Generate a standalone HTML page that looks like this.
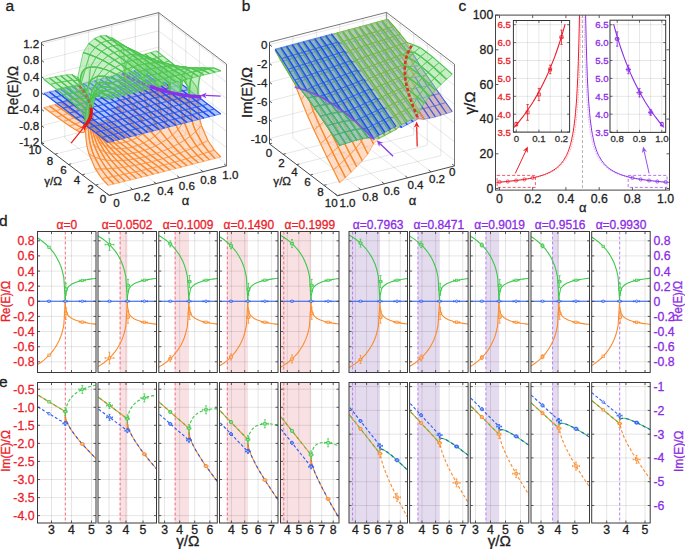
<!DOCTYPE html>
<html><head><meta charset="utf-8"><style>
html,body{margin:0;padding:0;background:#fff;}
svg{display:block;font-family:"Liberation Sans",sans-serif;} text{stroke-width:0.3px;}
</style></head><body>
<svg width="685" height="549" viewBox="0 0 685 549">
<rect width="685" height="549" fill="#fff"/>
<style>.fg{fill:#8ee08e;fill-opacity:.5}.ag{fill:none;stroke:#4cc44e;stroke-width:1.2}.gg{fill:none;stroke:#4cc44e;stroke-width:.9;stroke-opacity:.75}.fb{fill:#4a78f4;fill-opacity:.44}.ab{fill:none;stroke:#2050f0;stroke-width:1.2}.gb{fill:none;stroke:#2455ee;stroke-width:.9;stroke-opacity:.6}.fo{fill:#ffac78;fill-opacity:.42}.ao{fill:none;stroke:#fb8a2c;stroke-width:1.2}.go{fill:none;stroke:#fb8a2c;stroke-width:.9;stroke-opacity:.6}.fo2{fill:#ffac78;fill-opacity:.45}</style>
<path d="M64.9,138L64.9,36.3M88.4,132.1L88.4,30.3M111.8,126.1L111.8,24.4M135.3,120.2L135.3,18.5M41.5,142.1L158.7,112.5M41.5,125.7L158.7,96.1M41.5,109.4L158.7,79.8M41.5,93L158.7,63.4M41.5,76.7L158.7,47.1M41.5,60.4L158.7,30.8M41.5,44L158.7,14.4M212.9,155.5L212.9,53.8M199.4,145.2L199.4,43.5M185.8,134.9L185.8,33.2M172.3,124.6L172.3,22.9M226.5,164L158.7,112.5M226.5,147.6L158.7,96.1M226.5,131.3L158.7,79.8M226.5,114.9L158.7,63.4M226.5,98.6L158.7,47.1M226.5,82.3L158.7,30.8M226.5,65.9L158.7,14.4M132.7,189.5L64.9,138M156.2,183.6L88.4,132.1M179.6,177.6L111.8,126.1M203.1,171.7L135.3,120.2M95.7,185.1L212.9,155.5M82.2,174.8L199.4,145.2M68.6,164.5L185.8,134.9M55.1,154.2L172.3,124.6" stroke="#000" stroke-opacity="0.14" stroke-width="0.7" fill="none"/>
<path d="M158.7,114.3L158.7,12.6" stroke="#999" stroke-width="1.3" fill="none"/>
<path d="M41.5,42.2L158.7,12.6L226.5,64.1L226.5,165.8" stroke="#555" stroke-width="0.8" fill="none"/>
<path class="fo" d="M157.2,85.2 150.7,80.4 156.4,79.2 162.8,83.9Z"/>
<path class="ao" d="M157.2,85.2 150.7,80.4M162.8,83.9 156.4,79.2"/>
<path class="go" d="M157.2,85.2 162.8,83.9M150.7,80.4 156.4,79.2"/>
<path class="fo" d="M151.5,86.3 145.1,81.6 150.7,80.4 157.2,85.2Z"/>
<path class="ao" d="M151.5,86.3 145.1,81.6M157.2,85.2 150.7,80.4"/>
<path class="go" d="M151.5,86.3 157.2,85.2M145.1,81.6 150.7,80.4"/>
<path class="fo" d="M145.9,87.3 139.5,82.7 145.1,81.6 151.5,86.3Z"/>
<path class="ao" d="M145.9,87.3 139.5,82.7M151.5,86.3 145.1,81.6"/>
<path class="go" d="M145.9,87.3 151.5,86.3M139.5,82.7 145.1,81.6"/>
<path class="fb" d="M157.2,71.3 150.7,66.5 156.4,65 162.8,69.9Z"/>
<path class="ab" d="M157.2,71.3 150.7,66.5M162.8,69.9 156.4,65"/>
<path class="gb" d="M157.2,71.3 162.8,69.9M150.7,66.5 156.4,65"/>
<path class="fo" d="M140.3,88 133.9,83.6 139.5,82.7 145.9,87.3Z"/>
<path class="ao" d="M140.3,88 133.9,83.6M145.9,87.3 139.5,82.7"/>
<path class="go" d="M140.3,88 145.9,87.3M133.9,83.6 139.5,82.7"/>
<path class="fo" d="M117.8,120.9 111.4,115.1 117,105.9 123.4,113.7Z"/>
<path class="ao" d="M117.8,120.9 111.4,115.1M123.4,113.7 117,105.9"/>
<path class="go" d="M117.8,120.9 123.4,113.7M111.4,115.1 117,105.9"/>
<path class="fb" d="M151.5,72.8 145.1,67.9 150.7,66.5 157.2,71.3Z"/>
<path class="ab" d="M151.5,72.8 145.1,67.9M157.2,71.3 150.7,66.5"/>
<path class="gb" d="M151.5,72.8 157.2,71.3M145.1,67.9 150.7,66.5"/>
<path class="fo" d="M112.2,125.1 105.7,120 111.4,115.1 117.8,120.9Z"/>
<path class="ao" d="M112.2,125.1 105.7,120M117.8,120.9 111.4,115.1"/>
<path class="go" d="M112.2,125.1 117.8,120.9M105.7,120 111.4,115.1"/>
<path class="fo" d="M163.6,89.8 157.2,85.2 162.8,83.9 169.2,88.6Z"/>
<path class="ao" d="M163.6,89.8 157.2,85.2M169.2,88.6 162.8,83.9"/>
<path class="go" d="M163.6,89.8 169.2,88.6M157.2,85.2 162.8,83.9"/>
<path class="fo" d="M106.5,127.4 100.1,122.5 105.7,120 112.2,125.1Z"/>
<path class="ao" d="M106.5,127.4 100.1,122.5M112.2,125.1 105.7,120"/>
<path class="go" d="M106.5,127.4 112.2,125.1M100.1,122.5 105.7,120"/>
<path class="fo" d="M134.7,87.7 128.2,83.9 133.9,83.6 140.3,88Z"/>
<path class="ao" d="M134.7,87.7 128.2,83.9M140.3,88 133.9,83.6"/>
<path class="go" d="M134.7,87.7 140.3,88M128.2,83.9 133.9,83.6"/>
<path class="fb" d="M145.9,74.2 139.5,69.3 145.1,67.9 151.5,72.8Z"/>
<path class="ab" d="M145.9,74.2 139.5,69.3M151.5,72.8 145.1,67.9"/>
<path class="gb" d="M145.9,74.2 151.5,72.8M139.5,69.3 145.1,67.9"/>
<path class="fo" d="M158,90.8 151.5,86.3 157.2,85.2 163.6,89.8Z"/>
<path class="ao" d="M158,90.8 151.5,86.3M163.6,89.8 157.2,85.2"/>
<path class="go" d="M158,90.8 163.6,89.8M151.5,86.3 157.2,85.2"/>
<path class="fo" d="M123.4,113.7 117,105.9 122.6,81.2 123.4,81.1 124.1,80.8 124.5,80.3 124.9,79.5 125,78.3 125.1,75.4Z"/>
<path class="ao" d="M123.4,113.7 117,105.9M125.1,75.4 125,78.3 124.9,79.5 124.5,80.3 124.1,80.8 123.4,81.1 122.6,81.2"/>
<path class="go" d="M123.4,113.7 125.1,75.4M117,105.9 122.6,81.2"/>
<path class="fg" d="M157.2,57.5 150.7,52.5 156.4,50.9 162.8,55.9Z"/>
<path class="ag" d="M157.2,57.5 150.7,52.5M162.8,55.9 156.4,50.9"/>
<path class="gg" d="M157.2,57.5 162.8,55.9M150.7,52.5 156.4,50.9"/>
<path class="fo" d="M100.9,128 94.5,122.9 100.1,122.5 106.5,127.4Z"/>
<path class="ao" d="M100.9,128 94.5,122.9M106.5,127.4 100.1,122.5"/>
<path class="go" d="M100.9,128 106.5,127.4M94.5,122.9 100.1,122.5"/>
<path class="fb" d="M140.3,75.6 133.9,70.7 139.5,69.3 145.9,74.2Z"/>
<path class="ab" d="M140.3,75.6 133.9,70.7M145.9,74.2 139.5,69.3"/>
<path class="gb" d="M140.3,75.6 145.9,74.2M133.9,70.7 139.5,69.3"/>
<path class="fo" d="M125.1,75.4 125,78.3 124.9,79.5 124.5,80.3 124.1,80.8 123.4,81.1 122.6,81.2 128.2,83.9 134.7,87.7Z"/>
<path class="ao" d="M125.1,75.4 125,78.3 124.9,79.5 124.5,80.3 124.1,80.8 123.4,81.1 122.6,81.2M134.7,87.7 128.2,83.9"/>
<path class="go" d="M125.1,75.4 134.7,87.7M122.6,81.2 128.2,83.9"/>
<path class="fo" d="M152.4,91.7 145.9,87.3 151.5,86.3 158,90.8Z"/>
<path class="ao" d="M152.4,91.7 145.9,87.3M158,90.8 151.5,86.3"/>
<path class="go" d="M152.4,91.7 158,90.8M145.9,87.3 151.5,86.3"/>
<path class="fg" d="M151.5,59.2 145.1,54.1 150.7,52.5 157.2,57.5Z"/>
<path class="ag" d="M151.5,59.2 145.1,54.1M157.2,57.5 150.7,52.5"/>
<path class="gg" d="M151.5,59.2 157.2,57.5M145.1,54.1 150.7,52.5"/>
<path class="fb" d="M163.6,76.2 157.2,71.3 162.8,69.9 169.2,74.8Z"/>
<path class="ab" d="M163.6,76.2 157.2,71.3M169.2,74.8 162.8,69.9"/>
<path class="gb" d="M163.6,76.2 169.2,74.8M157.2,71.3 162.8,69.9"/>
<path class="fb" d="M134.7,77 128.2,72.1 133.9,70.7 140.3,75.6Z"/>
<path class="ab" d="M134.7,77 128.2,72.1M140.3,75.6 133.9,70.7"/>
<path class="gb" d="M134.7,77 140.3,75.6M128.2,72.1 133.9,70.7"/>
<path class="fo" d="M95.3,126.6 88.8,120.8 94.5,122.9 100.9,128Z"/>
<path class="ao" d="M95.3,126.6 88.8,120.8M100.9,128 94.5,122.9"/>
<path class="go" d="M95.3,126.6 100.9,128M88.8,120.8 94.5,122.9"/>
<path class="fo" d="M124.2,126.6 117.8,120.9 123.4,113.7 129.9,120.8Z"/>
<path class="ao" d="M124.2,126.6 117.8,120.9M129.9,120.8 123.4,113.7"/>
<path class="go" d="M124.2,126.6 129.9,120.8M117.8,120.9 123.4,113.7"/>
<path class="fg" d="M145.9,61.1 139.5,55.9 145.1,54.1 151.5,59.2Z"/>
<path class="ag" d="M145.9,61.1 139.5,55.9M151.5,59.2 145.1,54.1"/>
<path class="gg" d="M145.9,61.1 151.5,59.2M139.5,55.9 145.1,54.1"/>
<path class="fo" d="M146.7,92 140.3,88 145.9,87.3 152.4,91.7Z"/>
<path class="ao" d="M146.7,92 140.3,88M152.4,91.7 145.9,87.3"/>
<path class="go" d="M146.7,92 152.4,91.7M140.3,88 145.9,87.3"/>
<path class="fo" d="M118.6,130.2 112.2,125.1 117.8,120.9 124.2,126.6Z"/>
<path class="ao" d="M118.6,130.2 112.2,125.1M124.2,126.6 117.8,120.9"/>
<path class="go" d="M118.6,130.2 124.2,126.6M112.2,125.1 117.8,120.9"/>
<path class="fb" d="M158,77.7 151.5,72.8 157.2,71.3 163.6,76.2Z"/>
<path class="ab" d="M158,77.7 151.5,72.8M163.6,76.2 157.2,71.3"/>
<path class="gb" d="M158,77.7 163.6,76.2M151.5,72.8 157.2,71.3"/>
<path class="fo" d="M129.9,120.8 123.4,113.7 125.1,75.4 125.3,82.5 126,88.1 127.3,93.6 129.3,99.2 132,105.1 135.5,111.2Z"/>
<path class="ao" d="M129.9,120.8 123.4,113.7M135.5,111.2 132,105.1 129.3,99.2 127.3,93.6 126,88.1 125.3,82.5 125.1,75.4"/>
<path class="go" d="M129.9,120.8 135.5,111.2M123.4,113.7 125.1,75.4"/>
<path class="fo" d="M170.1,94.3 163.6,89.8 169.2,88.6 175.7,93.2Z"/>
<path class="ao" d="M170.1,94.3 163.6,89.8M175.7,93.2 169.2,88.6"/>
<path class="go" d="M170.1,94.3 175.7,93.2M163.6,89.8 169.2,88.6"/>
<path class="fb" d="M129,78.5 122.6,73.6 128.2,72.1 134.7,77Z"/>
<path class="ab" d="M129,78.5 122.6,73.6M134.7,77 128.2,72.1"/>
<path class="gb" d="M129,78.5 134.7,77M122.6,73.6 128.2,72.1"/>
<path class="fg" d="M140.3,63.3 133.9,57.8 139.5,55.9 145.9,61.1Z"/>
<path class="ag" d="M140.3,63.3 133.9,57.8M145.9,61.1 139.5,55.9"/>
<path class="gg" d="M140.3,63.3 145.9,61.1M133.9,57.8 139.5,55.9"/>
<path class="fo" d="M113,132.3 106.5,127.4 112.2,125.1 118.6,130.2Z"/>
<path class="ao" d="M113,132.3 106.5,127.4M118.6,130.2 112.2,125.1"/>
<path class="go" d="M113,132.3 118.6,130.2M106.5,127.4 112.2,125.1"/>
<path class="fb" d="M152.4,79.1 145.9,74.2 151.5,72.8 158,77.7Z"/>
<path class="ab" d="M152.4,79.1 145.9,74.2M158,77.7 151.5,72.8"/>
<path class="gb" d="M152.4,79.1 158,77.7M145.9,74.2 151.5,72.8"/>
<path class="fg" d="M125.1,75.4 125,72.5 124.9,71.1 124.5,69.8 124.1,68.5 123.4,67.3 122.6,66 128.2,60.4 134.7,66.4Z"/>
<path class="ag" d="M125.1,75.4 125,72.5 124.9,71.1 124.5,69.8 124.1,68.5 123.4,67.3 122.6,66M134.7,66.4 128.2,60.4"/>
<path class="gg" d="M125.1,75.4 134.7,66.4M122.6,66 128.2,60.4"/>
<path class="fo" d="M89.7,122.2 83.2,114.5 88.8,120.8 95.3,126.6Z"/>
<path class="ao" d="M89.7,122.2 83.2,114.5M95.3,126.6 88.8,120.8"/>
<path class="go" d="M89.7,122.2 95.3,126.6M83.2,114.5 88.8,120.8"/>
<path class="fo" d="M164.4,95.2 158,90.8 163.6,89.8 170.1,94.3Z"/>
<path class="ao" d="M164.4,95.2 158,90.8M170.1,94.3 163.6,89.8"/>
<path class="go" d="M164.4,95.2 170.1,94.3M158,90.8 163.6,89.8"/>
<path class="fg" d="M163.6,62.7 157.2,57.5 162.8,55.9 169.2,61Z"/>
<path class="ag" d="M163.6,62.7 157.2,57.5M169.2,61 162.8,55.9"/>
<path class="gg" d="M163.6,62.7 169.2,61M157.2,57.5 162.8,55.9"/>
<path class="fb" d="M123.4,79.9 117,75 122.6,73.6 129,78.5Z"/>
<path class="ab" d="M123.4,79.9 117,75M129,78.5 122.6,73.6"/>
<path class="gb" d="M123.4,79.9 129,78.5M117,75 122.6,73.6"/>
<path class="fg" d="M134.7,66.4 128.2,60.4 133.9,57.8 140.3,63.3Z"/>
<path class="ag" d="M134.7,66.4 128.2,60.4M140.3,63.3 133.9,57.8"/>
<path class="gg" d="M134.7,66.4 140.3,63.3M128.2,60.4 133.9,57.8"/>
<path class="fo" d="M107.4,133.1 100.9,128 106.5,127.4 113,132.3Z"/>
<path class="ao" d="M107.4,133.1 100.9,128M113,132.3 106.5,127.4"/>
<path class="go" d="M107.4,133.1 113,132.3M100.9,128 106.5,127.4"/>
<path class="fo" d="M143.8,83.9 143.6,88 143,89.5 141.8,90 140,89.9 137.7,89.1 134.7,87.7 140.3,88 146.7,92Z"/>
<path class="ao" d="M143.8,83.9 143.6,88 143,89.5 141.8,90 140,89.9 137.7,89.1 134.7,87.7M146.7,92 140.3,88"/>
<path class="go" d="M143.8,83.9 146.7,92M134.7,87.7 140.3,88"/>
<path class="fb" d="M146.7,80.5 140.3,75.6 145.9,74.2 152.4,79.1Z"/>
<path class="ab" d="M146.7,80.5 140.3,75.6M152.4,79.1 145.9,74.2"/>
<path class="gb" d="M146.7,80.5 152.4,79.1M140.3,75.6 145.9,74.2"/>
<path class="fo" d="M135.5,111.2 132,105.1 129.3,99.2 127.3,93.6 126,88.1 125.3,82.5 125.1,75.4 134.7,87.7 137.7,89.1 140,89.9 141.8,90 143,89.5 143.6,88 143.8,83.9Z"/>
<path class="ao" d="M135.5,111.2 132,105.1 129.3,99.2 127.3,93.6 126,88.1 125.3,82.5 125.1,75.4M143.8,83.9 143.6,88 143,89.5 141.8,90 140,89.9 137.7,89.1 134.7,87.7"/>
<path class="go" d="M135.5,111.2 143.8,83.9M125.1,75.4 134.7,87.7"/>
<path class="fg" d="M158,64.5 151.5,59.2 157.2,57.5 163.6,62.7Z"/>
<path class="ag" d="M158,64.5 151.5,59.2M163.6,62.7 157.2,57.5"/>
<path class="gg" d="M158,64.5 163.6,62.7M151.5,59.2 157.2,57.5"/>
<path class="fb" d="M117.8,81.3 111.4,76.4 117,75 123.4,79.9Z"/>
<path class="ab" d="M117.8,81.3 111.4,76.4M123.4,79.9 117,75"/>
<path class="gb" d="M117.8,81.3 123.4,79.9M111.4,76.4 117,75"/>
<path class="fo" d="M158.8,95.7 152.4,91.7 158,90.8 164.4,95.2Z"/>
<path class="ao" d="M158.8,95.7 152.4,91.7M164.4,95.2 158,90.8"/>
<path class="go" d="M158.8,95.7 164.4,95.2M152.4,91.7 158,90.8"/>
<path class="fb" d="M170.1,81.1 163.6,76.2 169.2,74.8 175.7,79.7Z"/>
<path class="ab" d="M170.1,81.1 163.6,76.2M175.7,79.7 169.2,74.8"/>
<path class="gb" d="M170.1,81.1 175.7,79.7M163.6,76.2 169.2,74.8"/>
<path class="fo" d="M136.3,127.5 129.9,120.8 135.5,111.2 141.9,120.7Z"/>
<path class="ao" d="M136.3,127.5 129.9,120.8M141.9,120.7 135.5,111.2"/>
<path class="go" d="M136.3,127.5 141.9,120.7M129.9,120.8 135.5,111.2"/>
<path class="fo" d="M101.7,132.2 95.3,126.6 100.9,128 107.4,133.1Z"/>
<path class="ao" d="M101.7,132.2 95.3,126.6M107.4,133.1 100.9,128"/>
<path class="go" d="M101.7,132.2 107.4,133.1M95.3,126.6 100.9,128"/>
<path class="fo" d="M130.7,132.1 124.2,126.6 129.9,120.8 136.3,127.5Z"/>
<path class="ao" d="M130.7,132.1 124.2,126.6M136.3,127.5 129.9,120.8"/>
<path class="go" d="M130.7,132.1 136.3,127.5M124.2,126.6 129.9,120.8"/>
<path class="fb" d="M141.1,81.9 134.7,77 140.3,75.6 146.7,80.5Z"/>
<path class="ab" d="M141.1,81.9 134.7,77M146.7,80.5 140.3,75.6"/>
<path class="gb" d="M141.1,81.9 146.7,80.5M134.7,77 140.3,75.6"/>
<path class="fg" d="M152.4,66.5 145.9,61.1 151.5,59.2 158,64.5Z"/>
<path class="ag" d="M152.4,66.5 145.9,61.1M158,64.5 151.5,59.2"/>
<path class="gg" d="M152.4,66.5 158,64.5M145.9,61.1 151.5,59.2"/>
<path class="fb" d="M112.2,82.7 105.7,77.8 111.4,76.4 117.8,81.3Z"/>
<path class="ab" d="M112.2,82.7 105.7,77.8M117.8,81.3 111.4,76.4"/>
<path class="gb" d="M112.2,82.7 117.8,81.3M105.7,77.8 111.4,76.4"/>
<path class="fo" d="M125,135.3 118.6,130.2 124.2,126.6 130.7,132.1Z"/>
<path class="ao" d="M125,135.3 118.6,130.2M130.7,132.1 124.2,126.6"/>
<path class="go" d="M125,135.3 130.7,132.1M118.6,130.2 124.2,126.6"/>
<path class="fb" d="M164.4,82.6 158,77.7 163.6,76.2 170.1,81.1Z"/>
<path class="ab" d="M164.4,82.6 158,77.7M170.1,81.1 163.6,76.2"/>
<path class="gb" d="M164.4,82.6 170.1,81.1M158,77.7 163.6,76.2"/>
<path class="fo" d="M153.2,95.1 146.7,92 152.4,91.7 158.8,95.7Z"/>
<path class="ao" d="M153.2,95.1 146.7,92M158.8,95.7 152.4,91.7"/>
<path class="go" d="M153.2,95.1 158.8,95.7M146.7,92 152.4,91.7"/>
<path class="fo" d="M176.5,98.5 170.1,94.3 175.7,93.2 182.1,97.6Z"/>
<path class="ao" d="M176.5,98.5 170.1,94.3M182.1,97.6 175.7,93.2"/>
<path class="go" d="M176.5,98.5 182.1,97.6M170.1,94.3 175.7,93.2"/>
<path class="fg" d="M123.4,46 117,44 122.6,66 123.4,67.3 124.1,68.5 124.5,69.8 124.9,71.1 125,72.5 125.1,75.4Z"/>
<path class="ag" d="M123.4,46 117,44M125.1,75.4 125,72.5 124.9,71.1 124.5,69.8 124.1,68.5 123.4,67.3 122.6,66"/>
<path class="gg" d="M123.4,46 125.1,75.4M117,44 122.6,66"/>
<path class="fb" d="M135.5,83.3 129,78.5 134.7,77 141.1,81.9Z"/>
<path class="ab" d="M135.5,83.3 129,78.5M141.1,81.9 134.7,77"/>
<path class="gb" d="M135.5,83.3 141.1,81.9M129,78.5 134.7,77"/>
<path class="fg" d="M146.7,69 140.3,63.3 145.9,61.1 152.4,66.5Z"/>
<path class="ag" d="M146.7,69 140.3,63.3M152.4,66.5 145.9,61.1"/>
<path class="gg" d="M146.7,69 152.4,66.5M140.3,63.3 145.9,61.1"/>
<path class="fo" d="M119.4,137.2 113,132.3 118.6,130.2 125,135.3Z"/>
<path class="ao" d="M119.4,137.2 113,132.3M125,135.3 118.6,130.2"/>
<path class="go" d="M119.4,137.2 125,135.3M113,132.3 118.6,130.2"/>
<path class="fb" d="M106.5,84.1 100.1,79.2 105.7,77.8 112.2,82.7Z"/>
<path class="ab" d="M106.5,84.1 100.1,79.2M112.2,82.7 105.7,77.8"/>
<path class="gb" d="M106.5,84.1 112.2,82.7M100.1,79.2 105.7,77.8"/>
<path class="fo" d="M141.9,120.7 135.5,111.2 143.8,83.9 143.8,89.2 144.1,93.2 144.6,97 145.3,100.7 146.3,104.4 147.6,108.1Z"/>
<path class="ao" d="M141.9,120.7 135.5,111.2M147.6,108.1 146.3,104.4 145.3,100.7 144.6,97 144.1,93.2 143.8,89.2 143.8,83.9"/>
<path class="go" d="M141.9,120.7 147.6,108.1M135.5,111.2 143.8,83.9"/>
<path class="fo" d="M96.1,129.4 89.7,122.2 95.3,126.6 101.7,132.2Z"/>
<path class="ao" d="M96.1,129.4 89.7,122.2M101.7,132.2 95.3,126.6"/>
<path class="go" d="M96.1,129.4 101.7,132.2M89.7,122.2 95.3,126.6"/>
<path class="fb" d="M158.8,84 152.4,79.1 158,77.7 164.4,82.6Z"/>
<path class="ab" d="M158.8,84 152.4,79.1M164.4,82.6 158,77.7"/>
<path class="gb" d="M158.8,84 164.4,82.6M152.4,79.1 158,77.7"/>
<path class="fo" d="M80.1,86.8 80,89.6 79.8,90.8 79.5,91.6 79.1,92.2 78.4,92.5 77.6,92.5 83.2,114.5 89.7,122.2Z"/>
<path class="ao" d="M80.1,86.8 80,89.6 79.8,90.8 79.5,91.6 79.1,92.2 78.4,92.5 77.6,92.5M89.7,122.2 83.2,114.5"/>
<path class="go" d="M80.1,86.8 89.7,122.2M77.6,92.5 83.2,114.5"/>
<path class="fg" d="M143.8,83.9 143.6,79.6 143,77.2 141.8,74.8 140,72.3 137.7,69.5 134.7,66.4 140.3,63.3 146.7,69Z"/>
<path class="ag" d="M143.8,83.9 143.6,79.6 143,77.2 141.8,74.8 140,72.3 137.7,69.5 134.7,66.4M146.7,69 140.3,63.3"/>
<path class="gg" d="M143.8,83.9 146.7,69M134.7,66.4 140.3,63.3"/>
<path class="fg" d="M170.1,68 163.6,62.7 169.2,61 175.7,66.2Z"/>
<path class="ag" d="M170.1,68 163.6,62.7M175.7,66.2 169.2,61"/>
<path class="gg" d="M170.1,68 175.7,66.2M163.6,62.7 169.2,61"/>
<path class="fb" d="M129.9,84.8 123.4,79.9 129,78.5 135.5,83.3Z"/>
<path class="ab" d="M129.9,84.8 123.4,79.9M135.5,83.3 129,78.5"/>
<path class="gb" d="M129.9,84.8 135.5,83.3M123.4,79.9 129,78.5"/>
<path class="fo" d="M170.9,99.1 164.4,95.2 170.1,94.3 176.5,98.5Z"/>
<path class="ao" d="M170.9,99.1 164.4,95.2M176.5,98.5 170.1,94.3"/>
<path class="go" d="M170.9,99.1 176.5,98.5M164.4,95.2 170.1,94.3"/>
<path class="fo" d="M147.6,108.1 146.3,104.4 145.3,100.7 144.6,97 144.1,93.2 143.8,89.2 143.8,83.9 146.7,92 153.2,95.1Z"/>
<path class="ao" d="M147.6,108.1 146.3,104.4 145.3,100.7 144.6,97 144.1,93.2 143.8,89.2 143.8,83.9M153.2,95.1 146.7,92"/>
<path class="go" d="M147.6,108.1 153.2,95.1M143.8,83.9 146.7,92"/>
<path class="fo" d="M113.8,138.1 107.4,133.1 113,132.3 119.4,137.2Z"/>
<path class="ao" d="M113.8,138.1 107.4,133.1M119.4,137.2 113,132.3"/>
<path class="go" d="M113.8,138.1 119.4,137.2M107.4,133.1 113,132.3"/>
<path class="fb" d="M100.9,85.6 94.5,80.7 100.1,79.2 106.5,84.1Z"/>
<path class="ab" d="M100.9,85.6 94.5,80.7M106.5,84.1 100.1,79.2"/>
<path class="gb" d="M100.9,85.6 106.5,84.1M94.5,80.7 100.1,79.2"/>
<path class="fg" d="M135.5,55.5 132,56.4 129.3,58.1 127.3,60.7 126,64.2 125.3,68.7 125.1,75.4 134.7,66.4 137.7,69.5 140,72.3 141.8,74.8 143,77.2 143.6,79.6 143.8,83.9Z"/>
<path class="ag" d="M135.5,55.5 132,56.4 129.3,58.1 127.3,60.7 126,64.2 125.3,68.7 125.1,75.4M143.8,83.9 143.6,79.6 143,77.2 141.8,74.8 140,72.3 137.7,69.5 134.7,66.4"/>
<path class="gg" d="M135.5,55.5 143.8,83.9M125.1,75.4 134.7,66.4"/>
<path class="fb" d="M153.2,85.4 146.7,80.5 152.4,79.1 158.8,84Z"/>
<path class="ab" d="M153.2,85.4 146.7,80.5M158.8,84 152.4,79.1"/>
<path class="gb" d="M153.2,85.4 158.8,84M146.7,80.5 152.4,79.1"/>
<path class="fg" d="M164.4,69.9 158,64.5 163.6,62.7 170.1,68Z"/>
<path class="ag" d="M164.4,69.9 158,64.5M170.1,68 163.6,62.7"/>
<path class="gg" d="M164.4,69.9 170.1,68M158,64.5 163.6,62.7"/>
<path class="fo" d="M142.7,133.9 136.3,127.5 141.9,120.7 148.4,128.9Z"/>
<path class="ao" d="M142.7,133.9 136.3,127.5M148.4,128.9 141.9,120.7"/>
<path class="go" d="M142.7,133.9 148.4,128.9M136.3,127.5 141.9,120.7"/>
<path class="fb" d="M124.2,86.2 117.8,81.3 123.4,79.9 129.9,84.8Z"/>
<path class="ab" d="M124.2,86.2 117.8,81.3M129.9,84.8 123.4,79.9"/>
<path class="gb" d="M124.2,86.2 129.9,84.8M117.8,81.3 123.4,79.9"/>
<path class="fo" d="M148.4,128.9 141.9,120.7 147.6,108.1 154,121.5Z"/>
<path class="ao" d="M148.4,128.9 141.9,120.7M154,121.5 147.6,108.1"/>
<path class="go" d="M148.4,128.9 154,121.5M141.9,120.7 147.6,108.1"/>
<path class="fb" d="M176.5,86 170.1,81.1 175.7,79.7 182.1,84.6Z"/>
<path class="ab" d="M176.5,86 170.1,81.1M182.1,84.6 175.7,79.7"/>
<path class="gb" d="M176.5,86 182.1,84.6M170.1,81.1 175.7,79.7"/>
<path class="fo" d="M165.2,98.8 158.8,95.7 164.4,95.2 170.9,99.1Z"/>
<path class="ao" d="M165.2,98.8 158.8,95.7M170.9,99.1 164.4,95.2"/>
<path class="go" d="M165.2,98.8 170.9,99.1M158.8,95.7 164.4,95.2"/>
<path class="fo" d="M137.1,137.6 130.7,132.1 136.3,127.5 142.7,133.9Z"/>
<path class="ao" d="M137.1,137.6 130.7,132.1M142.7,133.9 136.3,127.5"/>
<path class="go" d="M137.1,137.6 142.7,133.9M130.7,132.1 136.3,127.5"/>
<path class="fb" d="M95.3,87 88.8,82.1 94.5,80.7 100.9,85.6Z"/>
<path class="ab" d="M95.3,87 88.8,82.1M100.9,85.6 94.5,80.7"/>
<path class="gb" d="M95.3,87 100.9,85.6M88.8,82.1 94.5,80.7"/>
<path class="fo" d="M108.2,137.8 101.7,132.2 107.4,133.1 113.8,138.1Z"/>
<path class="ao" d="M108.2,137.8 101.7,132.2M113.8,138.1 107.4,133.1"/>
<path class="go" d="M108.2,137.8 113.8,138.1M101.7,132.2 107.4,133.1"/>
<path class="fb" d="M147.6,86.8 141.1,81.9 146.7,80.5 153.2,85.4Z"/>
<path class="ab" d="M147.6,86.8 141.1,81.9M153.2,85.4 146.7,80.5"/>
<path class="gb" d="M147.6,86.8 153.2,85.4M141.1,81.9 146.7,80.5"/>
<path class="fg" d="M158.8,72.2 152.4,66.5 158,64.5 164.4,69.9Z"/>
<path class="ag" d="M158.8,72.2 152.4,66.5M164.4,69.9 158,64.5"/>
<path class="gg" d="M158.8,72.2 164.4,69.9M152.4,66.5 158,64.5"/>
<path class="fo" d="M131.5,140.3 125,135.3 130.7,132.1 137.1,137.6Z"/>
<path class="ao" d="M131.5,140.3 125,135.3M137.1,137.6 130.7,132.1"/>
<path class="go" d="M131.5,140.3 137.1,137.6M125,135.3 130.7,132.1"/>
<path class="fb" d="M118.6,87.6 112.2,82.7 117.8,81.3 124.2,86.2Z"/>
<path class="ab" d="M118.6,87.6 112.2,82.7M124.2,86.2 117.8,81.3"/>
<path class="gb" d="M118.6,87.6 124.2,86.2M112.2,82.7 117.8,81.3"/>
<path class="fb" d="M170.9,87.4 164.4,82.6 170.1,81.1 176.5,86Z"/>
<path class="ab" d="M170.9,87.4 164.4,82.6M176.5,86 170.1,81.1"/>
<path class="gb" d="M170.9,87.4 176.5,86M164.4,82.6 170.1,81.1"/>
<path class="fo" d="M90.5,122.6 87,116.4 84.3,110.6 82.3,105 81,99.5 80.3,93.9 80.1,86.8 89.7,122.2 96.1,129.4Z"/>
<path class="ao" d="M90.5,122.6 87,116.4 84.3,110.6 82.3,105 81,99.5 80.3,93.9 80.1,86.8M96.1,129.4 89.7,122.2"/>
<path class="go" d="M90.5,122.6 96.1,129.4M80.1,86.8 89.7,122.2"/>
<path class="fo" d="M154,121.5 147.6,108.1 153.2,95.1 154.8,95.6 156.1,95.6 157,95.2 157.7,94.3 158,92.8 158.1,89.1Z"/>
<path class="ao" d="M154,121.5 147.6,108.1M158.1,89.1 158,92.8 157.7,94.3 157,95.2 156.1,95.6 154.8,95.6 153.2,95.1"/>
<path class="go" d="M154,121.5 158.1,89.1M147.6,108.1 153.2,95.1"/>
<path class="fb" d="M89.7,88.4 83.2,83.5 88.8,82.1 95.3,87Z"/>
<path class="ab" d="M89.7,88.4 83.2,83.5M95.3,87 88.8,82.1"/>
<path class="gb" d="M89.7,88.4 95.3,87M83.2,83.5 88.8,82.1"/>
<path class="fg" d="M153.2,75.6 146.7,69 152.4,66.5 158.8,72.2Z"/>
<path class="ag" d="M153.2,75.6 146.7,69M158.8,72.2 152.4,66.5"/>
<path class="gg" d="M153.2,75.6 158.8,72.2M146.7,69 152.4,66.5"/>
<path class="fo" d="M78.4,101.9 72,98.1 77.6,92.5 78.4,92.5 79.1,92.2 79.5,91.6 79.8,90.8 80,89.6 80.1,86.8Z"/>
<path class="ao" d="M78.4,101.9 72,98.1M80.1,86.8 80,89.6 79.8,90.8 79.5,91.6 79.1,92.2 78.4,92.5 77.6,92.5"/>
<path class="go" d="M78.4,101.9 80.1,86.8M72,98.1 77.6,92.5"/>
<path class="fb" d="M141.9,88.2 135.5,83.3 141.1,81.9 147.6,86.8Z"/>
<path class="ab" d="M141.9,88.2 135.5,83.3M147.6,86.8 141.1,81.9"/>
<path class="gb" d="M141.9,88.2 147.6,86.8M135.5,83.3 141.1,81.9"/>
<path class="fo" d="M158.1,89.1 158,92.8 157.7,94.3 157,95.2 156.1,95.6 154.8,95.6 153.2,95.1 158.8,95.7 165.2,98.8Z"/>
<path class="ao" d="M158.1,89.1 158,92.8 157.7,94.3 157,95.2 156.1,95.6 154.8,95.6 153.2,95.1M165.2,98.8 158.8,95.7"/>
<path class="go" d="M158.1,89.1 165.2,98.8M153.2,95.1 158.8,95.7"/>
<path class="fo" d="M182.9,102.1 176.5,98.5 182.1,97.6 188.6,101.6Z"/>
<path class="ao" d="M182.9,102.1 176.5,98.5M188.6,101.6 182.1,97.6"/>
<path class="go" d="M182.9,102.1 188.6,101.6M176.5,98.5 182.1,97.6"/>
<path class="fo" d="M125.9,142.1 119.4,137.2 125,135.3 131.5,140.3Z"/>
<path class="ao" d="M125.9,142.1 119.4,137.2M131.5,140.3 125,135.3"/>
<path class="go" d="M125.9,142.1 131.5,140.3M119.4,137.2 125,135.3"/>
<path class="fo" d="M102.5,136.1 96.1,129.4 101.7,132.2 108.2,137.8Z"/>
<path class="ao" d="M102.5,136.1 96.1,129.4M108.2,137.8 101.7,132.2"/>
<path class="go" d="M102.5,136.1 108.2,137.8M96.1,129.4 101.7,132.2"/>
<path class="fb" d="M113,89 106.5,84.1 112.2,82.7 118.6,87.6Z"/>
<path class="ab" d="M113,89 106.5,84.1M118.6,87.6 112.2,82.7"/>
<path class="gb" d="M113,89 118.6,87.6M106.5,84.1 112.2,82.7"/>
<path class="fb" d="M165.2,88.9 158.8,84 164.4,82.6 170.9,87.4Z"/>
<path class="ab" d="M165.2,88.9 158.8,84M170.9,87.4 164.4,82.6"/>
<path class="gb" d="M165.2,88.9 170.9,87.4M158.8,84 164.4,82.6"/>
<path class="fo" d="M72.8,105 66.3,100.6 72,98.1 78.4,101.9Z"/>
<path class="ao" d="M72.8,105 66.3,100.6M78.4,101.9 72,98.1"/>
<path class="go" d="M72.8,105 78.4,101.9M66.3,100.6 72,98.1"/>
<path class="fb" d="M84,89.8 77.6,84.9 83.2,83.5 89.7,88.4Z"/>
<path class="ab" d="M84,89.8 77.6,84.9M89.7,88.4 83.2,83.5"/>
<path class="gb" d="M84,89.8 89.7,88.4M77.6,84.9 83.2,83.5"/>
<path class="fg" d="M176.5,73.5 170.1,68 175.7,66.2 182.1,71.6Z"/>
<path class="ag" d="M176.5,73.5 170.1,68M182.1,71.6 175.7,66.2"/>
<path class="gg" d="M176.5,73.5 182.1,71.6M170.1,68 175.7,66.2"/>
<path class="fg" d="M117.8,41.7 111.4,37.7 117,44 123.4,46Z"/>
<path class="ag" d="M117.8,41.7 111.4,37.7M123.4,46 117,44"/>
<path class="gg" d="M117.8,41.7 123.4,46M111.4,37.7 117,44"/>
<path class="fb" d="M136.3,89.7 129.9,84.8 135.5,83.3 141.9,88.2Z"/>
<path class="ab" d="M136.3,89.7 129.9,84.8M141.9,88.2 135.5,83.3"/>
<path class="gb" d="M136.3,89.7 141.9,88.2M129.9,84.8 135.5,83.3"/>
<path class="fg" d="M129.9,48.7 123.4,46 125.1,75.4 125.3,68.7 126,64.2 127.3,60.7 129.3,58.1 132,56.4 135.5,55.5Z"/>
<path class="ag" d="M129.9,48.7 123.4,46M135.5,55.5 132,56.4 129.3,58.1 127.3,60.7 126,64.2 125.3,68.7 125.1,75.4"/>
<path class="gg" d="M129.9,48.7 135.5,55.5M123.4,46 125.1,75.4"/>
<path class="fg" d="M147.6,65.5 146.3,67.3 145.3,69.5 144.6,72.1 144.1,75.2 143.8,78.8 143.8,83.9 146.7,69 153.2,75.6Z"/>
<path class="ag" d="M147.6,65.5 146.3,67.3 145.3,69.5 144.6,72.1 144.1,75.2 143.8,78.8 143.8,83.9M153.2,75.6 146.7,69"/>
<path class="gg" d="M147.6,65.5 153.2,75.6M143.8,83.9 146.7,69"/>
<path class="fo" d="M120.2,143.1 113.8,138.1 119.4,137.2 125.9,142.1Z"/>
<path class="ao" d="M120.2,143.1 113.8,138.1M125.9,142.1 119.4,137.2"/>
<path class="go" d="M120.2,143.1 125.9,142.1M113.8,138.1 119.4,137.2"/>
<path class="fo" d="M154.8,136.2 148.4,128.9 154,121.5 160.4,131.2Z"/>
<path class="ao" d="M154.8,136.2 148.4,128.9M160.4,131.2 154,121.5"/>
<path class="go" d="M154.8,136.2 160.4,131.2M148.4,128.9 154,121.5"/>
<path class="fb" d="M107.4,90.4 100.9,85.6 106.5,84.1 113,89Z"/>
<path class="ab" d="M107.4,90.4 100.9,85.6M113,89 106.5,84.1"/>
<path class="gb" d="M107.4,90.4 113,89M100.9,85.6 106.5,84.1"/>
<path class="fo" d="M67.2,107.2 60.7,102.6 66.3,100.6 72.8,105Z"/>
<path class="ao" d="M67.2,107.2 60.7,102.6M72.8,105 66.3,100.6"/>
<path class="go" d="M67.2,107.2 72.8,105M60.7,102.6 66.3,100.6"/>
<path class="fo" d="M149.2,140 142.7,133.9 148.4,128.9 154.8,136.2Z"/>
<path class="ao" d="M149.2,140 142.7,133.9M154.8,136.2 148.4,128.9"/>
<path class="go" d="M149.2,140 154.8,136.2M142.7,133.9 148.4,128.9"/>
<path class="fb" d="M159.6,90.3 153.2,85.4 158.8,84 165.2,88.9Z"/>
<path class="ab" d="M159.6,90.3 153.2,85.4M165.2,88.9 158.8,84"/>
<path class="gb" d="M159.6,90.3 165.2,88.9M153.2,85.4 158.8,84"/>
<path class="fg" d="M170.9,75.8 164.4,69.9 170.1,68 176.5,73.5Z"/>
<path class="ag" d="M170.9,75.8 164.4,69.9M176.5,73.5 170.1,68"/>
<path class="gg" d="M170.9,75.8 176.5,73.5M164.4,69.9 170.1,68"/>
<path class="fb" d="M78.4,91.2 72,86.3 77.6,84.9 84,89.8Z"/>
<path class="ab" d="M78.4,91.2 72,86.3M84,89.8 77.6,84.9"/>
<path class="gb" d="M78.4,91.2 84,89.8M72,86.3 77.6,84.9"/>
<path class="fo" d="M160.4,131.2 154,121.5 158.1,89.1 158.3,96.5 158.8,102.3 159.8,107.7 161.4,113.2 163.4,118.7 166.1,124.3Z"/>
<path class="ao" d="M160.4,131.2 154,121.5M166.1,124.3 163.4,118.7 161.4,113.2 159.8,107.7 158.8,102.3 158.3,96.5 158.1,89.1"/>
<path class="go" d="M160.4,131.2 166.1,124.3M154,121.5 158.1,89.1"/>
<path class="fb" d="M130.7,91.1 124.2,86.2 129.9,84.8 136.3,89.7Z"/>
<path class="ab" d="M130.7,91.1 124.2,86.2M136.3,89.7 129.9,84.8"/>
<path class="gb" d="M130.7,91.1 136.3,89.7M124.2,86.2 129.9,84.8"/>
<path class="fo" d="M180.2,94.6 180.1,99.2 179.4,100.9 178.2,101.6 176.4,101.5 174,100.6 170.9,99.1 176.5,98.5 182.9,102.1Z"/>
<path class="ao" d="M180.2,94.6 180.1,99.2 179.4,100.9 178.2,101.6 176.4,101.5 174,100.6 170.9,99.1M182.9,102.1 176.5,98.5"/>
<path class="go" d="M180.2,94.6 182.9,102.1M170.9,99.1 176.5,98.5"/>
<path class="fo" d="M143.6,143 137.1,137.6 142.7,133.9 149.2,140Z"/>
<path class="ao" d="M143.6,143 137.1,137.6M149.2,140 142.7,133.9"/>
<path class="go" d="M143.6,143 149.2,140M137.1,137.6 142.7,133.9"/>
<path class="fb" d="M182.9,90.9 176.5,86 182.1,84.6 188.6,89.5Z"/>
<path class="ab" d="M182.9,90.9 176.5,86M188.6,89.5 182.1,84.6"/>
<path class="gb" d="M182.9,90.9 188.6,89.5M176.5,86 182.1,84.6"/>
<path class="fo" d="M96.9,132.1 90.5,122.6 96.1,129.4 102.5,136.1Z"/>
<path class="ao" d="M96.9,132.1 90.5,122.6M102.5,136.1 96.1,129.4"/>
<path class="go" d="M96.9,132.1 102.5,136.1M90.5,122.6 96.1,129.4"/>
<path class="fo" d="M114.6,143.3 108.2,137.8 113.8,138.1 120.2,143.1Z"/>
<path class="ao" d="M114.6,143.3 108.2,137.8M120.2,143.1 113.8,138.1"/>
<path class="go" d="M114.6,143.3 120.2,143.1M108.2,137.8 113.8,138.1"/>
<path class="fb" d="M101.7,91.9 95.3,87 100.9,85.6 107.4,90.4Z"/>
<path class="ab" d="M101.7,91.9 95.3,87M107.4,90.4 100.9,85.6"/>
<path class="gb" d="M101.7,91.9 107.4,90.4M95.3,87 100.9,85.6"/>
<path class="fo" d="M61.5,109 55.1,104.4 60.7,102.6 67.2,107.2Z"/>
<path class="ao" d="M61.5,109 55.1,104.4M67.2,107.2 60.7,102.6"/>
<path class="go" d="M61.5,109 67.2,107.2M55.1,104.4 60.7,102.6"/>
<path class="fg" d="M78.4,80.6 72,74.6 77.6,77.3 78.4,78.6 79.1,79.9 79.5,81.1 79.8,82.4 80,83.9 80.1,86.8Z"/>
<path class="ag" d="M78.4,80.6 72,74.6M80.1,86.8 80,83.9 79.8,82.4 79.5,81.1 79.1,79.9 78.4,78.6 77.6,77.3"/>
<path class="gg" d="M78.4,80.6 80.1,86.8M72,74.6 77.6,77.3"/>
<path class="fg" d="M165.2,78.9 158.8,72.2 164.4,69.9 170.9,75.8Z"/>
<path class="ag" d="M165.2,78.9 158.8,72.2M170.9,75.8 164.4,69.9"/>
<path class="gg" d="M165.2,78.9 170.9,75.8M158.8,72.2 164.4,69.9"/>
<path class="fb" d="M154,91.7 147.6,86.8 153.2,85.4 159.6,90.3Z"/>
<path class="ab" d="M154,91.7 147.6,86.8M159.6,90.3 153.2,85.4"/>
<path class="gb" d="M154,91.7 159.6,90.3M147.6,86.8 153.2,85.4"/>
<path class="fg" d="M158.1,89.1 158,85.3 157.7,83.3 157,81.5 156.1,79.6 154.8,77.7 153.2,75.6 158.8,72.2 165.2,78.9Z"/>
<path class="ag" d="M158.1,89.1 158,85.3 157.7,83.3 157,81.5 156.1,79.6 154.8,77.7 153.2,75.6M165.2,78.9 158.8,72.2"/>
<path class="gg" d="M158.1,89.1 165.2,78.9M153.2,75.6 158.8,72.2"/>
<path class="fg" d="M112.2,40.3 105.7,35.6 111.4,37.7 117.8,41.7Z"/>
<path class="ag" d="M112.2,40.3 105.7,35.6M117.8,41.7 111.4,37.7"/>
<path class="gg" d="M112.2,40.3 117.8,41.7M105.7,35.6 111.4,37.7"/>
<path class="fb" d="M72.8,92.7 66.3,87.8 72,86.3 78.4,91.2Z"/>
<path class="ab" d="M72.8,92.7 66.3,87.8M78.4,91.2 72,86.3"/>
<path class="gb" d="M72.8,92.7 78.4,91.2M66.3,87.8 72,86.3"/>
<path class="fo" d="M137.9,145.3 131.5,140.3 137.1,137.6 143.6,143Z"/>
<path class="ao" d="M137.9,145.3 131.5,140.3M143.6,143 137.1,137.6"/>
<path class="go" d="M137.9,145.3 143.6,143M131.5,140.3 137.1,137.6"/>
<path class="fb" d="M125,92.5 118.6,87.6 124.2,86.2 130.7,91.1Z"/>
<path class="ab" d="M125,92.5 118.6,87.6M130.7,91.1 124.2,86.2"/>
<path class="gb" d="M125,92.5 130.7,91.1M118.6,87.6 124.2,86.2"/>
<path class="fo" d="M166.1,124.3 163.4,118.7 161.4,113.2 159.8,107.7 158.8,102.3 158.3,96.5 158.1,89.1 165.2,98.8 166.8,99.2 168,99.2 168.9,98.7 169.5,97.8 169.9,96.3 169.9,92.4Z"/>
<path class="ao" d="M166.1,124.3 163.4,118.7 161.4,113.2 159.8,107.7 158.8,102.3 158.3,96.5 158.1,89.1M169.9,92.4 169.9,96.3 169.5,97.8 168.9,98.7 168,99.2 166.8,99.2 165.2,98.8"/>
<path class="go" d="M166.1,124.3 169.9,92.4M158.1,89.1 165.2,98.8"/>
<path class="fb" d="M177.3,92.3 170.9,87.4 176.5,86 182.9,90.9Z"/>
<path class="ab" d="M177.3,92.3 170.9,87.4M182.9,90.9 176.5,86"/>
<path class="gb" d="M177.3,92.3 182.9,90.9M170.9,87.4 176.5,86"/>
<path class="fg" d="M80.1,86.8 80,83.9 79.8,82.4 79.5,81.1 79.1,79.9 78.4,78.6 77.6,77.3 83.2,52.5 89.7,54.6Z"/>
<path class="ag" d="M80.1,86.8 80,83.9 79.8,82.4 79.5,81.1 79.1,79.9 78.4,78.6 77.6,77.3M89.7,54.6 83.2,52.5"/>
<path class="gg" d="M80.1,86.8 89.7,54.6M77.6,77.3 83.2,52.5"/>
<path class="fb" d="M96.1,93.3 89.7,88.4 95.3,87 101.7,91.9Z"/>
<path class="ab" d="M96.1,93.3 89.7,88.4M101.7,91.9 95.3,87"/>
<path class="gb" d="M96.1,93.3 101.7,91.9M89.7,88.4 95.3,87"/>
<path class="fo" d="M169.9,92.4 169.9,96.3 169.5,97.8 168.9,98.7 168,99.2 166.8,99.2 165.2,98.8 170.9,99.1 174,100.6 176.4,101.5 178.2,101.6 179.4,100.9 180.1,99.2 180.2,94.6Z"/>
<path class="ao" d="M169.9,92.4 169.9,96.3 169.5,97.8 168.9,98.7 168,99.2 166.8,99.2 165.2,98.8M180.2,94.6 180.1,99.2 179.4,100.9 178.2,101.6 176.4,101.5 174,100.6 170.9,99.1"/>
<path class="go" d="M169.9,92.4 180.2,94.6M165.2,98.8 170.9,99.1"/>
<path class="fo" d="M55.9,110.7 49.5,106 55.1,104.4 61.5,109Z"/>
<path class="ao" d="M55.9,110.7 49.5,106M61.5,109 55.1,104.4"/>
<path class="go" d="M55.9,110.7 61.5,109M49.5,106 55.1,104.4"/>
<path class="fo" d="M87.5,98.1 87.3,102.2 86.7,103.7 85.5,104.3 83.8,104.1 81.4,103.3 78.4,101.9 80.1,86.8 80.3,93.9 81,99.5 82.3,105 84.3,110.6 87,116.4 90.5,122.6Z"/>
<path class="ao" d="M87.5,98.1 87.3,102.2 86.7,103.7 85.5,104.3 83.8,104.1 81.4,103.3 78.4,101.9M90.5,122.6 87,116.4 84.3,110.6 82.3,105 81,99.5 80.3,93.9 80.1,86.8"/>
<path class="go" d="M87.5,98.1 90.5,122.6M78.4,101.9 80.1,86.8"/>
<path class="fb" d="M148.4,93.1 141.9,88.2 147.6,86.8 154,91.7Z"/>
<path class="ab" d="M148.4,93.1 141.9,88.2M154,91.7 147.6,86.8"/>
<path class="gb" d="M148.4,93.1 154,91.7M141.9,88.2 147.6,86.8"/>
<path class="fo" d="M109,142.4 102.5,136.1 108.2,137.8 114.6,143.3Z"/>
<path class="ao" d="M109,142.4 102.5,136.1M114.6,143.3 108.2,137.8"/>
<path class="go" d="M109,142.4 114.6,143.3M102.5,136.1 108.2,137.8"/>
<path class="fo" d="M132.3,147 125.9,142.1 131.5,140.3 137.9,145.3Z"/>
<path class="ao" d="M132.3,147 125.9,142.1M137.9,145.3 131.5,140.3"/>
<path class="go" d="M132.3,147 137.9,145.3M125.9,142.1 131.5,140.3"/>
<path class="fb" d="M67.2,94.1 60.7,89.2 66.3,87.8 72.8,92.7Z"/>
<path class="ab" d="M67.2,94.1 60.7,89.2M72.8,92.7 66.3,87.8"/>
<path class="gb" d="M67.2,94.1 72.8,92.7M60.7,89.2 66.3,87.8"/>
<path class="fg" d="M141.9,55.8 135.5,55.5 143.8,83.9 143.8,78.8 144.1,75.2 144.6,72.1 145.3,69.5 146.3,67.3 147.6,65.5Z"/>
<path class="ag" d="M141.9,55.8 135.5,55.5M147.6,65.5 146.3,67.3 145.3,69.5 144.6,72.1 144.1,75.2 143.8,78.8 143.8,83.9"/>
<path class="gg" d="M141.9,55.8 147.6,65.5M135.5,55.5 143.8,83.9"/>
<path class="fo" d="M166.9,139.4 160.4,131.2 166.1,124.3 172.5,135Z"/>
<path class="ao" d="M166.9,139.4 160.4,131.2M172.5,135 166.1,124.3"/>
<path class="go" d="M166.9,139.4 172.5,135M160.4,131.2 166.1,124.3"/>
<path class="fb" d="M119.4,93.9 113,89 118.6,87.6 125,92.5Z"/>
<path class="ab" d="M119.4,93.9 113,89M125,92.5 118.6,87.6"/>
<path class="gb" d="M119.4,93.9 125,92.5M113,89 118.6,87.6"/>
<path class="fg" d="M106.5,40.8 100.1,35.9 105.7,35.6 112.2,40.3Z"/>
<path class="ag" d="M106.5,40.8 100.1,35.9M112.2,40.3 105.7,35.6"/>
<path class="gg" d="M106.5,40.8 112.2,40.3M100.1,35.9 105.7,35.6"/>
<path class="fb" d="M171.7,93.8 165.2,88.9 170.9,87.4 177.3,92.3Z"/>
<path class="ab" d="M171.7,93.8 165.2,88.9M177.3,92.3 170.9,87.4"/>
<path class="gb" d="M171.7,93.8 177.3,92.3M165.2,88.9 170.9,87.4"/>
<path class="fg" d="M182.9,79.7 176.5,73.5 182.1,71.6 188.6,77.4Z"/>
<path class="ag" d="M182.9,79.7 176.5,73.5M188.6,77.4 182.1,71.6"/>
<path class="gg" d="M182.9,79.7 188.6,77.4M176.5,73.5 182.1,71.6"/>
<path class="fo" d="M161.2,142.9 154.8,136.2 160.4,131.2 166.9,139.4Z"/>
<path class="ao" d="M161.2,142.9 154.8,136.2M166.9,139.4 160.4,131.2"/>
<path class="go" d="M161.2,142.9 166.9,139.4M154.8,136.2 160.4,131.2"/>
<path class="fb" d="M90.5,94.7 84,89.8 89.7,88.4 96.1,93.3Z"/>
<path class="ab" d="M90.5,94.7 84,89.8M96.1,93.3 89.7,88.4"/>
<path class="gb" d="M90.5,94.7 96.1,93.3M84,89.8 89.7,88.4"/>
<path class="fo" d="M50.3,112.3 43.8,107.6 49.5,106 55.9,110.7Z"/>
<path class="ao" d="M50.3,112.3 43.8,107.6M55.9,110.7 49.5,106"/>
<path class="go" d="M50.3,112.3 55.9,110.7M43.8,107.6 49.5,106"/>
<path class="fo" d="M172.5,135 166.1,124.3 169.9,92.4 170.1,100.3 170.7,106.4 171.7,112.2 173.3,117.9 175.4,123.7 178.1,129.5Z"/>
<path class="ao" d="M172.5,135 166.1,124.3M178.1,129.5 175.4,123.7 173.3,117.9 171.7,112.2 170.7,106.4 170.1,100.3 169.9,92.4"/>
<path class="go" d="M172.5,135 178.1,129.5M166.1,124.3 169.9,92.4"/>
<path class="fb" d="M142.7,94.5 136.3,89.7 141.9,88.2 148.4,93.1Z"/>
<path class="ab" d="M142.7,94.5 136.3,89.7M148.4,93.1 141.9,88.2"/>
<path class="gb" d="M142.7,94.5 148.4,93.1M136.3,89.7 141.9,88.2"/>
<path class="fo" d="M126.7,148.1 120.2,143.1 125.9,142.1 132.3,147Z"/>
<path class="ao" d="M126.7,148.1 120.2,143.1M132.3,147 125.9,142.1"/>
<path class="go" d="M126.7,148.1 132.3,147M120.2,143.1 125.9,142.1"/>
<path class="fb" d="M61.5,95.5 55.1,90.6 60.7,89.2 67.2,94.1Z"/>
<path class="ab" d="M61.5,95.5 55.1,90.6M67.2,94.1 60.7,89.2"/>
<path class="gb" d="M61.5,95.5 67.2,94.1M55.1,90.6 60.7,89.2"/>
<path class="fg" d="M124.2,45.8 117.8,41.7 123.4,46 129.9,48.7Z"/>
<path class="ag" d="M124.2,45.8 117.8,41.7M129.9,48.7 123.4,46"/>
<path class="gg" d="M124.2,45.8 129.9,48.7M117.8,41.7 123.4,46"/>
<path class="fg" d="M72.8,80.3 66.3,74.9 72,74.6 78.4,80.6Z"/>
<path class="ag" d="M72.8,80.3 66.3,74.9M78.4,80.6 72,74.6"/>
<path class="gg" d="M72.8,80.3 78.4,80.6M66.3,74.9 72,74.6"/>
<path class="fo" d="M155.6,145.8 149.2,140 154.8,136.2 161.2,142.9Z"/>
<path class="ao" d="M155.6,145.8 149.2,140M161.2,142.9 154.8,136.2"/>
<path class="go" d="M155.6,145.8 161.2,142.9M149.2,140 154.8,136.2"/>
<path class="fg" d="M154,61.9 147.6,65.5 153.2,75.6 154.8,77.7 156.1,79.6 157,81.5 157.7,83.3 158,85.3 158.1,89.1Z"/>
<path class="ag" d="M154,61.9 147.6,65.5M158.1,89.1 158,85.3 157.7,83.3 157,81.5 156.1,79.6 154.8,77.7 153.2,75.6"/>
<path class="gg" d="M154,61.9 158.1,89.1M147.6,65.5 153.2,75.6"/>
<path class="fb" d="M113.8,95.3 107.4,90.4 113,89 119.4,93.9Z"/>
<path class="ab" d="M113.8,95.3 107.4,90.4M119.4,93.9 113,89"/>
<path class="gb" d="M113.8,95.3 119.4,93.9M107.4,90.4 113,89"/>
<path class="fg" d="M180.2,94.6 180.1,89.7 179.4,87 178.2,84.5 176.4,81.8 174,78.9 170.9,75.8 176.5,73.5 182.9,79.7Z"/>
<path class="ag" d="M180.2,94.6 180.1,89.7 179.4,87 178.2,84.5 176.4,81.8 174,78.9 170.9,75.8M182.9,79.7 176.5,73.5"/>
<path class="gg" d="M180.2,94.6 182.9,79.7M170.9,75.8 176.5,73.5"/>
<path class="fg" d="M100.9,43.1 94.5,38.4 100.1,35.9 106.5,40.8Z"/>
<path class="ag" d="M100.9,43.1 94.5,38.4M106.5,40.8 100.1,35.9"/>
<path class="gg" d="M100.9,43.1 106.5,40.8M94.5,38.4 100.1,35.9"/>
<path class="fb" d="M166.1,95.2 159.6,90.3 165.2,88.9 171.7,93.8Z"/>
<path class="ab" d="M166.1,95.2 159.6,90.3M171.7,93.8 165.2,88.9"/>
<path class="gb" d="M166.1,95.2 171.7,93.8M159.6,90.3 165.2,88.9"/>
<path class="fo" d="M189.5,95.9 189.4,100.3 188.9,102 188.1,102.9 186.8,103.2 185.1,102.9 182.9,102.1 188.6,101.6 191.7,103.2 194.1,104.1 196,104.1 197.2,103.4 197.8,101.6 198,96.7Z"/>
<path class="ao" d="M189.5,95.9 189.4,100.3 188.9,102 188.1,102.9 186.8,103.2 185.1,102.9 182.9,102.1M198,96.7 197.8,101.6 197.2,103.4 196,104.1 194.1,104.1 191.7,103.2 188.6,101.6"/>
<path class="go" d="M189.5,95.9 198,96.7M182.9,102.1 188.6,101.6"/>
<path class="fo" d="M73.6,111.6 67.2,107.2 72.8,105 79.2,109Z"/>
<path class="ao" d="M73.6,111.6 67.2,107.2M79.2,109 72.8,105"/>
<path class="go" d="M73.6,111.6 79.2,109M67.2,107.2 72.8,105"/>
<path class="fg" d="M169.9,92.4 169.9,88.5 169.5,86.5 168.9,84.6 168,82.8 166.8,80.9 165.2,78.9 170.9,75.8 174,78.9 176.4,81.8 178.2,84.5 179.4,87 180.1,89.7 180.2,94.6Z"/>
<path class="ag" d="M169.9,92.4 169.9,88.5 169.5,86.5 168.9,84.6 168,82.8 166.8,80.9 165.2,78.9M180.2,94.6 180.1,89.7 179.4,87 178.2,84.5 176.4,81.8 174,78.9 170.9,75.8"/>
<path class="gg" d="M169.9,92.4 180.2,94.6M165.2,78.9 170.9,75.8"/>
<path class="fo" d="M79.2,109 72.8,105 78.4,101.9 81.4,103.3 83.8,104.1 85.5,104.3 86.7,103.7 87.3,102.2 87.5,98.1Z"/>
<path class="ao" d="M79.2,109 72.8,105M87.5,98.1 87.3,102.2 86.7,103.7 85.5,104.3 83.8,104.1 81.4,103.3 78.4,101.9"/>
<path class="go" d="M79.2,109 87.5,98.1M72.8,105 78.4,101.9"/>
<path class="fo" d="M103.4,140.2 96.9,132.1 102.5,136.1 109,142.4Z"/>
<path class="ao" d="M103.4,140.2 96.9,132.1M109,142.4 102.5,136.1"/>
<path class="go" d="M103.4,140.2 109,142.4M96.9,132.1 102.5,136.1"/>
<path class="fb" d="M84.9,96.1 78.4,91.2 84,89.8 90.5,94.7Z"/>
<path class="ab" d="M84.9,96.1 78.4,91.2M90.5,94.7 84,89.8"/>
<path class="gb" d="M84.9,96.1 90.5,94.7M78.4,91.2 84,89.8"/>
<path class="fo" d="M178.1,129.5 175.4,123.7 173.3,117.9 171.7,112.2 170.7,106.4 170.1,100.3 169.9,92.4 180.2,94.6 180.3,100.6 180.6,105.2 181,109.5 181.7,113.6 182.6,117.6 183.8,121.6Z"/>
<path class="ao" d="M178.1,129.5 175.4,123.7 173.3,117.9 171.7,112.2 170.7,106.4 170.1,100.3 169.9,92.4M183.8,121.6 182.6,117.6 181.7,113.6 181,109.5 180.6,105.2 180.3,100.6 180.2,94.6"/>
<path class="go" d="M178.1,129.5 183.8,121.6M169.9,92.4 180.2,94.6"/>
<path class="fb" d="M137.1,96 130.7,91.1 136.3,89.7 142.7,94.5Z"/>
<path class="ab" d="M137.1,96 130.7,91.1M142.7,94.5 136.3,89.7"/>
<path class="gb" d="M137.1,96 142.7,94.5M130.7,91.1 136.3,89.7"/>
<path class="fo" d="M150,148.3 143.6,143 149.2,140 155.6,145.8Z"/>
<path class="ao" d="M150,148.3 143.6,143M155.6,145.8 149.2,140"/>
<path class="go" d="M150,148.3 155.6,145.8M143.6,143 149.2,140"/>
<path class="fo" d="M183.8,121.6 182.6,117.6 181.7,113.6 181,109.5 180.6,105.2 180.3,100.6 180.2,94.6 182.9,102.1 185.1,102.9 186.8,103.2 188.1,102.9 188.9,102 189.4,100.3 189.5,95.9Z"/>
<path class="ao" d="M183.8,121.6 182.6,117.6 181.7,113.6 181,109.5 180.6,105.2 180.3,100.6 180.2,94.6M189.5,95.9 189.4,100.3 188.9,102 188.1,102.9 186.8,103.2 185.1,102.9 182.9,102.1"/>
<path class="go" d="M183.8,121.6 189.5,95.9M180.2,94.6 182.9,102.1"/>
<path class="fb" d="M189.4,95.8 182.9,90.9 188.6,89.5 195,94.4Z"/>
<path class="ab" d="M189.4,95.8 182.9,90.9M195,94.4 188.6,89.5"/>
<path class="gb" d="M189.4,95.8 195,94.4M182.9,90.9 188.6,89.5"/>
<path class="fg" d="M95.3,47.4 88.8,43.4 94.5,38.4 100.9,43.1Z"/>
<path class="ag" d="M95.3,47.4 88.8,43.4M100.9,43.1 94.5,38.4"/>
<path class="gg" d="M95.3,47.4 100.9,43.1M88.8,43.4 94.5,38.4"/>
<path class="fb" d="M55.9,96.9 49.5,92 55.1,90.6 61.5,95.5Z"/>
<path class="ab" d="M55.9,96.9 49.5,92M61.5,95.5 55.1,90.6"/>
<path class="gb" d="M55.9,96.9 61.5,95.5M49.5,92 55.1,90.6"/>
<path class="fo" d="M91.3,122.3 90,118.6 89.1,114.9 88.3,111.2 87.8,107.4 87.6,103.4 87.5,98.1 90.5,122.6 96.9,132.1Z"/>
<path class="ao" d="M91.3,122.3 90,118.6 89.1,114.9 88.3,111.2 87.8,107.4 87.6,103.4 87.5,98.1M96.9,132.1 90.5,122.6"/>
<path class="go" d="M91.3,122.3 96.9,132.1M87.5,98.1 90.5,122.6"/>
<path class="fo" d="M121.1,148.7 114.6,143.3 120.2,143.1 126.7,148.1Z"/>
<path class="ao" d="M121.1,148.7 114.6,143.3M126.7,148.1 120.2,143.1"/>
<path class="go" d="M121.1,148.7 126.7,148.1M114.6,143.3 120.2,143.1"/>
<path class="fg" d="M89.7,54.6 83.2,52.5 88.8,43.4 95.3,47.4Z"/>
<path class="ag" d="M89.7,54.6 83.2,52.5M95.3,47.4 88.8,43.4"/>
<path class="gg" d="M89.7,54.6 95.3,47.4M83.2,52.5 88.8,43.4"/>
<path class="fo" d="M184.6,140.2 178.1,129.5 183.8,121.6 190.2,136.3Z"/>
<path class="ao" d="M184.6,140.2 178.1,129.5M190.2,136.3 183.8,121.6"/>
<path class="go" d="M184.6,140.2 190.2,136.3M178.1,129.5 183.8,121.6"/>
<path class="fb" d="M108.2,96.8 101.7,91.9 107.4,90.4 113.8,95.3Z"/>
<path class="ab" d="M108.2,96.8 101.7,91.9M113.8,95.3 107.4,90.4"/>
<path class="gb" d="M108.2,96.8 113.8,95.3M101.7,91.9 107.4,90.4"/>
<path class="fg" d="M67.2,81 60.7,75.8 66.3,74.9 72.8,80.3Z"/>
<path class="ag" d="M67.2,81 60.7,75.8M72.8,80.3 66.3,74.9"/>
<path class="gg" d="M67.2,81 72.8,80.3M60.7,75.8 66.3,74.9"/>
<path class="fo" d="M68,113.6 61.5,109 67.2,107.2 73.6,111.6Z"/>
<path class="ao" d="M68,113.6 61.5,109M73.6,111.6 67.2,107.2"/>
<path class="go" d="M68,113.6 73.6,111.6M61.5,109 67.2,107.2"/>
<path class="fb" d="M160.4,96.6 154,91.7 159.6,90.3 166.1,95.2Z"/>
<path class="ab" d="M160.4,96.6 154,91.7M166.1,95.2 159.6,90.3"/>
<path class="gb" d="M160.4,96.6 166.1,95.2M154,91.7 159.6,90.3"/>
<path class="fo" d="M178.9,143.6 172.5,135 178.1,129.5 184.6,140.2Z"/>
<path class="ao" d="M178.9,143.6 172.5,135M184.6,140.2 178.1,129.5"/>
<path class="go" d="M178.9,143.6 184.6,140.2M172.5,135 178.1,129.5"/>
<path class="fb" d="M79.2,97.6 72.8,92.7 78.4,91.2 84.9,96.1Z"/>
<path class="ab" d="M79.2,97.6 72.8,92.7M84.9,96.1 78.4,91.2"/>
<path class="gb" d="M79.2,97.6 84.9,96.1M72.8,92.7 78.4,91.2"/>
<path class="fg" d="M166.1,66.1 163.4,67.7 161.4,70.1 159.8,73.2 158.8,77.1 158.3,82 158.1,89.1 165.2,78.9 166.8,80.9 168,82.8 168.9,84.6 169.5,86.5 169.9,88.5 169.9,92.4Z"/>
<path class="ag" d="M166.1,66.1 163.4,67.7 161.4,70.1 159.8,73.2 158.8,77.1 158.3,82 158.1,89.1M169.9,92.4 169.9,88.5 169.5,86.5 168.9,84.6 168,82.8 166.8,80.9 165.2,78.9"/>
<path class="gg" d="M166.1,66.1 169.9,92.4M158.1,89.1 165.2,78.9"/>
<path class="fo" d="M144.4,150.3 137.9,145.3 143.6,143 150,148.3Z"/>
<path class="ao" d="M144.4,150.3 137.9,145.3M150,148.3 143.6,143"/>
<path class="go" d="M144.4,150.3 150,148.3M137.9,145.3 143.6,143"/>
<path class="fg" d="M118.6,45 112.2,40.3 117.8,41.7 124.2,45.8Z"/>
<path class="ag" d="M118.6,45 112.2,40.3M124.2,45.8 117.8,41.7"/>
<path class="gg" d="M118.6,45 124.2,45.8M112.2,40.3 117.8,41.7"/>
<path class="fo" d="M190.2,136.3 183.8,121.6 189.5,95.9 189.6,103.8 190.1,109.7 190.9,115.3 192.1,120.8 193.7,126.2 195.8,131.5Z"/>
<path class="ao" d="M190.2,136.3 183.8,121.6M195.8,131.5 193.7,126.2 192.1,120.8 190.9,115.3 190.1,109.7 189.6,103.8 189.5,95.9"/>
<path class="go" d="M190.2,136.3 195.8,131.5M183.8,121.6 189.5,95.9"/>
<path class="fb" d="M131.5,97.4 125,92.5 130.7,91.1 137.1,96Z"/>
<path class="ab" d="M131.5,97.4 125,92.5M137.1,96 130.7,91.1"/>
<path class="gb" d="M131.5,97.4 137.1,96M125,92.5 130.7,91.1"/>
<path class="fg" d="M136.3,51.8 129.9,48.7 135.5,55.5 141.9,55.8Z"/>
<path class="ag" d="M136.3,51.8 129.9,48.7M141.9,55.8 135.5,55.5"/>
<path class="gg" d="M136.3,51.8 141.9,55.8M129.9,48.7 135.5,55.5"/>
<path class="fb" d="M183.8,97.2 177.3,92.3 182.9,90.9 189.4,95.8Z"/>
<path class="ab" d="M183.8,97.2 177.3,92.3M189.4,95.8 182.9,90.9"/>
<path class="gb" d="M183.8,97.2 189.4,95.8M177.3,92.3 182.9,90.9"/>
<path class="fb" d="M50.3,98.3 43.8,93.4 49.5,92 55.9,96.9Z"/>
<path class="ab" d="M50.3,98.3 43.8,93.4M55.9,96.9 49.5,92"/>
<path class="gb" d="M50.3,98.3 55.9,96.9M43.8,93.4 49.5,92"/>
<path class="fo" d="M173.3,146.5 166.9,139.4 172.5,135 178.9,143.6Z"/>
<path class="ao" d="M173.3,146.5 166.9,139.4M178.9,143.6 172.5,135"/>
<path class="go" d="M173.3,146.5 178.9,143.6M166.9,139.4 172.5,135"/>
<path class="fg" d="M87.5,98.1 87.3,93.8 86.7,91.4 85.5,89 83.8,86.5 81.4,83.7 78.4,80.6 80.1,86.8 80.3,80 81,75.5 82.3,72.1 84.3,69.5 87,67.8 90.5,66.9Z"/>
<path class="ag" d="M87.5,98.1 87.3,93.8 86.7,91.4 85.5,89 83.8,86.5 81.4,83.7 78.4,80.6M90.5,66.9 87,67.8 84.3,69.5 82.3,72.1 81,75.5 80.3,80 80.1,86.8"/>
<path class="gg" d="M87.5,98.1 90.5,66.9M78.4,80.6 80.1,86.8"/>
<path class="fb" d="M102.5,98.2 96.1,93.3 101.7,91.9 108.2,96.8Z"/>
<path class="ab" d="M102.5,98.2 96.1,93.3M108.2,96.8 101.7,91.9"/>
<path class="gb" d="M102.5,98.2 108.2,96.8M96.1,93.3 101.7,91.9"/>
<path class="fo" d="M62.4,115.4 55.9,110.7 61.5,109 68,113.6Z"/>
<path class="ao" d="M62.4,115.4 55.9,110.7M68,113.6 61.5,109"/>
<path class="go" d="M62.4,115.4 68,113.6M55.9,110.7 61.5,109"/>
<path class="fg" d="M61.5,82 55.1,76.8 60.7,75.8 67.2,81Z"/>
<path class="ag" d="M61.5,82 55.1,76.8M67.2,81 60.7,75.8"/>
<path class="gg" d="M61.5,82 67.2,81M55.1,76.8 60.7,75.8"/>
<path class="fo" d="M115.4,148.5 109,142.4 114.6,143.3 121.1,148.7Z"/>
<path class="ao" d="M115.4,148.5 109,142.4M121.1,148.7 114.6,143.3"/>
<path class="go" d="M115.4,148.5 121.1,148.7M109,142.4 114.6,143.3"/>
<path class="fb" d="M154.8,98 148.4,93.1 154,91.7 160.4,96.6Z"/>
<path class="ab" d="M154.8,98 148.4,93.1M160.4,96.6 154,91.7"/>
<path class="gb" d="M154.8,98 160.4,96.6M148.4,93.1 154,91.7"/>
<path class="fg" d="M189.5,95.9 189.4,91.3 188.9,88.9 188.1,86.7 186.8,84.5 185.1,82.2 182.9,79.7 188.6,77.4 191.7,80.5 194.1,83.4 196,86.1 197.2,88.7 197.8,91.5 198,96.7Z"/>
<path class="ag" d="M189.5,95.9 189.4,91.3 188.9,88.9 188.1,86.7 186.8,84.5 185.1,82.2 182.9,79.7M198,96.7 197.8,91.5 197.2,88.7 196,86.1 194.1,83.4 191.7,80.5 188.6,77.4"/>
<path class="gg" d="M189.5,95.9 198,96.7M182.9,79.7 188.6,77.4"/>
<path class="fo" d="M202.3,143.4 195.8,131.5 201.4,125.4 207.9,140.5Z"/>
<path class="ao" d="M202.3,143.4 195.8,131.5M207.9,140.5 201.4,125.4"/>
<path class="go" d="M202.3,143.4 207.9,140.5M195.8,131.5 201.4,125.4"/>
<path class="fo" d="M138.7,151.9 132.3,147 137.9,145.3 144.4,150.3Z"/>
<path class="ao" d="M138.7,151.9 132.3,147M144.4,150.3 137.9,145.3"/>
<path class="go" d="M138.7,151.9 144.4,150.3M132.3,147 137.9,145.3"/>
<path class="fo" d="M195.8,131.5 193.7,126.2 192.1,120.8 190.9,115.3 190.1,109.7 189.6,103.8 189.5,95.9 198,96.7 198.1,103.2 198.3,108.1 198.8,112.6 199.4,116.9 200.3,121.2 201.4,125.4Z"/>
<path class="ao" d="M195.8,131.5 193.7,126.2 192.1,120.8 190.9,115.3 190.1,109.7 189.6,103.8 189.5,95.9M201.4,125.4 200.3,121.2 199.4,116.9 198.8,112.6 198.3,108.1 198.1,103.2 198,96.7"/>
<path class="go" d="M195.8,131.5 201.4,125.4M189.5,95.9 198,96.7"/>
<path class="fb" d="M73.6,99 67.2,94.1 72.8,92.7 79.2,97.6Z"/>
<path class="ab" d="M73.6,99 67.2,94.1M79.2,97.6 72.8,92.7"/>
<path class="gb" d="M73.6,99 79.2,97.6M67.2,94.1 72.8,92.7"/>
<path class="fo" d="M97.7,135.7 91.3,122.3 96.9,132.1 103.4,140.2Z"/>
<path class="ao" d="M97.7,135.7 91.3,122.3M103.4,140.2 96.9,132.1"/>
<path class="go" d="M97.7,135.7 103.4,140.2M91.3,122.3 96.9,132.1"/>
<path class="fo" d="M167.7,149.1 161.2,142.9 166.9,139.4 173.3,146.5Z"/>
<path class="ao" d="M167.7,149.1 161.2,142.9M173.3,146.5 166.9,139.4"/>
<path class="go" d="M167.7,149.1 173.3,146.5M161.2,142.9 166.9,139.4"/>
<path class="fb" d="M125.9,98.8 119.4,93.9 125,92.5 131.5,97.4Z"/>
<path class="ab" d="M125.9,98.8 119.4,93.9M131.5,97.4 125,92.5"/>
<path class="gb" d="M125.9,98.8 131.5,97.4M119.4,93.9 125,92.5"/>
<path class="fg" d="M113,45.7 106.5,40.8 112.2,40.3 118.6,45Z"/>
<path class="ag" d="M113,45.7 106.5,40.8M118.6,45 112.2,40.3"/>
<path class="gg" d="M113,45.7 118.6,45M106.5,40.8 112.2,40.3"/>
<path class="fb" d="M178.1,98.7 171.7,93.8 177.3,92.3 183.8,97.2Z"/>
<path class="ab" d="M178.1,98.7 171.7,93.8M183.8,97.2 177.3,92.3"/>
<path class="gb" d="M178.1,98.7 183.8,97.2M171.7,93.8 177.3,92.3"/>
<path class="fo" d="M196.6,146.1 190.2,136.3 195.8,131.5 202.3,143.4Z"/>
<path class="ao" d="M196.6,146.1 190.2,136.3M202.3,143.4 195.8,131.5"/>
<path class="go" d="M196.6,146.1 202.3,143.4M190.2,136.3 195.8,131.5"/>
<path class="fb" d="M96.9,99.6 90.5,94.7 96.1,93.3 102.5,98.2Z"/>
<path class="ab" d="M96.9,99.6 90.5,94.7M102.5,98.2 96.1,93.3"/>
<path class="gb" d="M96.9,99.6 102.5,98.2M90.5,94.7 96.1,93.3"/>
<path class="fo" d="M56.7,117 50.3,112.3 55.9,110.7 62.4,115.4Z"/>
<path class="ao" d="M56.7,117 50.3,112.3M62.4,115.4 55.9,110.7"/>
<path class="go" d="M56.7,117 62.4,115.4M50.3,112.3 55.9,110.7"/>
<path class="fg" d="M90.5,66.9 87,67.8 84.3,69.5 82.3,72.1 81,75.5 80.3,80 80.1,86.8 89.7,54.6 96.1,57.2Z"/>
<path class="ag" d="M90.5,66.9 87,67.8 84.3,69.5 82.3,72.1 81,75.5 80.3,80 80.1,86.8M96.1,57.2 89.7,54.6"/>
<path class="gg" d="M90.5,66.9 96.1,57.2M80.1,86.8 89.7,54.6"/>
<path class="fg" d="M55.9,83.1 49.5,78 55.1,76.8 61.5,82Z"/>
<path class="ag" d="M55.9,83.1 49.5,78M61.5,82 55.1,76.8"/>
<path class="gg" d="M55.9,83.1 61.5,82M49.5,78 55.1,76.8"/>
<path class="fb" d="M149.2,99.4 142.7,94.5 148.4,93.1 154.8,98Z"/>
<path class="ab" d="M149.2,99.4 142.7,94.5M154.8,98 148.4,93.1"/>
<path class="gb" d="M149.2,99.4 154.8,98M142.7,94.5 148.4,93.1"/>
<path class="fg" d="M79.2,86.1 72.8,80.3 78.4,80.6 81.4,83.7 83.8,86.5 85.5,89 86.7,91.4 87.3,93.8 87.5,98.1Z"/>
<path class="ag" d="M79.2,86.1 72.8,80.3M87.5,98.1 87.3,93.8 86.7,91.4 85.5,89 83.8,86.5 81.4,83.7 78.4,80.6"/>
<path class="gg" d="M79.2,86.1 87.5,98.1M72.8,80.3 78.4,80.6"/>
<path class="fo" d="M162.1,151.4 155.6,145.8 161.2,142.9 167.7,149.1Z"/>
<path class="ao" d="M162.1,151.4 155.6,145.8M167.7,149.1 161.2,142.9"/>
<path class="go" d="M162.1,151.4 167.7,149.1M155.6,145.8 161.2,142.9"/>
<path class="fo" d="M133.1,153.1 126.7,148.1 132.3,147 138.7,151.9Z"/>
<path class="ao" d="M133.1,153.1 126.7,148.1M138.7,151.9 132.3,147"/>
<path class="go" d="M133.1,153.1 138.7,151.9M126.7,148.1 132.3,147"/>
<path class="fb" d="M68,100.4 61.5,95.5 67.2,94.1 73.6,99Z"/>
<path class="ab" d="M68,100.4 61.5,95.5M73.6,99 67.2,94.1"/>
<path class="gb" d="M68,100.4 73.6,99M61.5,95.5 67.2,94.1"/>
<path class="fo" d="M191,148.6 184.6,140.2 190.2,136.3 196.6,146.1Z"/>
<path class="ao" d="M191,148.6 184.6,140.2M196.6,146.1 190.2,136.3"/>
<path class="go" d="M191,148.6 196.6,146.1M184.6,140.2 190.2,136.3"/>
<path class="fo" d="M85.7,112.2 79.2,109 87.5,98.1 87.6,103.4 87.8,107.4 88.3,111.2 89.1,114.9 90,118.6 91.3,122.3Z"/>
<path class="ao" d="M85.7,112.2 79.2,109M91.3,122.3 90,118.6 89.1,114.9 88.3,111.2 87.8,107.4 87.6,103.4 87.5,98.1"/>
<path class="go" d="M85.7,112.2 91.3,122.3M79.2,109 87.5,98.1"/>
<path class="fo" d="M109.8,147.5 103.4,140.2 109,142.4 115.4,148.5Z"/>
<path class="ao" d="M109.8,147.5 103.4,140.2M115.4,148.5 109,142.4"/>
<path class="go" d="M109.8,147.5 115.4,148.5M103.4,140.2 109,142.4"/>
<path class="fb" d="M120.2,100.2 113.8,95.3 119.4,93.9 125.9,98.8Z"/>
<path class="ab" d="M120.2,100.2 113.8,95.3M125.9,98.8 119.4,93.9"/>
<path class="gb" d="M120.2,100.2 125.9,98.8M113.8,95.3 119.4,93.9"/>
<path class="fg" d="M130.7,50 124.2,45.8 129.9,48.7 136.3,51.8Z"/>
<path class="ag" d="M130.7,50 124.2,45.8M136.3,51.8 129.9,48.7"/>
<path class="gg" d="M130.7,50 136.3,51.8M124.2,45.8 129.9,48.7"/>
<path class="fg" d="M148.4,57.4 141.9,55.8 147.6,65.5 154,61.9Z"/>
<path class="ag" d="M148.4,57.4 141.9,55.8M154,61.9 147.6,65.5"/>
<path class="gg" d="M148.4,57.4 154,61.9M141.9,55.8 147.6,65.5"/>
<path class="fg" d="M183.8,72.8 182.6,75.1 181.7,77.7 181,80.8 180.6,84.4 180.3,88.6 180.2,94.6 182.9,79.7 185.1,82.2 186.8,84.5 188.1,86.7 188.9,88.9 189.4,91.3 189.5,95.9Z"/>
<path class="ag" d="M183.8,72.8 182.6,75.1 181.7,77.7 181,80.8 180.6,84.4 180.3,88.6 180.2,94.6M189.5,95.9 189.4,91.3 188.9,88.9 188.1,86.7 186.8,84.5 185.1,82.2 182.9,79.7"/>
<path class="gg" d="M183.8,72.8 189.5,95.9M180.2,94.6 182.9,79.7"/>
<path class="fg" d="M107.4,47.8 100.9,43.1 106.5,40.8 113,45.7Z"/>
<path class="ag" d="M107.4,47.8 100.9,43.1M113,45.7 106.5,40.8"/>
<path class="gg" d="M107.4,47.8 113,45.7M100.9,43.1 106.5,40.8"/>
<path class="fb" d="M172.5,100.1 166.1,95.2 171.7,93.8 178.1,98.7Z"/>
<path class="ab" d="M172.5,100.1 166.1,95.2M178.1,98.7 171.7,93.8"/>
<path class="gb" d="M172.5,100.1 178.1,98.7M166.1,95.2 171.7,93.8"/>
<path class="fb" d="M91.3,101 84.9,96.1 90.5,94.7 96.9,99.6Z"/>
<path class="ab" d="M91.3,101 84.9,96.1M96.9,99.6 90.5,94.7"/>
<path class="gb" d="M91.3,101 96.9,99.6M84.9,96.1 90.5,94.7"/>
<path class="fo" d="M80,115.6 73.6,111.6 79.2,109 85.7,112.2Z"/>
<path class="ao" d="M80,115.6 73.6,111.6M85.7,112.2 79.2,109"/>
<path class="go" d="M80,115.6 85.7,112.2M73.6,111.6 79.2,109"/>
<path class="fo" d="M156.4,153.5 150,148.3 155.6,145.8 162.1,151.4Z"/>
<path class="ao" d="M156.4,153.5 150,148.3M162.1,151.4 155.6,145.8"/>
<path class="go" d="M156.4,153.5 162.1,151.4M150,148.3 155.6,145.8"/>
<path class="fb" d="M143.6,100.9 137.1,96 142.7,94.5 149.2,99.4Z"/>
<path class="ab" d="M143.6,100.9 137.1,96M149.2,99.4 142.7,94.5"/>
<path class="gb" d="M143.6,100.9 149.2,99.4M137.1,96 142.7,94.5"/>
<path class="fg" d="M50.3,84.4 43.8,79.3 49.5,78 55.9,83.1Z"/>
<path class="ag" d="M50.3,84.4 43.8,79.3M55.9,83.1 49.5,78"/>
<path class="gg" d="M50.3,84.4 55.9,83.1M43.8,79.3 49.5,78"/>
<path class="fo" d="M185.4,150.9 178.9,143.6 184.6,140.2 191,148.6Z"/>
<path class="ao" d="M185.4,150.9 178.9,143.6M191,148.6 184.6,140.2"/>
<path class="go" d="M185.4,150.9 191,148.6M178.9,143.6 184.6,140.2"/>
<path class="fb" d="M195.8,100.7 189.4,95.8 195,94.4 201.4,99.3Z"/>
<path class="ab" d="M195.8,100.7 189.4,95.8M201.4,99.3 195,94.4"/>
<path class="gb" d="M195.8,100.7 201.4,99.3M189.4,95.8 195,94.4"/>
<path class="fb" d="M62.4,101.8 55.9,96.9 61.5,95.5 68,100.4Z"/>
<path class="ab" d="M62.4,101.8 55.9,96.9M68,100.4 61.5,95.5"/>
<path class="gb" d="M62.4,101.8 68,100.4M55.9,96.9 61.5,95.5"/>
<path class="fo" d="M127.5,154 121.1,148.7 126.7,148.1 133.1,153.1Z"/>
<path class="ao" d="M127.5,154 121.1,148.7M133.1,153.1 126.7,148.1"/>
<path class="go" d="M127.5,154 133.1,153.1M121.1,148.7 126.7,148.1"/>
<path class="fg" d="M101.7,51.5 95.3,47.4 100.9,43.1 107.4,47.8Z"/>
<path class="ag" d="M101.7,51.5 95.3,47.4M107.4,47.8 100.9,43.1"/>
<path class="gg" d="M101.7,51.5 107.4,47.8M95.3,47.4 100.9,43.1"/>
<path class="fg" d="M73.6,86.4 67.2,81 72.8,80.3 79.2,86.1Z"/>
<path class="ag" d="M73.6,86.4 67.2,81M79.2,86.1 72.8,80.3"/>
<path class="gg" d="M73.6,86.4 79.2,86.1M67.2,81 72.8,80.3"/>
<path class="fb" d="M114.6,101.7 108.2,96.8 113.8,95.3 120.2,100.2Z"/>
<path class="ab" d="M114.6,101.7 108.2,96.8M120.2,100.2 113.8,95.3"/>
<path class="gb" d="M114.6,101.7 120.2,100.2M108.2,96.8 113.8,95.3"/>
<path class="fb" d="M166.9,101.5 160.4,96.6 166.1,95.2 172.5,100.1Z"/>
<path class="ab" d="M166.9,101.5 160.4,96.6M172.5,100.1 166.1,95.2"/>
<path class="gb" d="M166.9,101.5 172.5,100.1M160.4,96.6 166.1,95.2"/>
<path class="fg" d="M96.1,57.2 89.7,54.6 95.3,47.4 101.7,51.5Z"/>
<path class="ag" d="M96.1,57.2 89.7,54.6M101.7,51.5 95.3,47.4"/>
<path class="gg" d="M96.1,57.2 101.7,51.5M89.7,54.6 95.3,47.4"/>
<path class="fo" d="M74.4,117.9 68,113.6 73.6,111.6 80,115.6Z"/>
<path class="ao" d="M74.4,117.9 68,113.6M80,115.6 73.6,111.6"/>
<path class="go" d="M74.4,117.9 80,115.6M68,113.6 73.6,111.6"/>
<path class="fo" d="M208.7,151.9 202.3,143.4 207.9,140.5 214.3,150.1Z"/>
<path class="ao" d="M208.7,151.9 202.3,143.4M214.3,150.1 207.9,140.5"/>
<path class="go" d="M208.7,151.9 214.3,150.1M202.3,143.4 207.9,140.5"/>
<path class="fg" d="M160.4,62 154,61.9 158.1,89.1 158.3,82 158.8,77.1 159.8,73.2 161.4,70.1 163.4,67.7 166.1,66.1Z"/>
<path class="ag" d="M160.4,62 154,61.9M166.1,66.1 163.4,67.7 161.4,70.1 159.8,73.2 158.8,77.1 158.3,82 158.1,89.1"/>
<path class="gg" d="M160.4,62 166.1,66.1M154,61.9 158.1,89.1"/>
<path class="fb" d="M85.7,102.4 79.2,97.6 84.9,96.1 91.3,101Z"/>
<path class="ab" d="M85.7,102.4 79.2,97.6M91.3,101 84.9,96.1"/>
<path class="gb" d="M85.7,102.4 91.3,101M79.2,97.6 84.9,96.1"/>
<path class="fo" d="M150.8,155.3 144.4,150.3 150,148.3 156.4,153.5Z"/>
<path class="ao" d="M150.8,155.3 144.4,150.3M156.4,153.5 150,148.3"/>
<path class="go" d="M150.8,155.3 156.4,153.5M144.4,150.3 150,148.3"/>
<path class="fo" d="M179.8,153 173.3,146.5 178.9,143.6 185.4,150.9Z"/>
<path class="ao" d="M179.8,153 173.3,146.5M185.4,150.9 178.9,143.6"/>
<path class="go" d="M179.8,153 185.4,150.9M173.3,146.5 178.9,143.6"/>
<path class="fg" d="M125,49.7 118.6,45 124.2,45.8 130.7,50Z"/>
<path class="ag" d="M125,49.7 118.6,45M130.7,50 124.2,45.8"/>
<path class="gg" d="M125,49.7 130.7,50M118.6,45 124.2,45.8"/>
<path class="fb" d="M137.9,102.3 131.5,97.4 137.1,96 143.6,100.9Z"/>
<path class="ab" d="M137.9,102.3 131.5,97.4M143.6,100.9 137.1,96"/>
<path class="gb" d="M137.9,102.3 143.6,100.9M131.5,97.4 137.1,96"/>
<path class="fo" d="M104.2,145.4 97.7,135.7 103.4,140.2 109.8,147.5Z"/>
<path class="ao" d="M104.2,145.4 97.7,135.7M109.8,147.5 103.4,140.2"/>
<path class="go" d="M104.2,145.4 109.8,147.5M97.7,135.7 103.4,140.2"/>
<path class="fg" d="M178.1,67.8 175.4,69.5 173.3,72 171.7,75.4 170.7,79.6 170.1,84.8 169.9,92.4 180.2,94.6 180.3,88.6 180.6,84.4 181,80.8 181.7,77.7 182.6,75.1 183.8,72.8Z"/>
<path class="ag" d="M178.1,67.8 175.4,69.5 173.3,72 171.7,75.4 170.7,79.6 170.1,84.8 169.9,92.4M183.8,72.8 182.6,75.1 181.7,77.7 181,80.8 180.6,84.4 180.3,88.6 180.2,94.6"/>
<path class="gg" d="M178.1,67.8 183.8,72.8M169.9,92.4 180.2,94.6"/>
<path class="fb" d="M190.2,102.1 183.8,97.2 189.4,95.8 195.8,100.7Z"/>
<path class="ab" d="M190.2,102.1 183.8,97.2M195.8,100.7 189.4,95.8"/>
<path class="gb" d="M190.2,102.1 195.8,100.7M183.8,97.2 189.4,95.8"/>
<path class="fb" d="M56.7,103.2 50.3,98.3 55.9,96.9 62.4,101.8Z"/>
<path class="ab" d="M56.7,103.2 50.3,98.3M62.4,101.8 55.9,96.9"/>
<path class="gb" d="M56.7,103.2 62.4,101.8M50.3,98.3 55.9,96.9"/>
<path class="fb" d="M109,103.1 102.5,98.2 108.2,96.8 114.6,101.7Z"/>
<path class="ab" d="M109,103.1 102.5,98.2M114.6,101.7 108.2,96.8"/>
<path class="gb" d="M109,103.1 114.6,101.7M102.5,98.2 108.2,96.8"/>
<path class="fo" d="M121.9,154.3 115.4,148.5 121.1,148.7 127.5,154Z"/>
<path class="ao" d="M121.9,154.3 115.4,148.5M127.5,154 121.1,148.7"/>
<path class="go" d="M121.9,154.3 127.5,154M115.4,148.5 121.1,148.7"/>
<path class="fg" d="M68,87.2 61.5,82 67.2,81 73.6,86.4Z"/>
<path class="ag" d="M68,87.2 61.5,82M73.6,86.4 67.2,81"/>
<path class="gg" d="M68,87.2 73.6,86.4M61.5,82 67.2,81"/>
<path class="fo" d="M203.1,153.8 196.6,146.1 202.3,143.4 208.7,151.9Z"/>
<path class="ao" d="M203.1,153.8 196.6,146.1M208.7,151.9 202.3,143.4"/>
<path class="go" d="M203.1,153.8 208.7,151.9M196.6,146.1 202.3,143.4"/>
<path class="fo" d="M68.8,119.9 62.4,115.4 68,113.6 74.4,117.9Z"/>
<path class="ao" d="M68.8,119.9 62.4,115.4M74.4,117.9 68,113.6"/>
<path class="go" d="M68.8,119.9 74.4,117.9M62.4,115.4 68,113.6"/>
<path class="fo" d="M90.6,106.2 90.5,109.9 90.2,111.4 89.5,112.2 88.6,112.6 87.3,112.6 85.7,112.2 91.3,122.3 97.7,135.7Z"/>
<path class="ao" d="M90.6,106.2 90.5,109.9 90.2,111.4 89.5,112.2 88.6,112.6 87.3,112.6 85.7,112.2M97.7,135.7 91.3,122.3"/>
<path class="go" d="M90.6,106.2 97.7,135.7M85.7,112.2 91.3,122.3"/>
<path class="fb" d="M161.2,102.9 154.8,98 160.4,96.6 166.9,101.5Z"/>
<path class="ab" d="M161.2,102.9 154.8,98M166.9,101.5 160.4,96.6"/>
<path class="gb" d="M161.2,102.9 166.9,101.5M154.8,98 160.4,96.6"/>
<path class="fg" d="M142.7,55.2 136.3,51.8 141.9,55.8 148.4,57.4Z"/>
<path class="ag" d="M142.7,55.2 136.3,51.8M148.4,57.4 141.9,55.8"/>
<path class="gg" d="M142.7,55.2 148.4,57.4M136.3,51.8 141.9,55.8"/>
<path class="fo" d="M174.1,155 167.7,149.1 173.3,146.5 179.8,153Z"/>
<path class="ao" d="M174.1,155 167.7,149.1M179.8,153 173.3,146.5"/>
<path class="go" d="M174.1,155 179.8,153M167.7,149.1 173.3,146.5"/>
<path class="fo" d="M145.2,156.8 138.7,151.9 144.4,150.3 150.8,155.3Z"/>
<path class="ao" d="M145.2,156.8 138.7,151.9M150.8,155.3 144.4,150.3"/>
<path class="go" d="M145.2,156.8 150.8,155.3M138.7,151.9 144.4,150.3"/>
<path class="fb" d="M80,103.9 73.6,99 79.2,97.6 85.7,102.4Z"/>
<path class="ab" d="M80,103.9 73.6,99M85.7,102.4 79.2,97.6"/>
<path class="gb" d="M80,103.9 85.7,102.4M73.6,99 79.2,97.6"/>
<path class="fb" d="M132.3,103.7 125.9,98.8 131.5,97.4 137.9,102.3Z"/>
<path class="ab" d="M132.3,103.7 125.9,98.8M137.9,102.3 131.5,97.4"/>
<path class="gb" d="M132.3,103.7 137.9,102.3M125.9,98.8 131.5,97.4"/>
<path class="fb" d="M184.6,103.5 178.1,98.7 183.8,97.2 190.2,102.1Z"/>
<path class="ab" d="M184.6,103.5 178.1,98.7M190.2,102.1 183.8,97.2"/>
<path class="gb" d="M184.6,103.5 190.2,102.1M178.1,98.7 183.8,97.2"/>
<path class="fg" d="M119.4,50.6 113,45.7 118.6,45 125,49.7Z"/>
<path class="ag" d="M119.4,50.6 113,45.7M125,49.7 118.6,45"/>
<path class="gg" d="M119.4,50.6 125,49.7M113,45.7 118.6,45"/>
<path class="fo" d="M197.4,155.5 191,148.6 196.6,146.1 203.1,153.8Z"/>
<path class="ao" d="M197.4,155.5 191,148.6M203.1,153.8 196.6,146.1"/>
<path class="go" d="M197.4,155.5 203.1,153.8M191,148.6 196.6,146.1"/>
<path class="fb" d="M103.4,104.5 96.9,99.6 102.5,98.2 109,103.1Z"/>
<path class="ab" d="M103.4,104.5 96.9,99.6M109,103.1 102.5,98.2"/>
<path class="gb" d="M103.4,104.5 109,103.1M96.9,99.6 102.5,98.2"/>
<path class="fo" d="M63.2,121.6 56.7,117 62.4,115.4 68.8,119.9Z"/>
<path class="ao" d="M63.2,121.6 56.7,117M68.8,119.9 62.4,115.4"/>
<path class="go" d="M63.2,121.6 68.8,119.9M56.7,117 62.4,115.4"/>
<path class="fg" d="M62.4,88.3 55.9,83.1 61.5,82 68,87.2Z"/>
<path class="ag" d="M62.4,88.3 55.9,83.1M68,87.2 61.5,82"/>
<path class="gg" d="M62.4,88.3 68,87.2M55.9,83.1 61.5,82"/>
<path class="fo" d="M168.5,156.9 162.1,151.4 167.7,149.1 174.1,155Z"/>
<path class="ao" d="M168.5,156.9 162.1,151.4M174.1,155 167.7,149.1"/>
<path class="go" d="M168.5,156.9 174.1,155M162.1,151.4 167.7,149.1"/>
<path class="fb" d="M155.6,104.3 149.2,99.4 154.8,98 161.2,102.9Z"/>
<path class="ab" d="M155.6,104.3 149.2,99.4M161.2,102.9 154.8,98"/>
<path class="gb" d="M155.6,104.3 161.2,102.9M149.2,99.4 154.8,98"/>
<path class="fo" d="M116.2,154.3 109.8,147.5 115.4,148.5 121.9,154.3Z"/>
<path class="ao" d="M116.2,154.3 109.8,147.5M121.9,154.3 115.4,148.5"/>
<path class="go" d="M116.2,154.3 121.9,154.3M109.8,147.5 115.4,148.5"/>
<path class="fo" d="M139.6,158.1 133.1,153.1 138.7,151.9 145.2,156.8Z"/>
<path class="ao" d="M139.6,158.1 133.1,153.1M145.2,156.8 138.7,151.9"/>
<path class="go" d="M139.6,158.1 145.2,156.8M133.1,153.1 138.7,151.9"/>
<path class="fb" d="M74.4,105.3 68,100.4 73.6,99 80,103.9Z"/>
<path class="ab" d="M74.4,105.3 68,100.4M80,103.9 73.6,99"/>
<path class="gb" d="M74.4,105.3 80,103.9M68,100.4 73.6,99"/>
<path class="fb" d="M126.7,105.1 120.2,100.2 125.9,98.8 132.3,103.7Z"/>
<path class="ab" d="M126.7,105.1 120.2,100.2M132.3,103.7 125.9,98.8"/>
<path class="gb" d="M126.7,105.1 132.3,103.7M120.2,100.2 125.9,98.8"/>
<path class="fg" d="M85.7,92.7 79.2,86.1 87.5,98.1 87.6,93 87.8,89.4 88.3,86.3 89.1,83.7 90,81.5 91.3,79.7Z"/>
<path class="ag" d="M85.7,92.7 79.2,86.1M91.3,79.7 90,81.5 89.1,83.7 88.3,86.3 87.8,89.4 87.6,93 87.5,98.1"/>
<path class="gg" d="M85.7,92.7 91.3,79.7M79.2,86.1 87.5,98.1"/>
<path class="fg" d="M195.8,69.9 193.7,72.1 192.1,75 190.9,78.6 190.1,82.9 189.6,88.2 189.5,95.9 198,96.7 198.1,90.3 198.3,85.7 198.8,81.9 199.4,78.6 200.3,75.7 201.4,73.2Z"/>
<path class="ag" d="M195.8,69.9 193.7,72.1 192.1,75 190.9,78.6 190.1,82.9 189.6,88.2 189.5,95.9M201.4,73.2 200.3,75.7 199.4,78.6 198.8,81.9 198.3,85.7 198.1,90.3 198,96.7"/>
<path class="gg" d="M195.8,69.9 201.4,73.2M189.5,95.9 198,96.7"/>
<path class="fb" d="M178.9,105 172.5,100.1 178.1,98.7 184.6,103.5Z"/>
<path class="ab" d="M178.9,105 172.5,100.1M184.6,103.5 178.1,98.7"/>
<path class="gb" d="M178.9,105 184.6,103.5M172.5,100.1 178.1,98.7"/>
<path class="fg" d="M113.8,52.6 107.4,47.8 113,45.7 119.4,50.6Z"/>
<path class="ag" d="M113.8,52.6 107.4,47.8M119.4,50.6 113,45.7"/>
<path class="gg" d="M113.8,52.6 119.4,50.6M107.4,47.8 113,45.7"/>
<path class="fo" d="M191.8,157.2 185.4,150.9 191,148.6 197.4,155.5Z"/>
<path class="ao" d="M191.8,157.2 185.4,150.9M197.4,155.5 191,148.6"/>
<path class="go" d="M191.8,157.2 197.4,155.5M185.4,150.9 191,148.6"/>
<path class="fg" d="M137.1,54.3 130.7,50 136.3,51.8 142.7,55.2Z"/>
<path class="ag" d="M137.1,54.3 130.7,50M142.7,55.2 136.3,51.8"/>
<path class="gg" d="M137.1,54.3 142.7,55.2M130.7,50 136.3,51.8"/>
<path class="fb" d="M97.7,105.9 91.3,101 96.9,99.6 103.4,104.5Z"/>
<path class="ab" d="M97.7,105.9 91.3,101M103.4,104.5 96.9,99.6"/>
<path class="gb" d="M97.7,105.9 103.4,104.5M91.3,101 96.9,99.6"/>
<path class="fg" d="M172.5,65.1 166.1,66.1 169.9,92.4 170.1,84.8 170.7,79.6 171.7,75.4 173.3,72 175.4,69.5 178.1,67.8Z"/>
<path class="ag" d="M172.5,65.1 166.1,66.1M178.1,67.8 175.4,69.5 173.3,72 171.7,75.4 170.7,79.6 170.1,84.8 169.9,92.4"/>
<path class="gg" d="M172.5,65.1 178.1,67.8M166.1,66.1 169.9,92.4"/>
<path class="fo" d="M162.9,158.6 156.4,153.5 162.1,151.4 168.5,156.9Z"/>
<path class="ao" d="M162.9,158.6 156.4,153.5M168.5,156.9 162.1,151.4"/>
<path class="go" d="M162.9,158.6 168.5,156.9M156.4,153.5 162.1,151.4"/>
<path class="fg" d="M56.7,89.4 50.3,84.4 55.9,83.1 62.4,88.3Z"/>
<path class="ag" d="M56.7,89.4 50.3,84.4M62.4,88.3 55.9,83.1"/>
<path class="gg" d="M56.7,89.4 62.4,88.3M50.3,84.4 55.9,83.1"/>
<path class="fb" d="M150,105.8 143.6,100.9 149.2,99.4 155.6,104.3Z"/>
<path class="ab" d="M150,105.8 143.6,100.9M155.6,104.3 149.2,99.4"/>
<path class="gb" d="M150,105.8 155.6,104.3M143.6,100.9 149.2,99.4"/>
<path class="fg" d="M91.3,79.7 90,81.5 89.1,83.7 88.3,86.3 87.8,89.4 87.6,93 87.5,98.1 90.5,66.9 96.9,67.1Z"/>
<path class="ag" d="M91.3,79.7 90,81.5 89.1,83.7 88.3,86.3 87.8,89.4 87.6,93 87.5,98.1M96.9,67.1 90.5,66.9"/>
<path class="gg" d="M91.3,79.7 96.9,67.1M87.5,98.1 90.5,66.9"/>
<path class="fo" d="M215.1,158.5 208.7,151.9 214.3,150.1 220.8,157Z"/>
<path class="ao" d="M215.1,158.5 208.7,151.9M220.8,157 214.3,150.1"/>
<path class="go" d="M215.1,158.5 220.8,157M208.7,151.9 214.3,150.1"/>
<path class="fg" d="M80,92.1 73.6,86.4 79.2,86.1 85.7,92.7Z"/>
<path class="ag" d="M80,92.1 73.6,86.4M85.7,92.7 79.2,86.1"/>
<path class="gg" d="M80,92.1 85.7,92.7M73.6,86.4 79.2,86.1"/>
<path class="fo" d="M98.6,141.3 95.9,135.7 93.9,130.2 92.3,124.8 91.3,119.3 90.7,113.6 90.6,106.2 97.7,135.7 104.2,145.4Z"/>
<path class="ao" d="M98.6,141.3 95.9,135.7 93.9,130.2 92.3,124.8 91.3,119.3 90.7,113.6 90.6,106.2M104.2,145.4 97.7,135.7"/>
<path class="go" d="M98.6,141.3 104.2,145.4M90.6,106.2 97.7,135.7"/>
<path class="fb" d="M202.3,105.6 195.8,100.7 201.4,99.3 207.9,104.2Z"/>
<path class="ab" d="M202.3,105.6 195.8,100.7M207.9,104.2 201.4,99.3"/>
<path class="gb" d="M202.3,105.6 207.9,104.2M195.8,100.7 201.4,99.3"/>
<path class="fb" d="M68.8,106.7 62.4,101.8 68,100.4 74.4,105.3Z"/>
<path class="ab" d="M68.8,106.7 62.4,101.8M74.4,105.3 68,100.4"/>
<path class="gb" d="M68.8,106.7 74.4,105.3M62.4,101.8 68,100.4"/>
<path class="fo" d="M133.9,159.2 127.5,154 133.1,153.1 139.6,158.1Z"/>
<path class="ao" d="M133.9,159.2 127.5,154M139.6,158.1 133.1,153.1"/>
<path class="go" d="M133.9,159.2 139.6,158.1M127.5,154 133.1,153.1"/>
<path class="fo" d="M86.5,118.7 80,115.6 85.7,112.2 87.3,112.6 88.6,112.6 89.5,112.2 90.2,111.4 90.5,109.9 90.6,106.2Z"/>
<path class="ao" d="M86.5,118.7 80,115.6M90.6,106.2 90.5,109.9 90.2,111.4 89.5,112.2 88.6,112.6 87.3,112.6 85.7,112.2"/>
<path class="go" d="M86.5,118.7 90.6,106.2M80,115.6 85.7,112.2"/>
<path class="fg" d="M154.8,59.9 148.4,57.4 154,61.9 160.4,62Z"/>
<path class="ag" d="M154.8,59.9 148.4,57.4M160.4,62 154,61.9"/>
<path class="gg" d="M154.8,59.9 160.4,62M148.4,57.4 154,61.9"/>
<path class="fg" d="M108.2,55.7 101.7,51.5 107.4,47.8 113.8,52.6Z"/>
<path class="ag" d="M108.2,55.7 101.7,51.5M113.8,52.6 107.4,47.8"/>
<path class="gg" d="M108.2,55.7 113.8,52.6M101.7,51.5 107.4,47.8"/>
<path class="fb" d="M121.1,106.5 114.6,101.7 120.2,100.2 126.7,105.1Z"/>
<path class="ab" d="M121.1,106.5 114.6,101.7M126.7,105.1 120.2,100.2"/>
<path class="gb" d="M121.1,106.5 126.7,105.1M114.6,101.7 120.2,100.2"/>
<path class="fo" d="M110.6,153.6 104.2,145.4 109.8,147.5 116.2,154.3Z"/>
<path class="ao" d="M110.6,153.6 104.2,145.4M116.2,154.3 109.8,147.5"/>
<path class="go" d="M110.6,153.6 116.2,154.3M104.2,145.4 109.8,147.5"/>
<path class="fo" d="M186.2,158.9 179.8,153 185.4,150.9 191.8,157.2Z"/>
<path class="ao" d="M186.2,158.9 179.8,153M191.8,157.2 185.4,150.9"/>
<path class="go" d="M186.2,158.9 191.8,157.2M179.8,153 185.4,150.9"/>
<path class="fb" d="M173.3,106.4 166.9,101.5 172.5,100.1 178.9,105Z"/>
<path class="ab" d="M173.3,106.4 166.9,101.5M178.9,105 172.5,100.1"/>
<path class="gb" d="M173.3,106.4 178.9,105M166.9,101.5 172.5,100.1"/>
<path class="fo" d="M157.3,160.2 150.8,155.3 156.4,153.5 162.9,158.6Z"/>
<path class="ao" d="M157.3,160.2 150.8,155.3M162.9,158.6 156.4,153.5"/>
<path class="go" d="M157.3,160.2 162.9,158.6M150.8,155.3 156.4,153.5"/>
<path class="fb" d="M92.1,107.3 85.7,102.4 91.3,101 97.7,105.9Z"/>
<path class="ab" d="M92.1,107.3 85.7,102.4M97.7,105.9 91.3,101"/>
<path class="gb" d="M92.1,107.3 97.7,105.9M85.7,102.4 91.3,101"/>
<path class="fo" d="M80.9,121.8 74.4,117.9 80,115.6 86.5,118.7Z"/>
<path class="ao" d="M80.9,121.8 74.4,117.9M86.5,118.7 80,115.6"/>
<path class="go" d="M80.9,121.8 86.5,118.7M74.4,117.9 80,115.6"/>
<path class="fg" d="M102.5,60.3 96.1,57.2 101.7,51.5 108.2,55.7Z"/>
<path class="ag" d="M102.5,60.3 96.1,57.2M108.2,55.7 101.7,51.5"/>
<path class="gg" d="M102.5,60.3 108.2,55.7M96.1,57.2 101.7,51.5"/>
<path class="fg" d="M96.9,67.1 90.5,66.9 96.1,57.2 102.5,60.3Z"/>
<path class="ag" d="M96.9,67.1 90.5,66.9M102.5,60.3 96.1,57.2"/>
<path class="gg" d="M96.9,67.1 102.5,60.3M90.5,66.9 96.1,57.2"/>
<path class="fb" d="M144.4,107.2 137.9,102.3 143.6,100.9 150,105.8Z"/>
<path class="ab" d="M144.4,107.2 137.9,102.3M150,105.8 143.6,100.9"/>
<path class="gb" d="M144.4,107.2 150,105.8M137.9,102.3 143.6,100.9"/>
<path class="fg" d="M131.5,54.5 125,49.7 130.7,50 137.1,54.3Z"/>
<path class="ag" d="M131.5,54.5 125,49.7M137.1,54.3 130.7,50"/>
<path class="gg" d="M131.5,54.5 137.1,54.3M125,49.7 130.7,50"/>
<path class="fo" d="M209.5,159.9 203.1,153.8 208.7,151.9 215.1,158.5Z"/>
<path class="ao" d="M209.5,159.9 203.1,153.8M215.1,158.5 208.7,151.9"/>
<path class="go" d="M209.5,159.9 215.1,158.5M203.1,153.8 208.7,151.9"/>
<path class="fb" d="M196.6,107 190.2,102.1 195.8,100.7 202.3,105.6Z"/>
<path class="ab" d="M196.6,107 190.2,102.1M202.3,105.6 195.8,100.7"/>
<path class="gb" d="M196.6,107 202.3,105.6M190.2,102.1 195.8,100.7"/>
<path class="fb" d="M63.2,108.1 56.7,103.2 62.4,101.8 68.8,106.7Z"/>
<path class="ab" d="M63.2,108.1 56.7,103.2M68.8,106.7 62.4,101.8"/>
<path class="gb" d="M63.2,108.1 68.8,106.7M56.7,103.2 62.4,101.8"/>
<path class="fo" d="M128.3,160 121.9,154.3 127.5,154 133.9,159.2Z"/>
<path class="ao" d="M128.3,160 121.9,154.3M133.9,159.2 127.5,154"/>
<path class="go" d="M128.3,160 133.9,159.2M121.9,154.3 127.5,154"/>
<path class="fg" d="M74.4,92.6 68,87.2 73.6,86.4 80,92.1Z"/>
<path class="ag" d="M74.4,92.6 68,87.2M80,92.1 73.6,86.4"/>
<path class="gg" d="M74.4,92.6 80,92.1M68,87.2 73.6,86.4"/>
<path class="fb" d="M115.4,108 109,103.1 114.6,101.7 121.1,106.5Z"/>
<path class="ab" d="M115.4,108 109,103.1M121.1,106.5 114.6,101.7"/>
<path class="gb" d="M115.4,108 121.1,106.5M109,103.1 114.6,101.7"/>
<path class="fg" d="M190.2,68 183.8,72.8 189.5,95.9 189.6,88.2 190.1,82.9 190.9,78.6 192.1,75 193.7,72.1 195.8,69.9Z"/>
<path class="ag" d="M190.2,68 183.8,72.8M195.8,69.9 193.7,72.1 192.1,75 190.9,78.6 190.1,82.9 189.6,88.2 189.5,95.9"/>
<path class="gg" d="M190.2,68 195.8,69.9M183.8,72.8 189.5,95.9"/>
<path class="fo" d="M180.6,160.5 174.1,155 179.8,153 186.2,158.9Z"/>
<path class="ao" d="M180.6,160.5 174.1,155M186.2,158.9 179.8,153"/>
<path class="go" d="M180.6,160.5 186.2,158.9M174.1,155 179.8,153"/>
<path class="fb" d="M167.7,107.8 161.2,102.9 166.9,101.5 173.3,106.4Z"/>
<path class="ab" d="M167.7,107.8 161.2,102.9M173.3,106.4 166.9,101.5"/>
<path class="gb" d="M167.7,107.8 173.3,106.4M161.2,102.9 166.9,101.5"/>
<path class="fo" d="M75.2,124.1 68.8,119.9 74.4,117.9 80.9,121.8Z"/>
<path class="ao" d="M75.2,124.1 68.8,119.9M80.9,121.8 74.4,117.9"/>
<path class="go" d="M75.2,124.1 80.9,121.8M68.8,119.9 74.4,117.9"/>
<path class="fo" d="M151.6,161.7 145.2,156.8 150.8,155.3 157.3,160.2Z"/>
<path class="ao" d="M151.6,161.7 145.2,156.8M157.3,160.2 150.8,155.3"/>
<path class="go" d="M151.6,161.7 157.3,160.2M145.2,156.8 150.8,155.3"/>
<path class="fb" d="M86.5,108.8 80,103.9 85.7,102.4 92.1,107.3Z"/>
<path class="ab" d="M86.5,108.8 80,103.9M92.1,107.3 85.7,102.4"/>
<path class="gb" d="M86.5,108.8 92.1,107.3M80,103.9 85.7,102.4"/>
<path class="fb" d="M138.7,108.6 132.3,103.7 137.9,102.3 144.4,107.2Z"/>
<path class="ab" d="M138.7,108.6 132.3,103.7M144.4,107.2 137.9,102.3"/>
<path class="gb" d="M138.7,108.6 144.4,107.2M132.3,103.7 137.9,102.3"/>
<path class="fg" d="M149.2,58.9 142.7,55.2 148.4,57.4 154.8,59.9Z"/>
<path class="ag" d="M149.2,58.9 142.7,55.2M154.8,59.9 148.4,57.4"/>
<path class="gg" d="M149.2,58.9 154.8,59.9M142.7,55.2 148.4,57.4"/>
<path class="fo" d="M203.9,161.4 197.4,155.5 203.1,153.8 209.5,159.9Z"/>
<path class="ao" d="M203.9,161.4 197.4,155.5M209.5,159.9 203.1,153.8"/>
<path class="go" d="M203.9,161.4 209.5,159.9M197.4,155.5 203.1,153.8"/>
<path class="fo" d="M105,152.1 98.6,141.3 104.2,145.4 110.6,153.6Z"/>
<path class="ao" d="M105,152.1 98.6,141.3M110.6,153.6 104.2,145.4"/>
<path class="go" d="M105,152.1 110.6,153.6M98.6,141.3 104.2,145.4"/>
<path class="fb" d="M191,108.4 184.6,103.5 190.2,102.1 196.6,107Z"/>
<path class="ab" d="M191,108.4 184.6,103.5M196.6,107 190.2,102.1"/>
<path class="gb" d="M191,108.4 196.6,107M184.6,103.5 190.2,102.1"/>
<path class="fg" d="M125.9,55.5 119.4,50.6 125,49.7 131.5,54.5Z"/>
<path class="ag" d="M125.9,55.5 119.4,50.6M131.5,54.5 125,49.7"/>
<path class="gg" d="M125.9,55.5 131.5,54.5M119.4,50.6 125,49.7"/>
<path class="fb" d="M109.8,109.4 103.4,104.5 109,103.1 115.4,108Z"/>
<path class="ab" d="M109.8,109.4 103.4,104.5M115.4,108 109,103.1"/>
<path class="gb" d="M109.8,109.4 115.4,108M103.4,104.5 109,103.1"/>
<path class="fo" d="M174.9,162.1 168.5,156.9 174.1,155 180.6,160.5Z"/>
<path class="ao" d="M174.9,162.1 168.5,156.9M180.6,160.5 174.1,155"/>
<path class="go" d="M174.9,162.1 180.6,160.5M168.5,156.9 174.1,155"/>
<path class="fg" d="M68.8,93.5 62.4,88.3 68,87.2 74.4,92.6Z"/>
<path class="ag" d="M68.8,93.5 62.4,88.3M74.4,92.6 68,87.2"/>
<path class="gg" d="M68.8,93.5 74.4,92.6M62.4,88.3 68,87.2"/>
<path class="fo" d="M122.7,160.5 116.2,154.3 121.9,154.3 128.3,160Z"/>
<path class="ao" d="M122.7,160.5 116.2,154.3M128.3,160 121.9,154.3"/>
<path class="go" d="M122.7,160.5 128.3,160M116.2,154.3 121.9,154.3"/>
<path class="fo" d="M69.6,126 63.2,121.6 68.8,119.9 75.2,124.1Z"/>
<path class="ao" d="M69.6,126 63.2,121.6M75.2,124.1 68.8,119.9"/>
<path class="go" d="M69.6,126 75.2,124.1M63.2,121.6 68.8,119.9"/>
<path class="fb" d="M162.1,109.2 155.6,104.3 161.2,102.9 167.7,107.8Z"/>
<path class="ab" d="M162.1,109.2 155.6,104.3M167.7,107.8 161.2,102.9"/>
<path class="gb" d="M162.1,109.2 167.7,107.8M155.6,104.3 161.2,102.9"/>
<path class="fo" d="M146,163 139.6,158.1 145.2,156.8 151.6,161.7Z"/>
<path class="ao" d="M146,163 139.6,158.1M151.6,161.7 145.2,156.8"/>
<path class="go" d="M146,163 151.6,161.7M139.6,158.1 145.2,156.8"/>
<path class="fb" d="M80.9,110.2 74.4,105.3 80,103.9 86.5,108.8Z"/>
<path class="ab" d="M80.9,110.2 74.4,105.3M86.5,108.8 80,103.9"/>
<path class="gb" d="M80.9,110.2 86.5,108.8M74.4,105.3 80,103.9"/>
<path class="fg" d="M166.9,63.6 160.4,62 166.1,66.1 172.5,65.1Z"/>
<path class="ag" d="M166.9,63.6 160.4,62M172.5,65.1 166.1,66.1"/>
<path class="gg" d="M166.9,63.6 172.5,65.1M160.4,62 166.1,66.1"/>
<path class="fg" d="M86.5,98.8 80,92.1 85.7,92.7 87.3,94.8 88.6,96.7 89.5,98.5 90.2,100.3 90.5,102.3 90.6,106.2Z"/>
<path class="ag" d="M86.5,98.8 80,92.1M90.6,106.2 90.5,102.3 90.2,100.3 89.5,98.5 88.6,96.7 87.3,94.8 85.7,92.7"/>
<path class="gg" d="M86.5,98.8 90.6,106.2M80,92.1 85.7,92.7"/>
<path class="fb" d="M133.1,110 126.7,105.1 132.3,103.7 138.7,108.6Z"/>
<path class="ab" d="M133.1,110 126.7,105.1M138.7,108.6 132.3,103.7"/>
<path class="gb" d="M133.1,110 138.7,108.6M126.7,105.1 132.3,103.7"/>
<path class="fo" d="M198.3,162.8 191.8,157.2 197.4,155.5 203.9,161.4Z"/>
<path class="ao" d="M198.3,162.8 191.8,157.2M203.9,161.4 197.4,155.5"/>
<path class="go" d="M198.3,162.8 203.9,161.4M191.8,157.2 197.4,155.5"/>
<path class="fb" d="M185.4,109.9 178.9,105 184.6,103.5 191,108.4Z"/>
<path class="ab" d="M185.4,109.9 178.9,105M191,108.4 184.6,103.5"/>
<path class="gb" d="M185.4,109.9 191,108.4M178.9,105 184.6,103.5"/>
<path class="fg" d="M120.2,57.3 113.8,52.6 119.4,50.6 125.9,55.5Z"/>
<path class="ag" d="M120.2,57.3 113.8,52.6M125.9,55.5 119.4,50.6"/>
<path class="gg" d="M120.2,57.3 125.9,55.5M113.8,52.6 119.4,50.6"/>
<path class="fg" d="M90.6,106.2 90.5,102.3 90.2,100.3 89.5,98.5 88.6,96.7 87.3,94.8 85.7,92.7 91.3,79.7 97.7,76.1Z"/>
<path class="ag" d="M90.6,106.2 90.5,102.3 90.2,100.3 89.5,98.5 88.6,96.7 87.3,94.8 85.7,92.7M97.7,76.1 91.3,79.7"/>
<path class="gg" d="M90.6,106.2 97.7,76.1M85.7,92.7 91.3,79.7"/>
<path class="fo" d="M91.2,112.3 91.1,116.1 90.8,117.7 90.2,118.6 89.3,119 88,119.1 86.5,118.7 90.6,106.2 90.7,113.6 91.3,119.3 92.3,124.8 93.9,130.2 95.9,135.7 98.6,141.3Z"/>
<path class="ao" d="M91.2,112.3 91.1,116.1 90.8,117.7 90.2,118.6 89.3,119 88,119.1 86.5,118.7M98.6,141.3 95.9,135.7 93.9,130.2 92.3,124.8 91.3,119.3 90.7,113.6 90.6,106.2"/>
<path class="go" d="M91.2,112.3 98.6,141.3M86.5,118.7 90.6,106.2"/>
<path class="fo" d="M169.3,163.6 162.9,158.6 168.5,156.9 174.9,162.1Z"/>
<path class="ao" d="M169.3,163.6 162.9,158.6M174.9,162.1 168.5,156.9"/>
<path class="go" d="M169.3,163.6 174.9,162.1M162.9,158.6 168.5,156.9"/>
<path class="fb" d="M104.2,110.8 97.7,105.9 103.4,104.5 109.8,109.4Z"/>
<path class="ab" d="M104.2,110.8 97.7,105.9M109.8,109.4 103.4,104.5"/>
<path class="gb" d="M104.2,110.8 109.8,109.4M97.7,105.9 103.4,104.5"/>
<path class="fg" d="M143.6,58.7 137.1,54.3 142.7,55.2 149.2,58.9Z"/>
<path class="ag" d="M143.6,58.7 137.1,54.3M149.2,58.9 142.7,55.2"/>
<path class="gg" d="M143.6,58.7 149.2,58.9M137.1,54.3 142.7,55.2"/>
<path class="fg" d="M63.2,94.6 56.7,89.4 62.4,88.3 68.8,93.5Z"/>
<path class="ag" d="M63.2,94.6 56.7,89.4M68.8,93.5 62.4,88.3"/>
<path class="gg" d="M63.2,94.6 68.8,93.5M56.7,89.4 62.4,88.3"/>
<path class="fb" d="M156.4,110.6 150,105.8 155.6,104.3 162.1,109.2Z"/>
<path class="ab" d="M156.4,110.6 150,105.8M162.1,109.2 155.6,104.3"/>
<path class="gb" d="M156.4,110.6 162.1,109.2M150,105.8 155.6,104.3"/>
<path class="fo" d="M117.1,160.8 110.6,153.6 116.2,154.3 122.7,160.5Z"/>
<path class="ao" d="M117.1,160.8 110.6,153.6M122.7,160.5 116.2,154.3"/>
<path class="go" d="M117.1,160.8 122.7,160.5M110.6,153.6 116.2,154.3"/>
<path class="fb" d="M208.7,110.5 202.3,105.6 207.9,104.2 214.3,109.1Z"/>
<path class="ab" d="M208.7,110.5 202.3,105.6M214.3,109.1 207.9,104.2"/>
<path class="gb" d="M208.7,110.5 214.3,109.1M202.3,105.6 207.9,104.2"/>
<path class="fo" d="M140.4,164.3 133.9,159.2 139.6,158.1 146,163Z"/>
<path class="ao" d="M140.4,164.3 133.9,159.2M146,163 139.6,158.1"/>
<path class="go" d="M140.4,164.3 146,163M133.9,159.2 139.6,158.1"/>
<path class="fb" d="M75.2,111.6 68.8,106.7 74.4,105.3 80.9,110.2Z"/>
<path class="ab" d="M75.2,111.6 68.8,106.7M80.9,110.2 74.4,105.3"/>
<path class="gb" d="M75.2,111.6 80.9,110.2M68.8,106.7 74.4,105.3"/>
<path class="fb" d="M127.5,111.4 121.1,106.5 126.7,105.1 133.1,110Z"/>
<path class="ab" d="M127.5,111.4 121.1,106.5M133.1,110 126.7,105.1"/>
<path class="gb" d="M127.5,111.4 133.1,110M121.1,106.5 126.7,105.1"/>
<path class="fg" d="M184.6,66.9 178.1,67.8 183.8,72.8 190.2,68Z"/>
<path class="ag" d="M184.6,66.9 178.1,67.8M190.2,68 183.8,72.8"/>
<path class="gg" d="M184.6,66.9 190.2,68M178.1,67.8 183.8,72.8"/>
<path class="fo" d="M192.6,164.3 186.2,158.9 191.8,157.2 198.3,162.8Z"/>
<path class="ao" d="M192.6,164.3 186.2,158.9M198.3,162.8 191.8,157.2"/>
<path class="go" d="M192.6,164.3 198.3,162.8M186.2,158.9 191.8,157.2"/>
<path class="fg" d="M114.6,60 108.2,55.7 113.8,52.6 120.2,57.3Z"/>
<path class="ag" d="M114.6,60 108.2,55.7M120.2,57.3 113.8,52.6"/>
<path class="gg" d="M114.6,60 120.2,57.3M108.2,55.7 113.8,52.6"/>
<path class="fb" d="M179.8,111.3 173.3,106.4 178.9,105 185.4,109.9Z"/>
<path class="ab" d="M179.8,111.3 173.3,106.4M185.4,109.9 178.9,105"/>
<path class="gb" d="M179.8,111.3 185.4,109.9M173.3,106.4 178.9,105"/>
<path class="fo" d="M163.7,165.1 157.3,160.2 162.9,158.6 169.3,163.6Z"/>
<path class="ao" d="M163.7,165.1 157.3,160.2M169.3,163.6 162.9,158.6"/>
<path class="go" d="M163.7,165.1 169.3,163.6M157.3,160.2 162.9,158.6"/>
<path class="fb" d="M98.6,112.2 92.1,107.3 97.7,105.9 104.2,110.8Z"/>
<path class="ab" d="M98.6,112.2 92.1,107.3M104.2,110.8 97.7,105.9"/>
<path class="gb" d="M98.6,112.2 104.2,110.8M92.1,107.3 97.7,105.9"/>
<path class="fg" d="M161.2,62.9 154.8,59.9 160.4,62 166.9,63.6Z"/>
<path class="ag" d="M161.2,62.9 154.8,59.9M166.9,63.6 160.4,62"/>
<path class="gg" d="M161.2,62.9 166.9,63.6M154.8,59.9 160.4,62"/>
<path class="fb" d="M150.8,112.1 144.4,107.2 150,105.8 156.4,110.6Z"/>
<path class="ab" d="M150.8,112.1 144.4,107.2M156.4,110.6 150,105.8"/>
<path class="gb" d="M150.8,112.1 156.4,110.6M144.4,107.2 150,105.8"/>
<path class="fg" d="M109,63.7 102.5,60.3 108.2,55.7 114.6,60Z"/>
<path class="ag" d="M109,63.7 102.5,60.3M114.6,60 108.2,55.7"/>
<path class="gg" d="M109,63.7 114.6,60M102.5,60.3 108.2,55.7"/>
<path class="fo" d="M99.4,149.4 96.7,143.6 94.5,137.8 93,132.1 91.9,126.3 91.3,120.2 91.2,112.3 98.6,141.3 105,152.1Z"/>
<path class="ao" d="M99.4,149.4 96.7,143.6 94.5,137.8 93,132.1 91.9,126.3 91.3,120.2 91.2,112.3M105,152.1 98.6,141.3"/>
<path class="go" d="M99.4,149.4 105,152.1M91.2,112.3 98.6,141.3"/>
<path class="fg" d="M137.9,59.3 131.5,54.5 137.1,54.3 143.6,58.7Z"/>
<path class="ag" d="M137.9,59.3 131.5,54.5M143.6,58.7 137.1,54.3"/>
<path class="gg" d="M137.9,59.3 143.6,58.7M131.5,54.5 137.1,54.3"/>
<path class="fb" d="M203.1,111.9 196.6,107 202.3,105.6 208.7,110.5Z"/>
<path class="ab" d="M203.1,111.9 196.6,107M208.7,110.5 202.3,105.6"/>
<path class="gb" d="M203.1,111.9 208.7,110.5M196.6,107 202.3,105.6"/>
<path class="fg" d="M80.9,98.5 74.4,92.6 80,92.1 86.5,98.8Z"/>
<path class="ag" d="M80.9,98.5 74.4,92.6M86.5,98.8 80,92.1"/>
<path class="gg" d="M80.9,98.5 86.5,98.8M74.4,92.6 80,92.1"/>
<path class="fb" d="M69.6,113 63.2,108.1 68.8,106.7 75.2,111.6Z"/>
<path class="ab" d="M69.6,113 63.2,108.1M75.2,111.6 68.8,106.7"/>
<path class="gb" d="M69.6,113 75.2,111.6M63.2,108.1 68.8,106.7"/>
<path class="fo" d="M134.8,165.4 128.3,160 133.9,159.2 140.4,164.3Z"/>
<path class="ao" d="M134.8,165.4 128.3,160M140.4,164.3 133.9,159.2"/>
<path class="go" d="M134.8,165.4 140.4,164.3M128.3,160 133.9,159.2"/>
<path class="fg" d="M97.7,76.1 91.3,79.7 96.9,67.1 103.4,68.8Z"/>
<path class="ag" d="M97.7,76.1 91.3,79.7M103.4,68.8 96.9,67.1"/>
<path class="gg" d="M97.7,76.1 103.4,68.8M91.3,79.7 96.9,67.1"/>
<path class="fo" d="M187,165.7 180.6,160.5 186.2,158.9 192.6,164.3Z"/>
<path class="ao" d="M187,165.7 180.6,160.5M192.6,164.3 186.2,158.9"/>
<path class="go" d="M187,165.7 192.6,164.3M180.6,160.5 186.2,158.9"/>
<path class="fb" d="M121.9,112.9 115.4,108 121.1,106.5 127.5,111.4Z"/>
<path class="ab" d="M121.9,112.9 115.4,108M127.5,111.4 121.1,106.5"/>
<path class="gb" d="M121.9,112.9 127.5,111.4M115.4,108 121.1,106.5"/>
<path class="fg" d="M103.4,68.8 96.9,67.1 102.5,60.3 109,63.7Z"/>
<path class="ag" d="M103.4,68.8 96.9,67.1M109,63.7 102.5,60.3"/>
<path class="gg" d="M103.4,68.8 109,63.7M96.9,67.1 102.5,60.3"/>
<path class="fo" d="M111.4,160.6 105,152.1 110.6,153.6 117.1,160.8Z"/>
<path class="ao" d="M111.4,160.6 105,152.1M117.1,160.8 110.6,153.6"/>
<path class="go" d="M111.4,160.6 117.1,160.8M105,152.1 110.6,153.6"/>
<path class="fb" d="M174.1,112.7 167.7,107.8 173.3,106.4 179.8,111.3Z"/>
<path class="ab" d="M174.1,112.7 167.7,107.8M179.8,111.3 173.3,106.4"/>
<path class="gb" d="M174.1,112.7 179.8,111.3M167.7,107.8 173.3,106.4"/>
<path class="fo" d="M158.1,166.6 151.6,161.7 157.3,160.2 163.7,165.1Z"/>
<path class="ao" d="M158.1,166.6 151.6,161.7M163.7,165.1 157.3,160.2"/>
<path class="go" d="M158.1,166.6 163.7,165.1M151.6,161.7 157.3,160.2"/>
<path class="fb" d="M92.9,113.6 86.5,108.8 92.1,107.3 98.6,112.2Z"/>
<path class="ab" d="M92.9,113.6 86.5,108.8M98.6,112.2 92.1,107.3"/>
<path class="gb" d="M92.9,113.6 98.6,112.2M86.5,108.8 92.1,107.3"/>
<path class="fb" d="M145.2,113.5 138.7,108.6 144.4,107.2 150.8,112.1Z"/>
<path class="ab" d="M145.2,113.5 138.7,108.6M150.8,112.1 144.4,107.2"/>
<path class="gb" d="M145.2,113.5 150.8,112.1M138.7,108.6 144.4,107.2"/>
<path class="fo" d="M90.2,117.3 90,121.9 89.4,123.6 88.2,124.3 86.4,124.2 84,123.4 80.9,121.8 86.5,118.7 88,119.1 89.3,119 90.2,118.6 90.8,117.7 91.1,116.1 91.2,112.3Z"/>
<path class="ao" d="M90.2,117.3 90,121.9 89.4,123.6 88.2,124.3 86.4,124.2 84,123.4 80.9,121.8M91.2,112.3 91.1,116.1 90.8,117.7 90.2,118.6 89.3,119 88,119.1 86.5,118.7"/>
<path class="go" d="M90.2,117.3 91.2,112.3M80.9,121.8 86.5,118.7"/>
<path class="fg" d="M178.9,66.3 172.5,65.1 178.1,67.8 184.6,66.9Z"/>
<path class="ag" d="M178.9,66.3 172.5,65.1M184.6,66.9 178.1,67.8"/>
<path class="gg" d="M178.9,66.3 184.6,66.9M172.5,65.1 178.1,67.8"/>
<path class="fb" d="M197.4,113.3 191,108.4 196.6,107 203.1,111.9Z"/>
<path class="ab" d="M197.4,113.3 191,108.4M203.1,111.9 196.6,107"/>
<path class="gb" d="M197.4,113.3 203.1,111.9M191,108.4 196.6,107"/>
<path class="fg" d="M132.3,60.4 125.9,55.5 131.5,54.5 137.9,59.3Z"/>
<path class="ag" d="M132.3,60.4 125.9,55.5M137.9,59.3 131.5,54.5"/>
<path class="gg" d="M132.3,60.4 137.9,59.3M125.9,55.5 131.5,54.5"/>
<path class="fg" d="M202.3,67.8 195.8,69.9 201.4,73.2 207.9,67.9Z"/>
<path class="ag" d="M202.3,67.8 195.8,69.9M207.9,67.9 201.4,73.2"/>
<path class="gg" d="M202.3,67.8 207.9,67.9M195.8,69.9 201.4,73.2"/>
<path class="fg" d="M155.6,62.8 149.2,58.9 154.8,59.9 161.2,62.9Z"/>
<path class="ag" d="M155.6,62.8 149.2,58.9M161.2,62.9 154.8,59.9"/>
<path class="gg" d="M155.6,62.8 161.2,62.9M149.2,58.9 154.8,59.9"/>
<path class="fo" d="M129.1,166.4 122.7,160.5 128.3,160 134.8,165.4Z"/>
<path class="ao" d="M129.1,166.4 122.7,160.5M134.8,165.4 128.3,160"/>
<path class="go" d="M129.1,166.4 134.8,165.4M122.7,160.5 128.3,160"/>
<path class="fg" d="M75.2,99.1 68.8,93.5 74.4,92.6 80.9,98.5Z"/>
<path class="ag" d="M75.2,99.1 68.8,93.5M80.9,98.5 74.4,92.6"/>
<path class="gg" d="M75.2,99.1 80.9,98.5M68.8,93.5 74.4,92.6"/>
<path class="fo" d="M181.4,167.2 174.9,162.1 180.6,160.5 187,165.7Z"/>
<path class="ao" d="M181.4,167.2 174.9,162.1M187,165.7 180.6,160.5"/>
<path class="go" d="M181.4,167.2 187,165.7M174.9,162.1 180.6,160.5"/>
<path class="fb" d="M116.2,114.3 109.8,109.4 115.4,108 121.9,112.9Z"/>
<path class="ab" d="M116.2,114.3 109.8,109.4M121.9,112.9 115.4,108"/>
<path class="gb" d="M116.2,114.3 121.9,112.9M109.8,109.4 115.4,108"/>
<path class="fb" d="M168.5,114.1 162.1,109.2 167.7,107.8 174.1,112.7Z"/>
<path class="ab" d="M168.5,114.1 162.1,109.2M174.1,112.7 167.7,107.8"/>
<path class="gb" d="M168.5,114.1 174.1,112.7M162.1,109.2 167.7,107.8"/>
<path class="fo" d="M81.7,127.7 75.2,124.1 80.9,121.8 84,123.4 86.4,124.2 88.2,124.3 89.4,123.6 90,121.9 90.2,117.3Z"/>
<path class="ao" d="M81.7,127.7 75.2,124.1M90.2,117.3 90,121.9 89.4,123.6 88.2,124.3 86.4,124.2 84,123.4 80.9,121.8"/>
<path class="go" d="M81.7,127.7 90.2,117.3M75.2,124.1 80.9,121.8"/>
<path class="fo" d="M76,130 69.6,126 75.2,124.1 81.7,127.7Z"/>
<path class="ao" d="M76,130 69.6,126M81.7,127.7 75.2,124.1"/>
<path class="go" d="M76,130 81.7,127.7M69.6,126 75.2,124.1"/>
<path class="fo" d="M152.4,168 146,163 151.6,161.7 158.1,166.6Z"/>
<path class="ao" d="M152.4,168 146,163M158.1,166.6 151.6,161.7"/>
<path class="go" d="M152.4,168 158.1,166.6M146,163 151.6,161.7"/>
<path class="fb" d="M87.3,115.1 80.9,110.2 86.5,108.8 92.9,113.6Z"/>
<path class="ab" d="M87.3,115.1 80.9,110.2M92.9,113.6 86.5,108.8"/>
<path class="gb" d="M87.3,115.1 92.9,113.6M80.9,110.2 86.5,108.8"/>
<path class="fo" d="M105.8,160.1 99.4,149.4 105,152.1 111.4,160.6Z"/>
<path class="ao" d="M105.8,160.1 99.4,149.4M111.4,160.6 105,152.1"/>
<path class="go" d="M105.8,160.1 111.4,160.6M99.4,149.4 105,152.1"/>
<path class="fb" d="M139.6,114.9 133.1,110 138.7,108.6 145.2,113.5Z"/>
<path class="ab" d="M139.6,114.9 133.1,110M145.2,113.5 138.7,108.6"/>
<path class="gb" d="M139.6,114.9 145.2,113.5M133.1,110 138.7,108.6"/>
<path class="fg" d="M91.2,112.3 91.1,108.4 90.8,106.3 90.2,104.5 89.3,102.7 88,100.8 86.5,98.8 90.6,106.2 90.7,99 91.3,94.1 92.3,90.2 93.9,87.1 95.9,84.7 98.6,83.1Z"/>
<path class="ag" d="M91.2,112.3 91.1,108.4 90.8,106.3 90.2,104.5 89.3,102.7 88,100.8 86.5,98.8M98.6,83.1 95.9,84.7 93.9,87.1 92.3,90.2 91.3,94.1 90.7,99 90.6,106.2"/>
<path class="gg" d="M91.2,112.3 98.6,83.1M86.5,98.8 90.6,106.2"/>
<path class="fb" d="M191.8,114.7 185.4,109.9 191,108.4 197.4,113.3Z"/>
<path class="ab" d="M191.8,114.7 185.4,109.9M197.4,113.3 191,108.4"/>
<path class="gb" d="M191.8,114.7 197.4,113.3M185.4,109.9 191,108.4"/>
<path class="fg" d="M126.7,62.1 120.2,57.3 125.9,55.5 132.3,60.4Z"/>
<path class="ag" d="M126.7,62.1 120.2,57.3M132.3,60.4 125.9,55.5"/>
<path class="gg" d="M126.7,62.1 132.3,60.4M120.2,57.3 125.9,55.5"/>
<path class="fo" d="M175.8,168.6 169.3,163.6 174.9,162.1 181.4,167.2Z"/>
<path class="ao" d="M175.8,168.6 169.3,163.6M181.4,167.2 174.9,162.1"/>
<path class="go" d="M175.8,168.6 181.4,167.2M169.3,163.6 174.9,162.1"/>
<path class="fb" d="M110.6,115.7 104.2,110.8 109.8,109.4 116.2,114.3Z"/>
<path class="ab" d="M110.6,115.7 104.2,110.8M116.2,114.3 109.8,109.4"/>
<path class="gb" d="M110.6,115.7 116.2,114.3M104.2,110.8 109.8,109.4"/>
<path class="fg" d="M69.6,100 63.2,94.6 68.8,93.5 75.2,99.1Z"/>
<path class="ag" d="M69.6,100 63.2,94.6M75.2,99.1 68.8,93.5"/>
<path class="gg" d="M69.6,100 75.2,99.1M63.2,94.6 68.8,93.5"/>
<path class="fo" d="M123.5,167.2 117.1,160.8 122.7,160.5 129.1,166.4Z"/>
<path class="ao" d="M123.5,167.2 117.1,160.8M129.1,166.4 122.7,160.5"/>
<path class="go" d="M123.5,167.2 129.1,166.4M117.1,160.8 122.7,160.5"/>
<path class="fg" d="M173.3,66.2 166.9,63.6 172.5,65.1 178.9,66.3Z"/>
<path class="ag" d="M173.3,66.2 166.9,63.6M178.9,66.3 172.5,65.1"/>
<path class="gg" d="M173.3,66.2 178.9,66.3M166.9,63.6 172.5,65.1"/>
<path class="fg" d="M150,63.2 143.6,58.7 149.2,58.9 155.6,62.8Z"/>
<path class="ag" d="M150,63.2 143.6,58.7M155.6,62.8 149.2,58.9"/>
<path class="gg" d="M150,63.2 155.6,62.8M143.6,58.7 149.2,58.9"/>
<path class="fb" d="M162.9,115.5 156.4,110.6 162.1,109.2 168.5,114.1Z"/>
<path class="ab" d="M162.9,115.5 156.4,110.6M168.5,114.1 162.1,109.2"/>
<path class="gb" d="M162.9,115.5 168.5,114.1M156.4,110.6 162.1,109.2"/>
<path class="fg" d="M196.6,67.9 190.2,68 195.8,69.9 202.3,67.8Z"/>
<path class="ag" d="M196.6,67.9 190.2,68M202.3,67.8 195.8,69.9"/>
<path class="gg" d="M196.6,67.9 202.3,67.8M190.2,68 195.8,69.9"/>
<path class="fo" d="M146.8,169.3 140.4,164.3 146,163 152.4,168Z"/>
<path class="ao" d="M146.8,169.3 140.4,164.3M152.4,168 146,163"/>
<path class="go" d="M146.8,169.3 152.4,168M140.4,164.3 146,163"/>
<path class="fb" d="M215.1,115.4 208.7,110.5 214.3,109.1 220.8,114Z"/>
<path class="ab" d="M215.1,115.4 208.7,110.5M220.8,114 214.3,109.1"/>
<path class="gb" d="M215.1,115.4 220.8,114M208.7,110.5 214.3,109.1"/>
<path class="fb" d="M81.7,116.5 75.2,111.6 80.9,110.2 87.3,115.1Z"/>
<path class="ab" d="M81.7,116.5 75.2,111.6M87.3,115.1 80.9,110.2"/>
<path class="gb" d="M81.7,116.5 87.3,115.1M75.2,111.6 80.9,110.2"/>
<path class="fg" d="M90.2,117.3 90,112.4 89.4,109.7 88.2,107.2 86.4,104.6 84,101.7 80.9,98.5 86.5,98.8 88,100.8 89.3,102.7 90.2,104.5 90.8,106.3 91.1,108.4 91.2,112.3Z"/>
<path class="ag" d="M90.2,117.3 90,112.4 89.4,109.7 88.2,107.2 86.4,104.6 84,101.7 80.9,98.5M91.2,112.3 91.1,108.4 90.8,106.3 90.2,104.5 89.3,102.7 88,100.8 86.5,98.8"/>
<path class="gg" d="M90.2,117.3 91.2,112.3M80.9,98.5 86.5,98.8"/>
<path class="fb" d="M133.9,116.3 127.5,111.4 133.1,110 139.6,114.9Z"/>
<path class="ab" d="M133.9,116.3 127.5,111.4M139.6,114.9 133.1,110"/>
<path class="gb" d="M133.9,116.3 139.6,114.9M127.5,111.4 133.1,110"/>
<path class="fg" d="M121.1,64.4 114.6,60 120.2,57.3 126.7,62.1Z"/>
<path class="ag" d="M121.1,64.4 114.6,60M126.7,62.1 120.2,57.3"/>
<path class="gg" d="M121.1,64.4 126.7,62.1M114.6,60 120.2,57.3"/>
<path class="fb" d="M186.2,116.2 179.8,111.3 185.4,109.9 191.8,114.7Z"/>
<path class="ab" d="M186.2,116.2 179.8,111.3M191.8,114.7 185.4,109.9"/>
<path class="gb" d="M186.2,116.2 191.8,114.7M179.8,111.3 185.4,109.9"/>
<path class="fo" d="M93.7,144.4 92.6,140.3 91.7,136.3 91,132.2 90.5,127.9 90.3,123.4 90.2,117.3 91.2,112.3 91.3,120.2 91.9,126.3 93,132.1 94.5,137.8 96.7,143.6 99.4,149.4Z"/>
<path class="ao" d="M93.7,144.4 92.6,140.3 91.7,136.3 91,132.2 90.5,127.9 90.3,123.4 90.2,117.3M99.4,149.4 96.7,143.6 94.5,137.8 93,132.1 91.9,126.3 91.3,120.2 91.2,112.3"/>
<path class="go" d="M93.7,144.4 99.4,149.4M90.2,117.3 91.2,112.3"/>
<path class="fo" d="M170.1,170 163.7,165.1 169.3,163.6 175.8,168.6Z"/>
<path class="ao" d="M170.1,170 163.7,165.1M175.8,168.6 169.3,163.6"/>
<path class="go" d="M170.1,170 175.8,168.6M163.7,165.1 169.3,163.6"/>
<path class="fb" d="M105,117.1 98.6,112.2 104.2,110.8 110.6,115.7Z"/>
<path class="ab" d="M105,117.1 98.6,112.2M110.6,115.7 104.2,110.8"/>
<path class="gb" d="M105,117.1 110.6,115.7M98.6,112.2 104.2,110.8"/>
<path class="fo" d="M100.2,159 93.7,144.4 99.4,149.4 105.8,160.1Z"/>
<path class="ao" d="M100.2,159 93.7,144.4M105.8,160.1 99.4,149.4"/>
<path class="go" d="M100.2,159 105.8,160.1M93.7,144.4 99.4,149.4"/>
<path class="fb" d="M157.3,117 150.8,112.1 156.4,110.6 162.9,115.5Z"/>
<path class="ab" d="M157.3,117 150.8,112.1M162.9,115.5 156.4,110.6"/>
<path class="gb" d="M157.3,117 162.9,115.5M150.8,112.1 156.4,110.6"/>
<path class="fg" d="M98.6,83.1 95.9,84.7 93.9,87.1 92.3,90.2 91.3,94.1 90.7,99 90.6,106.2 97.7,76.1 104.2,76.2Z"/>
<path class="ag" d="M98.6,83.1 95.9,84.7 93.9,87.1 92.3,90.2 91.3,94.1 90.7,99 90.6,106.2M104.2,76.2 97.7,76.1"/>
<path class="gg" d="M98.6,83.1 104.2,76.2M90.6,106.2 97.7,76.1"/>
<path class="fo" d="M117.9,167.9 111.4,160.6 117.1,160.8 123.5,167.2Z"/>
<path class="ao" d="M117.9,167.9 111.4,160.6M123.5,167.2 117.1,160.8"/>
<path class="go" d="M117.9,167.9 123.5,167.2M111.4,160.6 117.1,160.8"/>
<path class="fg" d="M144.4,64.1 137.9,59.3 143.6,58.7 150,63.2Z"/>
<path class="ag" d="M144.4,64.1 137.9,59.3M150,63.2 143.6,58.7"/>
<path class="gg" d="M144.4,64.1 150,63.2M137.9,59.3 143.6,58.7"/>
<path class="fb" d="M209.5,116.8 203.1,111.9 208.7,110.5 215.1,115.4Z"/>
<path class="ab" d="M209.5,116.8 203.1,111.9M215.1,115.4 208.7,110.5"/>
<path class="gb" d="M209.5,116.8 215.1,115.4M203.1,111.9 208.7,110.5"/>
<path class="fo" d="M141.2,170.6 134.8,165.4 140.4,164.3 146.8,169.3Z"/>
<path class="ao" d="M141.2,170.6 134.8,165.4M146.8,169.3 140.4,164.3"/>
<path class="go" d="M141.2,170.6 146.8,169.3M134.8,165.4 140.4,164.3"/>
<path class="fb" d="M76,117.9 69.6,113 75.2,111.6 81.7,116.5Z"/>
<path class="ab" d="M76,117.9 69.6,113M81.7,116.5 75.2,111.6"/>
<path class="gb" d="M76,117.9 81.7,116.5M69.6,113 75.2,111.6"/>
<path class="fg" d="M115.4,67.4 109,63.7 114.6,60 121.1,64.4Z"/>
<path class="ag" d="M115.4,67.4 109,63.7M121.1,64.4 114.6,60"/>
<path class="gg" d="M115.4,67.4 121.1,64.4M109,63.7 114.6,60"/>
<path class="fg" d="M167.7,66.5 161.2,62.9 166.9,63.6 173.3,66.2Z"/>
<path class="ag" d="M167.7,66.5 161.2,62.9M173.3,66.2 166.9,63.6"/>
<path class="gg" d="M167.7,66.5 173.3,66.2M161.2,62.9 166.9,63.6"/>
<path class="fb" d="M128.3,117.8 121.9,112.9 127.5,111.4 133.9,116.3Z"/>
<path class="ab" d="M128.3,117.8 121.9,112.9M133.9,116.3 127.5,111.4"/>
<path class="gb" d="M128.3,117.8 133.9,116.3M121.9,112.9 127.5,111.4"/>
<path class="fg" d="M191,68.3 184.6,66.9 190.2,68 196.6,67.9Z"/>
<path class="ag" d="M191,68.3 184.6,66.9M196.6,67.9 190.2,68"/>
<path class="gg" d="M191,68.3 196.6,67.9M184.6,66.9 190.2,68"/>
<path class="fb" d="M180.6,117.6 174.1,112.7 179.8,111.3 186.2,116.2Z"/>
<path class="ab" d="M180.6,117.6 174.1,112.7M186.2,116.2 179.8,111.3"/>
<path class="gb" d="M180.6,117.6 186.2,116.2M174.1,112.7 179.8,111.3"/>
<path class="fo" d="M164.5,171.5 158.1,166.6 163.7,165.1 170.1,170Z"/>
<path class="ao" d="M164.5,171.5 158.1,166.6M170.1,170 163.7,165.1"/>
<path class="go" d="M164.5,171.5 170.1,170M158.1,166.6 163.7,165.1"/>
<path class="fb" d="M99.4,118.5 92.9,113.6 98.6,112.2 105,117.1Z"/>
<path class="ab" d="M99.4,118.5 92.9,113.6M105,117.1 98.6,112.2"/>
<path class="gb" d="M99.4,118.5 105,117.1M92.9,113.6 98.6,112.2"/>
<path class="fg" d="M109.8,71.2 103.4,68.8 109,63.7 115.4,67.4Z"/>
<path class="ag" d="M109.8,71.2 103.4,68.8M115.4,67.4 109,63.7"/>
<path class="gg" d="M109.8,71.2 115.4,67.4M103.4,68.8 109,63.7"/>
<path class="fb" d="M151.6,118.4 145.2,113.5 150.8,112.1 157.3,117Z"/>
<path class="ab" d="M151.6,118.4 145.2,113.5M157.3,117 150.8,112.1"/>
<path class="gb" d="M151.6,118.4 157.3,117M145.2,113.5 150.8,112.1"/>
<path class="fg" d="M81.7,105.3 75.2,99.1 80.9,98.5 84,101.7 86.4,104.6 88.2,107.2 89.4,109.7 90,112.4 90.2,117.3Z"/>
<path class="ag" d="M81.7,105.3 75.2,99.1M90.2,117.3 90,112.4 89.4,109.7 88.2,107.2 86.4,104.6 84,101.7 80.9,98.5"/>
<path class="gg" d="M81.7,105.3 90.2,117.3M75.2,99.1 80.9,98.5"/>
<path class="fg" d="M104.2,76.2 97.7,76.1 103.4,68.8 109.8,71.2Z"/>
<path class="ag" d="M104.2,76.2 97.7,76.1M109.8,71.2 103.4,68.8"/>
<path class="gg" d="M104.2,76.2 109.8,71.2M97.7,76.1 103.4,68.8"/>
<path class="fb" d="M203.9,118.2 197.4,113.3 203.1,111.9 209.5,116.8Z"/>
<path class="ab" d="M203.9,118.2 197.4,113.3M209.5,116.8 203.1,111.9"/>
<path class="gb" d="M203.9,118.2 209.5,116.8M197.4,113.3 203.1,111.9"/>
<path class="fg" d="M138.7,65.3 132.3,60.4 137.9,59.3 144.4,64.1Z"/>
<path class="ag" d="M138.7,65.3 132.3,60.4M144.4,64.1 137.9,59.3"/>
<path class="gg" d="M138.7,65.3 144.4,64.1M132.3,60.4 137.9,59.3"/>
<path class="fo" d="M135.6,171.9 129.1,166.4 134.8,165.4 141.2,170.6Z"/>
<path class="ao" d="M135.6,171.9 129.1,166.4M141.2,170.6 134.8,165.4"/>
<path class="go" d="M135.6,171.9 141.2,170.6M129.1,166.4 134.8,165.4"/>
<path class="fo" d="M112.2,168.5 105.8,160.1 111.4,160.6 117.9,167.9Z"/>
<path class="ao" d="M112.2,168.5 105.8,160.1M117.9,167.9 111.4,160.6"/>
<path class="go" d="M112.2,168.5 117.9,167.9M105.8,160.1 111.4,160.6"/>
<path class="fb" d="M122.7,119.2 116.2,114.3 121.9,112.9 128.3,117.8Z"/>
<path class="ab" d="M122.7,119.2 116.2,114.3M128.3,117.8 121.9,112.9"/>
<path class="gb" d="M122.7,119.2 128.3,117.8M116.2,114.3 121.9,112.9"/>
<path class="fg" d="M162.1,67 155.6,62.8 161.2,62.9 167.7,66.5Z"/>
<path class="ag" d="M162.1,67 155.6,62.8M167.7,66.5 161.2,62.9"/>
<path class="gg" d="M162.1,67 167.7,66.5M155.6,62.8 161.2,62.9"/>
<path class="fb" d="M174.9,119 168.5,114.1 174.1,112.7 180.6,117.6Z"/>
<path class="ab" d="M174.9,119 168.5,114.1M180.6,117.6 174.1,112.7"/>
<path class="gb" d="M174.9,119 180.6,117.6M168.5,114.1 174.1,112.7"/>
<path class="fo" d="M88.2,121.5 88.1,125.9 87.6,127.6 86.8,128.5 85.5,128.8 83.8,128.5 81.7,127.7 90.2,117.3 90.3,123.4 90.5,127.9 91,132.2 91.7,136.3 92.6,140.3 93.7,144.4Z"/>
<path class="ao" d="M88.2,121.5 88.1,125.9 87.6,127.6 86.8,128.5 85.5,128.8 83.8,128.5 81.7,127.7M93.7,144.4 92.6,140.3 91.7,136.3 91,132.2 90.5,127.9 90.3,123.4 90.2,117.3"/>
<path class="go" d="M88.2,121.5 93.7,144.4M81.7,127.7 90.2,117.3"/>
<path class="fg" d="M185.4,68.8 178.9,66.3 184.6,66.9 191,68.3Z"/>
<path class="ag" d="M185.4,68.8 178.9,66.3M191,68.3 184.6,66.9"/>
<path class="gg" d="M185.4,68.8 191,68.3M178.9,66.3 184.6,66.9"/>
<path class="fo" d="M158.9,172.9 152.4,168 158.1,166.6 164.5,171.5Z"/>
<path class="ao" d="M158.9,172.9 152.4,168M164.5,171.5 158.1,166.6"/>
<path class="go" d="M158.9,172.9 164.5,171.5M152.4,168 158.1,166.6"/>
<path class="fb" d="M93.7,120 87.3,115.1 92.9,113.6 99.4,118.5Z"/>
<path class="ab" d="M93.7,120 87.3,115.1M99.4,118.5 92.9,113.6"/>
<path class="gb" d="M93.7,120 99.4,118.5M87.3,115.1 92.9,113.6"/>
<path class="fb" d="M146,119.8 139.6,114.9 145.2,113.5 151.6,118.4Z"/>
<path class="ab" d="M146,119.8 139.6,114.9M151.6,118.4 145.2,113.5"/>
<path class="gb" d="M146,119.8 151.6,118.4M139.6,114.9 145.2,113.5"/>
<path class="fb" d="M198.3,119.6 191.8,114.7 197.4,113.3 203.9,118.2Z"/>
<path class="ab" d="M198.3,119.6 191.8,114.7M203.9,118.2 197.4,113.3"/>
<path class="gb" d="M198.3,119.6 203.9,118.2M191.8,114.7 197.4,113.3"/>
<path class="fg" d="M133.1,66.9 126.7,62.1 132.3,60.4 138.7,65.3Z"/>
<path class="ag" d="M133.1,66.9 126.7,62.1M138.7,65.3 132.3,60.4"/>
<path class="gg" d="M133.1,66.9 138.7,65.3M126.7,62.1 132.3,60.4"/>
<path class="fo" d="M129.9,173.1 123.5,167.2 129.1,166.4 135.6,171.9Z"/>
<path class="ao" d="M129.9,173.1 123.5,167.2M135.6,171.9 129.1,166.4"/>
<path class="go" d="M129.9,173.1 135.6,171.9M123.5,167.2 129.1,166.4"/>
<path class="fg" d="M76,105.8 69.6,100 75.2,99.1 81.7,105.3Z"/>
<path class="ag" d="M76,105.8 69.6,100M81.7,105.3 75.2,99.1"/>
<path class="gg" d="M76,105.8 81.7,105.3M69.6,100 75.2,99.1"/>
<path class="fg" d="M208.7,69 202.3,67.8 207.9,67.9 214.3,68.1Z"/>
<path class="ag" d="M208.7,69 202.3,67.8M214.3,68.1 207.9,67.9"/>
<path class="gg" d="M208.7,69 214.3,68.1M202.3,67.8 207.9,67.9"/>
<path class="fb" d="M117.1,120.6 110.6,115.7 116.2,114.3 122.7,119.2Z"/>
<path class="ab" d="M117.1,120.6 110.6,115.7M122.7,119.2 116.2,114.3"/>
<path class="gb" d="M117.1,120.6 122.7,119.2M110.6,115.7 116.2,114.3"/>
<path class="fo" d="M106.6,168.8 100.2,159 105.8,160.1 112.2,168.5Z"/>
<path class="ao" d="M106.6,168.8 100.2,159M112.2,168.5 105.8,160.1"/>
<path class="go" d="M106.6,168.8 112.2,168.5M100.2,159 105.8,160.1"/>
<path class="fo" d="M94.6,157.1 92.5,151.7 90.8,146.3 89.6,140.9 88.8,135.3 88.4,129.3 88.2,121.5 93.7,144.4 100.2,159Z"/>
<path class="ao" d="M94.6,157.1 92.5,151.7 90.8,146.3 89.6,140.9 88.8,135.3 88.4,129.3 88.2,121.5M100.2,159 93.7,144.4"/>
<path class="go" d="M94.6,157.1 100.2,159M88.2,121.5 93.7,144.4"/>
<path class="fb" d="M169.3,120.4 162.9,115.5 168.5,114.1 174.9,119Z"/>
<path class="ab" d="M169.3,120.4 162.9,115.5M174.9,119 168.5,114.1"/>
<path class="gb" d="M169.3,120.4 174.9,119M162.9,115.5 168.5,114.1"/>
<path class="fg" d="M156.4,67.8 150,63.2 155.6,62.8 162.1,67Z"/>
<path class="ag" d="M156.4,67.8 150,63.2M162.1,67 155.6,62.8"/>
<path class="gg" d="M156.4,67.8 162.1,67M150,63.2 155.6,62.8"/>
<path class="fo" d="M153.3,174.3 146.8,169.3 152.4,168 158.9,172.9Z"/>
<path class="ao" d="M153.3,174.3 146.8,169.3M158.9,172.9 152.4,168"/>
<path class="go" d="M153.3,174.3 158.9,172.9M146.8,169.3 152.4,168"/>
<path class="fb" d="M88.1,121.4 81.7,116.5 87.3,115.1 93.7,120Z"/>
<path class="ab" d="M88.1,121.4 81.7,116.5M93.7,120 87.3,115.1"/>
<path class="gb" d="M88.1,121.4 93.7,120M81.7,116.5 87.3,115.1"/>
<path class="fg" d="M179.8,69.5 173.3,66.2 178.9,66.3 185.4,68.8Z"/>
<path class="ag" d="M179.8,69.5 173.3,66.2M185.4,68.8 178.9,66.3"/>
<path class="gg" d="M179.8,69.5 185.4,68.8M173.3,66.2 178.9,66.3"/>
<path class="fb" d="M140.4,121.2 133.9,116.3 139.6,114.9 146,119.8Z"/>
<path class="ab" d="M140.4,121.2 133.9,116.3M146,119.8 139.6,114.9"/>
<path class="gb" d="M140.4,121.2 146,119.8M133.9,116.3 139.6,114.9"/>
<path class="fg" d="M127.5,68.9 121.1,64.4 126.7,62.1 133.1,66.9Z"/>
<path class="ag" d="M127.5,68.9 121.1,64.4M133.1,66.9 126.7,62.1"/>
<path class="gg" d="M127.5,68.9 133.1,66.9M121.1,64.4 126.7,62.1"/>
<path class="fb" d="M192.6,121.1 186.2,116.2 191.8,114.7 198.3,119.6Z"/>
<path class="ab" d="M192.6,121.1 186.2,116.2M198.3,119.6 191.8,114.7"/>
<path class="gb" d="M192.6,121.1 198.3,119.6M186.2,116.2 191.8,114.7"/>
<path class="fo" d="M85.5,125.1 85.3,130 84.7,131.8 83.5,132.5 81.6,132.5 79.2,131.6 76,130 81.7,127.7 83.8,128.5 85.5,128.8 86.8,128.5 87.6,127.6 88.1,125.9 88.2,121.5Z"/>
<path class="ao" d="M85.5,125.1 85.3,130 84.7,131.8 83.5,132.5 81.6,132.5 79.2,131.6 76,130M88.2,121.5 88.1,125.9 87.6,127.6 86.8,128.5 85.5,128.8 83.8,128.5 81.7,127.7"/>
<path class="go" d="M85.5,125.1 88.2,121.5M76,130 81.7,127.7"/>
<path class="fo" d="M124.3,174.3 117.9,167.9 123.5,167.2 129.9,173.1Z"/>
<path class="ao" d="M124.3,174.3 117.9,167.9M129.9,173.1 123.5,167.2"/>
<path class="go" d="M124.3,174.3 129.9,173.1M117.9,167.9 123.5,167.2"/>
<path class="fb" d="M111.4,122 105,117.1 110.6,115.7 117.1,120.6Z"/>
<path class="ab" d="M111.4,122 105,117.1M117.1,120.6 110.6,115.7"/>
<path class="gb" d="M111.4,122 117.1,120.6M105,117.1 110.6,115.7"/>
<path class="fg" d="M203.1,70.1 196.6,67.9 202.3,67.8 208.7,69Z"/>
<path class="ag" d="M203.1,70.1 196.6,67.9M208.7,69 202.3,67.8"/>
<path class="gg" d="M203.1,70.1 208.7,69M196.6,67.9 202.3,67.8"/>
<path class="fb" d="M163.7,121.9 157.3,117 162.9,115.5 169.3,120.4Z"/>
<path class="ab" d="M163.7,121.9 157.3,117M169.3,120.4 162.9,115.5"/>
<path class="gb" d="M163.7,121.9 169.3,120.4M157.3,117 162.9,115.5"/>
<path class="fo" d="M147.6,175.7 141.2,170.6 146.8,169.3 153.3,174.3Z"/>
<path class="ao" d="M147.6,175.7 141.2,170.6M153.3,174.3 146.8,169.3"/>
<path class="go" d="M147.6,175.7 153.3,174.3M141.2,170.6 146.8,169.3"/>
<path class="fg" d="M150.8,68.9 144.4,64.1 150,63.2 156.4,67.8Z"/>
<path class="ag" d="M150.8,68.9 144.4,64.1M156.4,67.8 150,63.2"/>
<path class="gg" d="M150.8,68.9 156.4,67.8M144.4,64.1 150,63.2"/>
<path class="fb" d="M82.5,122.8 76,117.9 81.7,116.5 88.1,121.4Z"/>
<path class="ab" d="M82.5,122.8 76,117.9M88.1,121.4 81.7,116.5"/>
<path class="gb" d="M82.5,122.8 88.1,121.4M76,117.9 81.7,116.5"/>
<path class="fo" d="M101,169 94.6,157.1 100.2,159 106.6,168.8Z"/>
<path class="ao" d="M101,169 94.6,157.1M106.6,168.8 100.2,159"/>
<path class="go" d="M101,169 106.6,168.8M94.6,157.1 100.2,159"/>
<path class="fg" d="M121.9,71.4 115.4,67.4 121.1,64.4 127.5,68.9Z"/>
<path class="ag" d="M121.9,71.4 115.4,67.4M127.5,68.9 121.1,64.4"/>
<path class="gg" d="M121.9,71.4 127.5,68.9M115.4,67.4 121.1,64.4"/>
<path class="fb" d="M134.8,122.6 128.3,117.8 133.9,116.3 140.4,121.2Z"/>
<path class="ab" d="M134.8,122.6 128.3,117.8M140.4,121.2 133.9,116.3"/>
<path class="gb" d="M134.8,122.6 140.4,121.2M128.3,117.8 133.9,116.3"/>
<path class="fg" d="M174.1,70.4 167.7,66.5 173.3,66.2 179.8,69.5Z"/>
<path class="ag" d="M174.1,70.4 167.7,66.5M179.8,69.5 173.3,66.2"/>
<path class="gg" d="M174.1,70.4 179.8,69.5M167.7,66.5 173.3,66.2"/>
<path class="fb" d="M187,122.5 180.6,117.6 186.2,116.2 192.6,121.1Z"/>
<path class="ab" d="M187,122.5 180.6,117.6M192.6,121.1 186.2,116.2"/>
<path class="gb" d="M187,122.5 192.6,121.1M180.6,117.6 186.2,116.2"/>
<path class="fg" d="M93.7,95.6 92.6,97.8 91.7,100.5 91,103.6 90.5,107.1 90.3,111.3 90.2,117.3 91.2,112.3 91.3,104.7 91.9,99.5 93,95.3 94.5,91.9 96.7,89.4 99.4,87.7Z"/>
<path class="ag" d="M93.7,95.6 92.6,97.8 91.7,100.5 91,103.6 90.5,107.1 90.3,111.3 90.2,117.3M99.4,87.7 96.7,89.4 94.5,91.9 93,95.3 91.9,99.5 91.3,104.7 91.2,112.3"/>
<path class="gg" d="M93.7,95.6 99.4,87.7M90.2,117.3 91.2,112.3"/>
<path class="fb" d="M105.8,123.4 99.4,118.5 105,117.1 111.4,122Z"/>
<path class="ab" d="M105.8,123.4 99.4,118.5M111.4,122 105,117.1"/>
<path class="gb" d="M105.8,123.4 111.4,122M99.4,118.5 105,117.1"/>
<path class="fo" d="M118.7,175.4 112.2,168.5 117.9,167.9 124.3,174.3Z"/>
<path class="ao" d="M118.7,175.4 112.2,168.5M124.3,174.3 117.9,167.9"/>
<path class="go" d="M118.7,175.4 124.3,174.3M112.2,168.5 117.9,167.9"/>
<path class="fb" d="M158.1,123.3 151.6,118.4 157.3,117 163.7,121.9Z"/>
<path class="ab" d="M158.1,123.3 151.6,118.4M163.7,121.9 157.3,117"/>
<path class="gb" d="M158.1,123.3 163.7,121.9M151.6,118.4 157.3,117"/>
<path class="fg" d="M197.4,71.1 191,68.3 196.6,67.9 203.1,70.1Z"/>
<path class="ag" d="M197.4,71.1 191,68.3M203.1,70.1 196.6,67.9"/>
<path class="gg" d="M197.4,71.1 203.1,70.1M191,68.3 196.6,67.9"/>
<path class="fg" d="M99.4,87.7 96.7,89.4 94.5,91.9 93,95.3 91.9,99.5 91.3,104.7 91.2,112.3 98.6,83.1 105,82.2Z"/>
<path class="ag" d="M99.4,87.7 96.7,89.4 94.5,91.9 93,95.3 91.9,99.5 91.3,104.7 91.2,112.3M105,82.2 98.6,83.1"/>
<path class="gg" d="M99.4,87.7 105,82.2M91.2,112.3 98.6,83.1"/>
<path class="fg" d="M116.2,74.3 109.8,71.2 115.4,67.4 121.9,71.4Z"/>
<path class="ag" d="M116.2,74.3 109.8,71.2M121.9,71.4 115.4,67.4"/>
<path class="gg" d="M116.2,74.3 121.9,71.4M109.8,71.2 115.4,67.4"/>
<path class="fg" d="M88.2,121.5 88.1,116.9 87.6,114.5 86.8,112.3 85.5,110.1 83.8,107.8 81.7,105.3 90.2,117.3 90.3,111.3 90.5,107.1 91,103.6 91.7,100.5 92.6,97.8 93.7,95.6Z"/>
<path class="ag" d="M88.2,121.5 88.1,116.9 87.6,114.5 86.8,112.3 85.5,110.1 83.8,107.8 81.7,105.3M93.7,95.6 92.6,97.8 91.7,100.5 91,103.6 90.5,107.1 90.3,111.3 90.2,117.3"/>
<path class="gg" d="M88.2,121.5 93.7,95.6M81.7,105.3 90.2,117.3"/>
<path class="fo" d="M142,177.1 135.6,171.9 141.2,170.6 147.6,175.7Z"/>
<path class="ao" d="M142,177.1 135.6,171.9M147.6,175.7 141.2,170.6"/>
<path class="go" d="M142,177.1 147.6,175.7M135.6,171.9 141.2,170.6"/>
<path class="fg" d="M145.2,70.2 138.7,65.3 144.4,64.1 150.8,68.9Z"/>
<path class="ag" d="M145.2,70.2 138.7,65.3M150.8,68.9 144.4,64.1"/>
<path class="gg" d="M145.2,70.2 150.8,68.9M138.7,65.3 144.4,64.1"/>
<path class="fb" d="M129.1,124.1 122.7,119.2 128.3,117.8 134.8,122.6Z"/>
<path class="ab" d="M129.1,124.1 122.7,119.2M134.8,122.6 128.3,117.8"/>
<path class="gb" d="M129.1,124.1 134.8,122.6M122.7,119.2 128.3,117.8"/>
<path class="fb" d="M181.4,123.9 174.9,119 180.6,117.6 187,122.5Z"/>
<path class="ab" d="M181.4,123.9 174.9,119M187,122.5 180.6,117.6"/>
<path class="gb" d="M181.4,123.9 187,122.5M174.9,119 180.6,117.6"/>
<path class="fg" d="M168.5,71.4 162.1,67 167.7,66.5 174.1,70.4Z"/>
<path class="ag" d="M168.5,71.4 162.1,67M174.1,70.4 167.7,66.5"/>
<path class="gg" d="M168.5,71.4 174.1,70.4M162.1,67 167.7,66.5"/>
<path class="fg" d="M85.5,125.1 85.3,119.9 84.7,117.1 83.5,114.5 81.6,111.8 79.2,109 76,105.8 81.7,105.3 83.8,107.8 85.5,110.1 86.8,112.3 87.6,114.5 88.1,116.9 88.2,121.5Z"/>
<path class="ag" d="M85.5,125.1 85.3,119.9 84.7,117.1 83.5,114.5 81.6,111.8 79.2,109 76,105.8M88.2,121.5 88.1,116.9 87.6,114.5 86.8,112.3 85.5,110.1 83.8,107.8 81.7,105.3"/>
<path class="gg" d="M85.5,125.1 88.2,121.5M76,105.8 81.7,105.3"/>
<path class="fg" d="M110.6,77.8 104.2,76.2 109.8,71.2 116.2,74.3Z"/>
<path class="ag" d="M110.6,77.8 104.2,76.2M116.2,74.3 109.8,71.2"/>
<path class="gg" d="M110.6,77.8 116.2,74.3M104.2,76.2 109.8,71.2"/>
<path class="fo" d="M95.4,168.9 88.9,153.8 94.6,157.1 101,169Z"/>
<path class="ao" d="M95.4,168.9 88.9,153.8M101,169 94.6,157.1"/>
<path class="go" d="M95.4,168.9 101,169M88.9,153.8 94.6,157.1"/>
<path class="fo" d="M88.9,153.8 87.8,149.6 86.9,145.4 86.3,141 85.8,136.5 85.6,131.6 85.5,125.1 88.2,121.5 88.4,129.3 88.8,135.3 89.6,140.9 90.8,146.3 92.5,151.7 94.6,157.1Z"/>
<path class="ao" d="M88.9,153.8 87.8,149.6 86.9,145.4 86.3,141 85.8,136.5 85.6,131.6 85.5,125.1M94.6,157.1 92.5,151.7 90.8,146.3 89.6,140.9 88.8,135.3 88.4,129.3 88.2,121.5"/>
<path class="go" d="M88.9,153.8 94.6,157.1M85.5,125.1 88.2,121.5"/>
<path class="fb" d="M100.2,124.9 93.7,120 99.4,118.5 105.8,123.4Z"/>
<path class="ab" d="M100.2,124.9 93.7,120M105.8,123.4 99.4,118.5"/>
<path class="gb" d="M100.2,124.9 105.8,123.4M93.7,120 99.4,118.5"/>
<path class="fo" d="M113.1,176.5 106.6,168.8 112.2,168.5 118.7,175.4Z"/>
<path class="ao" d="M113.1,176.5 106.6,168.8M118.7,175.4 112.2,168.5"/>
<path class="go" d="M113.1,176.5 118.7,175.4M106.6,168.8 112.2,168.5"/>
<path class="fb" d="M152.4,124.7 146,119.8 151.6,118.4 158.1,123.3Z"/>
<path class="ab" d="M152.4,124.7 146,119.8M158.1,123.3 151.6,118.4"/>
<path class="gb" d="M152.4,124.7 158.1,123.3M146,119.8 151.6,118.4"/>
<path class="fg" d="M105,82.2 98.6,83.1 104.2,76.2 110.6,77.8Z"/>
<path class="ag" d="M105,82.2 98.6,83.1M110.6,77.8 104.2,76.2"/>
<path class="gg" d="M105,82.2 110.6,77.8M98.6,83.1 104.2,76.2"/>
<path class="fg" d="M191.8,72.3 185.4,68.8 191,68.3 197.4,71.1Z"/>
<path class="ag" d="M191.8,72.3 185.4,68.8M197.4,71.1 191,68.3"/>
<path class="gg" d="M191.8,72.3 197.4,71.1M185.4,68.8 191,68.3"/>
<path class="fo" d="M136.4,178.5 129.9,173.1 135.6,171.9 142,177.1Z"/>
<path class="ao" d="M136.4,178.5 129.9,173.1M142,177.1 135.6,171.9"/>
<path class="go" d="M136.4,178.5 142,177.1M129.9,173.1 135.6,171.9"/>
<path class="fg" d="M139.6,71.7 133.1,66.9 138.7,65.3 145.2,70.2Z"/>
<path class="ag" d="M139.6,71.7 133.1,66.9M145.2,70.2 138.7,65.3"/>
<path class="gg" d="M139.6,71.7 145.2,70.2M133.1,66.9 138.7,65.3"/>
<path class="fb" d="M123.5,125.5 117.1,120.6 122.7,119.2 129.1,124.1Z"/>
<path class="ab" d="M123.5,125.5 117.1,120.6M129.1,124.1 122.7,119.2"/>
<path class="gb" d="M123.5,125.5 129.1,124.1M117.1,120.6 122.7,119.2"/>
<path class="fb" d="M175.8,125.3 169.3,120.4 174.9,119 181.4,123.9Z"/>
<path class="ab" d="M175.8,125.3 169.3,120.4M181.4,123.9 174.9,119"/>
<path class="gb" d="M175.8,125.3 181.4,123.9M169.3,120.4 174.9,119"/>
<path class="fg" d="M162.9,72.5 156.4,67.8 162.1,67 168.5,71.4Z"/>
<path class="ag" d="M162.9,72.5 156.4,67.8M168.5,71.4 162.1,67"/>
<path class="gg" d="M162.9,72.5 168.5,71.4M156.4,67.8 162.1,67"/>
<path class="fb" d="M94.6,126.3 88.1,121.4 93.7,120 100.2,124.9Z"/>
<path class="ab" d="M94.6,126.3 88.1,121.4M100.2,124.9 93.7,120"/>
<path class="gb" d="M94.6,126.3 100.2,124.9M88.1,121.4 93.7,120"/>
<path class="fg" d="M215.1,72.3 208.7,69 214.3,68.1 220.8,70.9Z"/>
<path class="ag" d="M215.1,72.3 208.7,69M220.8,70.9 214.3,68.1"/>
<path class="gg" d="M215.1,72.3 220.8,70.9M208.7,69 214.3,68.1"/>
<path class="fb" d="M146.8,126.1 140.4,121.2 146,119.8 152.4,124.7Z"/>
<path class="ab" d="M146.8,126.1 140.4,121.2M152.4,124.7 146,119.8"/>
<path class="gb" d="M146.8,126.1 152.4,124.7M140.4,121.2 146,119.8"/>
<path class="fo" d="M107.4,177.5 101,169 106.6,168.8 113.1,176.5Z"/>
<path class="ao" d="M107.4,177.5 101,169M113.1,176.5 106.6,168.8"/>
<path class="go" d="M107.4,177.5 113.1,176.5M101,169 106.6,168.8"/>
<path class="fg" d="M133.9,73.5 127.5,68.9 133.1,66.9 139.6,71.7Z"/>
<path class="ag" d="M133.9,73.5 127.5,68.9M139.6,71.7 133.1,66.9"/>
<path class="gg" d="M133.9,73.5 139.6,71.7M127.5,68.9 133.1,66.9"/>
<path class="fg" d="M186.2,73.4 179.8,69.5 185.4,68.8 191.8,72.3Z"/>
<path class="ag" d="M186.2,73.4 179.8,69.5M191.8,72.3 185.4,68.8"/>
<path class="gg" d="M186.2,73.4 191.8,72.3M179.8,69.5 185.4,68.8"/>
<path class="fo" d="M130.8,179.9 124.3,174.3 129.9,173.1 136.4,178.5Z"/>
<path class="ao" d="M130.8,179.9 124.3,174.3M136.4,178.5 129.9,173.1"/>
<path class="go" d="M130.8,179.9 136.4,178.5M124.3,174.3 129.9,173.1"/>
<path class="fb" d="M117.9,126.9 111.4,122 117.1,120.6 123.5,125.5Z"/>
<path class="ab" d="M117.9,126.9 111.4,122M123.5,125.5 117.1,120.6"/>
<path class="gb" d="M117.9,126.9 123.5,125.5M111.4,122 117.1,120.6"/>
<path class="fb" d="M170.1,126.7 163.7,121.9 169.3,120.4 175.8,125.3Z"/>
<path class="ab" d="M170.1,126.7 163.7,121.9M175.8,125.3 169.3,120.4"/>
<path class="gb" d="M170.1,126.7 175.8,125.3M163.7,121.9 169.3,120.4"/>
<path class="fg" d="M157.3,73.7 150.8,68.9 156.4,67.8 162.9,72.5Z"/>
<path class="ag" d="M157.3,73.7 150.8,68.9M162.9,72.5 156.4,67.8"/>
<path class="gg" d="M157.3,73.7 162.9,72.5M150.8,68.9 156.4,67.8"/>
<path class="fb" d="M88.9,127.7 82.5,122.8 88.1,121.4 94.6,126.3Z"/>
<path class="ab" d="M88.9,127.7 82.5,122.8M94.6,126.3 88.1,121.4"/>
<path class="gb" d="M88.9,127.7 94.6,126.3M82.5,122.8 88.1,121.4"/>
<path class="fg" d="M209.5,73.7 203.1,70.1 208.7,69 215.1,72.3Z"/>
<path class="ag" d="M209.5,73.7 203.1,70.1M215.1,72.3 208.7,69"/>
<path class="gg" d="M209.5,73.7 215.1,72.3M203.1,70.1 208.7,69"/>
<path class="fb" d="M141.2,127.5 134.8,122.6 140.4,121.2 146.8,126.1Z"/>
<path class="ab" d="M141.2,127.5 134.8,122.6M146.8,126.1 140.4,121.2"/>
<path class="gb" d="M141.2,127.5 146.8,126.1M134.8,122.6 140.4,121.2"/>
<path class="fg" d="M128.3,75.5 121.9,71.4 127.5,68.9 133.9,73.5Z"/>
<path class="ag" d="M128.3,75.5 121.9,71.4M133.9,73.5 127.5,68.9"/>
<path class="gg" d="M128.3,75.5 133.9,73.5M121.9,71.4 127.5,68.9"/>
<path class="fo" d="M125.1,181.3 118.7,175.4 124.3,174.3 130.8,179.9Z"/>
<path class="ao" d="M125.1,181.3 118.7,175.4M130.8,179.9 124.3,174.3"/>
<path class="go" d="M125.1,181.3 130.8,179.9M118.7,175.4 124.3,174.3"/>
<path class="fo" d="M101.8,178.5 95.4,168.9 101,169 107.4,177.5Z"/>
<path class="ao" d="M101.8,178.5 95.4,168.9M107.4,177.5 101,169"/>
<path class="go" d="M101.8,178.5 107.4,177.5M95.4,168.9 101,169"/>
<path class="fg" d="M180.6,74.6 174.1,70.4 179.8,69.5 186.2,73.4Z"/>
<path class="ag" d="M180.6,74.6 174.1,70.4M186.2,73.4 179.8,69.5"/>
<path class="gg" d="M180.6,74.6 186.2,73.4M174.1,70.4 179.8,69.5"/>
<path class="fb" d="M112.2,128.3 105.8,123.4 111.4,122 117.9,126.9Z"/>
<path class="ab" d="M112.2,128.3 105.8,123.4M117.9,126.9 111.4,122"/>
<path class="gb" d="M112.2,128.3 117.9,126.9M105.8,123.4 111.4,122"/>
<path class="fb" d="M164.5,128.2 158.1,123.3 163.7,121.9 170.1,126.7Z"/>
<path class="ab" d="M164.5,128.2 158.1,123.3M170.1,126.7 163.7,121.9"/>
<path class="gb" d="M164.5,128.2 170.1,126.7M158.1,123.3 163.7,121.9"/>
<path class="fg" d="M151.6,75.1 145.2,70.2 150.8,68.9 157.3,73.7Z"/>
<path class="ag" d="M151.6,75.1 145.2,70.2M157.3,73.7 150.8,68.9"/>
<path class="gg" d="M151.6,75.1 157.3,73.7M145.2,70.2 150.8,68.9"/>
<path class="fg" d="M122.7,77.8 116.2,74.3 121.9,71.4 128.3,75.5Z"/>
<path class="ag" d="M122.7,77.8 116.2,74.3M128.3,75.5 121.9,71.4"/>
<path class="gg" d="M122.7,77.8 128.3,75.5M116.2,74.3 121.9,71.4"/>
<path class="fg" d="M203.9,75 197.4,71.1 203.1,70.1 209.5,73.7Z"/>
<path class="ag" d="M203.9,75 197.4,71.1M209.5,73.7 203.1,70.1"/>
<path class="gg" d="M203.9,75 209.5,73.7M197.4,71.1 203.1,70.1"/>
<path class="fb" d="M135.6,129 129.1,124.1 134.8,122.6 141.2,127.5Z"/>
<path class="ab" d="M135.6,129 129.1,124.1M141.2,127.5 134.8,122.6"/>
<path class="gb" d="M135.6,129 141.2,127.5M129.1,124.1 134.8,122.6"/>
<path class="fo" d="M119.5,182.7 113.1,176.5 118.7,175.4 125.1,181.3Z"/>
<path class="ao" d="M119.5,182.7 113.1,176.5M125.1,181.3 118.7,175.4"/>
<path class="go" d="M119.5,182.7 125.1,181.3M113.1,176.5 118.7,175.4"/>
<path class="fg" d="M174.9,75.9 168.5,71.4 174.1,70.4 180.6,74.6Z"/>
<path class="ag" d="M174.9,75.9 168.5,71.4M180.6,74.6 174.1,70.4"/>
<path class="gg" d="M174.9,75.9 180.6,74.6M168.5,71.4 174.1,70.4"/>
<path class="fb" d="M106.6,129.7 100.2,124.9 105.8,123.4 112.2,128.3Z"/>
<path class="ab" d="M106.6,129.7 100.2,124.9M112.2,128.3 105.8,123.4"/>
<path class="gb" d="M106.6,129.7 112.2,128.3M100.2,124.9 105.8,123.4"/>
<path class="fb" d="M158.9,129.6 152.4,124.7 158.1,123.3 164.5,128.2Z"/>
<path class="ab" d="M158.9,129.6 152.4,124.7M164.5,128.2 158.1,123.3"/>
<path class="gb" d="M158.9,129.6 164.5,128.2M152.4,124.7 158.1,123.3"/>
<path class="fg" d="M117.1,80.4 110.6,77.8 116.2,74.3 122.7,77.8Z"/>
<path class="ag" d="M117.1,80.4 110.6,77.8M122.7,77.8 116.2,74.3"/>
<path class="gg" d="M117.1,80.4 122.7,77.8M110.6,77.8 116.2,74.3"/>
<path class="fg" d="M146,76.6 139.6,71.7 145.2,70.2 151.6,75.1Z"/>
<path class="ag" d="M146,76.6 139.6,71.7M151.6,75.1 145.2,70.2"/>
<path class="gg" d="M146,76.6 151.6,75.1M139.6,71.7 145.2,70.2"/>
<path class="fg" d="M198.3,76.4 191.8,72.3 197.4,71.1 203.9,75Z"/>
<path class="ag" d="M198.3,76.4 191.8,72.3M203.9,75 197.4,71.1"/>
<path class="gg" d="M198.3,76.4 203.9,75M191.8,72.3 197.4,71.1"/>
<path class="fb" d="M129.9,130.4 123.5,125.5 129.1,124.1 135.6,129Z"/>
<path class="ab" d="M129.9,130.4 123.5,125.5M135.6,129 129.1,124.1"/>
<path class="gb" d="M129.9,130.4 135.6,129M123.5,125.5 129.1,124.1"/>
<path class="fg" d="M111.4,83.4 105,82.2 110.6,77.8 117.1,80.4Z"/>
<path class="ag" d="M111.4,83.4 105,82.2M117.1,80.4 110.6,77.8"/>
<path class="gg" d="M111.4,83.4 117.1,80.4M105,82.2 110.6,77.8"/>
<path class="fo" d="M113.9,184 107.4,177.5 113.1,176.5 119.5,182.7Z"/>
<path class="ao" d="M113.9,184 107.4,177.5M119.5,182.7 113.1,176.5"/>
<path class="go" d="M113.9,184 119.5,182.7M107.4,177.5 113.1,176.5"/>
<path class="fg" d="M169.3,77.2 162.9,72.5 168.5,71.4 174.9,75.9Z"/>
<path class="ag" d="M169.3,77.2 162.9,72.5M174.9,75.9 168.5,71.4"/>
<path class="gg" d="M169.3,77.2 174.9,75.9M162.9,72.5 168.5,71.4"/>
<path class="fb" d="M101,131.2 94.6,126.3 100.2,124.9 106.6,129.7Z"/>
<path class="ab" d="M101,131.2 94.6,126.3M106.6,129.7 100.2,124.9"/>
<path class="gb" d="M101,131.2 106.6,129.7M94.6,126.3 100.2,124.9"/>
<path class="fb" d="M153.3,131 146.8,126.1 152.4,124.7 158.9,129.6Z"/>
<path class="ab" d="M153.3,131 146.8,126.1M158.9,129.6 152.4,124.7"/>
<path class="gb" d="M153.3,131 158.9,129.6M146.8,126.1 152.4,124.7"/>
<path class="fg" d="M94.6,95.5 92.5,97.7 90.8,100.5 89.6,104.1 88.8,108.5 88.4,113.8 88.2,121.5 93.7,95.6 100.2,90.7Z"/>
<path class="ag" d="M94.6,95.5 92.5,97.7 90.8,100.5 89.6,104.1 88.8,108.5 88.4,113.8 88.2,121.5M100.2,90.7 93.7,95.6"/>
<path class="gg" d="M94.6,95.5 100.2,90.7M88.2,121.5 93.7,95.6"/>
<path class="fg" d="M88.9,101.6 87.8,104.1 86.9,107 86.3,110.3 85.8,114.2 85.6,118.7 85.5,125.1 88.2,121.5 88.4,113.8 88.8,108.5 89.6,104.1 90.8,100.5 92.5,97.7 94.6,95.5Z"/>
<path class="ag" d="M88.9,101.6 87.8,104.1 86.9,107 86.3,110.3 85.8,114.2 85.6,118.7 85.5,125.1M94.6,95.5 92.5,97.7 90.8,100.5 89.6,104.1 88.8,108.5 88.4,113.8 88.2,121.5"/>
<path class="gg" d="M88.9,101.6 94.6,95.5M85.5,125.1 88.2,121.5"/>
<path class="fg" d="M140.4,78.2 133.9,73.5 139.6,71.7 146,76.6Z"/>
<path class="ag" d="M140.4,78.2 133.9,73.5M146,76.6 139.6,71.7"/>
<path class="gg" d="M140.4,78.2 146,76.6M133.9,73.5 139.6,71.7"/>
<path class="fg" d="M105.8,86.8 99.4,87.7 105,82.2 111.4,83.4Z"/>
<path class="ag" d="M105.8,86.8 99.4,87.7M111.4,83.4 105,82.2"/>
<path class="gg" d="M105.8,86.8 111.4,83.4M99.4,87.7 105,82.2"/>
<path class="fg" d="M192.6,77.8 186.2,73.4 191.8,72.3 198.3,76.4Z"/>
<path class="ag" d="M192.6,77.8 186.2,73.4M198.3,76.4 191.8,72.3"/>
<path class="gg" d="M192.6,77.8 198.3,76.4M186.2,73.4 191.8,72.3"/>
<path class="fb" d="M124.3,131.8 117.9,126.9 123.5,125.5 129.9,130.4Z"/>
<path class="ab" d="M124.3,131.8 117.9,126.9M129.9,130.4 123.5,125.5"/>
<path class="gb" d="M124.3,131.8 129.9,130.4M117.9,126.9 123.5,125.5"/>
<path class="fg" d="M100.2,90.7 93.7,95.6 99.4,87.7 105.8,86.8Z"/>
<path class="ag" d="M100.2,90.7 93.7,95.6M105.8,86.8 99.4,87.7"/>
<path class="gg" d="M100.2,90.7 105.8,86.8M93.7,95.6 99.4,87.7"/>
<path class="fo" d="M108.3,185.4 101.8,178.5 107.4,177.5 113.9,184Z"/>
<path class="ao" d="M108.3,185.4 101.8,178.5M113.9,184 107.4,177.5"/>
<path class="go" d="M108.3,185.4 113.9,184M101.8,178.5 107.4,177.5"/>
<path class="fb" d="M95.4,132.6 88.9,127.7 94.6,126.3 101,131.2Z"/>
<path class="ab" d="M95.4,132.6 88.9,127.7M101,131.2 94.6,126.3"/>
<path class="gb" d="M95.4,132.6 101,131.2M88.9,127.7 94.6,126.3"/>
<path class="fg" d="M163.7,78.6 157.3,73.7 162.9,72.5 169.3,77.2Z"/>
<path class="ag" d="M163.7,78.6 157.3,73.7M169.3,77.2 162.9,72.5"/>
<path class="gg" d="M163.7,78.6 169.3,77.2M157.3,73.7 162.9,72.5"/>
<path class="fb" d="M147.6,132.4 141.2,127.5 146.8,126.1 153.3,131Z"/>
<path class="ab" d="M147.6,132.4 141.2,127.5M153.3,131 146.8,126.1"/>
<path class="gb" d="M147.6,132.4 153.3,131M141.2,127.5 146.8,126.1"/>
<path class="fg" d="M134.8,79.9 128.3,75.5 133.9,73.5 140.4,78.2Z"/>
<path class="ag" d="M134.8,79.9 128.3,75.5M140.4,78.2 133.9,73.5"/>
<path class="gg" d="M134.8,79.9 140.4,78.2M128.3,75.5 133.9,73.5"/>
<path class="fg" d="M187,79.2 180.6,74.6 186.2,73.4 192.6,77.8Z"/>
<path class="ag" d="M187,79.2 180.6,74.6M192.6,77.8 186.2,73.4"/>
<path class="gg" d="M187,79.2 192.6,77.8M180.6,74.6 186.2,73.4"/>
<path class="fb" d="M118.7,133.2 112.2,128.3 117.9,126.9 124.3,131.8Z"/>
<path class="ab" d="M118.7,133.2 112.2,128.3M124.3,131.8 117.9,126.9"/>
<path class="gb" d="M118.7,133.2 124.3,131.8M112.2,128.3 117.9,126.9"/>
<path class="fg" d="M158.1,80 151.6,75.1 157.3,73.7 163.7,78.6Z"/>
<path class="ag" d="M158.1,80 151.6,75.1M163.7,78.6 157.3,73.7"/>
<path class="gg" d="M158.1,80 163.7,78.6M151.6,75.1 157.3,73.7"/>
<path class="fb" d="M142,133.8 135.6,129 141.2,127.5 147.6,132.4Z"/>
<path class="ab" d="M142,133.8 135.6,129M147.6,132.4 141.2,127.5"/>
<path class="gb" d="M142,133.8 147.6,132.4M135.6,129 141.2,127.5"/>
<path class="fg" d="M129.1,81.8 122.7,77.8 128.3,75.5 134.8,79.9Z"/>
<path class="ag" d="M129.1,81.8 122.7,77.8M134.8,79.9 128.3,75.5"/>
<path class="gg" d="M129.1,81.8 134.8,79.9M122.7,77.8 128.3,75.5"/>
<path class="fb" d="M113.1,134.6 106.6,129.7 112.2,128.3 118.7,133.2Z"/>
<path class="ab" d="M113.1,134.6 106.6,129.7M118.7,133.2 112.2,128.3"/>
<path class="gb" d="M113.1,134.6 118.7,133.2M106.6,129.7 112.2,128.3"/>
<path class="fg" d="M181.4,80.6 174.9,75.9 180.6,74.6 187,79.2Z"/>
<path class="ag" d="M181.4,80.6 174.9,75.9M187,79.2 180.6,74.6"/>
<path class="gg" d="M181.4,80.6 187,79.2M174.9,75.9 180.6,74.6"/>
<path class="fg" d="M152.4,81.4 146,76.6 151.6,75.1 158.1,80Z"/>
<path class="ag" d="M152.4,81.4 146,76.6M158.1,80 151.6,75.1"/>
<path class="gg" d="M152.4,81.4 158.1,80M146,76.6 151.6,75.1"/>
<path class="fg" d="M123.5,83.7 117.1,80.4 122.7,77.8 129.1,81.8Z"/>
<path class="ag" d="M123.5,83.7 117.1,80.4M129.1,81.8 122.7,77.8"/>
<path class="gg" d="M123.5,83.7 129.1,81.8M117.1,80.4 122.7,77.8"/>
<path class="fb" d="M136.4,135.3 129.9,130.4 135.6,129 142,133.8Z"/>
<path class="ab" d="M136.4,135.3 129.9,130.4M142,133.8 135.6,129"/>
<path class="gb" d="M136.4,135.3 142,133.8M129.9,130.4 135.6,129"/>
<path class="fb" d="M107.4,136.1 101,131.2 106.6,129.7 113.1,134.6Z"/>
<path class="ab" d="M107.4,136.1 101,131.2M113.1,134.6 106.6,129.7"/>
<path class="gb" d="M107.4,136.1 113.1,134.6M101,131.2 106.6,129.7"/>
<path class="fg" d="M175.8,82 169.3,77.2 174.9,75.9 181.4,80.6Z"/>
<path class="ag" d="M175.8,82 169.3,77.2M181.4,80.6 174.9,75.9"/>
<path class="gg" d="M175.8,82 181.4,80.6M169.3,77.2 174.9,75.9"/>
<path class="fg" d="M117.9,85.9 111.4,83.4 117.1,80.4 123.5,83.7Z"/>
<path class="ag" d="M117.9,85.9 111.4,83.4M123.5,83.7 117.1,80.4"/>
<path class="gg" d="M117.9,85.9 123.5,83.7M111.4,83.4 117.1,80.4"/>
<path class="fg" d="M146.8,82.9 140.4,78.2 146,76.6 152.4,81.4Z"/>
<path class="ag" d="M146.8,82.9 140.4,78.2M152.4,81.4 146,76.6"/>
<path class="gg" d="M146.8,82.9 152.4,81.4M140.4,78.2 146,76.6"/>
<path class="fb" d="M130.8,136.7 124.3,131.8 129.9,130.4 136.4,135.3Z"/>
<path class="ab" d="M130.8,136.7 124.3,131.8M136.4,135.3 129.9,130.4"/>
<path class="gb" d="M130.8,136.7 136.4,135.3M124.3,131.8 129.9,130.4"/>
<path class="fb" d="M101.8,137.5 95.4,132.6 101,131.2 107.4,136.1Z"/>
<path class="ab" d="M101.8,137.5 95.4,132.6M107.4,136.1 101,131.2"/>
<path class="gb" d="M101.8,137.5 107.4,136.1M95.4,132.6 101,131.2"/>
<path class="fg" d="M170.1,83.4 163.7,78.6 169.3,77.2 175.8,82Z"/>
<path class="ag" d="M170.1,83.4 163.7,78.6M175.8,82 169.3,77.2"/>
<path class="gg" d="M170.1,83.4 175.8,82M163.7,78.6 169.3,77.2"/>
<path class="fg" d="M112.2,88.2 105.8,86.8 111.4,83.4 117.9,85.9Z"/>
<path class="ag" d="M112.2,88.2 105.8,86.8M117.9,85.9 111.4,83.4"/>
<path class="gg" d="M112.2,88.2 117.9,85.9M105.8,86.8 111.4,83.4"/>
<path class="fg" d="M141.2,84.4 134.8,79.9 140.4,78.2 146.8,82.9Z"/>
<path class="ag" d="M141.2,84.4 134.8,79.9M146.8,82.9 140.4,78.2"/>
<path class="gg" d="M141.2,84.4 146.8,82.9M134.8,79.9 140.4,78.2"/>
<path class="fb" d="M125.1,138.1 118.7,133.2 124.3,131.8 130.8,136.7Z"/>
<path class="ab" d="M125.1,138.1 118.7,133.2M130.8,136.7 124.3,131.8"/>
<path class="gb" d="M125.1,138.1 130.8,136.7M118.7,133.2 124.3,131.8"/>
<path class="fg" d="M106.6,90.7 100.2,90.7 105.8,86.8 112.2,88.2Z"/>
<path class="ag" d="M106.6,90.7 100.2,90.7M112.2,88.2 105.8,86.8"/>
<path class="gg" d="M106.6,90.7 112.2,88.2M100.2,90.7 105.8,86.8"/>
<path class="fg" d="M164.5,84.9 158.1,80 163.7,78.6 170.1,83.4Z"/>
<path class="ag" d="M164.5,84.9 158.1,80M170.1,83.4 163.7,78.6"/>
<path class="gg" d="M164.5,84.9 170.1,83.4M158.1,80 163.7,78.6"/>
<path class="fg" d="M135.6,86 129.1,81.8 134.8,79.9 141.2,84.4Z"/>
<path class="ag" d="M135.6,86 129.1,81.8M141.2,84.4 134.8,79.9"/>
<path class="gg" d="M135.6,86 141.2,84.4M129.1,81.8 134.8,79.9"/>
<path class="fg" d="M101,93.4 94.6,95.5 100.2,90.7 106.6,90.7Z"/>
<path class="ag" d="M101,93.4 94.6,95.5M106.6,90.7 100.2,90.7"/>
<path class="gg" d="M101,93.4 106.6,90.7M94.6,95.5 100.2,90.7"/>
<path class="fb" d="M119.5,139.5 113.1,134.6 118.7,133.2 125.1,138.1Z"/>
<path class="ab" d="M119.5,139.5 113.1,134.6M125.1,138.1 118.7,133.2"/>
<path class="gb" d="M119.5,139.5 125.1,138.1M113.1,134.6 118.7,133.2"/>
<path class="fg" d="M95.4,96.3 88.9,101.6 94.6,95.5 101,93.4Z"/>
<path class="ag" d="M95.4,96.3 88.9,101.6M101,93.4 94.6,95.5"/>
<path class="gg" d="M95.4,96.3 101,93.4M88.9,101.6 94.6,95.5"/>
<path class="fg" d="M158.9,86.3 152.4,81.4 158.1,80 164.5,84.9Z"/>
<path class="ag" d="M158.9,86.3 152.4,81.4M164.5,84.9 158.1,80"/>
<path class="gg" d="M158.9,86.3 164.5,84.9M152.4,81.4 158.1,80"/>
<path class="fg" d="M129.9,87.6 123.5,83.7 129.1,81.8 135.6,86Z"/>
<path class="ag" d="M129.9,87.6 123.5,83.7M135.6,86 129.1,81.8"/>
<path class="gg" d="M129.9,87.6 135.6,86M123.5,83.7 129.1,81.8"/>
<path class="fb" d="M113.9,141 107.4,136.1 113.1,134.6 119.5,139.5Z"/>
<path class="ab" d="M113.9,141 107.4,136.1M119.5,139.5 113.1,134.6"/>
<path class="gb" d="M113.9,141 119.5,139.5M107.4,136.1 113.1,134.6"/>
<path class="fg" d="M153.3,87.7 146.8,82.9 152.4,81.4 158.9,86.3Z"/>
<path class="ag" d="M153.3,87.7 146.8,82.9M158.9,86.3 152.4,81.4"/>
<path class="gg" d="M153.3,87.7 158.9,86.3M146.8,82.9 152.4,81.4"/>
<path class="fg" d="M124.3,89.3 117.9,85.9 123.5,83.7 129.9,87.6Z"/>
<path class="ag" d="M124.3,89.3 117.9,85.9M129.9,87.6 123.5,83.7"/>
<path class="gg" d="M124.3,89.3 129.9,87.6M117.9,85.9 123.5,83.7"/>
<path class="fb" d="M108.3,142.4 101.8,137.5 107.4,136.1 113.9,141Z"/>
<path class="ab" d="M108.3,142.4 101.8,137.5M113.9,141 107.4,136.1"/>
<path class="gb" d="M108.3,142.4 113.9,141M101.8,137.5 107.4,136.1"/>
<path class="fg" d="M147.6,89.2 141.2,84.4 146.8,82.9 153.3,87.7Z"/>
<path class="ag" d="M147.6,89.2 141.2,84.4M153.3,87.7 146.8,82.9"/>
<path class="gg" d="M147.6,89.2 153.3,87.7M141.2,84.4 146.8,82.9"/>
<path class="fg" d="M118.7,91 112.2,88.2 117.9,85.9 124.3,89.3Z"/>
<path class="ag" d="M118.7,91 112.2,88.2M124.3,89.3 117.9,85.9"/>
<path class="gg" d="M118.7,91 124.3,89.3M112.2,88.2 117.9,85.9"/>
<path class="fg" d="M142,90.6 135.6,86 141.2,84.4 147.6,89.2Z"/>
<path class="ag" d="M142,90.6 135.6,86M147.6,89.2 141.2,84.4"/>
<path class="gg" d="M142,90.6 147.6,89.2M135.6,86 141.2,84.4"/>
<path class="fg" d="M113.1,92.8 106.6,90.7 112.2,88.2 118.7,91Z"/>
<path class="ag" d="M113.1,92.8 106.6,90.7M118.7,91 112.2,88.2"/>
<path class="gg" d="M113.1,92.8 118.7,91M106.6,90.7 112.2,88.2"/>
<path class="fg" d="M107.4,94.6 101,93.4 106.6,90.7 113.1,92.8Z"/>
<path class="ag" d="M107.4,94.6 101,93.4M113.1,92.8 106.6,90.7"/>
<path class="gg" d="M107.4,94.6 113.1,92.8M101,93.4 106.6,90.7"/>
<path class="fg" d="M136.4,92 129.9,87.6 135.6,86 142,90.6Z"/>
<path class="ag" d="M136.4,92 129.9,87.6M142,90.6 135.6,86"/>
<path class="gg" d="M136.4,92 142,90.6M129.9,87.6 135.6,86"/>
<path class="fg" d="M101.8,96.5 95.4,96.3 101,93.4 107.4,94.6Z"/>
<path class="ag" d="M101.8,96.5 95.4,96.3M107.4,94.6 101,93.4"/>
<path class="gg" d="M101.8,96.5 107.4,94.6M95.4,96.3 101,93.4"/>
<path class="fg" d="M130.8,93.5 124.3,89.3 129.9,87.6 136.4,92Z"/>
<path class="ag" d="M130.8,93.5 124.3,89.3M136.4,92 129.9,87.6"/>
<path class="gg" d="M130.8,93.5 136.4,92M124.3,89.3 129.9,87.6"/>
<path class="fg" d="M125.1,94.9 118.7,91 124.3,89.3 130.8,93.5Z"/>
<path class="ag" d="M125.1,94.9 118.7,91M130.8,93.5 124.3,89.3"/>
<path class="gg" d="M125.1,94.9 130.8,93.5M118.7,91 124.3,89.3"/>
<path class="fg" d="M119.5,96.4 113.1,92.8 118.7,91 125.1,94.9Z"/>
<path class="ag" d="M119.5,96.4 113.1,92.8M125.1,94.9 118.7,91"/>
<path class="gg" d="M119.5,96.4 125.1,94.9M113.1,92.8 118.7,91"/>
<path class="fg" d="M113.9,97.9 107.4,94.6 113.1,92.8 119.5,96.4Z"/>
<path class="ag" d="M113.9,97.9 107.4,94.6M119.5,96.4 113.1,92.8"/>
<path class="gg" d="M113.9,97.9 119.5,96.4M107.4,94.6 113.1,92.8"/>
<path class="fg" d="M108.3,99.3 101.8,96.5 107.4,94.6 113.9,97.9Z"/>
<path class="ag" d="M108.3,99.3 101.8,96.5M113.9,97.9 107.4,94.6"/>
<path class="gg" d="M108.3,99.3 113.9,97.9M101.8,96.5 107.4,94.6"/>
<path d="M90.9,107.9 L90.8,107.3 L90.7,106.8 L90.6,106.2 L90.5,105.6 L90.3,105 L90.1,104.4 L89.9,103.8 L89.7,103.2 L89.5,102.5 L89.2,101.9 L88.9,101.2 L88.6,100.5 L88.3,99.7 L87.9,99 L87.6,98.2 L87.2,97.5 L86.7,96.7 L86.2,95.8 L85.7,95 L85.2,94.1 L84.6,93.2 L84,92.3 L83.4,91.3 L82.7,90.3 L81.9,89.3 L81.1,88.2 L80.3,87.1 L79.4,85.9 L78.4,84.7" stroke="#c83a2a" stroke-opacity="0.55" stroke-width="2.6" stroke-dasharray="3.5,2" fill="none"/>
<path d="M84.2,126.5 L84.7,126 L85.1,125.5 L85.6,125.1 L86,124.6 L86.4,124.1 L86.8,123.5 L87.2,123 L87.6,122.5 L87.9,121.9 L88.3,121.4 L88.6,120.8 L88.9,120.3 L89.2,119.7 L89.5,119.1 L89.8,118.5 L90,117.8 L90.3,117.2 L90.5,116.5 L90.7,115.8 L90.8,115.1 L91,114.4 L91.1,113.7 L91.1,112.9 L91.2,112.2 L91.2,111.4 L91.2,110.5 L91.2,109.7 L91.1,108.8 L90.9,107.9" stroke="#e01818" stroke-opacity="1" stroke-width="3.4" fill="none"/>
<path d="M121.8,73.8 L123,74.4 L124.2,75 L125.4,75.6 L126.6,76.2 L127.7,76.7 L128.8,77.3 L129.9,77.8 L131,78.3 L132.1,78.8 L133.1,79.3 L134.2,79.8 L135.2,80.2 L136.1,80.7 L137.1,81.1 L138.1,81.5 L139,82 L140,82.4 L140.9,82.7 L141.8,83.1 L142.7,83.5 L143.5,83.8 L144.4,84.2 L145.2,84.5 L146.1,84.9 L146.9,85.2 L147.7,85.5 L148.5,85.8 L149.3,86.1 L150.1,86.4" stroke="#8040e0" stroke-opacity="0.45" stroke-width="2.6" stroke-dasharray="3.5,2" fill="none"/>
<path d="M150.1,86.4 L152.6,87.3 L155,88.1 L157.2,88.9 L159.5,89.6 L161.6,90.2 L163.7,90.8 L165.7,91.4 L167.7,91.9 L169.6,92.4 L171.5,92.8 L173.3,93.2 L175.1,93.6 L176.9,93.9 L178.6,94.3 L180.3,94.6 L181.9,94.8 L183.6,95.1 L185.2,95.3 L186.7,95.6 L188.3,95.8 L189.8,95.9 L191.3,96.1 L192.8,96.3 L194.3,96.4 L195.8,96.5 L197.2,96.6 L198.6,96.7 L200,96.8 L201.4,96.9" stroke="#8a30e8" stroke-opacity="1" stroke-width="3.4" fill="none"/>
<path d="M363.1,120.1L363.1,18.4M339.7,126L339.7,24.3M316.3,132L316.3,30.3M292.9,137.9L292.9,36.2M386.5,108.7L269.5,138.5M386.5,89.9L269.5,119.7M386.5,71.2L269.5,101M386.5,52.4L269.5,82.2M386.5,33.7L269.5,63.5M386.5,14.9L269.5,44.7M400.1,124.5L400.1,22.8M413.7,134.8L413.7,33.1M427.3,145.2L427.3,43.5M440.9,155.5L440.9,53.8M386.5,108.7L454.5,160.5M386.5,89.9L454.5,141.7M386.5,71.2L454.5,123M386.5,52.4L454.5,104.2M386.5,33.7L454.5,85.5M386.5,14.9L454.5,66.7M363.1,120.1L431.1,171.9M339.7,126L407.7,177.8M316.3,132L384.3,183.8M292.9,137.9L360.9,189.7M400.1,124.5L283.1,154.3M413.7,134.8L296.7,164.6M427.3,145.2L310.3,175M440.9,155.5L323.9,185.3" stroke="#000" stroke-opacity="0.14" stroke-width="0.7" fill="none"/>
<path d="M386.5,114.1L386.5,12.4" stroke="#999" stroke-width="1.3" fill="none"/>
<path d="M269.5,42.2L386.5,12.4L454.5,64.2L454.5,165.9" stroke="#555" stroke-width="0.8" fill="none"/>
<path class="fb" d="M387.6,20.4 394,29.6 388.4,31.3 381.9,21.9Z"/>
<path class="ab" d="M387.6,20.4 394,29.6M381.9,21.9 388.4,31.3"/>
<path class="gb" d="M387.6,20.4 381.9,21.9M394,29.6 388.4,31.3"/>
<path class="fo" d="M387.6,19.3 394,26.6 388.4,28.3 381.9,20.8Z"/>
<path class="ao" d="M387.6,19.3 394,26.6M381.9,20.8 388.4,28.3"/>
<path class="go" d="M387.6,19.3 381.9,20.8M394,26.6 388.4,28.3"/>
<path class="fg" d="M387.6,19.3 394,26.6 388.4,28.3 381.9,20.8Z"/>
<path class="ag" d="M387.6,19.3 394,26.6M381.9,20.8 388.4,28.3"/>
<path class="gg" d="M387.6,19.3 381.9,20.8M394,26.6 388.4,28.3"/>
<path class="fb" d="M381.9,21.9 388.4,31.3 382.8,32.9 376.3,23.4Z"/>
<path class="ab" d="M381.9,21.9 388.4,31.3M376.3,23.4 382.8,32.9"/>
<path class="gb" d="M381.9,21.9 376.3,23.4M388.4,31.3 382.8,32.9"/>
<path class="fo" d="M381.9,20.8 388.4,28.3 382.8,29.9 376.3,22.3Z"/>
<path class="ao" d="M381.9,20.8 388.4,28.3M376.3,22.3 382.8,29.9"/>
<path class="go" d="M381.9,20.8 376.3,22.3M388.4,28.3 382.8,29.9"/>
<path class="fg" d="M381.9,20.8 388.4,28.3 382.8,29.9 376.3,22.3Z"/>
<path class="ag" d="M381.9,20.8 388.4,28.3M376.3,22.3 382.8,29.9"/>
<path class="gg" d="M381.9,20.8 376.3,22.3M388.4,28.3 382.8,29.9"/>
<path class="fb" d="M376.3,23.4 382.8,32.9 377.2,34.6 370.7,24.9Z"/>
<path class="ab" d="M376.3,23.4 382.8,32.9M370.7,24.9 377.2,34.6"/>
<path class="gb" d="M376.3,23.4 370.7,24.9M382.8,32.9 377.2,34.6"/>
<path class="fo" d="M376.3,22.3 382.8,29.9 377.2,31.6 370.7,23.9Z"/>
<path class="ao" d="M376.3,22.3 382.8,29.9M370.7,23.9 377.2,31.6"/>
<path class="go" d="M376.3,22.3 370.7,23.9M382.8,29.9 377.2,31.6"/>
<path class="fg" d="M376.3,22.3 382.8,29.9 377.2,31.6 370.7,23.9Z"/>
<path class="ag" d="M376.3,22.3 382.8,29.9M370.7,23.9 377.2,31.6"/>
<path class="gg" d="M376.3,22.3 370.7,23.9M382.8,29.9 377.2,31.6"/>
<path class="fb" d="M370.7,24.9 377.2,34.6 371.6,36.2 365.1,26.4Z"/>
<path class="ab" d="M370.7,24.9 377.2,34.6M365.1,26.4 371.6,36.2"/>
<path class="gb" d="M370.7,24.9 365.1,26.4M377.2,34.6 371.6,36.2"/>
<path class="fb" d="M394,29.6 400.5,37.6 394.9,39.4 388.4,31.3Z"/>
<path class="ab" d="M394,29.6 400.5,37.6M388.4,31.3 394.9,39.4"/>
<path class="gb" d="M394,29.6 388.4,31.3M400.5,37.6 394.9,39.4"/>
<path class="fo" d="M370.7,23.9 377.2,31.6 371.6,33.2 365.1,25.4Z"/>
<path class="ao" d="M370.7,23.9 377.2,31.6M365.1,25.4 371.6,33.2"/>
<path class="go" d="M370.7,23.9 365.1,25.4M377.2,31.6 371.6,33.2"/>
<path class="fg" d="M370.7,23.9 377.2,31.6 371.6,33.2 365.1,25.4Z"/>
<path class="ag" d="M370.7,23.9 377.2,31.6M365.1,25.4 371.6,33.2"/>
<path class="gg" d="M370.7,23.9 365.1,25.4M377.2,31.6 371.6,33.2"/>
<path class="fo" d="M394,26.6 400.5,34.5 394.9,36.3 388.4,28.3Z"/>
<path class="ao" d="M394,26.6 400.5,34.5M388.4,28.3 394.9,36.3"/>
<path class="go" d="M394,26.6 388.4,28.3M400.5,34.5 394.9,36.3"/>
<path class="fg" d="M394,26.6 400.5,34.5 394.9,36.3 388.4,28.3Z"/>
<path class="ag" d="M394,26.6 400.5,34.5M388.4,28.3 394.9,36.3"/>
<path class="gg" d="M394,26.6 388.4,28.3M400.5,34.5 394.9,36.3"/>
<path class="fb" d="M388.4,31.3 394.9,39.4 389.2,41.2 382.8,32.9Z"/>
<path class="ab" d="M388.4,31.3 394.9,39.4M382.8,32.9 389.2,41.2"/>
<path class="gb" d="M388.4,31.3 382.8,32.9M394.9,39.4 389.2,41.2"/>
<path class="fb" d="M365.1,26.4 371.6,36.2 365.9,37.9 359.5,27.9Z"/>
<path class="ab" d="M365.1,26.4 371.6,36.2M359.5,27.9 365.9,37.9"/>
<path class="gb" d="M365.1,26.4 359.5,27.9M371.6,36.2 365.9,37.9"/>
<path class="fo" d="M365.1,25.4 371.6,33.2 365.9,34.9 359.5,26.9Z"/>
<path class="ao" d="M365.1,25.4 371.6,33.2M359.5,26.9 365.9,34.9"/>
<path class="go" d="M365.1,25.4 359.5,26.9M371.6,33.2 365.9,34.9"/>
<path class="fg" d="M365.1,25.4 371.6,33.2 365.9,34.9 359.5,26.9Z"/>
<path class="ag" d="M365.1,25.4 371.6,33.2M359.5,26.9 365.9,34.9"/>
<path class="gg" d="M365.1,25.4 359.5,26.9M371.6,33.2 365.9,34.9"/>
<path class="fo" d="M388.4,28.3 394.9,36.3 389.2,38.1 382.8,29.9Z"/>
<path class="ao" d="M388.4,28.3 394.9,36.3M382.8,29.9 389.2,38.1"/>
<path class="go" d="M388.4,28.3 382.8,29.9M394.9,36.3 389.2,38.1"/>
<path class="fg" d="M388.4,28.3 394.9,36.3 389.2,38.1 382.8,29.9Z"/>
<path class="ag" d="M388.4,28.3 394.9,36.3M382.8,29.9 389.2,38.1"/>
<path class="gg" d="M388.4,28.3 382.8,29.9M394.9,36.3 389.2,38.1"/>
<path class="fb" d="M382.8,32.9 389.2,41.2 383.6,43 377.2,34.6Z"/>
<path class="ab" d="M382.8,32.9 389.2,41.2M377.2,34.6 383.6,43"/>
<path class="gb" d="M382.8,32.9 377.2,34.6M389.2,41.2 383.6,43"/>
<path class="fb" d="M359.5,27.9 365.9,37.9 360.3,39.5 353.9,29.4Z"/>
<path class="ab" d="M359.5,27.9 365.9,37.9M353.9,29.4 360.3,39.5"/>
<path class="gb" d="M359.5,27.9 353.9,29.4M365.9,37.9 360.3,39.5"/>
<path class="fo" d="M359.5,26.9 365.9,34.9 360.3,36.5 353.9,28.4Z"/>
<path class="ao" d="M359.5,26.9 365.9,34.9M353.9,28.4 360.3,36.5"/>
<path class="go" d="M359.5,26.9 353.9,28.4M365.9,34.9 360.3,36.5"/>
<path class="fg" d="M359.5,26.9 365.9,34.9 360.3,36.5 353.9,28.4Z"/>
<path class="ag" d="M359.5,26.9 365.9,34.9M353.9,28.4 360.3,36.5"/>
<path class="gg" d="M359.5,26.9 353.9,28.4M365.9,34.9 360.3,36.5"/>
<path class="fo" d="M382.8,29.9 389.2,38.1 383.6,39.9 377.2,31.6Z"/>
<path class="ao" d="M382.8,29.9 389.2,38.1M377.2,31.6 383.6,39.9"/>
<path class="go" d="M382.8,29.9 377.2,31.6M389.2,38.1 383.6,39.9"/>
<path class="fg" d="M382.8,29.9 389.2,38.1 383.6,39.9 377.2,31.6Z"/>
<path class="ag" d="M382.8,29.9 389.2,38.1M377.2,31.6 383.6,39.9"/>
<path class="gg" d="M382.8,29.9 377.2,31.6M389.2,38.1 383.6,39.9"/>
<path class="fb" d="M377.2,34.6 383.6,43 378,44.8 371.6,36.2Z"/>
<path class="ab" d="M377.2,34.6 383.6,43M371.6,36.2 378,44.8"/>
<path class="gb" d="M377.2,34.6 371.6,36.2M383.6,43 378,44.8"/>
<path class="fb" d="M353.9,29.4 360.3,39.5 354.7,41.2 348.2,30.9Z"/>
<path class="ab" d="M353.9,29.4 360.3,39.5M348.2,30.9 354.7,41.2"/>
<path class="gb" d="M353.9,29.4 348.2,30.9M360.3,39.5 354.7,41.2"/>
<path class="fb" d="M400.5,37.6 406.9,45.6 401.3,47.5 394.9,39.4Z"/>
<path class="ab" d="M400.5,37.6 406.9,45.6M394.9,39.4 401.3,47.5"/>
<path class="gb" d="M400.5,37.6 394.9,39.4M406.9,45.6 401.3,47.5"/>
<path class="fo" d="M353.9,28.4 360.3,36.5 354.7,38.2 348.2,29.9Z"/>
<path class="ao" d="M353.9,28.4 360.3,36.5M348.2,29.9 354.7,38.2"/>
<path class="go" d="M353.9,28.4 348.2,29.9M360.3,36.5 354.7,38.2"/>
<path class="fg" d="M353.9,28.4 360.3,36.5 354.7,38.2 348.2,29.9Z"/>
<path class="ag" d="M353.9,28.4 360.3,36.5M348.2,29.9 354.7,38.2"/>
<path class="gg" d="M353.9,28.4 348.2,29.9M360.3,36.5 354.7,38.2"/>
<path class="fo" d="M377.2,31.6 383.6,39.9 378,41.7 371.6,33.2Z"/>
<path class="ao" d="M377.2,31.6 383.6,39.9M371.6,33.2 378,41.7"/>
<path class="go" d="M377.2,31.6 371.6,33.2M383.6,39.9 378,41.7"/>
<path class="fg" d="M377.2,31.6 383.6,39.9 378,41.7 371.6,33.2Z"/>
<path class="ag" d="M377.2,31.6 383.6,39.9M371.6,33.2 378,41.7"/>
<path class="gg" d="M377.2,31.6 371.6,33.2M383.6,39.9 378,41.7"/>
<path class="fo" d="M400.5,34.5 406.9,42.5 401.3,44.4 394.9,36.3Z"/>
<path class="ao" d="M400.5,34.5 406.9,42.5M394.9,36.3 401.3,44.4"/>
<path class="go" d="M400.5,34.5 394.9,36.3M406.9,42.5 401.3,44.4"/>
<path class="fg" d="M400.5,34.5 406.9,42.5 401.3,44.4 394.9,36.3Z"/>
<path class="ag" d="M400.5,34.5 406.9,42.5M394.9,36.3 401.3,44.4"/>
<path class="gg" d="M400.5,34.5 394.9,36.3M406.9,42.5 401.3,44.4"/>
<path class="fb" d="M371.6,36.2 378,44.8 372.4,46.6 365.9,37.9Z"/>
<path class="ab" d="M371.6,36.2 378,44.8M365.9,37.9 372.4,46.6"/>
<path class="gb" d="M371.6,36.2 365.9,37.9M378,44.8 372.4,46.6"/>
<path class="fb" d="M348.2,30.9 354.7,41.2 349.1,42.8 342.6,32.4Z"/>
<path class="ab" d="M348.2,30.9 354.7,41.2M342.6,32.4 349.1,42.8"/>
<path class="gb" d="M348.2,30.9 342.6,32.4M354.7,41.2 349.1,42.8"/>
<path class="fb" d="M394.9,39.4 401.3,47.5 395.7,49.5 389.2,41.2Z"/>
<path class="ab" d="M394.9,39.4 401.3,47.5M389.2,41.2 395.7,49.5"/>
<path class="gb" d="M394.9,39.4 389.2,41.2M401.3,47.5 395.7,49.5"/>
<path class="fo" d="M348.2,29.9 354.7,38.2 349.1,39.8 342.6,31.4Z"/>
<path class="ao" d="M348.2,29.9 354.7,38.2M342.6,31.4 349.1,39.8"/>
<path class="go" d="M348.2,29.9 342.6,31.4M354.7,38.2 349.1,39.8"/>
<path class="fg" d="M348.2,29.9 354.7,38.2 349.1,39.8 342.6,31.4Z"/>
<path class="ag" d="M348.2,29.9 354.7,38.2M342.6,31.4 349.1,39.8"/>
<path class="gg" d="M348.2,29.9 342.6,31.4M354.7,38.2 349.1,39.8"/>
<path class="fo" d="M371.6,33.2 378,41.7 372.4,43.5 365.9,34.9Z"/>
<path class="ao" d="M371.6,33.2 378,41.7M365.9,34.9 372.4,43.5"/>
<path class="go" d="M371.6,33.2 365.9,34.9M378,41.7 372.4,43.5"/>
<path class="fg" d="M371.6,33.2 378,41.7 372.4,43.5 365.9,34.9Z"/>
<path class="ag" d="M371.6,33.2 378,41.7M365.9,34.9 372.4,43.5"/>
<path class="gg" d="M371.6,33.2 365.9,34.9M378,41.7 372.4,43.5"/>
<path class="fo" d="M394.9,36.3 401.3,44.4 395.7,46.4 389.2,38.1Z"/>
<path class="ao" d="M394.9,36.3 401.3,44.4M389.2,38.1 395.7,46.4"/>
<path class="go" d="M394.9,36.3 389.2,38.1M401.3,44.4 395.7,46.4"/>
<path class="fg" d="M394.9,36.3 401.3,44.4 395.7,46.4 389.2,38.1Z"/>
<path class="ag" d="M394.9,36.3 401.3,44.4M389.2,38.1 395.7,46.4"/>
<path class="gg" d="M394.9,36.3 389.2,38.1M401.3,44.4 395.7,46.4"/>
<path class="fb" d="M365.9,37.9 372.4,46.6 366.8,48.4 360.3,39.5Z"/>
<path class="ab" d="M365.9,37.9 372.4,46.6M360.3,39.5 366.8,48.4"/>
<path class="gb" d="M365.9,37.9 360.3,39.5M372.4,46.6 366.8,48.4"/>
<path class="fb" d="M342.6,32.4 349.1,42.8 343.5,44.5 337,33.9Z"/>
<path class="ab" d="M342.6,32.4 349.1,42.8M337,33.9 343.5,44.5"/>
<path class="gb" d="M342.6,32.4 337,33.9M349.1,42.8 343.5,44.5"/>
<path class="fb" d="M389.2,41.2 395.7,49.5 390.1,51.4 383.6,43Z"/>
<path class="ab" d="M389.2,41.2 395.7,49.5M383.6,43 390.1,51.4"/>
<path class="gb" d="M389.2,41.2 383.6,43M395.7,49.5 390.1,51.4"/>
<path class="fo" d="M342.6,31.4 349.1,39.8 343.5,41.5 337,32.9Z"/>
<path class="ao" d="M342.6,31.4 349.1,39.8M337,32.9 343.5,41.5"/>
<path class="go" d="M342.6,31.4 337,32.9M349.1,39.8 343.5,41.5"/>
<path class="fg" d="M342.6,31.4 349.1,39.8 343.5,41.5 337,32.9Z"/>
<path class="ag" d="M342.6,31.4 349.1,39.8M337,32.9 343.5,41.5"/>
<path class="gg" d="M342.6,31.4 337,32.9M349.1,39.8 343.5,41.5"/>
<path class="fo" d="M365.9,34.9 372.4,43.5 366.8,45.3 360.3,36.5Z"/>
<path class="ao" d="M365.9,34.9 372.4,43.5M360.3,36.5 366.8,45.3"/>
<path class="go" d="M365.9,34.9 360.3,36.5M372.4,43.5 366.8,45.3"/>
<path class="fg" d="M365.9,34.9 372.4,43.5 366.8,45.3 360.3,36.5Z"/>
<path class="ag" d="M365.9,34.9 372.4,43.5M360.3,36.5 366.8,45.3"/>
<path class="gg" d="M365.9,34.9 360.3,36.5M372.4,43.5 366.8,45.3"/>
<path class="fo" d="M389.2,38.1 395.7,46.4 390.1,48.3 383.6,39.9Z"/>
<path class="ao" d="M389.2,38.1 395.7,46.4M383.6,39.9 390.1,48.3"/>
<path class="go" d="M389.2,38.1 383.6,39.9M395.7,46.4 390.1,48.3"/>
<path class="fg" d="M389.2,38.1 395.7,46.4 390.1,48.3 383.6,39.9Z"/>
<path class="ag" d="M389.2,38.1 395.7,46.4M383.6,39.9 390.1,48.3"/>
<path class="gg" d="M389.2,38.1 383.6,39.9M395.7,46.4 390.1,48.3"/>
<path class="fb" d="M360.3,39.5 366.8,48.4 361.2,50.2 354.7,41.2Z"/>
<path class="ab" d="M360.3,39.5 366.8,48.4M354.7,41.2 361.2,50.2"/>
<path class="gb" d="M360.3,39.5 354.7,41.2M366.8,48.4 361.2,50.2"/>
<path class="fb" d="M383.6,43 390.1,51.4 384.5,53.3 378,44.8Z"/>
<path class="ab" d="M383.6,43 390.1,51.4M378,44.8 384.5,53.3"/>
<path class="gb" d="M383.6,43 378,44.8M390.1,51.4 384.5,53.3"/>
<path class="fb" d="M337,33.9 343.5,44.5 337.9,42.1 331.4,34Z"/>
<path class="ab" d="M337,33.9 343.5,44.5M331.4,34 337.9,42.1"/>
<path class="gb" d="M337,33.9 331.4,34M343.5,44.5 337.9,42.1"/>
<path class="fo" d="M337,32.9 343.5,41.5 337.9,45.1 331.4,35.1Z"/>
<path class="ao" d="M337,32.9 343.5,41.5M331.4,35.1 337.9,45.1"/>
<path class="go" d="M337,32.9 331.4,35.1M343.5,41.5 337.9,45.1"/>
<path class="fg" d="M337,32.9 343.5,41.5 337.9,45.1 331.4,35.1Z"/>
<path class="ag" d="M337,32.9 343.5,41.5M331.4,35.1 337.9,45.1"/>
<path class="gg" d="M337,32.9 331.4,35.1M343.5,41.5 337.9,45.1"/>
<path class="fb" d="M406.9,45.6 413.4,54.8 407.8,54.2 401.3,47.5Z"/>
<path class="ab" d="M406.9,45.6 413.4,54.8M401.3,47.5 407.8,54.2"/>
<path class="gb" d="M406.9,45.6 401.3,47.5M413.4,54.8 407.8,54.2"/>
<path class="fo" d="M360.3,36.5 366.8,45.3 361.2,47.1 354.7,38.2Z"/>
<path class="ao" d="M360.3,36.5 366.8,45.3M354.7,38.2 361.2,47.1"/>
<path class="go" d="M360.3,36.5 354.7,38.2M366.8,45.3 361.2,47.1"/>
<path class="fg" d="M360.3,36.5 366.8,45.3 361.2,47.1 354.7,38.2Z"/>
<path class="ag" d="M360.3,36.5 366.8,45.3M354.7,38.2 361.2,47.1"/>
<path class="gg" d="M360.3,36.5 354.7,38.2M366.8,45.3 361.2,47.1"/>
<path class="fo" d="M383.6,39.9 390.1,48.3 384.5,50.2 378,41.7Z"/>
<path class="ao" d="M383.6,39.9 390.1,48.3M378,41.7 384.5,50.2"/>
<path class="go" d="M383.6,39.9 378,41.7M390.1,48.3 384.5,50.2"/>
<path class="fg" d="M383.6,39.9 390.1,48.3 384.5,50.2 378,41.7Z"/>
<path class="ag" d="M383.6,39.9 390.1,48.3M378,41.7 384.5,50.2"/>
<path class="gg" d="M383.6,39.9 378,41.7M390.1,48.3 384.5,50.2"/>
<path class="fo" d="M406.9,42.5 413.4,54.8 407.8,54.2 401.3,44.4Z"/>
<path class="ao" d="M406.9,42.5 413.4,54.8M401.3,44.4 407.8,54.2"/>
<path class="go" d="M406.9,42.5 401.3,44.4M413.4,54.8 407.8,54.2"/>
<path class="fb" d="M354.7,41.2 361.2,50.2 355.6,52 349.1,42.8Z"/>
<path class="ab" d="M354.7,41.2 361.2,50.2M349.1,42.8 355.6,52"/>
<path class="gb" d="M354.7,41.2 349.1,42.8M361.2,50.2 355.6,52"/>
<path class="fb" d="M378,44.8 384.5,53.3 378.9,55.3 372.4,46.6Z"/>
<path class="ab" d="M378,44.8 384.5,53.3M372.4,46.6 378.9,55.3"/>
<path class="gb" d="M378,44.8 372.4,46.6M384.5,53.3 378.9,55.3"/>
<path class="fo" d="M331.4,35.1 337.9,45.1 332.2,46.8 325.8,36.6Z"/>
<path class="ao" d="M331.4,35.1 337.9,45.1M325.8,36.6 332.2,46.8"/>
<path class="go" d="M331.4,35.1 325.8,36.6M337.9,45.1 332.2,46.8"/>
<path class="fg" d="M406.9,42.5 413.4,44.8 407.8,52.3 401.3,44.4Z"/>
<path class="ag" d="M406.9,42.5 413.4,44.8M401.3,44.4 407.8,52.3"/>
<path class="gg" d="M406.9,42.5 401.3,44.4M413.4,44.8 407.8,52.3"/>
<path class="fg" d="M331.4,35.1 337.9,45.1 332.2,46.8 325.8,36.6Z"/>
<path class="ag" d="M331.4,35.1 337.9,45.1M325.8,36.6 332.2,46.8"/>
<path class="gg" d="M331.4,35.1 325.8,36.6M337.9,45.1 332.2,46.8"/>
<path class="fb" d="M401.3,47.5 407.8,54.2 402.2,57.7 395.7,49.5Z"/>
<path class="ab" d="M401.3,47.5 407.8,54.2M395.7,49.5 402.2,57.7"/>
<path class="gb" d="M401.3,47.5 395.7,49.5M407.8,54.2 402.2,57.7"/>
<path class="fo" d="M354.7,38.2 361.2,47.1 355.6,48.9 349.1,39.8Z"/>
<path class="ao" d="M354.7,38.2 361.2,47.1M349.1,39.8 355.6,48.9"/>
<path class="go" d="M354.7,38.2 349.1,39.8M361.2,47.1 355.6,48.9"/>
<path class="fg" d="M354.7,38.2 361.2,47.1 355.6,48.9 349.1,39.8Z"/>
<path class="ag" d="M354.7,38.2 361.2,47.1M349.1,39.8 355.6,48.9"/>
<path class="gg" d="M354.7,38.2 349.1,39.8M361.2,47.1 355.6,48.9"/>
<path class="fb" d="M331.4,34 337.9,42.1 332.2,43.8 325.8,35.6Z"/>
<path class="ab" d="M331.4,34 337.9,42.1M325.8,35.6 332.2,43.8"/>
<path class="gb" d="M331.4,34 325.8,35.6M337.9,42.1 332.2,43.8"/>
<path class="fo" d="M378,41.7 384.5,50.2 378.9,52.2 372.4,43.5Z"/>
<path class="ao" d="M378,41.7 384.5,50.2M372.4,43.5 378.9,52.2"/>
<path class="go" d="M378,41.7 372.4,43.5M384.5,50.2 378.9,52.2"/>
<path class="fg" d="M378,41.7 384.5,50.2 378.9,52.2 372.4,43.5Z"/>
<path class="ag" d="M378,41.7 384.5,50.2M372.4,43.5 378.9,52.2"/>
<path class="gg" d="M378,41.7 372.4,43.5M384.5,50.2 378.9,52.2"/>
<path class="fo" d="M401.3,44.4 407.8,54.2 402.2,54.6 395.7,46.4Z"/>
<path class="ao" d="M401.3,44.4 407.8,54.2M395.7,46.4 402.2,54.6"/>
<path class="go" d="M401.3,44.4 395.7,46.4M407.8,54.2 402.2,54.6"/>
<path class="fg" d="M401.3,44.4 407.8,52.3 402.2,54.6 395.7,46.4Z"/>
<path class="ag" d="M401.3,44.4 407.8,52.3M395.7,46.4 402.2,54.6"/>
<path class="gg" d="M401.3,44.4 395.7,46.4M407.8,52.3 402.2,54.6"/>
<path class="fb" d="M349.1,42.8 355.6,52 349.9,53.8 343.5,44.5Z"/>
<path class="ab" d="M349.1,42.8 355.6,52M343.5,44.5 349.9,53.8"/>
<path class="gb" d="M349.1,42.8 343.5,44.5M355.6,52 349.9,53.8"/>
<path class="fb" d="M372.4,46.6 378.9,55.3 373.2,57.2 366.8,48.4Z"/>
<path class="ab" d="M372.4,46.6 378.9,55.3M366.8,48.4 373.2,57.2"/>
<path class="gb" d="M372.4,46.6 366.8,48.4M378.9,55.3 373.2,57.2"/>
<path class="fo" d="M325.8,36.6 332.2,46.8 326.6,48.4 320.2,38.1Z"/>
<path class="ao" d="M325.8,36.6 332.2,46.8M320.2,38.1 326.6,48.4"/>
<path class="go" d="M325.8,36.6 320.2,38.1M332.2,46.8 326.6,48.4"/>
<path class="fb" d="M395.7,49.5 402.2,57.7 396.6,59.8 390.1,51.4Z"/>
<path class="ab" d="M395.7,49.5 402.2,57.7M390.1,51.4 396.6,59.8"/>
<path class="gb" d="M395.7,49.5 390.1,51.4M402.2,57.7 396.6,59.8"/>
<path class="fg" d="M325.8,36.6 332.2,46.8 326.6,48.4 320.2,38.1Z"/>
<path class="ag" d="M325.8,36.6 332.2,46.8M320.2,38.1 326.6,48.4"/>
<path class="gg" d="M325.8,36.6 320.2,38.1M332.2,46.8 326.6,48.4"/>
<path class="fo" d="M349.1,39.8 355.6,48.9 349.9,50.7 343.5,41.5Z"/>
<path class="ao" d="M349.1,39.8 355.6,48.9M343.5,41.5 349.9,50.7"/>
<path class="go" d="M349.1,39.8 343.5,41.5M355.6,48.9 349.9,50.7"/>
<path class="fg" d="M349.1,39.8 355.6,48.9 349.9,50.7 343.5,41.5Z"/>
<path class="ag" d="M349.1,39.8 355.6,48.9M343.5,41.5 349.9,50.7"/>
<path class="gg" d="M349.1,39.8 343.5,41.5M355.6,48.9 349.9,50.7"/>
<path class="fo" d="M372.4,43.5 378.9,52.2 373.2,54.1 366.8,45.3Z"/>
<path class="ao" d="M372.4,43.5 378.9,52.2M366.8,45.3 373.2,54.1"/>
<path class="go" d="M372.4,43.5 366.8,45.3M378.9,52.2 373.2,54.1"/>
<path class="fb" d="M325.8,35.6 332.2,43.8 326.6,45.4 320.2,37.1Z"/>
<path class="ab" d="M325.8,35.6 332.2,43.8M320.2,37.1 326.6,45.4"/>
<path class="gb" d="M325.8,35.6 320.2,37.1M332.2,43.8 326.6,45.4"/>
<path class="fg" d="M372.4,43.5 378.9,52.2 373.2,54.1 366.8,45.3Z"/>
<path class="ag" d="M372.4,43.5 378.9,52.2M366.8,45.3 373.2,54.1"/>
<path class="gg" d="M372.4,43.5 366.8,45.3M378.9,52.2 373.2,54.1"/>
<path class="fo" d="M395.7,46.4 402.2,54.6 396.6,56.7 390.1,48.3Z"/>
<path class="ao" d="M395.7,46.4 402.2,54.6M390.1,48.3 396.6,56.7"/>
<path class="go" d="M395.7,46.4 390.1,48.3M402.2,54.6 396.6,56.7"/>
<path class="fg" d="M395.7,46.4 402.2,54.6 396.6,56.7 390.1,48.3Z"/>
<path class="ag" d="M395.7,46.4 402.2,54.6M390.1,48.3 396.6,56.7"/>
<path class="gg" d="M395.7,46.4 390.1,48.3M402.2,54.6 396.6,56.7"/>
<path class="fb" d="M366.8,48.4 373.2,57.2 367.6,59.1 361.2,50.2Z"/>
<path class="ab" d="M366.8,48.4 373.2,57.2M361.2,50.2 367.6,59.1"/>
<path class="gb" d="M366.8,48.4 361.2,50.2M373.2,57.2 367.6,59.1"/>
<path class="fb" d="M390.1,51.4 396.6,59.8 390.9,61.8 384.5,53.3Z"/>
<path class="ab" d="M390.1,51.4 396.6,59.8M384.5,53.3 390.9,61.8"/>
<path class="gb" d="M390.1,51.4 384.5,53.3M396.6,59.8 390.9,61.8"/>
<path class="fo" d="M320.2,38.1 326.6,48.4 321,50.1 314.6,39.6Z"/>
<path class="ao" d="M320.2,38.1 326.6,48.4M314.6,39.6 321,50.1"/>
<path class="go" d="M320.2,38.1 314.6,39.6M326.6,48.4 321,50.1"/>
<path class="fb" d="M343.5,44.5 349.9,53.8 344.3,51.4 337.9,42.1Z"/>
<path class="ab" d="M343.5,44.5 349.9,53.8M337.9,42.1 344.3,51.4"/>
<path class="gb" d="M343.5,44.5 337.9,42.1M349.9,53.8 344.3,51.4"/>
<path class="fg" d="M320.2,38.1 326.6,48.4 321,50.1 314.6,39.6Z"/>
<path class="ag" d="M320.2,38.1 326.6,48.4M314.6,39.6 321,50.1"/>
<path class="gg" d="M320.2,38.1 314.6,39.6M326.6,48.4 321,50.1"/>
<path class="fb" d="M413.4,54.8 419.9,65.4 414.2,66.3 407.8,54.2Z"/>
<path class="ab" d="M413.4,54.8 419.9,65.4M407.8,54.2 414.2,66.3"/>
<path class="gb" d="M413.4,54.8 407.8,54.2M419.9,65.4 414.2,66.3"/>
<path class="fo" d="M343.5,41.5 349.9,50.7 344.3,54.5 337.9,45.1Z"/>
<path class="ao" d="M343.5,41.5 349.9,50.7M337.9,45.1 344.3,54.5"/>
<path class="go" d="M343.5,41.5 337.9,45.1M349.9,50.7 344.3,54.5"/>
<path class="fg" d="M343.5,41.5 349.9,50.7 344.3,54.5 337.9,45.1Z"/>
<path class="ag" d="M343.5,41.5 349.9,50.7M337.9,45.1 344.3,54.5"/>
<path class="gg" d="M343.5,41.5 337.9,45.1M349.9,50.7 344.3,54.5"/>
<path class="fo2" d="M413.4,54.8 419.9,65.4 414.2,66.3 407.8,54.2Z"/>
<path class="fo" d="M366.8,45.3 373.2,54.1 367.6,56 361.2,47.1Z"/>
<path class="ao" d="M366.8,45.3 373.2,54.1M361.2,47.1 367.6,56"/>
<path class="go" d="M366.8,45.3 361.2,47.1M373.2,54.1 367.6,56"/>
<path class="fg" d="M366.8,45.3 373.2,54.1 367.6,56 361.2,47.1Z"/>
<path class="ag" d="M366.8,45.3 373.2,54.1M361.2,47.1 367.6,56"/>
<path class="gg" d="M366.8,45.3 361.2,47.1M373.2,54.1 367.6,56"/>
<path class="fb" d="M320.2,37.1 326.6,45.4 321,47.1 314.6,38.6Z"/>
<path class="ab" d="M320.2,37.1 326.6,45.4M314.6,38.6 321,47.1"/>
<path class="gb" d="M320.2,37.1 314.6,38.6M326.6,45.4 321,47.1"/>
<path class="fo" d="M390.1,48.3 396.6,56.7 390.9,58.8 384.5,50.2Z"/>
<path class="ao" d="M390.1,48.3 396.6,56.7M384.5,50.2 390.9,58.8"/>
<path class="go" d="M390.1,48.3 384.5,50.2M396.6,56.7 390.9,58.8"/>
<path class="fg" d="M390.1,48.3 396.6,56.7 390.9,58.8 384.5,50.2Z"/>
<path class="ag" d="M390.1,48.3 396.6,56.7M384.5,50.2 390.9,58.8"/>
<path class="gg" d="M390.1,48.3 384.5,50.2M396.6,56.7 390.9,58.8"/>
<path class="fb" d="M361.2,50.2 367.6,59.1 362,61.1 355.6,52Z"/>
<path class="ab" d="M361.2,50.2 367.6,59.1M355.6,52 362,61.1"/>
<path class="gb" d="M361.2,50.2 355.6,52M367.6,59.1 362,61.1"/>
<path class="fo" d="M337.9,45.1 344.3,54.5 338.7,56.3 332.2,46.8Z"/>
<path class="ao" d="M337.9,45.1 344.3,54.5M332.2,46.8 338.7,56.3"/>
<path class="go" d="M337.9,45.1 332.2,46.8M344.3,54.5 338.7,56.3"/>
<path class="fg" d="M337.9,45.1 344.3,54.5 338.7,56.3 332.2,46.8Z"/>
<path class="ag" d="M337.9,45.1 344.3,54.5M332.2,46.8 338.7,56.3"/>
<path class="gg" d="M337.9,45.1 332.2,46.8M344.3,54.5 338.7,56.3"/>
<path class="fb" d="M384.5,53.3 390.9,61.8 385.3,63.9 378.9,55.3Z"/>
<path class="ab" d="M384.5,53.3 390.9,61.8M378.9,55.3 385.3,63.9"/>
<path class="gb" d="M384.5,53.3 378.9,55.3M390.9,61.8 385.3,63.9"/>
<path class="fo" d="M314.6,39.6 321,50.1 315.4,51.7 308.9,41.1Z"/>
<path class="ao" d="M314.6,39.6 321,50.1M308.9,41.1 315.4,51.7"/>
<path class="go" d="M314.6,39.6 308.9,41.1M321,50.1 315.4,51.7"/>
<path class="fg" d="M314.6,39.6 321,50.1 315.4,51.7 308.9,41.1Z"/>
<path class="ag" d="M314.6,39.6 321,50.1M308.9,41.1 315.4,51.7"/>
<path class="gg" d="M314.6,39.6 308.9,41.1M321,50.1 315.4,51.7"/>
<path class="fb" d="M407.8,54.2 414.2,66.3 408.6,66.8 402.2,57.7Z"/>
<path class="ab" d="M407.8,54.2 414.2,66.3M402.2,57.7 408.6,66.8"/>
<path class="gb" d="M407.8,54.2 402.2,57.7M414.2,66.3 408.6,66.8"/>
<path class="fo" d="M361.2,47.1 367.6,56 362,58 355.6,48.9Z"/>
<path class="ao" d="M361.2,47.1 367.6,56M355.6,48.9 362,58"/>
<path class="go" d="M361.2,47.1 355.6,48.9M367.6,56 362,58"/>
<path class="fg" d="M361.2,47.1 367.6,56 362,58 355.6,48.9Z"/>
<path class="ag" d="M361.2,47.1 367.6,56M355.6,48.9 362,58"/>
<path class="gg" d="M361.2,47.1 355.6,48.9M367.6,56 362,58"/>
<path class="fo" d="M407.8,54.2 414.2,66.3 408.6,66.8 402.2,54.6Z"/>
<path class="ao" d="M407.8,54.2 414.2,66.3M402.2,54.6 408.6,66.8"/>
<path class="go" d="M407.8,54.2 402.2,54.6M414.2,66.3 408.6,66.8"/>
<path class="fb" d="M314.6,38.6 321,47.1 315.4,48.7 308.9,40.1Z"/>
<path class="ab" d="M314.6,38.6 321,47.1M308.9,40.1 315.4,48.7"/>
<path class="gb" d="M314.6,38.6 308.9,40.1M321,47.1 315.4,48.7"/>
<path class="fb" d="M337.9,42.1 344.3,51.4 338.7,53.2 332.2,43.8Z"/>
<path class="ab" d="M337.9,42.1 344.3,51.4M332.2,43.8 338.7,53.2"/>
<path class="gb" d="M337.9,42.1 332.2,43.8M344.3,51.4 338.7,53.2"/>
<path class="fo" d="M384.5,50.2 390.9,58.8 385.3,60.8 378.9,52.2Z"/>
<path class="ao" d="M384.5,50.2 390.9,58.8M378.9,52.2 385.3,60.8"/>
<path class="go" d="M384.5,50.2 378.9,52.2M390.9,58.8 385.3,60.8"/>
<path class="fg" d="M384.5,50.2 390.9,58.8 385.3,60.8 378.9,52.2Z"/>
<path class="ag" d="M384.5,50.2 390.9,58.8M378.9,52.2 385.3,60.8"/>
<path class="gg" d="M384.5,50.2 378.9,52.2M390.9,58.8 385.3,60.8"/>
<path class="fb" d="M355.6,52 362,61.1 356.4,63 349.9,53.8Z"/>
<path class="ab" d="M355.6,52 362,61.1M349.9,53.8 356.4,63"/>
<path class="gb" d="M355.6,52 349.9,53.8M362,61.1 356.4,63"/>
<path class="fb" d="M378.9,55.3 385.3,63.9 379.7,66 373.2,57.2Z"/>
<path class="ab" d="M378.9,55.3 385.3,63.9M373.2,57.2 379.7,66"/>
<path class="gb" d="M378.9,55.3 373.2,57.2M385.3,63.9 379.7,66"/>
<path class="fo" d="M332.2,46.8 338.7,56.3 333.1,58.1 326.6,48.4Z"/>
<path class="ao" d="M332.2,46.8 338.7,56.3M326.6,48.4 333.1,58.1"/>
<path class="go" d="M332.2,46.8 326.6,48.4M338.7,56.3 333.1,58.1"/>
<path class="fg" d="M332.2,46.8 338.7,56.3 333.1,58.1 326.6,48.4Z"/>
<path class="ag" d="M332.2,46.8 338.7,56.3M326.6,48.4 333.1,58.1"/>
<path class="gg" d="M332.2,46.8 326.6,48.4M338.7,56.3 333.1,58.1"/>
<path class="fg" d="M413.4,44.8 419.9,47.6 414.2,52.3 407.8,52.3Z"/>
<path class="ag" d="M413.4,44.8 419.9,47.6M407.8,52.3 414.2,52.3"/>
<path class="gg" d="M413.4,44.8 407.8,52.3M419.9,47.6 414.2,52.3"/>
<path class="fo" d="M308.9,41.1 315.4,51.7 309.8,53.3 303.3,42.6Z"/>
<path class="ao" d="M308.9,41.1 315.4,51.7M303.3,42.6 309.8,53.3"/>
<path class="go" d="M308.9,41.1 303.3,42.6M315.4,51.7 309.8,53.3"/>
<path class="fg" d="M308.9,41.1 315.4,51.7 309.8,53.3 303.3,42.6Z"/>
<path class="ag" d="M308.9,41.1 315.4,51.7M303.3,42.6 309.8,53.3"/>
<path class="gg" d="M308.9,41.1 303.3,42.6M315.4,51.7 309.8,53.3"/>
<path class="fb" d="M402.2,57.7 408.6,66.8 403,68.1 396.6,59.8Z"/>
<path class="ab" d="M402.2,57.7 408.6,66.8M396.6,59.8 403,68.1"/>
<path class="gb" d="M402.2,57.7 396.6,59.8M408.6,66.8 403,68.1"/>
<path class="fo" d="M355.6,48.9 362,58 356.4,59.9 349.9,50.7Z"/>
<path class="ao" d="M355.6,48.9 362,58M349.9,50.7 356.4,59.9"/>
<path class="go" d="M355.6,48.9 349.9,50.7M362,58 356.4,59.9"/>
<path class="fg" d="M355.6,48.9 362,58 356.4,59.9 349.9,50.7Z"/>
<path class="ag" d="M355.6,48.9 362,58M349.9,50.7 356.4,59.9"/>
<path class="gg" d="M355.6,48.9 349.9,50.7M362,58 356.4,59.9"/>
<path class="fb" d="M332.2,43.8 338.7,53.2 333.1,55 326.6,45.4Z"/>
<path class="ab" d="M332.2,43.8 338.7,53.2M326.6,45.4 333.1,55"/>
<path class="gb" d="M332.2,43.8 326.6,45.4M338.7,53.2 333.1,55"/>
<path class="fb" d="M308.9,40.1 315.4,48.7 309.8,50.4 303.3,41.6Z"/>
<path class="ab" d="M308.9,40.1 315.4,48.7M303.3,41.6 309.8,50.4"/>
<path class="gb" d="M308.9,40.1 303.3,41.6M315.4,48.7 309.8,50.4"/>
<path class="fo" d="M378.9,52.2 385.3,60.8 379.7,62.9 373.2,54.1Z"/>
<path class="ao" d="M378.9,52.2 385.3,60.8M373.2,54.1 379.7,62.9"/>
<path class="go" d="M378.9,52.2 373.2,54.1M385.3,60.8 379.7,62.9"/>
<path class="fg" d="M378.9,52.2 385.3,60.8 379.7,62.9 373.2,54.1Z"/>
<path class="ag" d="M378.9,52.2 385.3,60.8M373.2,54.1 379.7,62.9"/>
<path class="gg" d="M378.9,52.2 373.2,54.1M385.3,60.8 379.7,62.9"/>
<path class="fg" d="M407.8,52.3 414.2,52.3 408.6,58 402.2,54.6Z"/>
<path class="ag" d="M407.8,52.3 414.2,52.3M402.2,54.6 408.6,58"/>
<path class="gg" d="M407.8,52.3 402.2,54.6M414.2,52.3 408.6,58"/>
<path class="fo" d="M402.2,54.6 408.6,66.8 403,65.1 396.6,56.7Z"/>
<path class="ao" d="M402.2,54.6 408.6,66.8M396.6,56.7 403,65.1"/>
<path class="go" d="M402.2,54.6 396.6,56.7M408.6,66.8 403,65.1"/>
<path class="fb" d="M373.2,57.2 379.7,66 374.1,68.1 367.6,59.1Z"/>
<path class="ab" d="M373.2,57.2 379.7,66M367.6,59.1 374.1,68.1"/>
<path class="gb" d="M373.2,57.2 367.6,59.1M379.7,66 374.1,68.1"/>
<path class="fb" d="M419.9,65.4 426.3,75.1 420.7,76.3 414.2,66.3Z"/>
<path class="ab" d="M419.9,65.4 426.3,75.1M414.2,66.3 420.7,76.3"/>
<path class="gb" d="M419.9,65.4 414.2,66.3M426.3,75.1 420.7,76.3"/>
<path class="fo" d="M326.6,48.4 333.1,58.1 327.5,59.9 321,50.1Z"/>
<path class="ao" d="M326.6,48.4 333.1,58.1M321,50.1 327.5,59.9"/>
<path class="go" d="M326.6,48.4 321,50.1M333.1,58.1 327.5,59.9"/>
<path class="fg" d="M326.6,48.4 333.1,58.1 327.5,59.9 321,50.1Z"/>
<path class="ag" d="M326.6,48.4 333.1,58.1M321,50.1 327.5,59.9"/>
<path class="gg" d="M326.6,48.4 321,50.1M333.1,58.1 327.5,59.9"/>
<path class="fo2" d="M419.9,65.4 426.3,75.1 420.7,76.3 414.2,66.3Z"/>
<path class="fg" d="M402.2,54.6 408.6,58 403,65.1 396.6,56.7Z"/>
<path class="ag" d="M402.2,54.6 408.6,58M396.6,56.7 403,65.1"/>
<path class="gg" d="M402.2,54.6 396.6,56.7M408.6,58 403,65.1"/>
<path class="fb" d="M349.9,53.8 356.4,63 350.8,60.8 344.3,51.4Z"/>
<path class="ab" d="M349.9,53.8 356.4,63M344.3,51.4 350.8,60.8"/>
<path class="gb" d="M349.9,53.8 344.3,51.4M356.4,63 350.8,60.8"/>
<path class="fo" d="M349.9,50.7 356.4,59.9 350.8,63.9 344.3,54.5Z"/>
<path class="ao" d="M349.9,50.7 356.4,59.9M344.3,54.5 350.8,63.9"/>
<path class="go" d="M349.9,50.7 344.3,54.5M356.4,59.9 350.8,63.9"/>
<path class="fg" d="M349.9,50.7 356.4,59.9 350.8,63.9 344.3,54.5Z"/>
<path class="ag" d="M349.9,50.7 356.4,59.9M344.3,54.5 350.8,63.9"/>
<path class="gg" d="M349.9,50.7 344.3,54.5M356.4,59.9 350.8,63.9"/>
<path class="fo" d="M303.3,42.6 309.8,53.3 304.2,55 297.7,44.1Z"/>
<path class="ao" d="M303.3,42.6 309.8,53.3M297.7,44.1 304.2,55"/>
<path class="go" d="M303.3,42.6 297.7,44.1M309.8,53.3 304.2,55"/>
<path class="fb" d="M396.6,59.8 403,68.1 397.4,70.4 390.9,61.8Z"/>
<path class="ab" d="M396.6,59.8 403,68.1M390.9,61.8 397.4,70.4"/>
<path class="gb" d="M396.6,59.8 390.9,61.8M403,68.1 397.4,70.4"/>
<path class="fg" d="M303.3,42.6 309.8,53.3 304.2,55 297.7,44.1Z"/>
<path class="ag" d="M303.3,42.6 309.8,53.3M297.7,44.1 304.2,55"/>
<path class="gg" d="M303.3,42.6 297.7,44.1M309.8,53.3 304.2,55"/>
<path class="fo" d="M373.2,54.1 379.7,62.9 374.1,65 367.6,56Z"/>
<path class="ao" d="M373.2,54.1 379.7,62.9M367.6,56 374.1,65"/>
<path class="go" d="M373.2,54.1 367.6,56M379.7,62.9 374.1,65"/>
<path class="fg" d="M373.2,54.1 379.7,62.9 374.1,65 367.6,56Z"/>
<path class="ag" d="M373.2,54.1 379.7,62.9M367.6,56 374.1,65"/>
<path class="gg" d="M373.2,54.1 367.6,56M379.7,62.9 374.1,65"/>
<path class="fb" d="M326.6,45.4 333.1,55 327.5,56.8 321,47.1Z"/>
<path class="ab" d="M326.6,45.4 333.1,55M321,47.1 327.5,56.8"/>
<path class="gb" d="M326.6,45.4 321,47.1M333.1,55 327.5,56.8"/>
<path class="fb" d="M303.3,41.6 309.8,50.4 304.2,52 297.7,43.1Z"/>
<path class="ab" d="M303.3,41.6 309.8,50.4M297.7,43.1 304.2,52"/>
<path class="gb" d="M303.3,41.6 297.7,43.1M309.8,50.4 304.2,52"/>
<path class="fo" d="M396.6,56.7 403,65.1 397.4,67.3 390.9,58.8Z"/>
<path class="ao" d="M396.6,56.7 403,65.1M390.9,58.8 397.4,67.3"/>
<path class="go" d="M396.6,56.7 390.9,58.8M403,65.1 397.4,67.3"/>
<path class="fg" d="M396.6,56.7 403,65.1 397.4,67.3 390.9,58.8Z"/>
<path class="ag" d="M396.6,56.7 403,65.1M390.9,58.8 397.4,67.3"/>
<path class="gg" d="M396.6,56.7 390.9,58.8M403,65.1 397.4,67.3"/>
<path class="fb" d="M367.6,59.1 374.1,68.1 368.5,70.1 362,61.1Z"/>
<path class="ab" d="M367.6,59.1 374.1,68.1M362,61.1 368.5,70.1"/>
<path class="gb" d="M367.6,59.1 362,61.1M374.1,68.1 368.5,70.1"/>
<path class="fo" d="M344.3,54.5 350.8,63.9 345.2,65.8 338.7,56.3Z"/>
<path class="ao" d="M344.3,54.5 350.8,63.9M338.7,56.3 345.2,65.8"/>
<path class="go" d="M344.3,54.5 338.7,56.3M350.8,63.9 345.2,65.8"/>
<path class="fg" d="M344.3,54.5 350.8,63.9 345.2,65.8 338.7,56.3Z"/>
<path class="ag" d="M344.3,54.5 350.8,63.9M338.7,56.3 345.2,65.8"/>
<path class="gg" d="M344.3,54.5 338.7,56.3M350.8,63.9 345.2,65.8"/>
<path class="fo" d="M321,50.1 327.5,59.9 321.9,61.7 315.4,51.7Z"/>
<path class="ao" d="M321,50.1 327.5,59.9M315.4,51.7 321.9,61.7"/>
<path class="go" d="M321,50.1 315.4,51.7M327.5,59.9 321.9,61.7"/>
<path class="fg" d="M321,50.1 327.5,59.9 321.9,61.7 315.4,51.7Z"/>
<path class="ag" d="M321,50.1 327.5,59.9M315.4,51.7 321.9,61.7"/>
<path class="gg" d="M321,50.1 315.4,51.7M327.5,59.9 321.9,61.7"/>
<path class="fb" d="M414.2,66.3 420.7,76.3 415.1,77.4 408.6,66.8Z"/>
<path class="ab" d="M414.2,66.3 420.7,76.3M408.6,66.8 415.1,77.4"/>
<path class="gb" d="M414.2,66.3 408.6,66.8M420.7,76.3 415.1,77.4"/>
<path class="fb" d="M390.9,61.8 397.4,70.4 391.8,72.6 385.3,63.9Z"/>
<path class="ab" d="M390.9,61.8 397.4,70.4M385.3,63.9 391.8,72.6"/>
<path class="gb" d="M390.9,61.8 385.3,63.9M397.4,70.4 391.8,72.6"/>
<path class="fo2" d="M414.2,66.3 420.7,76.3 415.1,77.4 408.6,66.8Z"/>
<path class="fo" d="M297.7,44.1 304.2,55 298.5,56.6 292.1,45.6Z"/>
<path class="ao" d="M297.7,44.1 304.2,55M292.1,45.6 298.5,56.6"/>
<path class="go" d="M297.7,44.1 292.1,45.6M304.2,55 298.5,56.6"/>
<path class="fg" d="M297.7,44.1 304.2,55 298.5,56.6 292.1,45.6Z"/>
<path class="ag" d="M297.7,44.1 304.2,55M292.1,45.6 298.5,56.6"/>
<path class="gg" d="M297.7,44.1 292.1,45.6M304.2,55 298.5,56.6"/>
<path class="fo" d="M367.6,56 374.1,65 368.5,67.1 362,58Z"/>
<path class="ao" d="M367.6,56 374.1,65M362,58 368.5,67.1"/>
<path class="go" d="M367.6,56 362,58M374.1,65 368.5,67.1"/>
<path class="fg" d="M367.6,56 374.1,65 368.5,67.1 362,58Z"/>
<path class="ag" d="M367.6,56 374.1,65M362,58 368.5,67.1"/>
<path class="gg" d="M367.6,56 362,58M374.1,65 368.5,67.1"/>
<path class="fb" d="M344.3,51.4 350.8,60.8 345.2,62.7 338.7,53.2Z"/>
<path class="ab" d="M344.3,51.4 350.8,60.8M338.7,53.2 345.2,62.7"/>
<path class="gb" d="M344.3,51.4 338.7,53.2M350.8,60.8 345.2,62.7"/>
<path class="fb" d="M321,47.1 327.5,56.8 321.9,58.6 315.4,48.7Z"/>
<path class="ab" d="M321,47.1 327.5,56.8M315.4,48.7 321.9,58.6"/>
<path class="gb" d="M321,47.1 315.4,48.7M327.5,56.8 321.9,58.6"/>
<path class="fb" d="M297.7,43.1 304.2,52 298.5,53.7 292.1,44.6Z"/>
<path class="ab" d="M297.7,43.1 304.2,52M292.1,44.6 298.5,53.7"/>
<path class="gb" d="M297.7,43.1 292.1,44.6M304.2,52 298.5,53.7"/>
<path class="fo" d="M390.9,58.8 397.4,67.3 391.8,69.5 385.3,60.8Z"/>
<path class="ao" d="M390.9,58.8 397.4,67.3M385.3,60.8 391.8,69.5"/>
<path class="go" d="M390.9,58.8 385.3,60.8M397.4,67.3 391.8,69.5"/>
<path class="fg" d="M390.9,58.8 397.4,67.3 391.8,69.5 385.3,60.8Z"/>
<path class="ag" d="M390.9,58.8 397.4,67.3M385.3,60.8 391.8,69.5"/>
<path class="gg" d="M390.9,58.8 385.3,60.8M397.4,67.3 391.8,69.5"/>
<path class="fb" d="M362,61.1 368.5,70.1 362.9,72.2 356.4,63Z"/>
<path class="ab" d="M362,61.1 368.5,70.1M356.4,63 362.9,72.2"/>
<path class="gb" d="M362,61.1 356.4,63M368.5,70.1 362.9,72.2"/>
<path class="fo" d="M338.7,56.3 345.2,65.8 339.5,67.8 333.1,58.1Z"/>
<path class="ao" d="M338.7,56.3 345.2,65.8M333.1,58.1 339.5,67.8"/>
<path class="go" d="M338.7,56.3 333.1,58.1M345.2,65.8 339.5,67.8"/>
<path class="fg" d="M338.7,56.3 345.2,65.8 339.5,67.8 333.1,58.1Z"/>
<path class="ag" d="M338.7,56.3 345.2,65.8M333.1,58.1 339.5,67.8"/>
<path class="gg" d="M338.7,56.3 333.1,58.1M345.2,65.8 339.5,67.8"/>
<path class="fo" d="M315.4,51.7 321.9,61.7 316.2,63.5 309.8,53.3Z"/>
<path class="ao" d="M315.4,51.7 321.9,61.7M309.8,53.3 316.2,63.5"/>
<path class="go" d="M315.4,51.7 309.8,53.3M321.9,61.7 316.2,63.5"/>
<path class="fg" d="M315.4,51.7 321.9,61.7 316.2,63.5 309.8,53.3Z"/>
<path class="ag" d="M315.4,51.7 321.9,61.7M309.8,53.3 316.2,63.5"/>
<path class="gg" d="M315.4,51.7 309.8,53.3M321.9,61.7 316.2,63.5"/>
<path class="fb" d="M385.3,63.9 391.8,72.6 386.2,74.8 379.7,66Z"/>
<path class="ab" d="M385.3,63.9 391.8,72.6M379.7,66 386.2,74.8"/>
<path class="gb" d="M385.3,63.9 379.7,66M391.8,72.6 386.2,74.8"/>
<path class="fb" d="M408.6,66.8 415.1,77.4 409.5,78 403,68.1Z"/>
<path class="ab" d="M408.6,66.8 415.1,77.4M403,68.1 409.5,78"/>
<path class="gb" d="M408.6,66.8 403,68.1M415.1,77.4 409.5,78"/>
<path class="fo" d="M292.1,45.6 298.5,56.6 292.9,58.3 286.5,47.1Z"/>
<path class="ao" d="M292.1,45.6 298.5,56.6M286.5,47.1 292.9,58.3"/>
<path class="go" d="M292.1,45.6 286.5,47.1M298.5,56.6 292.9,58.3"/>
<path class="fg" d="M292.1,45.6 298.5,56.6 292.9,58.3 286.5,47.1Z"/>
<path class="ag" d="M292.1,45.6 298.5,56.6M286.5,47.1 292.9,58.3"/>
<path class="gg" d="M292.1,45.6 286.5,47.1M298.5,56.6 292.9,58.3"/>
<path class="fo" d="M408.6,66.8 415.1,77.4 409.5,78 403,65.1Z"/>
<path class="ao" d="M408.6,66.8 415.1,77.4M403,65.1 409.5,78"/>
<path class="go" d="M408.6,66.8 403,65.1M415.1,77.4 409.5,78"/>
<path class="fo" d="M362,58 368.5,67.1 362.9,69.1 356.4,59.9Z"/>
<path class="ao" d="M362,58 368.5,67.1M356.4,59.9 362.9,69.1"/>
<path class="go" d="M362,58 356.4,59.9M368.5,67.1 362.9,69.1"/>
<path class="fg" d="M362,58 368.5,67.1 362.9,69.1 356.4,59.9Z"/>
<path class="ag" d="M362,58 368.5,67.1M356.4,59.9 362.9,69.1"/>
<path class="gg" d="M362,58 356.4,59.9M368.5,67.1 362.9,69.1"/>
<path class="fb" d="M338.7,53.2 345.2,62.7 339.5,64.7 333.1,55Z"/>
<path class="ab" d="M338.7,53.2 345.2,62.7M333.1,55 339.5,64.7"/>
<path class="gb" d="M338.7,53.2 333.1,55M345.2,62.7 339.5,64.7"/>
<path class="fb" d="M315.4,48.7 321.9,58.6 316.2,60.4 309.8,50.4Z"/>
<path class="ab" d="M315.4,48.7 321.9,58.6M309.8,50.4 316.2,60.4"/>
<path class="gb" d="M315.4,48.7 309.8,50.4M321.9,58.6 316.2,60.4"/>
<path class="fb" d="M292.1,44.6 298.5,53.7 292.9,55.3 286.5,46.1Z"/>
<path class="ab" d="M292.1,44.6 298.5,53.7M286.5,46.1 292.9,55.3"/>
<path class="gb" d="M292.1,44.6 286.5,46.1M298.5,53.7 292.9,55.3"/>
<path class="fo" d="M385.3,60.8 391.8,69.5 386.2,71.7 379.7,62.9Z"/>
<path class="ao" d="M385.3,60.8 391.8,69.5M379.7,62.9 386.2,71.7"/>
<path class="go" d="M385.3,60.8 379.7,62.9M391.8,69.5 386.2,71.7"/>
<path class="fg" d="M385.3,60.8 391.8,69.5 386.2,71.7 379.7,62.9Z"/>
<path class="ag" d="M385.3,60.8 391.8,69.5M379.7,62.9 386.2,71.7"/>
<path class="gg" d="M385.3,60.8 379.7,62.9M391.8,69.5 386.2,71.7"/>
<path class="fb" d="M426.3,75.1 432.8,84.4 427.2,85.9 420.7,76.3Z"/>
<path class="ab" d="M426.3,75.1 432.8,84.4M420.7,76.3 427.2,85.9"/>
<path class="gb" d="M426.3,75.1 420.7,76.3M432.8,84.4 427.2,85.9"/>
<path class="fo" d="M333.1,58.1 339.5,67.8 333.9,69.7 327.5,59.9Z"/>
<path class="ao" d="M333.1,58.1 339.5,67.8M327.5,59.9 333.9,69.7"/>
<path class="go" d="M333.1,58.1 327.5,59.9M339.5,67.8 333.9,69.7"/>
<path class="fg" d="M333.1,58.1 339.5,67.8 333.9,69.7 327.5,59.9Z"/>
<path class="ag" d="M333.1,58.1 339.5,67.8M327.5,59.9 333.9,69.7"/>
<path class="gg" d="M333.1,58.1 327.5,59.9M339.5,67.8 333.9,69.7"/>
<path class="fo2" d="M426.3,75.1 432.8,84.4 427.2,85.9 420.7,76.3Z"/>
<path class="fb" d="M379.7,66 386.2,74.8 380.5,77 374.1,68.1Z"/>
<path class="ab" d="M379.7,66 386.2,74.8M374.1,68.1 380.5,77"/>
<path class="gb" d="M379.7,66 374.1,68.1M386.2,74.8 380.5,77"/>
<path class="fo" d="M309.8,53.3 316.2,63.5 310.6,65.3 304.2,55Z"/>
<path class="ao" d="M309.8,53.3 316.2,63.5M304.2,55 310.6,65.3"/>
<path class="go" d="M309.8,53.3 304.2,55M316.2,63.5 310.6,65.3"/>
<path class="fg" d="M309.8,53.3 316.2,63.5 310.6,65.3 304.2,55Z"/>
<path class="ag" d="M309.8,53.3 316.2,63.5M304.2,55 310.6,65.3"/>
<path class="gg" d="M309.8,53.3 304.2,55M316.2,63.5 310.6,65.3"/>
<path class="fb" d="M356.4,63 362.9,72.2 357.2,70.2 350.8,60.8Z"/>
<path class="ab" d="M356.4,63 362.9,72.2M350.8,60.8 357.2,70.2"/>
<path class="gb" d="M356.4,63 350.8,60.8M362.9,72.2 357.2,70.2"/>
<path class="fo" d="M356.4,59.9 362.9,69.1 357.2,73.3 350.8,63.9Z"/>
<path class="ao" d="M356.4,59.9 362.9,69.1M350.8,63.9 357.2,73.3"/>
<path class="go" d="M356.4,59.9 350.8,63.9M362.9,69.1 357.2,73.3"/>
<path class="fg" d="M356.4,59.9 362.9,69.1 357.2,73.3 350.8,63.9Z"/>
<path class="ag" d="M356.4,59.9 362.9,69.1M350.8,63.9 357.2,73.3"/>
<path class="gg" d="M356.4,59.9 350.8,63.9M362.9,69.1 357.2,73.3"/>
<path class="fo" d="M286.5,47.1 292.9,58.3 287.3,59.9 280.9,48.6Z"/>
<path class="ao" d="M286.5,47.1 292.9,58.3M280.9,48.6 287.3,59.9"/>
<path class="go" d="M286.5,47.1 280.9,48.6M292.9,58.3 287.3,59.9"/>
<path class="fb" d="M403,68.1 409.5,78 403.9,78.9 397.4,70.4Z"/>
<path class="ab" d="M403,68.1 409.5,78M397.4,70.4 403.9,78.9"/>
<path class="gb" d="M403,68.1 397.4,70.4M409.5,78 403.9,78.9"/>
<path class="fg" d="M286.5,47.1 292.9,58.3 287.3,59.9 280.9,48.6Z"/>
<path class="ag" d="M286.5,47.1 292.9,58.3M280.9,48.6 287.3,59.9"/>
<path class="gg" d="M286.5,47.1 280.9,48.6M292.9,58.3 287.3,59.9"/>
<path class="fg" d="M419.9,47.6 426.3,52 420.7,56.6 414.2,52.3Z"/>
<path class="ag" d="M419.9,47.6 426.3,52M414.2,52.3 420.7,56.6"/>
<path class="gg" d="M419.9,47.6 414.2,52.3M426.3,52 420.7,56.6"/>
<path class="fb" d="M333.1,55 339.5,64.7 333.9,66.6 327.5,56.8Z"/>
<path class="ab" d="M333.1,55 339.5,64.7M327.5,56.8 333.9,66.6"/>
<path class="gb" d="M333.1,55 327.5,56.8M339.5,64.7 333.9,66.6"/>
<path class="fb" d="M309.8,50.4 316.2,60.4 310.6,62.2 304.2,52Z"/>
<path class="ab" d="M309.8,50.4 316.2,60.4M304.2,52 310.6,62.2"/>
<path class="gb" d="M309.8,50.4 304.2,52M316.2,60.4 310.6,62.2"/>
<path class="fo" d="M379.7,62.9 386.2,71.7 380.5,73.9 374.1,65Z"/>
<path class="ao" d="M379.7,62.9 386.2,71.7M374.1,65 380.5,73.9"/>
<path class="go" d="M379.7,62.9 374.1,65M386.2,71.7 380.5,73.9"/>
<path class="fg" d="M379.7,62.9 386.2,71.7 380.5,73.9 374.1,65Z"/>
<path class="ag" d="M379.7,62.9 386.2,71.7M374.1,65 380.5,73.9"/>
<path class="gg" d="M379.7,62.9 374.1,65M386.2,71.7 380.5,73.9"/>
<path class="fb" d="M286.5,46.1 292.9,55.3 287.3,56.9 280.9,47.6Z"/>
<path class="ab" d="M286.5,46.1 292.9,55.3M280.9,47.6 287.3,56.9"/>
<path class="gb" d="M286.5,46.1 280.9,47.6M292.9,55.3 287.3,56.9"/>
<path class="fo" d="M403,65.1 409.5,78 403.9,75.8 397.4,67.3Z"/>
<path class="ao" d="M403,65.1 409.5,78M397.4,67.3 403.9,75.8"/>
<path class="go" d="M403,65.1 397.4,67.3M409.5,78 403.9,75.8"/>
<path class="fg" d="M414.2,52.3 420.7,56.6 415.1,61.6 408.6,58Z"/>
<path class="ag" d="M414.2,52.3 420.7,56.6M408.6,58 415.1,61.6"/>
<path class="gg" d="M414.2,52.3 408.6,58M420.7,56.6 415.1,61.6"/>
<path class="fo" d="M327.5,59.9 333.9,69.7 328.3,71.6 321.9,61.7Z"/>
<path class="ao" d="M327.5,59.9 333.9,69.7M321.9,61.7 328.3,71.6"/>
<path class="go" d="M327.5,59.9 321.9,61.7M333.9,69.7 328.3,71.6"/>
<path class="fg" d="M327.5,59.9 333.9,69.7 328.3,71.6 321.9,61.7Z"/>
<path class="ag" d="M327.5,59.9 333.9,69.7M321.9,61.7 328.3,71.6"/>
<path class="gg" d="M327.5,59.9 321.9,61.7M333.9,69.7 328.3,71.6"/>
<path class="fb" d="M374.1,68.1 380.5,77 374.9,79.2 368.5,70.1Z"/>
<path class="ab" d="M374.1,68.1 380.5,77M368.5,70.1 374.9,79.2"/>
<path class="gb" d="M374.1,68.1 368.5,70.1M380.5,77 374.9,79.2"/>
<path class="fo" d="M350.8,63.9 357.2,73.3 351.6,75.3 345.2,65.8Z"/>
<path class="ao" d="M350.8,63.9 357.2,73.3M345.2,65.8 351.6,75.3"/>
<path class="go" d="M350.8,63.9 345.2,65.8M357.2,73.3 351.6,75.3"/>
<path class="fb" d="M420.7,76.3 427.2,85.9 421.5,87.2 415.1,77.4Z"/>
<path class="ab" d="M420.7,76.3 427.2,85.9M415.1,77.4 421.5,87.2"/>
<path class="gb" d="M420.7,76.3 415.1,77.4M427.2,85.9 421.5,87.2"/>
<path class="fg" d="M350.8,63.9 357.2,73.3 351.6,75.3 345.2,65.8Z"/>
<path class="ag" d="M350.8,63.9 357.2,73.3M345.2,65.8 351.6,75.3"/>
<path class="gg" d="M350.8,63.9 345.2,65.8M357.2,73.3 351.6,75.3"/>
<path class="fg" d="M408.6,58 415.1,61.6 409.5,67.5 403,65.1Z"/>
<path class="ag" d="M408.6,58 415.1,61.6M403,65.1 409.5,67.5"/>
<path class="gg" d="M408.6,58 403,65.1M415.1,61.6 409.5,67.5"/>
<path class="fo" d="M304.2,55 310.6,65.3 305,67 298.5,56.6Z"/>
<path class="ao" d="M304.2,55 310.6,65.3M298.5,56.6 305,67"/>
<path class="go" d="M304.2,55 298.5,56.6M310.6,65.3 305,67"/>
<path class="fg" d="M304.2,55 310.6,65.3 305,67 298.5,56.6Z"/>
<path class="ag" d="M304.2,55 310.6,65.3M298.5,56.6 305,67"/>
<path class="gg" d="M304.2,55 298.5,56.6M310.6,65.3 305,67"/>
<path class="fo2" d="M420.7,76.3 427.2,85.9 421.5,87.2 415.1,77.4Z"/>
<path class="fg" d="M403,65.1 409.5,67.5 403.9,75.8 397.4,67.3Z"/>
<path class="ag" d="M403,65.1 409.5,67.5M397.4,67.3 403.9,75.8"/>
<path class="gg" d="M403,65.1 397.4,67.3M409.5,67.5 403.9,75.8"/>
<path class="fb" d="M397.4,70.4 403.9,78.9 398.2,81.2 391.8,72.6Z"/>
<path class="ab" d="M397.4,70.4 403.9,78.9M391.8,72.6 398.2,81.2"/>
<path class="gb" d="M397.4,70.4 391.8,72.6M403.9,78.9 398.2,81.2"/>
<path class="fo" d="M280.9,48.6 287.3,59.9 281.7,61.6 275.2,50.1Z"/>
<path class="ao" d="M280.9,48.6 287.3,59.9M275.2,50.1 281.7,61.6"/>
<path class="go" d="M280.9,48.6 275.2,50.1M287.3,59.9 281.7,61.6"/>
<path class="fg" d="M280.9,48.6 287.3,59.9 281.7,61.6 275.2,50.1Z"/>
<path class="ag" d="M280.9,48.6 287.3,59.9M275.2,50.1 281.7,61.6"/>
<path class="gg" d="M280.9,48.6 275.2,50.1M287.3,59.9 281.7,61.6"/>
<path class="fb" d="M327.5,56.8 333.9,66.6 328.3,68.5 321.9,58.6Z"/>
<path class="ab" d="M327.5,56.8 333.9,66.6M321.9,58.6 328.3,68.5"/>
<path class="gb" d="M327.5,56.8 321.9,58.6M333.9,66.6 328.3,68.5"/>
<path class="fb" d="M350.8,60.8 357.2,70.2 351.6,72.2 345.2,62.7Z"/>
<path class="ab" d="M350.8,60.8 357.2,70.2M345.2,62.7 351.6,72.2"/>
<path class="gb" d="M350.8,60.8 345.2,62.7M357.2,70.2 351.6,72.2"/>
<path class="fo" d="M374.1,65 380.5,73.9 374.9,76.1 368.5,67.1Z"/>
<path class="ao" d="M374.1,65 380.5,73.9M368.5,67.1 374.9,76.1"/>
<path class="go" d="M374.1,65 368.5,67.1M380.5,73.9 374.9,76.1"/>
<path class="fg" d="M374.1,65 380.5,73.9 374.9,76.1 368.5,67.1Z"/>
<path class="ag" d="M374.1,65 380.5,73.9M368.5,67.1 374.9,76.1"/>
<path class="gg" d="M374.1,65 368.5,67.1M380.5,73.9 374.9,76.1"/>
<path class="fb" d="M304.2,52 310.6,62.2 305,64 298.5,53.7Z"/>
<path class="ab" d="M304.2,52 310.6,62.2M298.5,53.7 305,64"/>
<path class="gb" d="M304.2,52 298.5,53.7M310.6,62.2 305,64"/>
<path class="fb" d="M280.9,47.6 287.3,56.9 281.7,58.6 275.2,49.1Z"/>
<path class="ab" d="M280.9,47.6 287.3,56.9M275.2,49.1 281.7,58.6"/>
<path class="gb" d="M280.9,47.6 275.2,49.1M287.3,56.9 281.7,58.6"/>
<path class="fb" d="M368.5,70.1 374.9,79.2 369.3,81.5 362.9,72.2Z"/>
<path class="ab" d="M368.5,70.1 374.9,79.2M362.9,72.2 369.3,81.5"/>
<path class="gb" d="M368.5,70.1 362.9,72.2M374.9,79.2 369.3,81.5"/>
<path class="fo" d="M397.4,67.3 403.9,75.8 398.2,78.1 391.8,69.5Z"/>
<path class="ao" d="M397.4,67.3 403.9,75.8M391.8,69.5 398.2,78.1"/>
<path class="go" d="M397.4,67.3 391.8,69.5M403.9,75.8 398.2,78.1"/>
<path class="fo" d="M321.9,61.7 328.3,71.6 322.7,73.6 316.2,63.5Z"/>
<path class="ao" d="M321.9,61.7 328.3,71.6M316.2,63.5 322.7,73.6"/>
<path class="go" d="M321.9,61.7 316.2,63.5M328.3,71.6 322.7,73.6"/>
<path class="fg" d="M397.4,67.3 403.9,75.8 398.2,78.1 391.8,69.5Z"/>
<path class="ag" d="M397.4,67.3 403.9,75.8M391.8,69.5 398.2,78.1"/>
<path class="gg" d="M397.4,67.3 391.8,69.5M403.9,75.8 398.2,78.1"/>
<path class="fo" d="M345.2,65.8 351.6,75.3 346,77.4 339.5,67.8Z"/>
<path class="ao" d="M345.2,65.8 351.6,75.3M339.5,67.8 346,77.4"/>
<path class="go" d="M345.2,65.8 339.5,67.8M351.6,75.3 346,77.4"/>
<path class="fg" d="M321.9,61.7 328.3,71.6 322.7,73.6 316.2,63.5Z"/>
<path class="ag" d="M321.9,61.7 328.3,71.6M316.2,63.5 322.7,73.6"/>
<path class="gg" d="M321.9,61.7 316.2,63.5M328.3,71.6 322.7,73.6"/>
<path class="fg" d="M345.2,65.8 351.6,75.3 346,77.4 339.5,67.8Z"/>
<path class="ag" d="M345.2,65.8 351.6,75.3M339.5,67.8 346,77.4"/>
<path class="gg" d="M345.2,65.8 339.5,67.8M351.6,75.3 346,77.4"/>
<path class="fo" d="M298.5,56.6 305,67 299.4,68.8 292.9,58.3Z"/>
<path class="ao" d="M298.5,56.6 305,67M292.9,58.3 299.4,68.8"/>
<path class="go" d="M298.5,56.6 292.9,58.3M305,67 299.4,68.8"/>
<path class="fg" d="M298.5,56.6 305,67 299.4,68.8 292.9,58.3Z"/>
<path class="ag" d="M298.5,56.6 305,67M292.9,58.3 299.4,68.8"/>
<path class="gg" d="M298.5,56.6 292.9,58.3M305,67 299.4,68.8"/>
<path class="fb" d="M415.1,77.4 421.5,87.2 415.9,88.2 409.5,78Z"/>
<path class="ab" d="M415.1,77.4 421.5,87.2M409.5,78 415.9,88.2"/>
<path class="gb" d="M415.1,77.4 409.5,78M421.5,87.2 415.9,88.2"/>
<path class="fo2" d="M415.1,77.4 421.5,87.2 415.9,88.2 409.5,78Z"/>
<path class="fb" d="M391.8,72.6 398.2,81.2 392.6,83.6 386.2,74.8Z"/>
<path class="ab" d="M391.8,72.6 398.2,81.2M386.2,74.8 392.6,83.6"/>
<path class="gb" d="M391.8,72.6 386.2,74.8M398.2,81.2 392.6,83.6"/>
<path class="fb" d="M321.9,58.6 328.3,68.5 322.7,70.5 316.2,60.4Z"/>
<path class="ab" d="M321.9,58.6 328.3,68.5M316.2,60.4 322.7,70.5"/>
<path class="gb" d="M321.9,58.6 316.2,60.4M328.3,68.5 322.7,70.5"/>
<path class="fb" d="M345.2,62.7 351.6,72.2 346,74.3 339.5,64.7Z"/>
<path class="ab" d="M345.2,62.7 351.6,72.2M339.5,64.7 346,74.3"/>
<path class="gb" d="M345.2,62.7 339.5,64.7M351.6,72.2 346,74.3"/>
<path class="fo" d="M368.5,67.1 374.9,76.1 369.3,78.4 362.9,69.1Z"/>
<path class="ao" d="M368.5,67.1 374.9,76.1M362.9,69.1 369.3,78.4"/>
<path class="go" d="M368.5,67.1 362.9,69.1M374.9,76.1 369.3,78.4"/>
<path class="fg" d="M368.5,67.1 374.9,76.1 369.3,78.4 362.9,69.1Z"/>
<path class="ag" d="M368.5,67.1 374.9,76.1M362.9,69.1 369.3,78.4"/>
<path class="gg" d="M368.5,67.1 362.9,69.1M374.9,76.1 369.3,78.4"/>
<path class="fb" d="M298.5,53.7 305,64 299.4,65.7 292.9,55.3Z"/>
<path class="ab" d="M298.5,53.7 305,64M292.9,55.3 299.4,65.7"/>
<path class="gb" d="M298.5,53.7 292.9,55.3M305,64 299.4,65.7"/>
<path class="fo" d="M391.8,69.5 398.2,78.1 392.6,80.5 386.2,71.7Z"/>
<path class="ao" d="M391.8,69.5 398.2,78.1M386.2,71.7 392.6,80.5"/>
<path class="go" d="M391.8,69.5 386.2,71.7M398.2,78.1 392.6,80.5"/>
<path class="fg" d="M391.8,69.5 398.2,78.1 392.6,80.5 386.2,71.7Z"/>
<path class="ag" d="M391.8,69.5 398.2,78.1M386.2,71.7 392.6,80.5"/>
<path class="gg" d="M391.8,69.5 386.2,71.7M398.2,78.1 392.6,80.5"/>
<path class="fo" d="M339.5,67.8 346,77.4 340.4,79.5 333.9,69.7Z"/>
<path class="ao" d="M339.5,67.8 346,77.4M333.9,69.7 340.4,79.5"/>
<path class="go" d="M339.5,67.8 333.9,69.7M346,77.4 340.4,79.5"/>
<path class="fo" d="M316.2,63.5 322.7,73.6 317.1,75.5 310.6,65.3Z"/>
<path class="ao" d="M316.2,63.5 322.7,73.6M310.6,65.3 317.1,75.5"/>
<path class="go" d="M316.2,63.5 310.6,65.3M322.7,73.6 317.1,75.5"/>
<path class="fb" d="M432.8,84.4 439.2,93.6 433.6,95.2 427.2,85.9Z"/>
<path class="ab" d="M432.8,84.4 439.2,93.6M427.2,85.9 433.6,95.2"/>
<path class="gb" d="M432.8,84.4 427.2,85.9M439.2,93.6 433.6,95.2"/>
<path class="fg" d="M339.5,67.8 346,77.4 340.4,79.5 333.9,69.7Z"/>
<path class="ag" d="M339.5,67.8 346,77.4M333.9,69.7 340.4,79.5"/>
<path class="gg" d="M339.5,67.8 333.9,69.7M346,77.4 340.4,79.5"/>
<path class="fg" d="M316.2,63.5 322.7,73.6 317.1,75.5 310.6,65.3Z"/>
<path class="ag" d="M316.2,63.5 322.7,73.6M310.6,65.3 317.1,75.5"/>
<path class="gg" d="M316.2,63.5 310.6,65.3M322.7,73.6 317.1,75.5"/>
<path class="fo2" d="M432.8,84.4 439.2,93.6 433.6,95.2 427.2,85.9Z"/>
<path class="fo" d="M292.9,58.3 299.4,68.8 293.8,70.6 287.3,59.9Z"/>
<path class="ao" d="M292.9,58.3 299.4,68.8M287.3,59.9 293.8,70.6"/>
<path class="go" d="M292.9,58.3 287.3,59.9M299.4,68.8 293.8,70.6"/>
<path class="fg" d="M292.9,58.3 299.4,68.8 293.8,70.6 287.3,59.9Z"/>
<path class="ag" d="M292.9,58.3 299.4,68.8M287.3,59.9 293.8,70.6"/>
<path class="gg" d="M292.9,58.3 287.3,59.9M299.4,68.8 293.8,70.6"/>
<path class="fb" d="M386.2,74.8 392.6,83.6 387,86 380.5,77Z"/>
<path class="ab" d="M386.2,74.8 392.6,83.6M380.5,77 387,86"/>
<path class="gb" d="M386.2,74.8 380.5,77M392.6,83.6 387,86"/>
<path class="fb" d="M362.9,72.2 369.3,81.5 363.7,79.5 357.2,70.2Z"/>
<path class="ab" d="M362.9,72.2 369.3,81.5M357.2,70.2 363.7,79.5"/>
<path class="gb" d="M362.9,72.2 357.2,70.2M369.3,81.5 363.7,79.5"/>
<path class="fo" d="M362.9,69.1 369.3,78.4 363.7,82.6 357.2,73.3Z"/>
<path class="ao" d="M362.9,69.1 369.3,78.4M357.2,73.3 363.7,82.6"/>
<path class="go" d="M362.9,69.1 357.2,73.3M369.3,78.4 363.7,82.6"/>
<path class="fg" d="M362.9,69.1 369.3,78.4 363.7,82.6 357.2,73.3Z"/>
<path class="ag" d="M362.9,69.1 369.3,78.4M357.2,73.3 363.7,82.6"/>
<path class="gg" d="M362.9,69.1 357.2,73.3M369.3,78.4 363.7,82.6"/>
<path class="fb" d="M409.5,78 415.9,88.2 410.3,88.7 403.9,78.9Z"/>
<path class="ab" d="M409.5,78 415.9,88.2M403.9,78.9 410.3,88.7"/>
<path class="gb" d="M409.5,78 403.9,78.9M415.9,88.2 410.3,88.7"/>
<path class="fb" d="M339.5,64.7 346,74.3 340.4,76.4 333.9,66.6Z"/>
<path class="ab" d="M339.5,64.7 346,74.3M333.9,66.6 340.4,76.4"/>
<path class="gb" d="M339.5,64.7 333.9,66.6M346,74.3 340.4,76.4"/>
<path class="fb" d="M316.2,60.4 322.7,70.5 317.1,72.4 310.6,62.2Z"/>
<path class="ab" d="M316.2,60.4 322.7,70.5M310.6,62.2 317.1,72.4"/>
<path class="gb" d="M316.2,60.4 310.6,62.2M322.7,70.5 317.1,72.4"/>
<path class="fo" d="M409.5,78 415.9,88.2 410.3,88.7 403.9,75.8Z"/>
<path class="ao" d="M409.5,78 415.9,88.2M403.9,75.8 410.3,88.7"/>
<path class="go" d="M409.5,78 403.9,75.8M415.9,88.2 410.3,88.7"/>
<path class="fb" d="M292.9,55.3 299.4,65.7 293.8,67.5 287.3,56.9Z"/>
<path class="ab" d="M292.9,55.3 299.4,65.7M287.3,56.9 293.8,67.5"/>
<path class="gb" d="M292.9,55.3 287.3,56.9M299.4,65.7 293.8,67.5"/>
<path class="fo" d="M386.2,71.7 392.6,80.5 387,82.9 380.5,73.9Z"/>
<path class="ao" d="M386.2,71.7 392.6,80.5M380.5,73.9 387,82.9"/>
<path class="go" d="M386.2,71.7 380.5,73.9M392.6,80.5 387,82.9"/>
<path class="fg" d="M386.2,71.7 392.6,80.5 387,82.9 380.5,73.9Z"/>
<path class="ag" d="M386.2,71.7 392.6,80.5M380.5,73.9 387,82.9"/>
<path class="gg" d="M386.2,71.7 380.5,73.9M392.6,80.5 387,82.9"/>
<path class="fo" d="M333.9,69.7 340.4,79.5 334.8,81.6 328.3,71.6Z"/>
<path class="ao" d="M333.9,69.7 340.4,79.5M328.3,71.6 334.8,81.6"/>
<path class="go" d="M333.9,69.7 328.3,71.6M340.4,79.5 334.8,81.6"/>
<path class="fg" d="M333.9,69.7 340.4,79.5 334.8,81.6 328.3,71.6Z"/>
<path class="ag" d="M333.9,69.7 340.4,79.5M328.3,71.6 334.8,81.6"/>
<path class="gg" d="M333.9,69.7 328.3,71.6M340.4,79.5 334.8,81.6"/>
<path class="fo" d="M310.6,65.3 317.1,75.5 311.5,77.4 305,67Z"/>
<path class="ao" d="M310.6,65.3 317.1,75.5M305,67 311.5,77.4"/>
<path class="go" d="M310.6,65.3 305,67M317.1,75.5 311.5,77.4"/>
<path class="fg" d="M310.6,65.3 317.1,75.5 311.5,77.4 305,67Z"/>
<path class="ag" d="M310.6,65.3 317.1,75.5M305,67 311.5,77.4"/>
<path class="gg" d="M310.6,65.3 305,67M317.1,75.5 311.5,77.4"/>
<path class="fb" d="M427.2,85.9 433.6,95.2 428,96.7 421.5,87.2Z"/>
<path class="ab" d="M427.2,85.9 433.6,95.2M421.5,87.2 428,96.7"/>
<path class="gb" d="M427.2,85.9 421.5,87.2M433.6,95.2 428,96.7"/>
<path class="fo" d="M357.2,73.3 363.7,82.6 358.1,84.9 351.6,75.3Z"/>
<path class="ao" d="M357.2,73.3 363.7,82.6M351.6,75.3 358.1,84.9"/>
<path class="go" d="M357.2,73.3 351.6,75.3M363.7,82.6 358.1,84.9"/>
<path class="fg" d="M357.2,73.3 363.7,82.6 358.1,84.9 351.6,75.3Z"/>
<path class="ag" d="M357.2,73.3 363.7,82.6M351.6,75.3 358.1,84.9"/>
<path class="gg" d="M357.2,73.3 351.6,75.3M363.7,82.6 358.1,84.9"/>
<path class="fb" d="M380.5,77 387,86 381.4,88.3 374.9,79.2Z"/>
<path class="ab" d="M380.5,77 387,86M374.9,79.2 381.4,88.3"/>
<path class="gb" d="M380.5,77 374.9,79.2M387,86 381.4,88.3"/>
<path class="fo2" d="M427.2,85.9 433.6,95.2 428,96.7 421.5,87.2Z"/>
<path class="fo" d="M287.3,59.9 293.8,70.6 288.2,72.4 281.7,61.6Z"/>
<path class="ao" d="M287.3,59.9 293.8,70.6M281.7,61.6 288.2,72.4"/>
<path class="go" d="M287.3,59.9 281.7,61.6M293.8,70.6 288.2,72.4"/>
<path class="fg" d="M287.3,59.9 293.8,70.6 288.2,72.4 281.7,61.6Z"/>
<path class="ag" d="M287.3,59.9 293.8,70.6M281.7,61.6 288.2,72.4"/>
<path class="gg" d="M287.3,59.9 281.7,61.6M293.8,70.6 288.2,72.4"/>
<path class="fg" d="M426.3,52 432.8,57.1 427.2,61.7 420.7,56.6Z"/>
<path class="ag" d="M426.3,52 432.8,57.1M420.7,56.6 427.2,61.7"/>
<path class="gg" d="M426.3,52 420.7,56.6M432.8,57.1 427.2,61.7"/>
<path class="fb" d="M333.9,66.6 340.4,76.4 334.8,78.5 328.3,68.5Z"/>
<path class="ab" d="M333.9,66.6 340.4,76.4M328.3,68.5 334.8,78.5"/>
<path class="gb" d="M333.9,66.6 328.3,68.5M340.4,76.4 334.8,78.5"/>
<path class="fb" d="M403.9,78.9 410.3,88.7 404.7,89.9 398.2,81.2Z"/>
<path class="ab" d="M403.9,78.9 410.3,88.7M398.2,81.2 404.7,89.9"/>
<path class="gb" d="M403.9,78.9 398.2,81.2M410.3,88.7 404.7,89.9"/>
<path class="fb" d="M310.6,62.2 317.1,72.4 311.5,74.3 305,64Z"/>
<path class="ab" d="M310.6,62.2 317.1,72.4M305,64 311.5,74.3"/>
<path class="gb" d="M310.6,62.2 305,64M317.1,72.4 311.5,74.3"/>
<path class="fb" d="M357.2,70.2 363.7,79.5 358.1,81.8 351.6,72.2Z"/>
<path class="ab" d="M357.2,70.2 363.7,79.5M351.6,72.2 358.1,81.8"/>
<path class="gb" d="M357.2,70.2 351.6,72.2M363.7,79.5 358.1,81.8"/>
<path class="fb" d="M287.3,56.9 293.8,67.5 288.2,69.3 281.7,58.6Z"/>
<path class="ab" d="M287.3,56.9 293.8,67.5M281.7,58.6 288.2,69.3"/>
<path class="gb" d="M287.3,56.9 281.7,58.6M293.8,67.5 288.2,69.3"/>
<path class="fo" d="M380.5,73.9 387,82.9 381.4,85.2 374.9,76.1Z"/>
<path class="ao" d="M380.5,73.9 387,82.9M374.9,76.1 381.4,85.2"/>
<path class="go" d="M380.5,73.9 374.9,76.1M387,82.9 381.4,85.2"/>
<path class="fg" d="M380.5,73.9 387,82.9 381.4,85.2 374.9,76.1Z"/>
<path class="ag" d="M380.5,73.9 387,82.9M374.9,76.1 381.4,85.2"/>
<path class="gg" d="M380.5,73.9 374.9,76.1M387,82.9 381.4,85.2"/>
<path class="fg" d="M420.7,56.6 427.2,61.7 421.5,66.6 415.1,61.6Z"/>
<path class="ag" d="M420.7,56.6 427.2,61.7M415.1,61.6 421.5,66.6"/>
<path class="gg" d="M420.7,56.6 415.1,61.6M427.2,61.7 421.5,66.6"/>
<path class="fo" d="M328.3,71.6 334.8,81.6 329.2,83.6 322.7,73.6Z"/>
<path class="ao" d="M328.3,71.6 334.8,81.6M322.7,73.6 329.2,83.6"/>
<path class="go" d="M328.3,71.6 322.7,73.6M334.8,81.6 329.2,83.6"/>
<path class="fg" d="M328.3,71.6 334.8,81.6 329.2,83.6 322.7,73.6Z"/>
<path class="ag" d="M328.3,71.6 334.8,81.6M322.7,73.6 329.2,83.6"/>
<path class="gg" d="M328.3,71.6 322.7,73.6M334.8,81.6 329.2,83.6"/>
<path class="fo" d="M403.9,75.8 410.3,88.7 404.7,86.8 398.2,78.1Z"/>
<path class="ao" d="M403.9,75.8 410.3,88.7M398.2,78.1 404.7,86.8"/>
<path class="go" d="M403.9,75.8 398.2,78.1M410.3,88.7 404.7,86.8"/>
<path class="fo" d="M305,67 311.5,77.4 305.9,79.4 299.4,68.8Z"/>
<path class="ao" d="M305,67 311.5,77.4M299.4,68.8 305.9,79.4"/>
<path class="go" d="M305,67 299.4,68.8M311.5,77.4 305.9,79.4"/>
<path class="fg" d="M305,67 311.5,77.4 305.9,79.4 299.4,68.8Z"/>
<path class="ag" d="M305,67 311.5,77.4M299.4,68.8 305.9,79.4"/>
<path class="gg" d="M305,67 299.4,68.8M311.5,77.4 305.9,79.4"/>
<path class="fo" d="M351.6,75.3 358.1,84.9 352.5,87.1 346,77.4Z"/>
<path class="ao" d="M351.6,75.3 358.1,84.9M346,77.4 352.5,87.1"/>
<path class="go" d="M351.6,75.3 346,77.4M358.1,84.9 352.5,87.1"/>
<path class="fg" d="M351.6,75.3 358.1,84.9 352.5,87.1 346,77.4Z"/>
<path class="ag" d="M351.6,75.3 358.1,84.9M346,77.4 352.5,87.1"/>
<path class="gg" d="M351.6,75.3 346,77.4M358.1,84.9 352.5,87.1"/>
<path class="fb" d="M374.9,79.2 381.4,88.3 375.8,90.7 369.3,81.5Z"/>
<path class="ab" d="M374.9,79.2 381.4,88.3M369.3,81.5 375.8,90.7"/>
<path class="gb" d="M374.9,79.2 369.3,81.5M381.4,88.3 375.8,90.7"/>
<path class="fg" d="M415.1,61.6 421.5,66.6 415.9,72.1 409.5,67.5Z"/>
<path class="ag" d="M415.1,61.6 421.5,66.6M409.5,67.5 415.9,72.1"/>
<path class="gg" d="M415.1,61.6 409.5,67.5M421.5,66.6 415.9,72.1"/>
<path class="fb" d="M421.5,87.2 428,96.7 422.4,98 415.9,88.2Z"/>
<path class="ab" d="M421.5,87.2 428,96.7M415.9,88.2 422.4,98"/>
<path class="gb" d="M421.5,87.2 415.9,88.2M428,96.7 422.4,98"/>
<path class="fo2" d="M421.5,87.2 428,96.7 422.4,98 415.9,88.2Z"/>
<path class="fg" d="M409.5,67.5 415.9,72.1 410.3,78.7 403.9,75.8Z"/>
<path class="ag" d="M409.5,67.5 415.9,72.1M403.9,75.8 410.3,78.7"/>
<path class="gg" d="M409.5,67.5 403.9,75.8M415.9,72.1 410.3,78.7"/>
<path class="fg" d="M403.9,75.8 410.3,78.7 404.7,86.8 398.2,78.1Z"/>
<path class="ag" d="M403.9,75.8 410.3,78.7M398.2,78.1 404.7,86.8"/>
<path class="gg" d="M403.9,75.8 398.2,78.1M410.3,78.7 404.7,86.8"/>
<path class="fb" d="M328.3,68.5 334.8,78.5 329.2,80.5 322.7,70.5Z"/>
<path class="ab" d="M328.3,68.5 334.8,78.5M322.7,70.5 329.2,80.5"/>
<path class="gb" d="M328.3,68.5 322.7,70.5M334.8,78.5 329.2,80.5"/>
<path class="fb" d="M398.2,81.2 404.7,89.9 399.1,92.4 392.6,83.6Z"/>
<path class="ab" d="M398.2,81.2 404.7,89.9M392.6,83.6 399.1,92.4"/>
<path class="gb" d="M398.2,81.2 392.6,83.6M404.7,89.9 399.1,92.4"/>
<path class="fb" d="M305,64 311.5,74.3 305.9,76.3 299.4,65.7Z"/>
<path class="ab" d="M305,64 311.5,74.3M299.4,65.7 305.9,76.3"/>
<path class="gb" d="M305,64 299.4,65.7M311.5,74.3 305.9,76.3"/>
<path class="fb" d="M351.6,72.2 358.1,81.8 352.5,84 346,74.3Z"/>
<path class="ab" d="M351.6,72.2 358.1,81.8M346,74.3 352.5,84"/>
<path class="gb" d="M351.6,72.2 346,74.3M358.1,81.8 352.5,84"/>
<path class="fo" d="M374.9,76.1 381.4,85.2 375.8,87.6 369.3,78.4Z"/>
<path class="ao" d="M374.9,76.1 381.4,85.2M369.3,78.4 375.8,87.6"/>
<path class="go" d="M374.9,76.1 369.3,78.4M381.4,85.2 375.8,87.6"/>
<path class="fg" d="M374.9,76.1 381.4,85.2 375.8,87.6 369.3,78.4Z"/>
<path class="ag" d="M374.9,76.1 381.4,85.2M369.3,78.4 375.8,87.6"/>
<path class="gg" d="M374.9,76.1 369.3,78.4M381.4,85.2 375.8,87.6"/>
<path class="fo" d="M322.7,73.6 329.2,83.6 323.5,85.7 317.1,75.5Z"/>
<path class="ao" d="M322.7,73.6 329.2,83.6M317.1,75.5 323.5,85.7"/>
<path class="go" d="M322.7,73.6 317.1,75.5M329.2,83.6 323.5,85.7"/>
<path class="fg" d="M322.7,73.6 329.2,83.6 323.5,85.7 317.1,75.5Z"/>
<path class="ag" d="M322.7,73.6 329.2,83.6M317.1,75.5 323.5,85.7"/>
<path class="gg" d="M322.7,73.6 317.1,75.5M329.2,83.6 323.5,85.7"/>
<path class="fo" d="M346,77.4 352.5,87.1 346.9,89.3 340.4,79.5Z"/>
<path class="ao" d="M346,77.4 352.5,87.1M340.4,79.5 346.9,89.3"/>
<path class="go" d="M346,77.4 340.4,79.5M352.5,87.1 346.9,89.3"/>
<path class="fo" d="M299.4,68.8 305.9,79.4 300.2,81.3 293.8,70.6Z"/>
<path class="ao" d="M299.4,68.8 305.9,79.4M293.8,70.6 300.2,81.3"/>
<path class="go" d="M299.4,68.8 293.8,70.6M305.9,79.4 300.2,81.3"/>
<path class="fg" d="M346,77.4 352.5,87.1 346.9,89.3 340.4,79.5Z"/>
<path class="ag" d="M346,77.4 352.5,87.1M340.4,79.5 346.9,89.3"/>
<path class="gg" d="M346,77.4 340.4,79.5M352.5,87.1 346.9,89.3"/>
<path class="fg" d="M299.4,68.8 305.9,79.4 300.2,81.3 293.8,70.6Z"/>
<path class="ag" d="M299.4,68.8 305.9,79.4M293.8,70.6 300.2,81.3"/>
<path class="gg" d="M299.4,68.8 293.8,70.6M305.9,79.4 300.2,81.3"/>
<path class="fo" d="M398.2,78.1 404.7,86.8 399.1,89.3 392.6,80.5Z"/>
<path class="ao" d="M398.2,78.1 404.7,86.8M392.6,80.5 399.1,89.3"/>
<path class="go" d="M398.2,78.1 392.6,80.5M404.7,86.8 399.1,89.3"/>
<path class="fb" d="M439.2,93.6 445.7,102.7 440.1,104.4 433.6,95.2Z"/>
<path class="ab" d="M439.2,93.6 445.7,102.7M433.6,95.2 440.1,104.4"/>
<path class="gb" d="M439.2,93.6 433.6,95.2M445.7,102.7 440.1,104.4"/>
<path class="fg" d="M398.2,78.1 404.7,86.8 399.1,89.3 392.6,80.5Z"/>
<path class="ag" d="M398.2,78.1 404.7,86.8M392.6,80.5 399.1,89.3"/>
<path class="gg" d="M398.2,78.1 392.6,80.5M404.7,86.8 399.1,89.3"/>
<path class="fo2" d="M439.2,93.6 445.7,102.7 440.1,104.4 433.6,95.2Z"/>
<path class="fb" d="M415.9,88.2 422.4,98 416.8,98.9 410.3,88.7Z"/>
<path class="ab" d="M415.9,88.2 422.4,98M410.3,88.7 416.8,98.9"/>
<path class="gb" d="M415.9,88.2 410.3,88.7M422.4,98 416.8,98.9"/>
<path class="fb" d="M369.3,81.5 375.8,90.7 370.2,88.9 363.7,79.5Z"/>
<path class="ab" d="M369.3,81.5 375.8,90.7M363.7,79.5 370.2,88.9"/>
<path class="gb" d="M369.3,81.5 363.7,79.5M375.8,90.7 370.2,88.9"/>
<path class="fb" d="M392.6,83.6 399.1,92.4 393.5,94.9 387,86Z"/>
<path class="ab" d="M392.6,83.6 399.1,92.4M387,86 393.5,94.9"/>
<path class="gb" d="M392.6,83.6 387,86M399.1,92.4 393.5,94.9"/>
<path class="fo" d="M369.3,78.4 375.8,87.6 370.2,92 363.7,82.6Z"/>
<path class="ao" d="M369.3,78.4 375.8,87.6M363.7,82.6 370.2,92"/>
<path class="go" d="M369.3,78.4 363.7,82.6M375.8,87.6 370.2,92"/>
<path class="fg" d="M369.3,78.4 375.8,87.6 370.2,92 363.7,82.6Z"/>
<path class="ag" d="M369.3,78.4 375.8,87.6M363.7,82.6 370.2,92"/>
<path class="gg" d="M369.3,78.4 363.7,82.6M375.8,87.6 370.2,92"/>
<path class="fo2" d="M415.9,88.2 422.4,98 416.8,98.9 410.3,88.7Z"/>
<path class="fb" d="M322.7,70.5 329.2,80.5 323.5,82.6 317.1,72.4Z"/>
<path class="ab" d="M322.7,70.5 329.2,80.5M317.1,72.4 323.5,82.6"/>
<path class="gb" d="M322.7,70.5 317.1,72.4M329.2,80.5 323.5,82.6"/>
<path class="fb" d="M346,74.3 352.5,84 346.9,86.2 340.4,76.4Z"/>
<path class="ab" d="M346,74.3 352.5,84M340.4,76.4 346.9,86.2"/>
<path class="gb" d="M346,74.3 340.4,76.4M352.5,84 346.9,86.2"/>
<path class="fb" d="M299.4,65.7 305.9,76.3 300.2,78.2 293.8,67.5Z"/>
<path class="ab" d="M299.4,65.7 305.9,76.3M293.8,67.5 300.2,78.2"/>
<path class="gb" d="M299.4,65.7 293.8,67.5M305.9,76.3 300.2,78.2"/>
<path class="fo" d="M317.1,75.5 323.5,85.7 317.9,87.8 311.5,77.4Z"/>
<path class="ao" d="M317.1,75.5 323.5,85.7M311.5,77.4 317.9,87.8"/>
<path class="go" d="M317.1,75.5 311.5,77.4M323.5,85.7 317.9,87.8"/>
<path class="fg" d="M317.1,75.5 323.5,85.7 317.9,87.8 311.5,77.4Z"/>
<path class="ag" d="M317.1,75.5 323.5,85.7M311.5,77.4 317.9,87.8"/>
<path class="gg" d="M317.1,75.5 311.5,77.4M323.5,85.7 317.9,87.8"/>
<path class="fo" d="M340.4,79.5 346.9,89.3 341.2,91.5 334.8,81.6Z"/>
<path class="ao" d="M340.4,79.5 346.9,89.3M334.8,81.6 341.2,91.5"/>
<path class="go" d="M340.4,79.5 334.8,81.6M346.9,89.3 341.2,91.5"/>
<path class="fg" d="M340.4,79.5 346.9,89.3 341.2,91.5 334.8,81.6Z"/>
<path class="ag" d="M340.4,79.5 346.9,89.3M334.8,81.6 341.2,91.5"/>
<path class="gg" d="M340.4,79.5 334.8,81.6M346.9,89.3 341.2,91.5"/>
<path class="fo" d="M392.6,80.5 399.1,89.3 393.5,91.8 387,82.9Z"/>
<path class="ao" d="M392.6,80.5 399.1,89.3M387,82.9 393.5,91.8"/>
<path class="go" d="M392.6,80.5 387,82.9M399.1,89.3 393.5,91.8"/>
<path class="fg" d="M392.6,80.5 399.1,89.3 393.5,91.8 387,82.9Z"/>
<path class="ag" d="M392.6,80.5 399.1,89.3M387,82.9 393.5,91.8"/>
<path class="gg" d="M392.6,80.5 387,82.9M399.1,89.3 393.5,91.8"/>
<path class="fo" d="M293.8,70.6 300.2,81.3 294.6,83.2 288.2,72.4Z"/>
<path class="ao" d="M293.8,70.6 300.2,81.3M288.2,72.4 294.6,83.2"/>
<path class="go" d="M293.8,70.6 288.2,72.4M300.2,81.3 294.6,83.2"/>
<path class="fg" d="M293.8,70.6 300.2,81.3 294.6,83.2 288.2,72.4Z"/>
<path class="ag" d="M293.8,70.6 300.2,81.3M288.2,72.4 294.6,83.2"/>
<path class="gg" d="M293.8,70.6 288.2,72.4M300.2,81.3 294.6,83.2"/>
<path class="fo" d="M363.7,82.6 370.2,92 364.5,94.4 358.1,84.9Z"/>
<path class="ao" d="M363.7,82.6 370.2,92M358.1,84.9 364.5,94.4"/>
<path class="go" d="M363.7,82.6 358.1,84.9M370.2,92 364.5,94.4"/>
<path class="fb" d="M433.6,95.2 440.1,104.4 434.5,106 428,96.7Z"/>
<path class="ab" d="M433.6,95.2 440.1,104.4M428,96.7 434.5,106"/>
<path class="gb" d="M433.6,95.2 428,96.7M440.1,104.4 434.5,106"/>
<path class="fg" d="M363.7,82.6 370.2,92 364.5,94.4 358.1,84.9Z"/>
<path class="ag" d="M363.7,82.6 370.2,92M358.1,84.9 364.5,94.4"/>
<path class="gg" d="M363.7,82.6 358.1,84.9M370.2,92 364.5,94.4"/>
<path class="fo2" d="M433.6,95.2 440.1,104.4 434.5,106 428,96.7Z"/>
<path class="fb" d="M387,86 393.5,94.9 387.9,97.4 381.4,88.3Z"/>
<path class="ab" d="M387,86 393.5,94.9M381.4,88.3 387.9,97.4"/>
<path class="gb" d="M387,86 381.4,88.3M393.5,94.9 387.9,97.4"/>
<path class="fb" d="M317.1,72.4 323.5,82.6 317.9,84.7 311.5,74.3Z"/>
<path class="ab" d="M317.1,72.4 323.5,82.6M311.5,74.3 317.9,84.7"/>
<path class="gb" d="M317.1,72.4 311.5,74.3M323.5,82.6 317.9,84.7"/>
<path class="fb" d="M340.4,76.4 346.9,86.2 341.2,88.4 334.8,78.5Z"/>
<path class="ab" d="M340.4,76.4 346.9,86.2M334.8,78.5 341.2,88.4"/>
<path class="gb" d="M340.4,76.4 334.8,78.5M346.9,86.2 341.2,88.4"/>
<path class="fb" d="M293.8,67.5 300.2,78.2 294.6,80.1 288.2,69.3Z"/>
<path class="ab" d="M293.8,67.5 300.2,78.2M288.2,69.3 294.6,80.1"/>
<path class="gb" d="M293.8,67.5 288.2,69.3M300.2,78.2 294.6,80.1"/>
<path class="fb" d="M410.3,88.7 416.8,98.9 411.2,98.7 404.7,89.9Z"/>
<path class="ab" d="M410.3,88.7 416.8,98.9M404.7,89.9 411.2,98.7"/>
<path class="gb" d="M410.3,88.7 404.7,89.9M416.8,98.9 411.2,98.7"/>
<path class="fb" d="M363.7,79.5 370.2,88.9 364.5,91.3 358.1,81.8Z"/>
<path class="ab" d="M363.7,79.5 370.2,88.9M358.1,81.8 364.5,91.3"/>
<path class="gb" d="M363.7,79.5 358.1,81.8M370.2,88.9 364.5,91.3"/>
<path class="fo" d="M410.3,88.7 416.8,98.9 411.2,98.7 404.7,86.8Z"/>
<path class="ao" d="M410.3,88.7 416.8,98.9M404.7,86.8 411.2,98.7"/>
<path class="go" d="M410.3,88.7 404.7,86.8M416.8,98.9 411.2,98.7"/>
<path class="fo" d="M311.5,77.4 317.9,87.8 312.3,89.9 305.9,79.4Z"/>
<path class="ao" d="M311.5,77.4 317.9,87.8M305.9,79.4 312.3,89.9"/>
<path class="go" d="M311.5,77.4 305.9,79.4M317.9,87.8 312.3,89.9"/>
<path class="fo" d="M387,82.9 393.5,91.8 387.9,94.3 381.4,85.2Z"/>
<path class="ao" d="M387,82.9 393.5,91.8M381.4,85.2 387.9,94.3"/>
<path class="go" d="M387,82.9 381.4,85.2M393.5,91.8 387.9,94.3"/>
<path class="fo" d="M334.8,81.6 341.2,91.5 335.6,93.7 329.2,83.6Z"/>
<path class="ao" d="M334.8,81.6 341.2,91.5M329.2,83.6 335.6,93.7"/>
<path class="go" d="M334.8,81.6 329.2,83.6M341.2,91.5 335.6,93.7"/>
<path class="fg" d="M311.5,77.4 317.9,87.8 312.3,89.9 305.9,79.4Z"/>
<path class="ag" d="M311.5,77.4 317.9,87.8M305.9,79.4 312.3,89.9"/>
<path class="gg" d="M311.5,77.4 305.9,79.4M317.9,87.8 312.3,89.9"/>
<path class="fg" d="M387,82.9 393.5,91.8 387.9,94.3 381.4,85.2Z"/>
<path class="ag" d="M387,82.9 393.5,91.8M381.4,85.2 387.9,94.3"/>
<path class="gg" d="M387,82.9 381.4,85.2M393.5,91.8 387.9,94.3"/>
<path class="fg" d="M334.8,81.6 341.2,91.5 335.6,93.7 329.2,83.6Z"/>
<path class="ag" d="M334.8,81.6 341.2,91.5M329.2,83.6 335.6,93.7"/>
<path class="gg" d="M334.8,81.6 329.2,83.6M341.2,91.5 335.6,93.7"/>
<path class="fo" d="M358.1,84.9 364.5,94.4 358.9,96.7 352.5,87.1Z"/>
<path class="ao" d="M358.1,84.9 364.5,94.4M352.5,87.1 358.9,96.7"/>
<path class="go" d="M358.1,84.9 352.5,87.1M364.5,94.4 358.9,96.7"/>
<path class="fg" d="M358.1,84.9 364.5,94.4 358.9,96.7 352.5,87.1Z"/>
<path class="ag" d="M358.1,84.9 364.5,94.4M352.5,87.1 358.9,96.7"/>
<path class="gg" d="M358.1,84.9 352.5,87.1M364.5,94.4 358.9,96.7"/>
<path class="fg" d="M432.8,57.1 439.2,62.6 433.6,67.3 427.2,61.7Z"/>
<path class="ag" d="M432.8,57.1 439.2,62.6M427.2,61.7 433.6,67.3"/>
<path class="gg" d="M432.8,57.1 427.2,61.7M439.2,62.6 433.6,67.3"/>
<path class="fb" d="M381.4,88.3 387.9,97.4 382.2,99.9 375.8,90.7Z"/>
<path class="ab" d="M381.4,88.3 387.9,97.4M375.8,90.7 382.2,99.9"/>
<path class="gb" d="M381.4,88.3 375.8,90.7M387.9,97.4 382.2,99.9"/>
<path class="fb" d="M428,96.7 434.5,106 428.9,107.5 422.4,98Z"/>
<path class="ab" d="M428,96.7 434.5,106M422.4,98 428.9,107.5"/>
<path class="gb" d="M428,96.7 422.4,98M434.5,106 428.9,107.5"/>
<path class="fo2" d="M428,96.7 434.5,106 428.9,107.5 422.4,98Z"/>
<path class="fb" d="M311.5,74.3 317.9,84.7 312.3,86.8 305.9,76.3Z"/>
<path class="ab" d="M311.5,74.3 317.9,84.7M305.9,76.3 312.3,86.8"/>
<path class="gb" d="M311.5,74.3 305.9,76.3M317.9,84.7 312.3,86.8"/>
<path class="fb" d="M334.8,78.5 341.2,88.4 335.6,90.6 329.2,80.5Z"/>
<path class="ab" d="M334.8,78.5 341.2,88.4M329.2,80.5 335.6,90.6"/>
<path class="gb" d="M334.8,78.5 329.2,80.5M341.2,88.4 335.6,90.6"/>
<path class="fb" d="M358.1,81.8 364.5,91.3 358.9,93.6 352.5,84Z"/>
<path class="ab" d="M358.1,81.8 364.5,91.3M352.5,84 358.9,93.6"/>
<path class="gb" d="M358.1,81.8 352.5,84M364.5,91.3 358.9,93.6"/>
<path class="fg" d="M427.2,61.7 433.6,67.3 428,72.3 421.5,66.6Z"/>
<path class="ag" d="M427.2,61.7 433.6,67.3M421.5,66.6 428,72.3"/>
<path class="gg" d="M427.2,61.7 421.5,66.6M433.6,67.3 428,72.3"/>
<path class="fb" d="M404.7,89.9 411.2,98.7 405.5,101.2 399.1,92.4Z"/>
<path class="ab" d="M404.7,89.9 411.2,98.7M399.1,92.4 405.5,101.2"/>
<path class="gb" d="M404.7,89.9 399.1,92.4M411.2,98.7 405.5,101.2"/>
<path class="fo" d="M381.4,85.2 387.9,94.3 382.2,96.8 375.8,87.6Z"/>
<path class="ao" d="M381.4,85.2 387.9,94.3M375.8,87.6 382.2,96.8"/>
<path class="go" d="M381.4,85.2 375.8,87.6M387.9,94.3 382.2,96.8"/>
<path class="fg" d="M381.4,85.2 387.9,94.3 382.2,96.8 375.8,87.6Z"/>
<path class="ag" d="M381.4,85.2 387.9,94.3M375.8,87.6 382.2,96.8"/>
<path class="gg" d="M381.4,85.2 375.8,87.6M387.9,94.3 382.2,96.8"/>
<path class="fo" d="M305.9,79.4 312.3,89.9 306.7,92.2 300.2,81.3Z"/>
<path class="ao" d="M305.9,79.4 312.3,89.9M300.2,81.3 306.7,92.2"/>
<path class="go" d="M305.9,79.4 300.2,81.3M312.3,89.9 306.7,92.2"/>
<path class="fo" d="M329.2,83.6 335.6,93.7 330,95.9 323.5,85.7Z"/>
<path class="ao" d="M329.2,83.6 335.6,93.7M323.5,85.7 330,95.9"/>
<path class="go" d="M329.2,83.6 323.5,85.7M335.6,93.7 330,95.9"/>
<path class="fg" d="M329.2,83.6 335.6,93.7 330,95.9 323.5,85.7Z"/>
<path class="ag" d="M329.2,83.6 335.6,93.7M323.5,85.7 330,95.9"/>
<path class="gg" d="M329.2,83.6 323.5,85.7M335.6,93.7 330,95.9"/>
<path class="fg" d="M305.9,79.4 312.3,89.9 306.7,90.3 300.2,81.3Z"/>
<path class="ag" d="M305.9,79.4 312.3,89.9M300.2,81.3 306.7,90.3"/>
<path class="gg" d="M305.9,79.4 300.2,81.3M312.3,89.9 306.7,90.3"/>
<path class="fo" d="M352.5,87.1 358.9,96.7 353.3,99.1 346.9,89.3Z"/>
<path class="ao" d="M352.5,87.1 358.9,96.7M346.9,89.3 353.3,99.1"/>
<path class="go" d="M352.5,87.1 346.9,89.3M358.9,96.7 353.3,99.1"/>
<path class="fg" d="M352.5,87.1 358.9,96.7 353.3,99.1 346.9,89.3Z"/>
<path class="ag" d="M352.5,87.1 358.9,96.7M346.9,89.3 353.3,99.1"/>
<path class="gg" d="M352.5,87.1 346.9,89.3M358.9,96.7 353.3,99.1"/>
<path class="fg" d="M421.5,66.6 428,72.3 422.4,77.7 415.9,72.1Z"/>
<path class="ag" d="M421.5,66.6 428,72.3M415.9,72.1 422.4,77.7"/>
<path class="gg" d="M421.5,66.6 415.9,72.1M428,72.3 422.4,77.7"/>
<path class="fo" d="M404.7,86.8 411.2,98.7 405.5,98.1 399.1,89.3Z"/>
<path class="ao" d="M404.7,86.8 411.2,98.7M399.1,89.3 405.5,98.1"/>
<path class="go" d="M404.7,86.8 399.1,89.3M411.2,98.7 405.5,98.1"/>
<path class="fb" d="M445.7,102.7 452.2,111.6 446.5,113.5 440.1,104.4Z"/>
<path class="ab" d="M445.7,102.7 452.2,111.6M440.1,104.4 446.5,113.5"/>
<path class="gb" d="M445.7,102.7 440.1,104.4M452.2,111.6 446.5,113.5"/>
<path class="fg" d="M410.3,78.7 416.8,83.8 411.2,92.1 404.7,86.8Z"/>
<path class="ag" d="M410.3,78.7 416.8,83.8M404.7,86.8 411.2,92.1"/>
<path class="gg" d="M410.3,78.7 404.7,86.8M416.8,83.8 411.2,92.1"/>
<path class="fg" d="M415.9,72.1 422.4,77.7 416.8,83.8 410.3,78.7Z"/>
<path class="ag" d="M415.9,72.1 422.4,77.7M410.3,78.7 416.8,83.8"/>
<path class="gg" d="M415.9,72.1 410.3,78.7M422.4,77.7 416.8,83.8"/>
<path class="fo2" d="M445.7,102.7 452.2,111.6 446.5,113.5 440.1,104.4Z"/>
<path class="fb" d="M305.9,76.3 312.3,86.8 306.7,90.3 300.2,78.2Z"/>
<path class="ab" d="M305.9,76.3 312.3,86.8M300.2,78.2 306.7,90.3"/>
<path class="gb" d="M305.9,76.3 300.2,78.2M312.3,86.8 306.7,90.3"/>
<path class="fb" d="M422.4,98 428.9,107.5 423.2,108.7 416.8,98.9Z"/>
<path class="ab" d="M422.4,98 428.9,107.5M416.8,98.9 423.2,108.7"/>
<path class="gb" d="M422.4,98 416.8,98.9M428.9,107.5 423.2,108.7"/>
<path class="fb" d="M329.2,80.5 335.6,90.6 330,92.9 323.5,82.6Z"/>
<path class="ab" d="M329.2,80.5 335.6,90.6M323.5,82.6 330,92.9"/>
<path class="gb" d="M329.2,80.5 323.5,82.6M335.6,90.6 330,92.9"/>
<path class="fo2" d="M422.4,98 428.9,107.5 423.2,108.7 416.8,98.9Z"/>
<path class="fg" d="M404.7,86.8 411.2,92.1 405.5,98.1 399.1,89.3Z"/>
<path class="ag" d="M404.7,86.8 411.2,92.1M399.1,89.3 405.5,98.1"/>
<path class="gg" d="M404.7,86.8 399.1,89.3M411.2,92.1 405.5,98.1"/>
<path class="fb" d="M375.8,90.7 382.2,99.9 376.6,98.3 370.2,88.9Z"/>
<path class="ab" d="M375.8,90.7 382.2,99.9M370.2,88.9 376.6,98.3"/>
<path class="gb" d="M375.8,90.7 370.2,88.9M382.2,99.9 376.6,98.3"/>
<path class="fo" d="M375.8,87.6 382.2,96.8 376.6,101.4 370.2,92Z"/>
<path class="ao" d="M375.8,87.6 382.2,96.8M370.2,92 376.6,101.4"/>
<path class="go" d="M375.8,87.6 370.2,92M382.2,96.8 376.6,101.4"/>
<path class="fg" d="M375.8,87.6 382.2,96.8 376.6,101.4 370.2,92Z"/>
<path class="ag" d="M375.8,87.6 382.2,96.8M370.2,92 376.6,101.4"/>
<path class="gg" d="M375.8,87.6 370.2,92M382.2,96.8 376.6,101.4"/>
<path class="fb" d="M352.5,84 358.9,93.6 353.3,96 346.9,86.2Z"/>
<path class="ab" d="M352.5,84 358.9,93.6M346.9,86.2 353.3,96"/>
<path class="gb" d="M352.5,84 346.9,86.2M358.9,93.6 353.3,96"/>
<path class="fo" d="M300.2,81.3 306.7,92.2 301.1,99.7 294.6,83.2Z"/>
<path class="ao" d="M300.2,81.3 306.7,92.2M294.6,83.2 301.1,99.7"/>
<path class="go" d="M300.2,81.3 294.6,83.2M306.7,92.2 301.1,99.7"/>
<path class="fb" d="M399.1,92.4 405.5,101.2 399.9,103.9 393.5,94.9Z"/>
<path class="ab" d="M399.1,92.4 405.5,101.2M393.5,94.9 399.9,103.9"/>
<path class="gb" d="M399.1,92.4 393.5,94.9M405.5,101.2 399.9,103.9"/>
<path class="fo" d="M323.5,85.7 330,95.9 324.4,98.2 317.9,87.8Z"/>
<path class="ao" d="M323.5,85.7 330,95.9M317.9,87.8 324.4,98.2"/>
<path class="go" d="M323.5,85.7 317.9,87.8M330,95.9 324.4,98.2"/>
<path class="fg" d="M323.5,85.7 330,95.9 324.4,98.2 317.9,87.8Z"/>
<path class="ag" d="M323.5,85.7 330,95.9M317.9,87.8 324.4,98.2"/>
<path class="gg" d="M323.5,85.7 317.9,87.8M330,95.9 324.4,98.2"/>
<path class="fo" d="M346.9,89.3 353.3,99.1 347.7,101.5 341.2,91.5Z"/>
<path class="ao" d="M346.9,89.3 353.3,99.1M341.2,91.5 347.7,101.5"/>
<path class="go" d="M346.9,89.3 341.2,91.5M353.3,99.1 347.7,101.5"/>
<path class="fg" d="M346.9,89.3 353.3,99.1 347.7,101.5 341.2,91.5Z"/>
<path class="ag" d="M346.9,89.3 353.3,99.1M341.2,91.5 347.7,101.5"/>
<path class="gg" d="M346.9,89.3 341.2,91.5M353.3,99.1 347.7,101.5"/>
<path class="fg" d="M300.2,81.3 306.7,90.3 301.1,89.6 294.6,83.2Z"/>
<path class="ag" d="M300.2,81.3 306.7,90.3M294.6,83.2 301.1,89.6"/>
<path class="gg" d="M300.2,81.3 294.6,83.2M306.7,90.3 301.1,89.6"/>
<path class="fo" d="M399.1,89.3 405.5,98.1 399.9,100.8 393.5,91.8Z"/>
<path class="ao" d="M399.1,89.3 405.5,98.1M393.5,91.8 399.9,100.8"/>
<path class="go" d="M399.1,89.3 393.5,91.8M405.5,98.1 399.9,100.8"/>
<path class="fg" d="M399.1,89.3 405.5,98.1 399.9,100.8 393.5,91.8Z"/>
<path class="ag" d="M399.1,89.3 405.5,98.1M393.5,91.8 399.9,100.8"/>
<path class="gg" d="M399.1,89.3 393.5,91.8M405.5,98.1 399.9,100.8"/>
<path class="fo" d="M370.2,92 376.6,101.4 371,103.9 364.5,94.4Z"/>
<path class="ao" d="M370.2,92 376.6,101.4M364.5,94.4 371,103.9"/>
<path class="go" d="M370.2,92 364.5,94.4M376.6,101.4 371,103.9"/>
<path class="fg" d="M370.2,92 376.6,101.4 371,103.9 364.5,94.4Z"/>
<path class="ag" d="M370.2,92 376.6,101.4M364.5,94.4 371,103.9"/>
<path class="gg" d="M370.2,92 364.5,94.4M376.6,101.4 371,103.9"/>
<path class="fb" d="M440.1,104.4 446.5,113.5 440.9,115.2 434.5,106Z"/>
<path class="ab" d="M440.1,104.4 446.5,113.5M434.5,106 440.9,115.2"/>
<path class="gb" d="M440.1,104.4 434.5,106M446.5,113.5 440.9,115.2"/>
<path class="fb" d="M323.5,82.6 330,92.9 324.4,95.1 317.9,84.7Z"/>
<path class="ab" d="M323.5,82.6 330,92.9M317.9,84.7 324.4,95.1"/>
<path class="gb" d="M323.5,82.6 317.9,84.7M330,92.9 324.4,95.1"/>
<path class="fo2" d="M440.1,104.4 446.5,113.5 440.9,115.2 434.5,106Z"/>
<path class="fb" d="M300.2,78.2 306.7,90.3 301.1,89.6 294.6,80.1Z"/>
<path class="ab" d="M300.2,78.2 306.7,90.3M294.6,80.1 301.1,89.6"/>
<path class="gb" d="M300.2,78.2 294.6,80.1M306.7,90.3 301.1,89.6"/>
<path class="fb" d="M393.5,94.9 399.9,103.9 394.3,106.5 387.9,97.4Z"/>
<path class="ab" d="M393.5,94.9 399.9,103.9M387.9,97.4 394.3,106.5"/>
<path class="gb" d="M393.5,94.9 387.9,97.4M399.9,103.9 394.3,106.5"/>
<path class="fb" d="M346.9,86.2 353.3,96 347.7,98.4 341.2,88.4Z"/>
<path class="ab" d="M346.9,86.2 353.3,96M341.2,88.4 347.7,98.4"/>
<path class="gb" d="M346.9,86.2 341.2,88.4M353.3,96 347.7,98.4"/>
<path class="fo" d="M317.9,87.8 324.4,98.2 318.8,105.3 312.3,89.9Z"/>
<path class="ao" d="M317.9,87.8 324.4,98.2M312.3,89.9 318.8,105.3"/>
<path class="go" d="M317.9,87.8 312.3,89.9M324.4,98.2 318.8,105.3"/>
<path class="fb" d="M416.8,98.9 423.2,108.7 417.6,109.3 411.2,98.7Z"/>
<path class="ab" d="M416.8,98.9 423.2,108.7M411.2,98.7 417.6,109.3"/>
<path class="gb" d="M416.8,98.9 411.2,98.7M423.2,108.7 417.6,109.3"/>
<path class="fo2" d="M416.8,98.9 423.2,108.7 417.6,109.3 411.2,98.7Z"/>
<path class="fb" d="M370.2,88.9 376.6,98.3 371,100.8 364.5,91.3Z"/>
<path class="ab" d="M370.2,88.9 376.6,98.3M364.5,91.3 371,100.8"/>
<path class="gb" d="M370.2,88.9 364.5,91.3M376.6,98.3 371,100.8"/>
<path class="fo" d="M341.2,91.5 347.7,101.5 342.1,103.8 335.6,93.7Z"/>
<path class="ao" d="M341.2,91.5 347.7,101.5M335.6,93.7 342.1,103.8"/>
<path class="go" d="M341.2,91.5 335.6,93.7M347.7,101.5 342.1,103.8"/>
<path class="fg" d="M341.2,91.5 347.7,101.5 342.1,103.8 335.6,93.7Z"/>
<path class="ag" d="M341.2,91.5 347.7,101.5M335.6,93.7 342.1,103.8"/>
<path class="gg" d="M341.2,91.5 335.6,93.7M347.7,101.5 342.1,103.8"/>
<path class="fg" d="M317.9,87.8 324.4,98.2 318.8,96.4 312.3,89.9Z"/>
<path class="ag" d="M317.9,87.8 324.4,98.2M312.3,89.9 318.8,96.4"/>
<path class="gg" d="M317.9,87.8 312.3,89.9M324.4,98.2 318.8,96.4"/>
<path class="fo" d="M393.5,91.8 399.9,100.8 394.3,103.4 387.9,94.3Z"/>
<path class="ao" d="M393.5,91.8 399.9,100.8M387.9,94.3 394.3,103.4"/>
<path class="go" d="M393.5,91.8 387.9,94.3M399.9,100.8 394.3,103.4"/>
<path class="fg" d="M393.5,91.8 399.9,100.8 394.3,103.4 387.9,94.3Z"/>
<path class="ag" d="M393.5,91.8 399.9,100.8M387.9,94.3 394.3,103.4"/>
<path class="gg" d="M393.5,91.8 387.9,94.3M399.9,100.8 394.3,103.4"/>
<path class="fo" d="M312.3,89.9 318.8,105.3 313.2,110.9 306.7,92.2Z"/>
<path class="ao" d="M312.3,89.9 318.8,105.3M306.7,92.2 313.2,110.9"/>
<path class="go" d="M312.3,89.9 306.7,92.2M318.8,105.3 313.2,110.9"/>
<path class="fo" d="M364.5,94.4 371,103.9 365.4,106.4 358.9,96.7Z"/>
<path class="ao" d="M364.5,94.4 371,103.9M358.9,96.7 365.4,106.4"/>
<path class="go" d="M364.5,94.4 358.9,96.7M371,103.9 365.4,106.4"/>
<path class="fg" d="M364.5,94.4 371,103.9 365.4,106.4 358.9,96.7Z"/>
<path class="ag" d="M364.5,94.4 371,103.9M358.9,96.7 365.4,106.4"/>
<path class="gg" d="M364.5,94.4 358.9,96.7M371,103.9 365.4,106.4"/>
<path class="fb" d="M387.9,97.4 394.3,106.5 388.7,109.1 382.2,99.9Z"/>
<path class="ab" d="M387.9,97.4 394.3,106.5M382.2,99.9 388.7,109.1"/>
<path class="gb" d="M387.9,97.4 382.2,99.9M394.3,106.5 388.7,109.1"/>
<path class="fb" d="M434.5,106 440.9,115.2 435.3,116.9 428.9,107.5Z"/>
<path class="ab" d="M434.5,106 440.9,115.2M428.9,107.5 435.3,116.9"/>
<path class="gb" d="M434.5,106 428.9,107.5M440.9,115.2 435.3,116.9"/>
<path class="fb" d="M317.9,84.7 324.4,95.1 318.8,96.4 312.3,86.8Z"/>
<path class="ab" d="M317.9,84.7 324.4,95.1M312.3,86.8 318.8,96.4"/>
<path class="gb" d="M317.9,84.7 312.3,86.8M324.4,95.1 318.8,96.4"/>
<path class="fb" d="M341.2,88.4 347.7,98.4 342.1,100.7 335.6,90.6Z"/>
<path class="ab" d="M341.2,88.4 347.7,98.4M335.6,90.6 342.1,100.7"/>
<path class="gb" d="M341.2,88.4 335.6,90.6M347.7,98.4 342.1,100.7"/>
<path class="fo2" d="M434.5,106 440.9,115.2 435.3,116.9 428.9,107.5Z"/>
<path class="fo" d="M306.7,92.2 313.2,110.9 307.5,115.6 301.1,99.7Z"/>
<path class="ao" d="M306.7,92.2 313.2,110.9M301.1,99.7 307.5,115.6"/>
<path class="go" d="M306.7,92.2 301.1,99.7M313.2,110.9 307.5,115.6"/>
<path class="fb" d="M364.5,91.3 371,100.8 365.4,103.3 358.9,93.6Z"/>
<path class="ab" d="M364.5,91.3 371,100.8M358.9,93.6 365.4,103.3"/>
<path class="gb" d="M364.5,91.3 358.9,93.6M371,100.8 365.4,103.3"/>
<path class="fo" d="M335.6,93.7 342.1,103.8 336.5,106.2 330,95.9Z"/>
<path class="ao" d="M335.6,93.7 342.1,103.8M330,95.9 336.5,106.2"/>
<path class="go" d="M335.6,93.7 330,95.9M342.1,103.8 336.5,106.2"/>
<path class="fb" d="M411.2,98.7 417.6,109.3 412,110 405.5,101.2Z"/>
<path class="ab" d="M411.2,98.7 417.6,109.3M405.5,101.2 412,110"/>
<path class="gb" d="M411.2,98.7 405.5,101.2M417.6,109.3 412,110"/>
<path class="fg" d="M335.6,93.7 342.1,103.8 336.5,106.2 330,95.9Z"/>
<path class="ag" d="M335.6,93.7 342.1,103.8M330,95.9 336.5,106.2"/>
<path class="gg" d="M335.6,93.7 330,95.9M342.1,103.8 336.5,106.2"/>
<path class="fo" d="M387.9,94.3 394.3,103.4 388.7,106.1 382.2,96.8Z"/>
<path class="ao" d="M387.9,94.3 394.3,103.4M382.2,96.8 388.7,106.1"/>
<path class="go" d="M387.9,94.3 382.2,96.8M394.3,103.4 388.7,106.1"/>
<path class="fg" d="M387.9,94.3 394.3,103.4 388.7,106.1 382.2,96.8Z"/>
<path class="ag" d="M387.9,94.3 394.3,103.4M382.2,96.8 388.7,106.1"/>
<path class="gg" d="M387.9,94.3 382.2,96.8M394.3,103.4 388.7,106.1"/>
<path class="fg" d="M439.2,62.6 445.7,68.4 440.1,73.2 433.6,67.3Z"/>
<path class="ag" d="M439.2,62.6 445.7,68.4M433.6,67.3 440.1,73.2"/>
<path class="gg" d="M439.2,62.6 433.6,67.3M445.7,68.4 440.1,73.2"/>
<path class="fo" d="M358.9,96.7 365.4,106.4 359.8,108.9 353.3,99.1Z"/>
<path class="ao" d="M358.9,96.7 365.4,106.4M353.3,99.1 359.8,108.9"/>
<path class="go" d="M358.9,96.7 353.3,99.1M365.4,106.4 359.8,108.9"/>
<path class="fg" d="M358.9,96.7 365.4,106.4 359.8,108.9 353.3,99.1Z"/>
<path class="ag" d="M358.9,96.7 365.4,106.4M353.3,99.1 359.8,108.9"/>
<path class="gg" d="M358.9,96.7 353.3,99.1M365.4,106.4 359.8,108.9"/>
<path class="fo" d="M411.2,98.7 417.6,109.3 412,106.9 405.5,98.1Z"/>
<path class="ao" d="M411.2,98.7 417.6,109.3M405.5,98.1 412,106.9"/>
<path class="go" d="M411.2,98.7 405.5,98.1M417.6,109.3 412,106.9"/>
<path class="fg" d="M312.3,89.9 318.8,96.4 313.2,96.9 306.7,90.3Z"/>
<path class="ag" d="M312.3,89.9 318.8,96.4M306.7,90.3 313.2,96.9"/>
<path class="gg" d="M312.3,89.9 306.7,90.3M318.8,96.4 313.2,96.9"/>
<path class="fb" d="M335.6,90.6 342.1,100.7 336.5,103.1 330,92.9Z"/>
<path class="ab" d="M335.6,90.6 342.1,100.7M330,92.9 336.5,103.1"/>
<path class="gb" d="M335.6,90.6 330,92.9M342.1,100.7 336.5,103.1"/>
<path class="fb" d="M312.3,86.8 318.8,96.4 313.2,96.9 306.7,90.3Z"/>
<path class="ab" d="M312.3,86.8 318.8,96.4M306.7,90.3 313.2,96.9"/>
<path class="gb" d="M312.3,86.8 306.7,90.3M318.8,96.4 313.2,96.9"/>
<path class="fg" d="M433.6,67.3 440.1,73.2 434.5,78.3 428,72.3Z"/>
<path class="ag" d="M433.6,67.3 440.1,73.2M428,72.3 434.5,78.3"/>
<path class="gg" d="M433.6,67.3 428,72.3M440.1,73.2 434.5,78.3"/>
<path class="fb" d="M428.9,107.5 435.3,116.9 429.7,118.2 423.2,108.7Z"/>
<path class="ab" d="M428.9,107.5 435.3,116.9M423.2,108.7 429.7,118.2"/>
<path class="gb" d="M428.9,107.5 423.2,108.7M435.3,116.9 429.7,118.2"/>
<path class="fo" d="M330,95.9 336.5,106.2 330.8,114.5 324.4,98.2Z"/>
<path class="ao" d="M330,95.9 336.5,106.2M324.4,98.2 330.8,114.5"/>
<path class="go" d="M330,95.9 324.4,98.2M336.5,106.2 330.8,114.5"/>
<path class="fo2" d="M428.9,107.5 435.3,116.9 429.7,118.2 423.2,108.7Z"/>
<path class="fb" d="M358.9,93.6 365.4,103.3 359.8,105.8 353.3,96Z"/>
<path class="ab" d="M358.9,93.6 365.4,103.3M353.3,96 359.8,105.8"/>
<path class="gb" d="M358.9,93.6 353.3,96M365.4,103.3 359.8,105.8"/>
<path class="fb" d="M382.2,99.9 388.7,109.1 383.1,107.7 376.6,98.3Z"/>
<path class="ab" d="M382.2,99.9 388.7,109.1M376.6,98.3 383.1,107.7"/>
<path class="gb" d="M382.2,99.9 376.6,98.3M388.7,109.1 383.1,107.7"/>
<path class="fo" d="M382.2,96.8 388.7,106.1 383.1,110.8 376.6,101.4Z"/>
<path class="ao" d="M382.2,96.8 388.7,106.1M376.6,101.4 383.1,110.8"/>
<path class="go" d="M382.2,96.8 376.6,101.4M388.7,106.1 383.1,110.8"/>
<path class="fg" d="M382.2,96.8 388.7,106.1 383.1,110.8 376.6,101.4Z"/>
<path class="ag" d="M382.2,96.8 388.7,106.1M376.6,101.4 383.1,110.8"/>
<path class="gg" d="M382.2,96.8 376.6,101.4M388.7,106.1 383.1,110.8"/>
<path class="fo" d="M324.4,98.2 330.8,114.5 325.2,120.4 318.8,105.3Z"/>
<path class="ao" d="M324.4,98.2 330.8,114.5M318.8,105.3 325.2,120.4"/>
<path class="go" d="M324.4,98.2 318.8,105.3M330.8,114.5 325.2,120.4"/>
<path class="fb" d="M405.5,101.2 412,110 406.4,112.8 399.9,103.9Z"/>
<path class="ab" d="M405.5,101.2 412,110M399.9,103.9 406.4,112.8"/>
<path class="gb" d="M405.5,101.2 399.9,103.9M412,110 406.4,112.8"/>
<path class="fg" d="M428,72.3 434.5,78.3 428.9,83.8 422.4,77.7Z"/>
<path class="ag" d="M428,72.3 434.5,78.3M422.4,77.7 428.9,83.8"/>
<path class="gg" d="M428,72.3 422.4,77.7M434.5,78.3 428.9,83.8"/>
<path class="fo" d="M353.3,99.1 359.8,108.9 354.2,111.4 347.7,101.5Z"/>
<path class="ao" d="M353.3,99.1 359.8,108.9M347.7,101.5 354.2,111.4"/>
<path class="go" d="M353.3,99.1 347.7,101.5M359.8,108.9 354.2,111.4"/>
<path class="fg" d="M353.3,99.1 359.8,108.9 354.2,111.4 347.7,101.5Z"/>
<path class="ag" d="M353.3,99.1 359.8,108.9M347.7,101.5 354.2,111.4"/>
<path class="gg" d="M353.3,99.1 347.7,101.5M359.8,108.9 354.2,111.4"/>
<path class="fo" d="M318.8,105.3 325.2,120.4 319.6,125.4 313.2,110.9Z"/>
<path class="ao" d="M318.8,105.3 325.2,120.4M313.2,110.9 319.6,125.4"/>
<path class="go" d="M318.8,105.3 313.2,110.9M325.2,120.4 319.6,125.4"/>
<path class="fg" d="M330,95.9 336.5,106.2 330.8,104 324.4,98.2Z"/>
<path class="ag" d="M330,95.9 336.5,106.2M324.4,98.2 330.8,104"/>
<path class="gg" d="M330,95.9 324.4,98.2M336.5,106.2 330.8,104"/>
<path class="fg" d="M411.2,92.1 417.6,97 412,106.9 405.5,98.1Z"/>
<path class="ag" d="M411.2,92.1 417.6,97M405.5,98.1 412,106.9"/>
<path class="gg" d="M411.2,92.1 405.5,98.1M417.6,97 412,106.9"/>
<path class="fg" d="M422.4,77.7 428.9,83.8 423.2,89.8 416.8,83.8Z"/>
<path class="ag" d="M422.4,77.7 428.9,83.8M416.8,83.8 423.2,89.8"/>
<path class="gg" d="M422.4,77.7 416.8,83.8M428.9,83.8 423.2,89.8"/>
<path class="fg" d="M416.8,83.8 423.2,89.8 417.6,97 411.2,92.1Z"/>
<path class="ag" d="M416.8,83.8 423.2,89.8M411.2,92.1 417.6,97"/>
<path class="gg" d="M416.8,83.8 411.2,92.1M423.2,89.8 417.6,97"/>
<path class="fo" d="M376.6,101.4 383.1,110.8 377.5,113.4 371,103.9Z"/>
<path class="ao" d="M376.6,101.4 383.1,110.8M371,103.9 377.5,113.4"/>
<path class="go" d="M376.6,101.4 371,103.9M383.1,110.8 377.5,113.4"/>
<path class="fg" d="M376.6,101.4 383.1,110.8 377.5,113.4 371,103.9Z"/>
<path class="ag" d="M376.6,101.4 383.1,110.8M371,103.9 377.5,113.4"/>
<path class="gg" d="M376.6,101.4 371,103.9M383.1,110.8 377.5,113.4"/>
<path class="fb" d="M330,92.9 336.5,103.1 330.8,104 324.4,95.1Z"/>
<path class="ab" d="M330,92.9 336.5,103.1M324.4,95.1 330.8,104"/>
<path class="gb" d="M330,92.9 324.4,95.1M336.5,103.1 330.8,104"/>
<path class="fo" d="M405.5,98.1 412,106.9 406.4,109.7 399.9,100.8Z"/>
<path class="ao" d="M405.5,98.1 412,106.9M399.9,100.8 406.4,109.7"/>
<path class="go" d="M405.5,98.1 399.9,100.8M412,106.9 406.4,109.7"/>
<path class="fg" d="M405.5,98.1 412,106.9 406.4,109.7 399.9,100.8Z"/>
<path class="ag" d="M405.5,98.1 412,106.9M399.9,100.8 406.4,109.7"/>
<path class="gg" d="M405.5,98.1 399.9,100.8M412,106.9 406.4,109.7"/>
<path class="fo" d="M313.2,110.9 319.6,125.4 314,129.9 307.5,115.6Z"/>
<path class="ao" d="M313.2,110.9 319.6,125.4M307.5,115.6 314,129.9"/>
<path class="go" d="M313.2,110.9 307.5,115.6M319.6,125.4 314,129.9"/>
<path class="fb" d="M353.3,96 359.8,105.8 354.2,108.3 347.7,98.4Z"/>
<path class="ab" d="M353.3,96 359.8,105.8M347.7,98.4 354.2,108.3"/>
<path class="gb" d="M353.3,96 347.7,98.4M359.8,105.8 354.2,108.3"/>
<path class="fb" d="M306.7,90.3 313.2,96.9 307.5,97.9 301.1,89.6Z"/>
<path class="ab" d="M306.7,90.3 313.2,96.9M301.1,89.6 307.5,97.9"/>
<path class="gb" d="M306.7,90.3 301.1,89.6M313.2,96.9 307.5,97.9"/>
<path class="fg" d="M306.7,90.3 313.2,96.9 307.5,97.9 301.1,89.6Z"/>
<path class="ag" d="M306.7,90.3 313.2,96.9M301.1,89.6 307.5,97.9"/>
<path class="gg" d="M306.7,90.3 301.1,89.6M313.2,96.9 307.5,97.9"/>
<path class="fb" d="M423.2,108.7 429.7,118.2 424.1,119.2 417.6,109.3Z"/>
<path class="ab" d="M423.2,108.7 429.7,118.2M417.6,109.3 424.1,119.2"/>
<path class="gb" d="M423.2,108.7 417.6,109.3M429.7,118.2 424.1,119.2"/>
<path class="fb" d="M399.9,103.9 406.4,112.8 400.8,115.6 394.3,106.5Z"/>
<path class="ab" d="M399.9,103.9 406.4,112.8M394.3,106.5 400.8,115.6"/>
<path class="gb" d="M399.9,103.9 394.3,106.5M406.4,112.8 400.8,115.6"/>
<path class="fo2" d="M423.2,108.7 429.7,118.2 424.1,119.2 417.6,109.3Z"/>
<path class="fo" d="M347.7,101.5 354.2,111.4 348.5,113.9 342.1,103.8Z"/>
<path class="ao" d="M347.7,101.5 354.2,111.4M342.1,103.8 348.5,113.9"/>
<path class="go" d="M347.7,101.5 342.1,103.8M354.2,111.4 348.5,113.9"/>
<path class="fg" d="M347.7,101.5 354.2,111.4 348.5,113.9 342.1,103.8Z"/>
<path class="ag" d="M347.7,101.5 354.2,111.4M342.1,103.8 348.5,113.9"/>
<path class="gg" d="M347.7,101.5 342.1,103.8M354.2,111.4 348.5,113.9"/>
<path class="fb" d="M376.6,98.3 383.1,107.7 377.5,110.3 371,100.8Z"/>
<path class="ab" d="M376.6,98.3 383.1,107.7M371,100.8 377.5,110.3"/>
<path class="gb" d="M376.6,98.3 371,100.8M383.1,107.7 377.5,110.3"/>
<path class="fo" d="M371,103.9 377.5,113.4 371.8,116.1 365.4,106.4Z"/>
<path class="ao" d="M371,103.9 377.5,113.4M365.4,106.4 371.8,116.1"/>
<path class="go" d="M371,103.9 365.4,106.4M377.5,113.4 371.8,116.1"/>
<path class="fg" d="M371,103.9 377.5,113.4 371.8,116.1 365.4,106.4Z"/>
<path class="ag" d="M371,103.9 377.5,113.4M365.4,106.4 371.8,116.1"/>
<path class="gg" d="M371,103.9 365.4,106.4M377.5,113.4 371.8,116.1"/>
<path class="fo" d="M399.9,100.8 406.4,109.7 400.8,112.5 394.3,103.4Z"/>
<path class="ao" d="M399.9,100.8 406.4,109.7M394.3,103.4 400.8,112.5"/>
<path class="go" d="M399.9,100.8 394.3,103.4M406.4,109.7 400.8,112.5"/>
<path class="fg" d="M399.9,100.8 406.4,109.7 400.8,112.5 394.3,103.4Z"/>
<path class="ag" d="M399.9,100.8 406.4,109.7M394.3,103.4 400.8,112.5"/>
<path class="gg" d="M399.9,100.8 394.3,103.4M406.4,109.7 400.8,112.5"/>
<path class="fg" d="M324.4,98.2 330.8,104 325.2,104.6 318.8,96.4Z"/>
<path class="ag" d="M324.4,98.2 330.8,104M318.8,96.4 325.2,104.6"/>
<path class="gg" d="M324.4,98.2 318.8,96.4M330.8,104 325.2,104.6"/>
<path class="fb" d="M347.7,98.4 354.2,108.3 348.5,110.8 342.1,100.7Z"/>
<path class="ab" d="M347.7,98.4 354.2,108.3M342.1,100.7 348.5,110.8"/>
<path class="gb" d="M347.7,98.4 342.1,100.7M354.2,108.3 348.5,110.8"/>
<path class="fb" d="M394.3,106.5 400.8,115.6 395.2,118.4 388.7,109.1Z"/>
<path class="ab" d="M394.3,106.5 400.8,115.6M388.7,109.1 395.2,118.4"/>
<path class="gb" d="M394.3,106.5 388.7,109.1M400.8,115.6 395.2,118.4"/>
<path class="fo" d="M342.1,103.8 348.5,113.9 342.9,122 336.5,106.2Z"/>
<path class="ao" d="M342.1,103.8 348.5,113.9M336.5,106.2 342.9,122"/>
<path class="go" d="M342.1,103.8 336.5,106.2M348.5,113.9 342.9,122"/>
<path class="fb" d="M324.4,95.1 330.8,104 325.2,104.6 318.8,96.4Z"/>
<path class="ab" d="M324.4,95.1 330.8,104M318.8,96.4 325.2,104.6"/>
<path class="gb" d="M324.4,95.1 318.8,96.4M330.8,104 325.2,104.6"/>
<path class="fo" d="M336.5,106.2 342.9,122 337.3,128.6 330.8,114.5Z"/>
<path class="ao" d="M336.5,106.2 342.9,122M330.8,114.5 337.3,128.6"/>
<path class="go" d="M336.5,106.2 330.8,114.5M342.9,122 337.3,128.6"/>
<path class="fb" d="M371,100.8 377.5,110.3 371.8,113 365.4,103.3Z"/>
<path class="ab" d="M371,100.8 377.5,110.3M365.4,103.3 371.8,113"/>
<path class="gb" d="M371,100.8 365.4,103.3M377.5,110.3 371.8,113"/>
<path class="fo" d="M330.8,114.5 337.3,128.6 331.7,134.1 325.2,120.4Z"/>
<path class="ao" d="M330.8,114.5 337.3,128.6M325.2,120.4 331.7,134.1"/>
<path class="go" d="M330.8,114.5 325.2,120.4M337.3,128.6 331.7,134.1"/>
<path class="fb" d="M417.6,109.3 424.1,119.2 418.5,118.7 412,110Z"/>
<path class="ab" d="M417.6,109.3 424.1,119.2M412,110 418.5,118.7"/>
<path class="gb" d="M417.6,109.3 412,110M424.1,119.2 418.5,118.7"/>
<path class="fg" d="M342.1,103.8 348.5,113.9 342.9,112.1 336.5,106.2Z"/>
<path class="ag" d="M342.1,103.8 348.5,113.9M336.5,106.2 342.9,112.1"/>
<path class="gg" d="M342.1,103.8 336.5,106.2M348.5,113.9 342.9,112.1"/>
<path class="fo" d="M417.6,109.3 424.1,119.2 418.5,118.7 412,106.9Z"/>
<path class="ao" d="M417.6,109.3 424.1,119.2M412,106.9 418.5,118.7"/>
<path class="go" d="M417.6,109.3 412,106.9M424.1,119.2 418.5,118.7"/>
<path class="fo" d="M365.4,106.4 371.8,116.1 366.2,118.7 359.8,108.9Z"/>
<path class="ao" d="M365.4,106.4 371.8,116.1M359.8,108.9 366.2,118.7"/>
<path class="go" d="M365.4,106.4 359.8,108.9M371.8,116.1 366.2,118.7"/>
<path class="fo" d="M394.3,103.4 400.8,112.5 395.2,115.3 388.7,106.1Z"/>
<path class="ao" d="M394.3,103.4 400.8,112.5M388.7,106.1 395.2,115.3"/>
<path class="go" d="M394.3,103.4 388.7,106.1M400.8,112.5 395.2,115.3"/>
<path class="fg" d="M365.4,106.4 371.8,116.1 366.2,118.7 359.8,108.9Z"/>
<path class="ag" d="M365.4,106.4 371.8,116.1M359.8,108.9 366.2,118.7"/>
<path class="gg" d="M365.4,106.4 359.8,108.9M371.8,116.1 366.2,118.7"/>
<path class="fg" d="M394.3,103.4 400.8,112.5 395.2,115.3 388.7,106.1Z"/>
<path class="ag" d="M394.3,103.4 400.8,112.5M388.7,106.1 395.2,115.3"/>
<path class="gg" d="M394.3,103.4 388.7,106.1M400.8,112.5 395.2,115.3"/>
<path class="fo" d="M325.2,120.4 331.7,134.1 326.1,139 319.6,125.4Z"/>
<path class="ao" d="M325.2,120.4 331.7,134.1M319.6,125.4 326.1,139"/>
<path class="go" d="M325.2,120.4 319.6,125.4M331.7,134.1 326.1,139"/>
<path class="fb" d="M342.1,100.7 348.5,110.8 342.9,112.1 336.5,103.1Z"/>
<path class="ab" d="M342.1,100.7 348.5,110.8M336.5,103.1 342.9,112.1"/>
<path class="gb" d="M342.1,100.7 336.5,103.1M348.5,110.8 342.9,112.1"/>
<path class="fo" d="M319.6,125.4 326.1,139 320.5,143.6 314,129.9Z"/>
<path class="ao" d="M319.6,125.4 326.1,139M314,129.9 320.5,143.6"/>
<path class="go" d="M319.6,125.4 314,129.9M326.1,139 320.5,143.6"/>
<path class="fb" d="M365.4,103.3 371.8,113 366.2,115.6 359.8,105.8Z"/>
<path class="ab" d="M365.4,103.3 371.8,113M359.8,105.8 366.2,115.6"/>
<path class="gb" d="M365.4,103.3 359.8,105.8M371.8,113 366.2,115.6"/>
<path class="fb" d="M318.8,96.4 325.2,104.6 319.6,105.6 313.2,96.9Z"/>
<path class="ab" d="M318.8,96.4 325.2,104.6M313.2,96.9 319.6,105.6"/>
<path class="gb" d="M318.8,96.4 313.2,96.9M325.2,104.6 319.6,105.6"/>
<path class="fb" d="M388.7,109.1 395.2,118.4 389.5,117 383.1,107.7Z"/>
<path class="ab" d="M388.7,109.1 395.2,118.4M383.1,107.7 389.5,117"/>
<path class="gb" d="M388.7,109.1 383.1,107.7M395.2,118.4 389.5,117"/>
<path class="fg" d="M445.7,68.4 452.2,74.3 446.5,79.4 440.1,73.2Z"/>
<path class="ag" d="M445.7,68.4 452.2,74.3M440.1,73.2 446.5,79.4"/>
<path class="gg" d="M445.7,68.4 440.1,73.2M452.2,74.3 446.5,79.4"/>
<path class="fg" d="M318.8,96.4 325.2,104.6 319.6,105.6 313.2,96.9Z"/>
<path class="ag" d="M318.8,96.4 325.2,104.6M313.2,96.9 319.6,105.6"/>
<path class="gg" d="M318.8,96.4 313.2,96.9M325.2,104.6 319.6,105.6"/>
<path class="fo" d="M388.7,106.1 395.2,115.3 389.5,120.1 383.1,110.8Z"/>
<path class="ao" d="M388.7,106.1 395.2,115.3M383.1,110.8 389.5,120.1"/>
<path class="go" d="M388.7,106.1 383.1,110.8M395.2,115.3 389.5,120.1"/>
<path class="fg" d="M388.7,106.1 395.2,115.3 389.5,120.1 383.1,110.8Z"/>
<path class="ag" d="M388.7,106.1 395.2,115.3M383.1,110.8 389.5,120.1"/>
<path class="gg" d="M388.7,106.1 383.1,110.8M395.2,115.3 389.5,120.1"/>
<path class="fo" d="M359.8,108.9 366.2,118.7 360.6,121.3 354.2,111.4Z"/>
<path class="ao" d="M359.8,108.9 366.2,118.7M354.2,111.4 360.6,121.3"/>
<path class="go" d="M359.8,108.9 354.2,111.4M366.2,118.7 360.6,121.3"/>
<path class="fg" d="M359.8,108.9 366.2,118.7 360.6,121.3 354.2,111.4Z"/>
<path class="ag" d="M359.8,108.9 366.2,118.7M354.2,111.4 360.6,121.3"/>
<path class="gg" d="M359.8,108.9 354.2,111.4M366.2,118.7 360.6,121.3"/>
<path class="fb" d="M412,110 418.5,118.7 412.8,121.8 406.4,112.8Z"/>
<path class="ab" d="M412,110 418.5,118.7M406.4,112.8 412.8,121.8"/>
<path class="gb" d="M412,110 406.4,112.8M418.5,118.7 412.8,121.8"/>
<path class="fg" d="M440.1,73.2 446.5,79.4 440.9,84.6 434.5,78.3Z"/>
<path class="ag" d="M440.1,73.2 446.5,79.4M434.5,78.3 440.9,84.6"/>
<path class="gg" d="M440.1,73.2 434.5,78.3M446.5,79.4 440.9,84.6"/>
<path class="fo" d="M383.1,110.8 389.5,120.1 383.9,122.9 377.5,113.4Z"/>
<path class="ao" d="M383.1,110.8 389.5,120.1M377.5,113.4 383.9,122.9"/>
<path class="go" d="M383.1,110.8 377.5,113.4M389.5,120.1 383.9,122.9"/>
<path class="fg" d="M336.5,106.2 342.9,112.1 337.3,112.5 330.8,104Z"/>
<path class="ag" d="M336.5,106.2 342.9,112.1M330.8,104 337.3,112.5"/>
<path class="gg" d="M336.5,106.2 330.8,104M342.9,112.1 337.3,112.5"/>
<path class="fg" d="M383.1,110.8 389.5,120.1 383.9,122.9 377.5,113.4Z"/>
<path class="ag" d="M383.1,110.8 389.5,120.1M377.5,113.4 383.9,122.9"/>
<path class="gg" d="M383.1,110.8 377.5,113.4M389.5,120.1 383.9,122.9"/>
<path class="fo" d="M412,106.9 418.5,118.7 412.8,118.7 406.4,109.7Z"/>
<path class="ao" d="M412,106.9 418.5,118.7M406.4,109.7 412.8,118.7"/>
<path class="go" d="M412,106.9 406.4,109.7M418.5,118.7 412.8,118.7"/>
<path class="fg" d="M434.5,78.3 440.9,84.6 435.3,90.2 428.9,83.8Z"/>
<path class="ag" d="M434.5,78.3 440.9,84.6M428.9,83.8 435.3,90.2"/>
<path class="gg" d="M434.5,78.3 428.9,83.8M440.9,84.6 435.3,90.2"/>
<path class="fb" d="M336.5,103.1 342.9,112.1 337.3,112.5 330.8,104Z"/>
<path class="ab" d="M336.5,103.1 342.9,112.1M330.8,104 337.3,112.5"/>
<path class="gb" d="M336.5,103.1 330.8,104M342.9,112.1 337.3,112.5"/>
<path class="fb" d="M359.8,105.8 366.2,115.6 360.6,118.3 354.2,108.3Z"/>
<path class="ab" d="M359.8,105.8 366.2,115.6M354.2,108.3 360.6,118.3"/>
<path class="gb" d="M359.8,105.8 354.2,108.3M366.2,115.6 360.6,118.3"/>
<path class="fo" d="M354.2,111.4 360.6,121.3 355,127.4 348.5,113.9Z"/>
<path class="ao" d="M354.2,111.4 360.6,121.3M348.5,113.9 355,127.4"/>
<path class="go" d="M354.2,111.4 348.5,113.9M360.6,121.3 355,127.4"/>
<path class="fg" d="M417.6,97 424.1,103.1 418.5,112.9 412,106.9Z"/>
<path class="ag" d="M417.6,97 424.1,103.1M412,106.9 418.5,112.9"/>
<path class="gg" d="M417.6,97 412,106.9M424.1,103.1 418.5,112.9"/>
<path class="fg" d="M412,106.9 418.5,112.9 412.8,118.7 406.4,109.7Z"/>
<path class="ag" d="M412,106.9 418.5,112.9M406.4,109.7 412.8,118.7"/>
<path class="gg" d="M412,106.9 406.4,109.7M418.5,112.9 412.8,118.7"/>
<path class="fg" d="M428.9,83.8 435.3,90.2 429.7,96.2 423.2,89.8Z"/>
<path class="ag" d="M428.9,83.8 435.3,90.2M423.2,89.8 429.7,96.2"/>
<path class="gg" d="M428.9,83.8 423.2,89.8M435.3,90.2 429.7,96.2"/>
<path class="fb" d="M406.4,112.8 412.8,121.8 407.2,124.7 400.8,115.6Z"/>
<path class="ab" d="M406.4,112.8 412.8,121.8M400.8,115.6 407.2,124.7"/>
<path class="gb" d="M406.4,112.8 400.8,115.6M412.8,121.8 407.2,124.7"/>
<path class="fo" d="M342.9,122 349.4,135.7 343.8,141.8 337.3,128.6Z"/>
<path class="ao" d="M342.9,122 349.4,135.7M337.3,128.6 343.8,141.8"/>
<path class="go" d="M342.9,122 337.3,128.6M349.4,135.7 343.8,141.8"/>
<path class="fo" d="M348.5,113.9 355,127.4 349.4,135.7 342.9,122Z"/>
<path class="ao" d="M348.5,113.9 355,127.4M342.9,122 349.4,135.7"/>
<path class="go" d="M348.5,113.9 342.9,122M355,127.4 349.4,135.7"/>
<path class="fb" d="M313.2,96.9 319.6,105.6 314,106.9 307.5,97.9Z"/>
<path class="ab" d="M313.2,96.9 319.6,105.6M307.5,97.9 314,106.9"/>
<path class="gb" d="M313.2,96.9 307.5,97.9M319.6,105.6 314,106.9"/>
<path class="fg" d="M423.2,89.8 429.7,96.2 424.1,103.1 417.6,97Z"/>
<path class="ag" d="M423.2,89.8 429.7,96.2M417.6,97 424.1,103.1"/>
<path class="gg" d="M423.2,89.8 417.6,97M429.7,96.2 424.1,103.1"/>
<path class="fg" d="M313.2,96.9 319.6,105.6 314,106.9 307.5,97.9Z"/>
<path class="ag" d="M313.2,96.9 319.6,105.6M307.5,97.9 314,106.9"/>
<path class="gg" d="M313.2,96.9 307.5,97.9M319.6,105.6 314,106.9"/>
<path class="fb" d="M383.1,107.7 389.5,117 383.9,119.8 377.5,110.3Z"/>
<path class="ab" d="M383.1,107.7 389.5,117M377.5,110.3 383.9,119.8"/>
<path class="gb" d="M383.1,107.7 377.5,110.3M389.5,117 383.9,119.8"/>
<path class="fg" d="M354.2,111.4 360.6,121.3 355,120.7 348.5,113.9Z"/>
<path class="ag" d="M354.2,111.4 360.6,121.3M348.5,113.9 355,120.7"/>
<path class="gg" d="M354.2,111.4 348.5,113.9M360.6,121.3 355,120.7"/>
<path class="fo" d="M337.3,128.6 343.8,141.8 338.2,147.1 331.7,134.1Z"/>
<path class="ao" d="M337.3,128.6 343.8,141.8M331.7,134.1 338.2,147.1"/>
<path class="go" d="M337.3,128.6 331.7,134.1M343.8,141.8 338.2,147.1"/>
<path class="fo" d="M377.5,113.4 383.9,122.9 378.3,125.7 371.8,116.1Z"/>
<path class="ao" d="M377.5,113.4 383.9,122.9M371.8,116.1 378.3,125.7"/>
<path class="go" d="M377.5,113.4 371.8,116.1M383.9,122.9 378.3,125.7"/>
<path class="fg" d="M377.5,113.4 383.9,122.9 378.3,125.7 371.8,116.1Z"/>
<path class="ag" d="M377.5,113.4 383.9,122.9M371.8,116.1 378.3,125.7"/>
<path class="gg" d="M377.5,113.4 371.8,116.1M383.9,122.9 378.3,125.7"/>
<path class="fo" d="M406.4,109.7 412.8,118.7 407.2,121.6 400.8,112.5Z"/>
<path class="ao" d="M406.4,109.7 412.8,118.7M400.8,112.5 407.2,121.6"/>
<path class="go" d="M406.4,109.7 400.8,112.5M412.8,118.7 407.2,121.6"/>
<path class="fb" d="M354.2,108.3 360.6,118.3 355,120.7 348.5,110.8Z"/>
<path class="ab" d="M354.2,108.3 360.6,118.3M348.5,110.8 355,120.7"/>
<path class="gb" d="M354.2,108.3 348.5,110.8M360.6,118.3 355,120.7"/>
<path class="fg" d="M406.4,109.7 412.8,118.7 407.2,121.6 400.8,112.5Z"/>
<path class="ag" d="M406.4,109.7 412.8,118.7M400.8,112.5 407.2,121.6"/>
<path class="gg" d="M406.4,109.7 400.8,112.5M412.8,118.7 407.2,121.6"/>
<path class="fo" d="M331.7,134.1 338.2,147.1 332.5,152.1 326.1,139Z"/>
<path class="ao" d="M331.7,134.1 338.2,147.1M326.1,139 332.5,152.1"/>
<path class="go" d="M331.7,134.1 326.1,139M338.2,147.1 332.5,152.1"/>
<path class="fb" d="M400.8,115.6 407.2,124.7 401.6,127.6 395.2,118.4Z"/>
<path class="ab" d="M400.8,115.6 407.2,124.7M395.2,118.4 401.6,127.6"/>
<path class="gb" d="M400.8,115.6 395.2,118.4M407.2,124.7 401.6,127.6"/>
<path class="fb" d="M330.8,104 337.3,112.5 331.7,113.5 325.2,104.6Z"/>
<path class="ab" d="M330.8,104 337.3,112.5M325.2,104.6 331.7,113.5"/>
<path class="gb" d="M330.8,104 325.2,104.6M337.3,112.5 331.7,113.5"/>
<path class="fg" d="M330.8,104 337.3,112.5 331.7,113.5 325.2,104.6Z"/>
<path class="ag" d="M330.8,104 337.3,112.5M325.2,104.6 331.7,113.5"/>
<path class="gg" d="M330.8,104 325.2,104.6M337.3,112.5 331.7,113.5"/>
<path class="fb" d="M377.5,110.3 383.9,119.8 378.3,122.6 371.8,113Z"/>
<path class="ab" d="M377.5,110.3 383.9,119.8M371.8,113 378.3,122.6"/>
<path class="gb" d="M377.5,110.3 371.8,113M383.9,119.8 378.3,122.6"/>
<path class="fo" d="M326.1,139 332.5,152.1 326.9,156.9 320.5,143.6Z"/>
<path class="ao" d="M326.1,139 332.5,152.1M320.5,143.6 326.9,156.9"/>
<path class="go" d="M326.1,139 320.5,143.6M332.5,152.1 326.9,156.9"/>
<path class="fo" d="M371.8,116.1 378.3,125.7 372.7,128.5 366.2,118.7Z"/>
<path class="ao" d="M371.8,116.1 378.3,125.7M366.2,118.7 372.7,128.5"/>
<path class="go" d="M371.8,116.1 366.2,118.7M378.3,125.7 372.7,128.5"/>
<path class="fg" d="M371.8,116.1 378.3,125.7 372.7,128.5 366.2,118.7Z"/>
<path class="ag" d="M371.8,116.1 378.3,125.7M366.2,118.7 372.7,128.5"/>
<path class="gg" d="M371.8,116.1 366.2,118.7M378.3,125.7 372.7,128.5"/>
<path class="fo" d="M400.8,112.5 407.2,121.6 401.6,124.5 395.2,115.3Z"/>
<path class="ao" d="M400.8,112.5 407.2,121.6M395.2,115.3 401.6,124.5"/>
<path class="go" d="M400.8,112.5 395.2,115.3M407.2,121.6 401.6,124.5"/>
<path class="fg" d="M400.8,112.5 407.2,121.6 401.6,124.5 395.2,115.3Z"/>
<path class="ag" d="M400.8,112.5 407.2,121.6M395.2,115.3 401.6,124.5"/>
<path class="gg" d="M400.8,112.5 395.2,115.3M407.2,121.6 401.6,124.5"/>
<path class="fg" d="M348.5,113.9 355,120.7 349.4,120.6 342.9,112.1Z"/>
<path class="ag" d="M348.5,113.9 355,120.7M342.9,112.1 349.4,120.6"/>
<path class="gg" d="M348.5,113.9 342.9,112.1M355,120.7 349.4,120.6"/>
<path class="fb" d="M348.5,110.8 355,120.7 349.4,120.6 342.9,112.1Z"/>
<path class="ab" d="M348.5,110.8 355,120.7M342.9,112.1 349.4,120.6"/>
<path class="gb" d="M348.5,110.8 342.9,112.1M355,120.7 349.4,120.6"/>
<path class="fb" d="M371.8,113 378.3,122.6 372.7,125.4 366.2,115.6Z"/>
<path class="ab" d="M371.8,113 378.3,122.6M366.2,115.6 372.7,125.4"/>
<path class="gb" d="M371.8,113 366.2,115.6M378.3,122.6 372.7,125.4"/>
<path class="fb" d="M395.2,118.4 401.6,127.6 396,126.4 389.5,117Z"/>
<path class="ab" d="M395.2,118.4 401.6,127.6M389.5,117 396,126.4"/>
<path class="gb" d="M395.2,118.4 389.5,117M401.6,127.6 396,126.4"/>
<path class="fo" d="M395.2,115.3 401.6,124.5 396,129.5 389.5,120.1Z"/>
<path class="ao" d="M395.2,115.3 401.6,124.5M389.5,120.1 396,129.5"/>
<path class="go" d="M395.2,115.3 389.5,120.1M401.6,124.5 396,129.5"/>
<path class="fg" d="M395.2,115.3 401.6,124.5 396,129.5 389.5,120.1Z"/>
<path class="ag" d="M395.2,115.3 401.6,124.5M389.5,120.1 396,129.5"/>
<path class="gg" d="M395.2,115.3 389.5,120.1M401.6,124.5 396,129.5"/>
<path class="fb" d="M325.2,104.6 331.7,113.5 326.1,114.8 319.6,105.6Z"/>
<path class="ab" d="M325.2,104.6 331.7,113.5M319.6,105.6 326.1,114.8"/>
<path class="gb" d="M325.2,104.6 319.6,105.6M331.7,113.5 326.1,114.8"/>
<path class="fg" d="M325.2,104.6 331.7,113.5 326.1,114.8 319.6,105.6Z"/>
<path class="ag" d="M325.2,104.6 331.7,113.5M319.6,105.6 326.1,114.8"/>
<path class="gg" d="M325.2,104.6 319.6,105.6M331.7,113.5 326.1,114.8"/>
<path class="fo" d="M366.2,118.7 372.7,128.5 367.1,131.3 360.6,121.3Z"/>
<path class="ao" d="M366.2,118.7 372.7,128.5M360.6,121.3 367.1,131.3"/>
<path class="go" d="M366.2,118.7 360.6,121.3M372.7,128.5 367.1,131.3"/>
<path class="fg" d="M366.2,118.7 372.7,128.5 367.1,131.3 360.6,121.3Z"/>
<path class="ag" d="M366.2,118.7 372.7,128.5M360.6,121.3 367.1,131.3"/>
<path class="gg" d="M366.2,118.7 360.6,121.3M372.7,128.5 367.1,131.3"/>
<path class="fo" d="M355,127.4 361.5,141.3 355.8,148.4 349.4,135.7Z"/>
<path class="ao" d="M355,127.4 361.5,141.3M349.4,135.7 355.8,148.4"/>
<path class="go" d="M355,127.4 349.4,135.7M361.5,141.3 355.8,148.4"/>
<path class="fo" d="M349.4,135.7 355.8,148.4 350.2,154.4 343.8,141.8Z"/>
<path class="ao" d="M349.4,135.7 355.8,148.4M343.8,141.8 350.2,154.4"/>
<path class="go" d="M349.4,135.7 343.8,141.8M355.8,148.4 350.2,154.4"/>
<path class="fo" d="M360.6,121.3 367.1,131.3 361.5,141.3 355,127.4Z"/>
<path class="ao" d="M360.6,121.3 367.1,131.3M355,127.4 361.5,141.3"/>
<path class="go" d="M360.6,121.3 355,127.4M367.1,131.3 361.5,141.3"/>
<path class="fo" d="M389.5,120.1 396,129.5 390.4,132.4 383.9,122.9Z"/>
<path class="ao" d="M389.5,120.1 396,129.5M383.9,122.9 390.4,132.4"/>
<path class="go" d="M389.5,120.1 383.9,122.9M396,129.5 390.4,132.4"/>
<path class="fg" d="M389.5,120.1 396,129.5 390.4,132.4 383.9,122.9Z"/>
<path class="ag" d="M389.5,120.1 396,129.5M383.9,122.9 390.4,132.4"/>
<path class="gg" d="M389.5,120.1 383.9,122.9M396,129.5 390.4,132.4"/>
<path class="fb" d="M366.2,115.6 372.7,125.4 367.1,128.2 360.6,118.3Z"/>
<path class="ab" d="M366.2,115.6 372.7,125.4M360.6,118.3 367.1,128.2"/>
<path class="gb" d="M366.2,115.6 360.6,118.3M372.7,125.4 367.1,128.2"/>
<path class="fo" d="M343.8,141.8 350.2,154.4 344.6,159.9 338.2,147.1Z"/>
<path class="ao" d="M343.8,141.8 350.2,154.4M338.2,147.1 344.6,159.9"/>
<path class="go" d="M343.8,141.8 338.2,147.1M350.2,154.4 344.6,159.9"/>
<path class="fb" d="M342.9,112.1 349.4,120.6 343.8,121.5 337.3,112.5Z"/>
<path class="ab" d="M342.9,112.1 349.4,120.6M337.3,112.5 343.8,121.5"/>
<path class="gb" d="M342.9,112.1 337.3,112.5M349.4,120.6 343.8,121.5"/>
<path class="fg" d="M342.9,112.1 349.4,120.6 343.8,121.5 337.3,112.5Z"/>
<path class="ag" d="M342.9,112.1 349.4,120.6M337.3,112.5 343.8,121.5"/>
<path class="gg" d="M342.9,112.1 337.3,112.5M349.4,120.6 343.8,121.5"/>
<path class="fo" d="M338.2,147.1 344.6,159.9 339,165 332.5,152.1Z"/>
<path class="ao" d="M338.2,147.1 344.6,159.9M332.5,152.1 339,165"/>
<path class="go" d="M338.2,147.1 332.5,152.1M344.6,159.9 339,165"/>
<path class="fb" d="M319.6,105.6 326.1,114.8 320.5,116.3 314,106.9Z"/>
<path class="ab" d="M319.6,105.6 326.1,114.8M314,106.9 320.5,116.3"/>
<path class="gb" d="M319.6,105.6 314,106.9M326.1,114.8 320.5,116.3"/>
<path class="fb" d="M389.5,117 396,126.4 390.4,129.3 383.9,119.8Z"/>
<path class="ab" d="M389.5,117 396,126.4M383.9,119.8 390.4,129.3"/>
<path class="gb" d="M389.5,117 383.9,119.8M396,126.4 390.4,129.3"/>
<path class="fg" d="M319.6,105.6 326.1,114.8 320.5,116.3 314,106.9Z"/>
<path class="ag" d="M319.6,105.6 326.1,114.8M314,106.9 320.5,116.3"/>
<path class="gg" d="M319.6,105.6 314,106.9M326.1,114.8 320.5,116.3"/>
<path class="fg" d="M360.6,121.3 367.1,131.3 361.5,128.9 355,120.7Z"/>
<path class="ag" d="M360.6,121.3 367.1,131.3M355,120.7 361.5,128.9"/>
<path class="gg" d="M360.6,121.3 355,120.7M367.1,131.3 361.5,128.9"/>
<path class="fo" d="M383.9,122.9 390.4,132.4 384.8,135.4 378.3,125.7Z"/>
<path class="ao" d="M383.9,122.9 390.4,132.4M378.3,125.7 384.8,135.4"/>
<path class="go" d="M383.9,122.9 378.3,125.7M390.4,132.4 384.8,135.4"/>
<path class="fg" d="M383.9,122.9 390.4,132.4 384.8,135.4 378.3,125.7Z"/>
<path class="ag" d="M383.9,122.9 390.4,132.4M378.3,125.7 384.8,135.4"/>
<path class="gg" d="M383.9,122.9 378.3,125.7M390.4,132.4 384.8,135.4"/>
<path class="fo" d="M332.5,152.1 339,165 333.4,169.8 326.9,156.9Z"/>
<path class="ao" d="M332.5,152.1 339,165M326.9,156.9 333.4,169.8"/>
<path class="go" d="M332.5,152.1 326.9,156.9M339,165 333.4,169.8"/>
<path class="fb" d="M360.6,118.3 367.1,128.2 361.5,128.9 355,120.7Z"/>
<path class="ab" d="M360.6,118.3 367.1,128.2M355,120.7 361.5,128.9"/>
<path class="gb" d="M360.6,118.3 355,120.7M367.1,128.2 361.5,128.9"/>
<path class="fb" d="M383.9,119.8 390.4,129.3 384.8,132.3 378.3,122.6Z"/>
<path class="ab" d="M383.9,119.8 390.4,129.3M378.3,122.6 384.8,132.3"/>
<path class="gb" d="M383.9,119.8 378.3,122.6M390.4,129.3 384.8,132.3"/>
<path class="fb" d="M337.3,112.5 343.8,121.5 338.2,122.8 331.7,113.5Z"/>
<path class="ab" d="M337.3,112.5 343.8,121.5M331.7,113.5 338.2,122.8"/>
<path class="gb" d="M337.3,112.5 331.7,113.5M343.8,121.5 338.2,122.8"/>
<path class="fg" d="M337.3,112.5 343.8,121.5 338.2,122.8 331.7,113.5Z"/>
<path class="ag" d="M337.3,112.5 343.8,121.5M331.7,113.5 338.2,122.8"/>
<path class="gg" d="M337.3,112.5 331.7,113.5M343.8,121.5 338.2,122.8"/>
<path class="fo" d="M378.3,125.7 384.8,135.4 379.2,138.3 372.7,128.5Z"/>
<path class="ao" d="M378.3,125.7 384.8,135.4M372.7,128.5 379.2,138.3"/>
<path class="go" d="M378.3,125.7 372.7,128.5M384.8,135.4 379.2,138.3"/>
<path class="fg" d="M378.3,125.7 384.8,135.4 379.2,138.3 372.7,128.5Z"/>
<path class="ag" d="M378.3,125.7 384.8,135.4M372.7,128.5 379.2,138.3"/>
<path class="gg" d="M378.3,125.7 372.7,128.5M384.8,135.4 379.2,138.3"/>
<path class="fo" d="M361.5,141.3 367.9,153.9 362.3,160.8 355.8,148.4Z"/>
<path class="ao" d="M361.5,141.3 367.9,153.9M355.8,148.4 362.3,160.8"/>
<path class="go" d="M361.5,141.3 355.8,148.4M367.9,153.9 362.3,160.8"/>
<path class="fb" d="M355,120.7 361.5,128.9 355.8,129.5 349.4,120.6Z"/>
<path class="ab" d="M355,120.7 361.5,128.9M349.4,120.6 355.8,129.5"/>
<path class="gb" d="M355,120.7 349.4,120.6M361.5,128.9 355.8,129.5"/>
<path class="fb" d="M378.3,122.6 384.8,132.3 379.2,135.2 372.7,125.4Z"/>
<path class="ab" d="M378.3,122.6 384.8,132.3M372.7,125.4 379.2,135.2"/>
<path class="gb" d="M378.3,122.6 372.7,125.4M384.8,132.3 379.2,135.2"/>
<path class="fg" d="M355,120.7 361.5,128.9 355.8,129.5 349.4,120.6Z"/>
<path class="ag" d="M355,120.7 361.5,128.9M349.4,120.6 355.8,129.5"/>
<path class="gg" d="M355,120.7 349.4,120.6M361.5,128.9 355.8,129.5"/>
<path class="fo" d="M355.8,148.4 362.3,160.8 356.7,166.8 350.2,154.4Z"/>
<path class="ao" d="M355.8,148.4 362.3,160.8M350.2,154.4 356.7,166.8"/>
<path class="go" d="M355.8,148.4 350.2,154.4M362.3,160.8 356.7,166.8"/>
<path class="fo" d="M372.7,128.5 379.2,138.3 373.5,144 367.1,131.3Z"/>
<path class="ao" d="M372.7,128.5 379.2,138.3M367.1,131.3 373.5,144"/>
<path class="go" d="M372.7,128.5 367.1,131.3M379.2,138.3 373.5,144"/>
<path class="fo" d="M367.1,131.3 373.5,144 367.9,153.9 361.5,141.3Z"/>
<path class="ao" d="M367.1,131.3 373.5,144M361.5,141.3 367.9,153.9"/>
<path class="go" d="M367.1,131.3 361.5,141.3M373.5,144 367.9,153.9"/>
<path class="fb" d="M331.7,113.5 338.2,122.8 332.5,124.2 326.1,114.8Z"/>
<path class="ab" d="M331.7,113.5 338.2,122.8M326.1,114.8 332.5,124.2"/>
<path class="gb" d="M331.7,113.5 326.1,114.8M338.2,122.8 332.5,124.2"/>
<path class="fo" d="M350.2,154.4 356.7,166.8 351.1,172.3 344.6,159.9Z"/>
<path class="ao" d="M350.2,154.4 356.7,166.8M344.6,159.9 351.1,172.3"/>
<path class="go" d="M350.2,154.4 344.6,159.9M356.7,166.8 351.1,172.3"/>
<path class="fg" d="M331.7,113.5 338.2,122.8 332.5,124.2 326.1,114.8Z"/>
<path class="ag" d="M331.7,113.5 338.2,122.8M326.1,114.8 332.5,124.2"/>
<path class="gg" d="M331.7,113.5 326.1,114.8M338.2,122.8 332.5,124.2"/>
<path class="fg" d="M372.7,128.5 379.2,138.3 373.5,138.3 367.1,131.3Z"/>
<path class="ag" d="M372.7,128.5 379.2,138.3M367.1,131.3 373.5,138.3"/>
<path class="gg" d="M372.7,128.5 367.1,131.3M379.2,138.3 373.5,138.3"/>
<path class="fo" d="M344.6,159.9 351.1,172.3 345.5,177.6 339,165Z"/>
<path class="ao" d="M344.6,159.9 351.1,172.3M339,165 345.5,177.6"/>
<path class="go" d="M344.6,159.9 339,165M351.1,172.3 345.5,177.6"/>
<path class="fb" d="M372.7,125.4 379.2,135.2 373.5,138.3 367.1,128.2Z"/>
<path class="ab" d="M372.7,125.4 379.2,135.2M367.1,128.2 373.5,138.3"/>
<path class="gb" d="M372.7,125.4 367.1,128.2M379.2,135.2 373.5,138.3"/>
<path class="fo" d="M339,165 345.5,177.6 339.8,182.7 333.4,169.8Z"/>
<path class="ao" d="M339,165 345.5,177.6M333.4,169.8 339.8,182.7"/>
<path class="go" d="M339,165 333.4,169.8M345.5,177.6 339.8,182.7"/>
<path class="fb" d="M349.4,120.6 355.8,129.5 350.2,130.7 343.8,121.5Z"/>
<path class="ab" d="M349.4,120.6 355.8,129.5M343.8,121.5 350.2,130.7"/>
<path class="gb" d="M349.4,120.6 343.8,121.5M355.8,129.5 350.2,130.7"/>
<path class="fg" d="M349.4,120.6 355.8,129.5 350.2,130.7 343.8,121.5Z"/>
<path class="ag" d="M349.4,120.6 355.8,129.5M343.8,121.5 350.2,130.7"/>
<path class="gg" d="M349.4,120.6 343.8,121.5M355.8,129.5 350.2,130.7"/>
<path class="fb" d="M326.1,114.8 332.5,124.2 326.9,125.9 320.5,116.3Z"/>
<path class="ab" d="M326.1,114.8 332.5,124.2M320.5,116.3 326.9,125.9"/>
<path class="gb" d="M326.1,114.8 320.5,116.3M332.5,124.2 326.9,125.9"/>
<path class="fg" d="M326.1,114.8 332.5,124.2 326.9,125.9 320.5,116.3Z"/>
<path class="ag" d="M326.1,114.8 332.5,124.2M320.5,116.3 326.9,125.9"/>
<path class="gg" d="M326.1,114.8 320.5,116.3M332.5,124.2 326.9,125.9"/>
<path class="fg" d="M367.1,131.3 373.5,138.3 367.9,137.8 361.5,128.9Z"/>
<path class="ag" d="M367.1,131.3 373.5,138.3M361.5,128.9 367.9,137.8"/>
<path class="gg" d="M367.1,131.3 361.5,128.9M373.5,138.3 367.9,137.8"/>
<path class="fb" d="M367.1,128.2 373.5,138.3 367.9,137.8 361.5,128.9Z"/>
<path class="ab" d="M367.1,128.2 373.5,138.3M361.5,128.9 367.9,137.8"/>
<path class="gb" d="M367.1,128.2 361.5,128.9M373.5,138.3 367.9,137.8"/>
<path class="fb" d="M343.8,121.5 350.2,130.7 344.6,132.2 338.2,122.8Z"/>
<path class="ab" d="M343.8,121.5 350.2,130.7M338.2,122.8 344.6,132.2"/>
<path class="gb" d="M343.8,121.5 338.2,122.8M350.2,130.7 344.6,132.2"/>
<path class="fg" d="M343.8,121.5 350.2,130.7 344.6,132.2 338.2,122.8Z"/>
<path class="ag" d="M343.8,121.5 350.2,130.7M338.2,122.8 344.6,132.2"/>
<path class="gg" d="M343.8,121.5 338.2,122.8M350.2,130.7 344.6,132.2"/>
<path class="fb" d="M361.5,128.9 367.9,137.8 362.3,138.7 355.8,129.5Z"/>
<path class="ab" d="M361.5,128.9 367.9,137.8M355.8,129.5 362.3,138.7"/>
<path class="gb" d="M361.5,128.9 355.8,129.5M367.9,137.8 362.3,138.7"/>
<path class="fg" d="M361.5,128.9 367.9,137.8 362.3,138.7 355.8,129.5Z"/>
<path class="ag" d="M361.5,128.9 367.9,137.8M355.8,129.5 362.3,138.7"/>
<path class="gg" d="M361.5,128.9 355.8,129.5M367.9,137.8 362.3,138.7"/>
<path class="fb" d="M338.2,122.8 344.6,132.2 339,133.8 332.5,124.2Z"/>
<path class="ab" d="M338.2,122.8 344.6,132.2M332.5,124.2 339,133.8"/>
<path class="gb" d="M338.2,122.8 332.5,124.2M344.6,132.2 339,133.8"/>
<path class="fg" d="M338.2,122.8 344.6,132.2 339,133.8 332.5,124.2Z"/>
<path class="ag" d="M338.2,122.8 344.6,132.2M332.5,124.2 339,133.8"/>
<path class="gg" d="M338.2,122.8 332.5,124.2M344.6,132.2 339,133.8"/>
<path class="fb" d="M355.8,129.5 362.3,138.7 356.7,140.1 350.2,130.7Z"/>
<path class="ab" d="M355.8,129.5 362.3,138.7M350.2,130.7 356.7,140.1"/>
<path class="gb" d="M355.8,129.5 350.2,130.7M362.3,138.7 356.7,140.1"/>
<path class="fg" d="M355.8,129.5 362.3,138.7 356.7,140.1 350.2,130.7Z"/>
<path class="ag" d="M355.8,129.5 362.3,138.7M350.2,130.7 356.7,140.1"/>
<path class="gg" d="M355.8,129.5 350.2,130.7M362.3,138.7 356.7,140.1"/>
<path class="fb" d="M332.5,124.2 339,133.8 333.4,135.6 326.9,125.9Z"/>
<path class="ab" d="M332.5,124.2 339,133.8M326.9,125.9 333.4,135.6"/>
<path class="gb" d="M332.5,124.2 326.9,125.9M339,133.8 333.4,135.6"/>
<path class="fg" d="M332.5,124.2 339,133.8 333.4,135.6 326.9,125.9Z"/>
<path class="ag" d="M332.5,124.2 339,133.8M326.9,125.9 333.4,135.6"/>
<path class="gg" d="M332.5,124.2 326.9,125.9M339,133.8 333.4,135.6"/>
<path class="fb" d="M350.2,130.7 356.7,140.1 351.1,141.7 344.6,132.2Z"/>
<path class="ab" d="M350.2,130.7 356.7,140.1M344.6,132.2 351.1,141.7"/>
<path class="gb" d="M350.2,130.7 344.6,132.2M356.7,140.1 351.1,141.7"/>
<path class="fg" d="M350.2,130.7 356.7,140.1 351.1,141.7 344.6,132.2Z"/>
<path class="ag" d="M350.2,130.7 356.7,140.1M344.6,132.2 351.1,141.7"/>
<path class="gg" d="M350.2,130.7 344.6,132.2M356.7,140.1 351.1,141.7"/>
<path class="fb" d="M344.6,132.2 351.1,141.7 345.5,143.5 339,133.8Z"/>
<path class="ab" d="M344.6,132.2 351.1,141.7M339,133.8 345.5,143.5"/>
<path class="gb" d="M344.6,132.2 339,133.8M351.1,141.7 345.5,143.5"/>
<path class="fg" d="M344.6,132.2 351.1,141.7 345.5,143.5 339,133.8Z"/>
<path class="ag" d="M344.6,132.2 351.1,141.7M339,133.8 345.5,143.5"/>
<path class="gg" d="M344.6,132.2 339,133.8M351.1,141.7 345.5,143.5"/>
<path class="fb" d="M339,133.8 345.5,143.5 339.8,145.4 333.4,135.6Z"/>
<path class="ab" d="M339,133.8 345.5,143.5M333.4,135.6 339.8,145.4"/>
<path class="gb" d="M339,133.8 333.4,135.6M345.5,143.5 339.8,145.4"/>
<path class="fg" d="M339,133.8 345.5,143.5 339.8,145.4 333.4,135.6Z"/>
<path class="ag" d="M339,133.8 345.5,143.5M333.4,135.6 339.8,145.4"/>
<path class="gg" d="M339,133.8 333.4,135.6M345.5,143.5 339.8,145.4"/>
<path d="M411.7,45.6 L410.9,46.8 L410.3,47.9 L409.6,49.1 L409,50.4 L408.4,51.7 L407.8,53 L407.3,54.4 L406.8,55.9 L406.3,57.4 L405.9,59 L405.6,60.7 L405.3,62.4 L405,64.2 L404.9,66.1 L404.8,68.1 L404.7,70.3 L404.8,72.5 L404.9,74.9 L405.2,77.4 L405.6,80.2 L406.1,83.1 L406.7,86.2 L407.6,89.5 L408.6,93.2 L409.8,97.1 L411.3,101.4 L413,106.2 L415.1,111.4 L417.6,117.2" stroke="#d03a2a" stroke-opacity="1" stroke-width="2.6" stroke-dasharray="3.5,2" fill="none"/>
<path d="M374.4,139.8 L369.3,134.6 L364.7,130.1 L360.4,126 L356.3,122.3 L352.6,119 L349,116 L345.7,113.3 L342.5,110.8 L339.4,108.6 L336.5,106.5 L333.7,104.6 L331,102.9 L328.4,101.3 L325.9,99.8 L323.4,98.4 L321.1,97.2 L318.8,96 L316.5,94.9 L314.4,93.9 L312.2,93 L310.1,92.1 L308.1,91.3 L306.1,90.5 L304.1,89.8 L302.1,89.2 L300.2,88.6 L298.3,88 L296.5,87.5 L294.7,87" stroke="#7a48e0" stroke-opacity="0.8" stroke-width="1.9" fill="none"/>
<path d="M41.5,142.1L43.9,143.9M41.5,125.7L43.9,127.5M41.5,109.4L43.9,111.2M41.5,93L43.9,94.8M41.5,76.7L43.9,78.5M41.5,60.4L43.9,62.2M41.5,44L43.9,45.8M109.3,195.4L111.9,194.7M95.7,185.1L98.3,184.4M82.2,174.8L84.8,174.1M68.6,164.5L71.2,163.8M55.1,154.2L57.6,153.5M41.5,143.9L44.1,143.2M109.3,195.4L106.9,193.6M132.7,189.5L130.4,187.7M156.2,183.6L153.8,181.8M179.6,177.6L177.2,175.8M203.1,171.7L200.7,169.9M226.5,165.8L224.1,164" stroke="#333" stroke-width="0.8" fill="none"/>
<path d="M269.5,138.5L271.9,140.3M269.5,119.7L271.9,121.5M269.5,101L271.9,102.8M269.5,82.2L271.9,84M269.5,63.5L271.9,65.3M269.5,44.7L271.9,46.5M269.5,143.9L272.1,143.2M283.1,154.3L285.7,153.6M296.7,164.6L299.3,164M310.3,175L312.9,174.3M323.9,185.3L326.5,184.7M337.5,195.7L340.1,195M454.5,165.9L452.1,164.1M431.1,171.9L428.7,170M407.7,177.8L405.3,176M384.3,183.8L381.9,182M360.9,189.7L358.5,187.9M337.5,195.7L335.1,193.9" stroke="#333" stroke-width="0.8" fill="none"/>
<path d="M41.5,42.2L41.5,143.9L109.3,195.4L226.5,165.8" stroke="#4a4a4a" stroke-width="1" fill="none"/>
<path d="M269.5,42.2L269.5,143.9L337.5,195.7L454.5,165.9" stroke="#4a4a4a" stroke-width="1" fill="none"/>
<path d="M71.1,143.1L83,128.4" stroke="#ee2222" stroke-width="1.3"/>
<path d="M86.2,124.5L84.6,130.9L83.4,128L80.2,127.4Z" fill="#ee2222"/>
<path d="M220.6,96.2L205.5,95.4" stroke="#8a3be6" stroke-width="1.3"/>
<path d="M200.5,95.2L206.6,92.7L205,95.4L206.4,98.3Z" fill="#8a3be6"/>
<path d="M393.1,156.3L380.4,144" stroke="#8a3be6" stroke-width="1.3"/>
<path d="M376.8,140.5L383.1,142.7L380,143.6L379.2,146.7Z" fill="#8a3be6"/>
<path d="M417.2,146.5L416.7,126.5" stroke="#ee2222" stroke-width="1.3"/>
<path d="M416.6,121.5L419.5,127.4L416.7,126L413.9,127.6Z" fill="#ee2222"/>
<text x="39.3" y="47.9" font-size="11.6" text-anchor="end" fill="#1e1e1e" stroke="#1e1e1e">1.2</text>
<text x="39.3" y="63.8" font-size="11.6" text-anchor="end" fill="#1e1e1e" stroke="#1e1e1e">0.8</text>
<text x="39.3" y="80.7" font-size="11.6" text-anchor="end" fill="#1e1e1e" stroke="#1e1e1e">0.4</text>
<text x="39.3" y="96.7" font-size="11.6" text-anchor="end" fill="#1e1e1e" stroke="#1e1e1e">0</text>
<text x="39.3" y="113.2" font-size="11.6" text-anchor="end" fill="#1e1e1e" stroke="#1e1e1e">-0.4</text>
<text x="39.3" y="130.3" font-size="11.6" text-anchor="end" fill="#1e1e1e" stroke="#1e1e1e">-0.8</text>
<text x="39.3" y="145.9" font-size="11.6" text-anchor="end" fill="#1e1e1e" stroke="#1e1e1e">-1.2</text>
<text x="35" y="154.3" font-size="11.6" text-anchor="middle" fill="#1e1e1e" stroke="#1e1e1e">10</text>
<text x="50" y="164.7" font-size="11.6" text-anchor="middle" fill="#1e1e1e" stroke="#1e1e1e">8</text>
<text x="63.5" y="174.4" font-size="11.6" text-anchor="middle" fill="#1e1e1e" stroke="#1e1e1e">6</text>
<text x="77" y="184.4" font-size="11.6" text-anchor="middle" fill="#1e1e1e" stroke="#1e1e1e">4</text>
<text x="90.5" y="193.4" font-size="11.6" text-anchor="middle" fill="#1e1e1e" stroke="#1e1e1e">2</text>
<text x="103" y="202.7" font-size="11.6" text-anchor="middle" fill="#1e1e1e" stroke="#1e1e1e">0</text>
<text x="116.4" y="206.6" font-size="11.6" text-anchor="middle" fill="#1e1e1e" stroke="#1e1e1e">0</text>
<text x="142" y="200.9" font-size="11.6" text-anchor="middle" fill="#1e1e1e" stroke="#1e1e1e">0.2</text>
<text x="165.3" y="195.4" font-size="11.6" text-anchor="middle" fill="#1e1e1e" stroke="#1e1e1e">0.4</text>
<text x="186.9" y="190.2" font-size="11.6" text-anchor="middle" fill="#1e1e1e" stroke="#1e1e1e">0.6</text>
<text x="208.4" y="184.1" font-size="11.6" text-anchor="middle" fill="#1e1e1e" stroke="#1e1e1e">0.8</text>
<text x="230.3" y="179" font-size="11.6" text-anchor="middle" fill="#1e1e1e" stroke="#1e1e1e">1.0</text>
<text x="53" y="185.4" font-size="11.6" text-anchor="middle" fill="#1e1e1e" stroke="#1e1e1e">γ/Ω</text>
<text x="185.4" y="205.4" font-size="13" text-anchor="middle" fill="#1e1e1e" stroke="#1e1e1e">α</text>
<text x="12.7" y="95.4" font-size="14" text-anchor="middle" fill="#1e1e1e" stroke="#1e1e1e" textLength="49.2" lengthAdjust="spacingAndGlyphs" transform="rotate(-90 12.7 90.4)">Re(E)/Ω</text>
<text x="5.4" y="10.9" font-size="15.5" text-anchor="start" fill="#1e1e1e" stroke="#1e1e1e">a</text>
<text x="267.4" y="48.9" font-size="11.6" text-anchor="end" fill="#1e1e1e" stroke="#1e1e1e">0</text>
<text x="267.4" y="68.1" font-size="11.6" text-anchor="end" fill="#1e1e1e" stroke="#1e1e1e">-2</text>
<text x="267.4" y="86.8" font-size="11.6" text-anchor="end" fill="#1e1e1e" stroke="#1e1e1e">-4</text>
<text x="267.4" y="105.7" font-size="11.6" text-anchor="end" fill="#1e1e1e" stroke="#1e1e1e">-6</text>
<text x="267.4" y="124.2" font-size="11.6" text-anchor="end" fill="#1e1e1e" stroke="#1e1e1e">-8</text>
<text x="267.4" y="142.7" font-size="11.6" text-anchor="end" fill="#1e1e1e" stroke="#1e1e1e">-10</text>
<text x="269" y="157.1" font-size="11.6" text-anchor="middle" fill="#1e1e1e" stroke="#1e1e1e">0</text>
<text x="281.6" y="167.2" font-size="11.6" text-anchor="middle" fill="#1e1e1e" stroke="#1e1e1e">2</text>
<text x="294.5" y="175.8" font-size="11.6" text-anchor="middle" fill="#1e1e1e" stroke="#1e1e1e">4</text>
<text x="307.6" y="185.6" font-size="11.6" text-anchor="middle" fill="#1e1e1e" stroke="#1e1e1e">6</text>
<text x="320.5" y="195.7" font-size="11.6" text-anchor="middle" fill="#1e1e1e" stroke="#1e1e1e">8</text>
<text x="331.2" y="207" font-size="11.6" text-anchor="middle" fill="#1e1e1e" stroke="#1e1e1e">10</text>
<text x="347.5" y="207" font-size="11.6" text-anchor="middle" fill="#1e1e1e" stroke="#1e1e1e">1.0</text>
<text x="370.2" y="200.9" font-size="11.6" text-anchor="middle" fill="#1e1e1e" stroke="#1e1e1e">0.8</text>
<text x="391.6" y="194.8" font-size="11.6" text-anchor="middle" fill="#1e1e1e" stroke="#1e1e1e">0.6</text>
<text x="415.5" y="188.7" font-size="11.6" text-anchor="middle" fill="#1e1e1e" stroke="#1e1e1e">0.4</text>
<text x="437" y="183.4" font-size="11.6" text-anchor="middle" fill="#1e1e1e" stroke="#1e1e1e">0.2</text>
<text x="452.3" y="176.4" font-size="11.6" text-anchor="middle" fill="#1e1e1e" stroke="#1e1e1e">0</text>
<text x="282.2" y="185" font-size="11.6" text-anchor="middle" fill="#1e1e1e" stroke="#1e1e1e">γ/Ω</text>
<text x="412.5" y="204.5" font-size="13" text-anchor="middle" fill="#1e1e1e" stroke="#1e1e1e">α</text>
<text x="247.2" y="97.5" font-size="14" text-anchor="middle" fill="#1e1e1e" stroke="#1e1e1e" textLength="50.9" lengthAdjust="spacingAndGlyphs" transform="rotate(-90 247.2 92.5)">Im(E)/Ω</text>
<text x="241.8" y="10.9" font-size="15.5" text-anchor="start" fill="#1e1e1e" stroke="#1e1e1e">b</text>
<defs><clipPath id="cc"><rect x="495.5" y="15.1" width="174.0" height="175.0"/></clipPath></defs>
<path d="M495.5,188.5h3M669.5,188.5h-3M495.5,153.8h3M669.5,153.8h-3M495.5,119.1h3M669.5,119.1h-3M495.5,84.5h3M669.5,84.5h-3M495.5,49.8h3M669.5,49.8h-3M495.5,15.1h3M669.5,15.1h-3M499.5,190.1v-3M499.5,15.1v3M532.7,190.1v-3M532.7,15.1v3M565.9,190.1v-3M565.9,15.1v3M599.2,190.1v-3M599.2,15.1v3M632.4,190.1v-3M632.4,15.1v3M665.6,190.1v-3M665.6,15.1v3" stroke="#333" stroke-width="0.8" fill="none"/>
<path d="M582.5,15.1V190.1" stroke="#aaa" stroke-width="0.9" stroke-dasharray="3,2"/>
<g clip-path="url(#cc)">
<path d="M497.8,182.3 L500.2,182.2 L502.6,182 L505,181.8 L507.4,181.6 L509.8,181.3 L512.2,181.1 L514.6,180.8 L517,180.6 L519.4,180.3 L521.8,179.9 L524.2,179.6 L526.6,179.2 L529.1,178.8 L531.5,178.4 L533.9,177.9 L536.3,177.4 L538.7,176.8 L541.1,176.1 L543.5,175.4 L545.9,174.6 L548.3,173.6 L550.7,172.6 L553.1,171.3 L555.5,169.9 L557.9,168.2 L560.3,166.1 L562.7,163.6 L565.1,160.5 L567.5,156.4 L567.5,156.4 L568.1,155.3 L568.7,154.1 L569.2,152.8 L569.8,151.4 L570.4,149.9 L570.9,148.2 L571.5,146.4 L572.1,144.5 L572.6,142.3 L573.2,139.9 L573.7,137.3 L574.3,134.4 L574.9,131.1 L575.4,127.3 L576,123.1 L576.6,118.3 L577.1,112.6 L577.7,106 L578.3,98.1 L578.8,88.5 L579.4,76.7 L579.9,61.7 L580.5,42 L581.1,15.1" stroke="#ec1c2a" stroke-opacity="0.45" stroke-width="0.8" stroke-dasharray="1.5,1" fill="none"/>
<path d="M496.2,182.3 L498.6,182.2 L501,182 L503.4,181.8 L505.8,181.6 L508.2,181.3 L510.6,181.1 L513,180.8 L515.4,180.6 L517.8,180.3 L520.2,179.9 L522.6,179.6 L525,179.2 L527.5,178.8 L529.9,178.4 L532.3,177.9 L534.7,177.4 L537.1,176.8 L539.5,176.1 L541.9,175.4 L544.3,174.6 L546.7,173.6 L549.1,172.6 L551.5,171.3 L553.9,169.9 L556.3,168.2 L558.7,166.1 L561.1,163.6 L563.5,160.5 L565.9,156.4 L565.9,156.4 L566.5,155.3 L567.1,154.1 L567.6,152.8 L568.2,151.4 L568.8,149.9 L569.3,148.2 L569.9,146.4 L570.5,144.5 L571,142.3 L571.6,139.9 L572.1,137.3 L572.7,134.4 L573.3,131.1 L573.8,127.3 L574.4,123.1 L575,118.3 L575.5,112.6 L576.1,106 L576.7,98.1 L577.2,88.5 L577.8,76.7 L578.3,61.7 L578.9,42 L579.5,15.1" stroke="#ec1c2a" stroke-width="1.0" fill="none"/>
<path d="M667.3,182.3 L664.9,182.2 L662.5,182 L660.1,181.8 L657.7,181.6 L655.3,181.3 L652.9,181.1 L650.5,180.8 L648.1,180.6 L645.7,180.3 L643.3,179.9 L640.9,179.6 L638.5,179.2 L636,178.8 L633.6,178.4 L631.2,177.9 L628.8,177.4 L626.4,176.8 L624,176.1 L621.6,175.4 L619.2,174.6 L616.8,173.6 L614.4,172.6 L612,171.3 L609.6,169.9 L607.2,168.2 L604.8,166.1 L602.4,163.6 L600,160.5 L597.6,156.4 L597.6,156.4 L597,155.3 L596.4,154.1 L595.9,152.8 L595.3,151.4 L594.7,149.9 L594.2,148.2 L593.6,146.4 L593,144.5 L592.5,142.3 L591.9,139.9 L591.4,137.3 L590.8,134.4 L590.2,131.1 L589.7,127.3 L589.1,123.1 L588.5,118.3 L588,112.6 L587.4,106 L586.8,98.1 L586.3,88.5 L585.7,76.7 L585.2,61.7 L584.6,42 L584,15.1" stroke="#8c2be6" stroke-opacity="0.45" stroke-width="0.8" stroke-dasharray="1.5,1" fill="none"/>
<path d="M668.9,182.3 L666.5,182.2 L664.1,182 L661.7,181.8 L659.3,181.6 L656.9,181.3 L654.5,181.1 L652.1,180.8 L649.7,180.6 L647.3,180.3 L644.9,179.9 L642.5,179.6 L640.1,179.2 L637.6,178.8 L635.2,178.4 L632.8,177.9 L630.4,177.4 L628,176.8 L625.6,176.1 L623.2,175.4 L620.8,174.6 L618.4,173.6 L616,172.6 L613.6,171.3 L611.2,169.9 L608.8,168.2 L606.4,166.1 L604,163.6 L601.6,160.5 L599.2,156.4 L599.2,156.4 L598.6,155.3 L598,154.1 L597.5,152.8 L596.9,151.4 L596.3,149.9 L595.8,148.2 L595.2,146.4 L594.6,144.5 L594.1,142.3 L593.5,139.9 L593,137.3 L592.4,134.4 L591.8,131.1 L591.3,127.3 L590.7,123.1 L590.1,118.3 L589.6,112.6 L589,106 L588.4,98.1 L587.9,88.5 L587.3,76.7 L586.8,61.7 L586.2,42 L585.6,15.1" stroke="#8c2be6" stroke-width="1.0" fill="none"/>
<circle cx="499.5" cy="182" r="1.6" fill="none" stroke="#ec1c2a" stroke-width="0.7"/>
<circle cx="507.8" cy="181.5" r="1.6" fill="none" stroke="#ec1c2a" stroke-width="0.7"/>
<circle cx="516.1" cy="180.6" r="1.6" fill="none" stroke="#ec1c2a" stroke-width="0.7"/>
<circle cx="524.4" cy="179.4" r="1.6" fill="none" stroke="#ec1c2a" stroke-width="0.7"/>
<circle cx="532.7" cy="177.8" r="1.6" fill="none" stroke="#ec1c2a" stroke-width="0.7"/>
<circle cx="632.4" cy="177.9" r="1.6" fill="none" stroke="#8c2be6" stroke-width="0.7"/>
<circle cx="640.7" cy="179.4" r="1.6" fill="none" stroke="#8c2be6" stroke-width="0.7"/>
<circle cx="649" cy="180.5" r="1.6" fill="none" stroke="#8c2be6" stroke-width="0.7"/>
<circle cx="657.3" cy="181.5" r="1.6" fill="none" stroke="#8c2be6" stroke-width="0.7"/>
<circle cx="665.6" cy="182" r="1.6" fill="none" stroke="#8c2be6" stroke-width="0.7"/>
</g>
<rect x="495.5" y="15.1" width="174" height="175" fill="none" stroke="#444" stroke-width="1"/>
<rect x="497.1" y="175.4" width="38.3" height="12" fill="none" stroke="#ec1c2a" stroke-opacity="0.8" stroke-width="0.9" stroke-dasharray="3,2"/>
<rect x="628.2" y="175.4" width="38.8" height="12" fill="none" stroke="#a868f0" stroke-width="0.9" stroke-dasharray="3,2"/>
<path d="M515.3,173.4L525.8,151" stroke="#ec1c2a" stroke-width="1.0"/>
<path d="M527.9,146.5L527.7,153L526,150.6L523,150.8Z" fill="#ec1c2a"/>
<path d="M649.1,173.4L644.2,151.4" stroke="#9950ee" stroke-width="1.0"/>
<path d="M643.1,146.5L646.9,151.8L644.1,150.9L641.9,152.9Z" fill="#9950ee"/>
<text x="493.3" y="192.6" font-size="12.3" text-anchor="end" fill="#1e1e1e" stroke="#1e1e1e">0</text>
<text x="493.3" y="157.9" font-size="12.3" text-anchor="end" fill="#1e1e1e" stroke="#1e1e1e">20</text>
<text x="493.3" y="123.2" font-size="12.3" text-anchor="end" fill="#1e1e1e" stroke="#1e1e1e">40</text>
<text x="493.3" y="88.6" font-size="12.3" text-anchor="end" fill="#1e1e1e" stroke="#1e1e1e">60</text>
<text x="493.3" y="53.9" font-size="12.3" text-anchor="end" fill="#1e1e1e" stroke="#1e1e1e">80</text>
<text x="493.3" y="19.2" font-size="12.3" text-anchor="end" fill="#1e1e1e" stroke="#1e1e1e">100</text>
<text x="499.5" y="202.6" font-size="12.3" text-anchor="middle" fill="#1e1e1e" stroke="#1e1e1e">0</text>
<text x="532.7" y="202.6" font-size="12.3" text-anchor="middle" fill="#1e1e1e" stroke="#1e1e1e">0.2</text>
<text x="565.9" y="202.6" font-size="12.3" text-anchor="middle" fill="#1e1e1e" stroke="#1e1e1e">0.4</text>
<text x="599.2" y="202.6" font-size="12.3" text-anchor="middle" fill="#1e1e1e" stroke="#1e1e1e">0.6</text>
<text x="632.4" y="202.6" font-size="12.3" text-anchor="middle" fill="#1e1e1e" stroke="#1e1e1e">0.8</text>
<text x="665.6" y="202.6" font-size="12.3" text-anchor="middle" fill="#1e1e1e" stroke="#1e1e1e">1.0</text>
<text x="582.7" y="212.2" font-size="13" text-anchor="middle" fill="#1e1e1e" stroke="#1e1e1e">α</text>
<text x="469.6" y="108" font-size="14" text-anchor="middle" fill="#1e1e1e" stroke="#1e1e1e" textLength="23" lengthAdjust="spacingAndGlyphs" transform="rotate(-90 469.6 103)">γ/Ω</text>
<text x="458.4" y="11" font-size="15.5" text-anchor="start" fill="#1e1e1e" stroke="#1e1e1e">c</text>
<rect x="513.4" y="20.5" width="56.2" height="111.6" fill="#fff"/>
<path d="M516.3,20.5V132.1M527.6,20.5V132.1M538.9,20.5V132.1M550.2,20.5V132.1M561.5,20.5V132.1M513.4,132.1H569.6M513.4,114.2H569.6M513.4,96.3H569.6M513.4,78.4H569.6M513.4,60.5H569.6M513.4,42.6H569.6M513.4,24.7H569.6" stroke="#000" stroke-opacity="0.12" stroke-width="0.8" fill="none"/>
<path d="M516.3,132.1v-2.5M516.3,20.5v2.5M538.9,132.1v-2.5M538.9,20.5v2.5M561.5,132.1v-2.5M561.5,20.5v2.5M513.4,132.1h2.5M569.6,132.1h-2.5M513.4,114.2h2.5M569.6,114.2h-2.5M513.4,96.3h2.5M569.6,96.3h-2.5M513.4,78.4h2.5M569.6,78.4h-2.5M513.4,60.5h2.5M569.6,60.5h-2.5M513.4,42.6h2.5M569.6,42.6h-2.5M513.4,24.7h2.5M569.6,24.7h-2.5" stroke="#333" stroke-width="0.7" fill="none"/>
<clipPath id="ci513"><rect x="513.4" y="20.5" width="56.2" height="111.6"/></clipPath>
<g clip-path="url(#ci513)">
<path d="M514,127.5 L516.2,125.1 L518.3,122.6 L520.4,119.9 L522.6,117.2 L524.7,114.3 L526.8,111.4 L528.9,108.3 L531.1,105 L533.2,101.7 L535.3,98.1 L537.4,94.4 L539.6,90.6 L541.7,86.5 L543.8,82.3 L546,77.8 L548.1,73.1 L550.2,68.1 L552.3,62.9 L554.5,57.4 L556.6,51.5 L558.7,45.3 L560.9,38.7 L563,31.7 L565.1,24.2" stroke="#ec1c2a" stroke-width="1.1" fill="none"/>
<path d="M516.3,124.2H516.3M516.3,122.4V126M515.1,122.4h2.4M515.1,126h2.4" stroke="#ec1c2a" stroke-width="0.8" fill="none"/>
<rect x="514.8" y="122.7" width="3" height="3" fill="none" stroke="#ec1c2a" stroke-width="0.7"/>
<path d="M527.6,112.4H527.6M527.6,104.5V120.3M526.4,104.5h2.4M526.4,120.3h2.4" stroke="#ec1c2a" stroke-width="0.8" fill="none"/>
<rect x="526.1" y="110.9" width="3" height="3" fill="none" stroke="#ec1c2a" stroke-width="0.7"/>
<path d="M538.9,94.5H538.9M538.9,88.4V100.6M537.7,88.4h2.4M537.7,100.6h2.4" stroke="#ec1c2a" stroke-width="0.8" fill="none"/>
<rect x="537.4" y="93" width="3" height="3" fill="none" stroke="#ec1c2a" stroke-width="0.7"/>
<path d="M548.4,69.5H552M550.2,65.2V73.7M549,65.2h2.4M549,73.7h2.4" stroke="#ec1c2a" stroke-width="0.8" fill="none"/>
<rect x="548.7" y="68" width="3" height="3" fill="none" stroke="#ec1c2a" stroke-width="0.7"/>
<path d="M559.2,37.2H563.8M561.5,30.1V44.4M560.3,30.1h2.4M560.3,44.4h2.4" stroke="#ec1c2a" stroke-width="0.8" fill="none"/>
<rect x="560" y="35.7" width="3" height="3" fill="none" stroke="#ec1c2a" stroke-width="0.7"/>
</g>
<rect x="513.4" y="20.5" width="56.2" height="111.6" fill="none" stroke="#333" stroke-width="1"/>
<text x="510.8" y="135.5" font-size="9.6" text-anchor="end" fill="#ec1c2a" stroke="#ec1c2a">3.5</text>
<text x="510.8" y="117.6" font-size="9.6" text-anchor="end" fill="#ec1c2a" stroke="#ec1c2a">4.0</text>
<text x="510.8" y="99.7" font-size="9.6" text-anchor="end" fill="#ec1c2a" stroke="#ec1c2a">4.5</text>
<text x="510.8" y="81.8" font-size="9.6" text-anchor="end" fill="#ec1c2a" stroke="#ec1c2a">5.0</text>
<text x="510.8" y="63.9" font-size="9.6" text-anchor="end" fill="#ec1c2a" stroke="#ec1c2a">5.5</text>
<text x="510.8" y="46" font-size="9.6" text-anchor="end" fill="#ec1c2a" stroke="#ec1c2a">6.0</text>
<text x="510.8" y="28.1" font-size="9.6" text-anchor="end" fill="#ec1c2a" stroke="#ec1c2a">6.5</text>
<text x="516.3" y="141.6" font-size="9.6" text-anchor="middle" fill="#333" stroke="#333">0</text>
<text x="538.9" y="141.6" font-size="9.6" text-anchor="middle" fill="#333" stroke="#333">0.1</text>
<text x="561.5" y="141.6" font-size="9.6" text-anchor="middle" fill="#333" stroke="#333">0.2</text>
<rect x="610" y="20.2" width="55.7" height="112.2" fill="#fff"/>
<path d="M617.2,20.2V132.4M628.4,20.2V132.4M639.5,20.2V132.4M650.6,20.2V132.4M661.8,20.2V132.4M610,132.1H665.7M610,114.2H665.7M610,96.3H665.7M610,78.4H665.7M610,60.5H665.7M610,42.6H665.7M610,24.7H665.7" stroke="#000" stroke-opacity="0.12" stroke-width="0.8" fill="none"/>
<path d="M617.2,132.4v-2.5M617.2,20.2v2.5M639.5,132.4v-2.5M639.5,20.2v2.5M661.8,132.4v-2.5M661.8,20.2v2.5M610,132.1h2.5M665.7,132.1h-2.5M610,114.2h2.5M665.7,114.2h-2.5M610,96.3h2.5M665.7,96.3h-2.5M610,78.4h2.5M665.7,78.4h-2.5M610,60.5h2.5M665.7,60.5h-2.5M610,42.6h2.5M665.7,42.6h-2.5M610,24.7h2.5M665.7,24.7h-2.5" stroke="#333" stroke-width="0.7" fill="none"/>
<clipPath id="ci610"><rect x="610" y="20.2" width="55.7" height="112.2"/></clipPath>
<g clip-path="url(#ci610)">
<path d="M613.6,24.2 L615.7,31.7 L617.8,38.7 L619.9,45.3 L622,51.5 L624.1,57.4 L626.2,62.9 L628.3,68.1 L630.4,73.1 L632.5,77.8 L634.6,82.3 L636.7,86.5 L638.8,90.6 L640.9,94.4 L643,98.1 L645.1,101.7 L647.2,105 L649.3,108.3 L651.4,111.4 L653.5,114.3 L655.6,117.2 L657.7,119.9 L659.8,122.6 L661.9,125.1 L664,127.5" stroke="#8c2be6" stroke-width="1.1" fill="none"/>
<path d="M614.5,39H619.9M617.2,31.9V46.2M616,31.9h2.4M616,46.2h2.4" stroke="#8c2be6" stroke-width="0.8" fill="none"/>
<rect x="615.7" y="37.5" width="3" height="3" fill="none" stroke="#8c2be6" stroke-width="0.7"/>
<path d="M625.7,69.5H631M628.4,65.2V73.7M627.1,65.2h2.4M627.1,73.7h2.4" stroke="#8c2be6" stroke-width="0.8" fill="none"/>
<rect x="626.9" y="68" width="3" height="3" fill="none" stroke="#8c2be6" stroke-width="0.7"/>
<path d="M636.2,92.7H642.8M639.5,88.4V97M638.3,88.4h2.4M638.3,97h2.4" stroke="#8c2be6" stroke-width="0.8" fill="none"/>
<rect x="638" y="91.2" width="3" height="3" fill="none" stroke="#8c2be6" stroke-width="0.7"/>
<path d="M648,112.4H653.3M650.6,109.5V115.3M649.4,109.5h2.4M649.4,115.3h2.4" stroke="#8c2be6" stroke-width="0.8" fill="none"/>
<rect x="649.1" y="110.9" width="3" height="3" fill="none" stroke="#8c2be6" stroke-width="0.7"/>
<path d="M661.8,124.2H661.8M661.8,122.4V126M660.6,122.4h2.4M660.6,126h2.4" stroke="#8c2be6" stroke-width="0.8" fill="none"/>
<rect x="660.3" y="122.7" width="3" height="3" fill="none" stroke="#8c2be6" stroke-width="0.7"/>
</g>
<rect x="610" y="20.2" width="55.7" height="112.2" fill="none" stroke="#333" stroke-width="1"/>
<text x="608.5" y="135.5" font-size="9.6" text-anchor="end" fill="#8c2be6" stroke="#8c2be6">3.5</text>
<text x="608.5" y="117.6" font-size="9.6" text-anchor="end" fill="#8c2be6" stroke="#8c2be6">4.0</text>
<text x="608.5" y="99.7" font-size="9.6" text-anchor="end" fill="#8c2be6" stroke="#8c2be6">4.5</text>
<text x="608.5" y="81.8" font-size="9.6" text-anchor="end" fill="#8c2be6" stroke="#8c2be6">5.0</text>
<text x="608.5" y="63.9" font-size="9.6" text-anchor="end" fill="#8c2be6" stroke="#8c2be6">5.5</text>
<text x="608.5" y="46" font-size="9.6" text-anchor="end" fill="#8c2be6" stroke="#8c2be6">6.0</text>
<text x="608.5" y="28.1" font-size="9.6" text-anchor="end" fill="#8c2be6" stroke="#8c2be6">6.5</text>
<text x="617.2" y="141.6" font-size="9.6" text-anchor="middle" fill="#333" stroke="#333">0.8</text>
<text x="639.5" y="141.6" font-size="9.6" text-anchor="middle" fill="#333" stroke="#333">0.9</text>
<text x="661.8" y="141.6" font-size="9.6" text-anchor="middle" fill="#333" stroke="#333">1.0</text>
<defs>
<clipPath id="cd0"><rect x="37.5" y="231.5" width="58.5" height="141"/></clipPath>
<clipPath id="ce0"><rect x="37.5" y="382.5" width="58.5" height="140.5"/></clipPath>
<clipPath id="cd1"><rect x="98" y="231.5" width="58.5" height="141"/></clipPath>
<clipPath id="ce1"><rect x="98" y="382.5" width="58.5" height="140.5"/></clipPath>
<clipPath id="cd2"><rect x="158.8" y="231.5" width="58.5" height="141"/></clipPath>
<clipPath id="ce2"><rect x="158.8" y="382.5" width="58.5" height="140.5"/></clipPath>
<clipPath id="cd3"><rect x="219.5" y="231.5" width="58.5" height="141"/></clipPath>
<clipPath id="ce3"><rect x="219.5" y="382.5" width="58.5" height="140.5"/></clipPath>
<clipPath id="cd4"><rect x="280.5" y="231.5" width="58.5" height="141"/></clipPath>
<clipPath id="ce4"><rect x="280.5" y="382.5" width="58.5" height="140.5"/></clipPath>
<clipPath id="cd5"><rect x="349" y="231.5" width="58.5" height="141"/></clipPath>
<clipPath id="ce5"><rect x="349" y="382.5" width="58.5" height="140.5"/></clipPath>
<clipPath id="cd6"><rect x="409.6" y="231.5" width="58.5" height="141"/></clipPath>
<clipPath id="ce6"><rect x="409.6" y="382.5" width="58.5" height="140.5"/></clipPath>
<clipPath id="cd7"><rect x="470.3" y="231.5" width="58.5" height="141"/></clipPath>
<clipPath id="ce7"><rect x="470.3" y="382.5" width="58.5" height="140.5"/></clipPath>
<clipPath id="cd8"><rect x="531" y="231.5" width="58.5" height="141"/></clipPath>
<clipPath id="ce8"><rect x="531" y="382.5" width="58.5" height="140.5"/></clipPath>
<clipPath id="cd9"><rect x="591.7" y="231.5" width="58.5" height="141"/></clipPath>
<clipPath id="ce9"><rect x="591.7" y="382.5" width="58.5" height="140.5"/></clipPath>
</defs>
<g clip-path="url(#cd0)">
<rect x="37.5" y="231.5" width="58.5" height="141" fill="#fff"/>
<path d="M51.5,231.5V372.5M71.5,231.5V372.5M91.5,231.5V372.5M37.5,361.8H96M37.5,346.7H96M37.5,331.5H96M37.5,316.4H96M37.5,301.3H96M37.5,286.2H96M37.5,271.1H96M37.5,255.9H96M37.5,240.8H96" stroke="#000" stroke-opacity="0.13" stroke-width="0.8" fill="none"/>
<path d="M65.3,231.5V372.5" stroke="#f05a6a" stroke-width="0.9" stroke-dasharray="3,2" fill="none"/>
<path d="M37.5,301.3H96" stroke="#2a5ef0" stroke-width="1.1" fill="none"/>
<path d="M33.5,235.6 L35,236.5 L36.5,237.4 L38,238.3 L39.6,239.3 L41.1,240.4 L42.6,241.5 L44.1,242.7 L45.6,244 L47.1,245.4 L48.6,246.9 L50.2,248.5 L51.7,250.3 L53.2,252.2 L54.7,254.3 L56.2,256.7 L57.7,259.4 L59.2,262.4 L60.8,266.1 L62.3,270.8 L63.8,277.4 L65.3,301.3" stroke="#3cc84a" stroke-width="1.1" fill="none"/>
<path d="M65.3,301.3 L65.3,296.5 L67,288.8 L68.6,286.6 L70.3,285.2 L71.9,284.1 L73.6,283.3 L75.2,282.6 L76.9,282 L78.5,281.5 L80.2,281 L81.8,280.6 L83.5,280.3 L85.1,279.9 L86.8,279.7 L88.4,279.4 L90.1,279.1 L91.7,278.9 L93.4,278.7 L95,278.5 L96.7,278.3 L98.3,278.2 L100,278" stroke="#3cc84a" stroke-width="1.1" fill="none"/>
<path d="M33.5,367 L35,366.1 L36.5,365.2 L38,364.3 L39.6,363.3 L41.1,362.2 L42.6,361.1 L44.1,359.9 L45.6,358.6 L47.1,357.2 L48.6,355.7 L50.2,354.1 L51.7,352.3 L53.2,350.4 L54.7,348.3 L56.2,345.9 L57.7,343.2 L59.2,340.2 L60.8,336.5 L62.3,331.8 L63.8,325.2 L65.3,301.3" stroke="#fb8a2a" stroke-width="1.1" fill="none"/>
<path d="M65.3,301.3 L65.3,306.1 L67,313.8 L68.6,316 L70.3,317.4 L71.9,318.5 L73.6,319.3 L75.2,320 L76.9,320.6 L78.5,321.1 L80.2,321.6 L81.8,322 L83.5,322.3 L85.1,322.7 L86.8,322.9 L88.4,323.2 L90.1,323.5 L91.7,323.7 L93.4,323.9 L95,324.1 L96.7,324.3 L98.3,324.4 L100,324.6" stroke="#fb8a2a" stroke-width="1.1" fill="none"/>
<rect x="47.8" y="246.1" width="2.4" height="2.4" fill="#fff" fill-opacity=".5" stroke="#3cc84a" stroke-width="0.75"/>
<rect x="47.8" y="354.1" width="2.4" height="2.4" fill="#fff" fill-opacity=".5" stroke="#fb8a2a" stroke-width="0.75"/>
<path d="M47.5,301.3H50.5M47.5,300.3v2M50.5,300.3v2" stroke="#2a5ef0" stroke-width="0.75" fill="none"/><circle cx="49" cy="301.3" r="1.3" fill="#fff" fill-opacity=".5" stroke="#2a5ef0" stroke-width="0.75"/>
<path d="M79.3,280.5H85.3M79.3,279.5v2M85.3,279.5v2" stroke="#3cc84a" stroke-width="0.75" fill="none"/><rect x="81.1" y="279.3" width="2.4" height="2.4" fill="#fff" fill-opacity=".5" stroke="#3cc84a" stroke-width="0.75"/>
<path d="M79.3,322.1H85.3M79.3,321.1v2M85.3,321.1v2" stroke="#fb8a2a" stroke-width="0.75" fill="none"/><rect x="81.1" y="320.9" width="2.4" height="2.4" fill="#fff" fill-opacity=".5" stroke="#fb8a2a" stroke-width="0.75"/>
<path d="M79.3,301.3H85.3M79.3,300.3v2M85.3,300.3v2" stroke="#2a5ef0" stroke-width="0.75" fill="none"/><circle cx="82.3" cy="301.3" r="1.3" fill="#fff" fill-opacity=".5" stroke="#2a5ef0" stroke-width="0.75"/>
<path d="M63.3,301.3H67.3M63.3,300.3v2M67.3,300.3v2" stroke="#2a5ef0" stroke-width="0.75" fill="none"/><circle cx="65.3" cy="301.3" r="1.3" fill="#fff" fill-opacity=".5" stroke="#2a5ef0" stroke-width="0.75"/>
<path d="M64.4,289.2H67.4M64.4,288.2v2M67.4,288.2v2M65.9,283.2V295.2M64.9,283.2h2M64.9,295.2h2" stroke="#3cc84a" stroke-width="0.75" fill="none"/><rect x="64.7" y="288" width="2.4" height="2.4" fill="#fff" fill-opacity=".5" stroke="#3cc84a" stroke-width="0.75"/>
<path d="M64.4,313.4H67.4M64.4,312.4v2M67.4,312.4v2M65.9,307.4V319.4M64.9,307.4h2M64.9,319.4h2" stroke="#fb8a2a" stroke-width="0.75" fill="none"/><rect x="64.7" y="312.2" width="2.4" height="2.4" fill="#fff" fill-opacity=".5" stroke="#fb8a2a" stroke-width="0.75"/>
</g>
<path d="M51.5,231.5v2.5M51.5,372.5v-2.5M71.5,231.5v2.5M71.5,372.5v-2.5M91.5,231.5v2.5M91.5,372.5v-2.5M37.5,361.8h2.5M96,361.8h-2.5M37.5,346.7h2.5M96,346.7h-2.5M37.5,331.5h2.5M96,331.5h-2.5M37.5,316.4h2.5M96,316.4h-2.5M37.5,301.3h2.5M96,301.3h-2.5M37.5,286.2h2.5M96,286.2h-2.5M37.5,271.1h2.5M96,271.1h-2.5M37.5,255.9h2.5M96,255.9h-2.5M37.5,240.8h2.5M96,240.8h-2.5" stroke="#333" stroke-width="0.8" fill="none"/>
<rect x="37.5" y="231.5" width="58.5" height="141" fill="none" stroke="#3a3a3a" stroke-width="1"/>
<g clip-path="url(#ce0)">
<rect x="37.5" y="382.5" width="58.5" height="140.5" fill="#fff"/>
<path d="M51.5,382.5V523M71.5,382.5V523M91.5,382.5V523M37.5,389.2H96M37.5,407.3H96M37.5,425.3H96M37.5,443.4H96M37.5,461.4H96M37.5,479.5H96M37.5,497.6H96M37.5,515.6H96" stroke="#000" stroke-opacity="0.13" stroke-width="0.8" fill="none"/>
<path d="M65.3,382.5V523" stroke="#f05a6a" stroke-width="0.9" stroke-dasharray="3,2" fill="none"/>
<path d="M33.5,392.5 L35,393.4 L36.5,394.3 L38,395.2 L39.6,396.1 L41.1,397 L42.6,397.9 L44.1,398.8 L45.6,399.7 L47.1,400.7 L48.6,401.6 L50.2,402.5 L51.7,403.4 L53.2,404.3 L54.7,405.2 L56.2,406.1 L57.7,407 L59.2,407.9 L60.8,408.9 L62.3,409.8 L63.8,410.7 L65.3,411.6" stroke="#fb8a2a" stroke-width="1.1" fill="none"/>
<path d="M33.5,392.5 L35,393.4 L36.5,394.3 L38,395.2 L39.6,396.1 L41.1,397 L42.6,397.9 L44.1,398.8 L45.6,399.7 L47.1,400.7 L48.6,401.6 L50.2,402.5 L51.7,403.4 L53.2,404.3 L54.7,405.2 L56.2,406.1 L57.7,407 L59.2,407.9 L60.8,408.9 L62.3,409.8 L63.8,410.7 L65.3,411.6" stroke="#3cc84a" stroke-width="1.1" stroke-dasharray="3,3" fill="none"/>
<path d="M33.5,404.4 L35,405.3 L36.5,406.2 L38,407.1 L39.6,408 L41.1,408.9 L42.6,409.8 L44.1,410.8 L45.6,411.7 L47.1,412.6 L48.6,413.5 L50.2,414.4 L51.7,415.3 L53.2,416.2 L54.7,417.1 L56.2,418 L57.7,419 L59.2,419.9 L60.8,420.8 L62.3,421.7 L63.8,422.6 L65.3,423.5" stroke="#2a5ef0" stroke-width="1.1" stroke-dasharray="3,2" fill="none"/>
<path d="M65.3,411.6 L65.3,413.9 L67,405.1 L68.6,401.4 L70.3,398.8 L71.9,396.8 L73.6,395.1 L75.2,393.7 L76.9,392.5 L78.5,391.4 L80.2,390.5 L81.8,389.6 L83.5,388.9 L85.1,388.2 L86.8,387.6 L88.4,387 L90.1,386.5 L91.7,386.1 L93.4,385.7 L95,385.3 L96.7,385 L98.3,384.7 L100,384.4" stroke="#3cc84a" stroke-width="1.1" stroke-dasharray="3,2" fill="none"/>
<path d="M65.3,423.5 L65.3,416.4 L67,422.3 L68.6,425.6 L70.3,428.4 L71.9,430.9 L73.6,433.3 L75.2,435.5 L76.9,437.6 L78.5,439.6 L80.2,441.6 L81.8,443.5 L83.5,445.4 L85.1,447.2 L86.8,449 L88.4,450.7 L90.1,452.5 L91.7,454.2 L93.4,455.9 L95,457.6 L96.7,459.2 L98.3,460.8 L100,462.5" stroke="#fb8a2a" stroke-width="1.1" fill="none"/>
<path d="M65.3,423.5 L65.3,416.4 L67,422.3 L68.6,425.6 L70.3,428.4 L71.9,430.9 L73.6,433.3 L75.2,435.5 L76.9,437.6 L78.5,439.6 L80.2,441.6 L81.8,443.5 L83.5,445.4 L85.1,447.2 L86.8,449 L88.4,450.7 L90.1,452.5 L91.7,454.2 L93.4,455.9 L95,457.6 L96.7,459.2 L98.3,460.8 L100,462.5" stroke="#2a5ef0" stroke-width="1.1" stroke-dasharray="3,3" fill="none"/>
<path d="M65.3,411.6L65.3,423.5" stroke="#fb8a2a" stroke-width="1.1"/>
<rect x="47.8" y="400.6" width="2.4" height="2.4" fill="#fff" fill-opacity=".5" stroke="#3cc84a" stroke-width="0.75"/>
<circle cx="49" cy="413.7" r="1.3" fill="#fff" fill-opacity=".5" stroke="#2a5ef0" stroke-width="0.75"/>
<path d="M63.3,411.6H67.3M63.3,410.6v2M67.3,410.6v2M65.3,407.6V415.6M64.3,407.6h2M64.3,415.6h2" stroke="#3cc84a" stroke-width="0.75" fill="none"/><rect x="64.1" y="410.4" width="2.4" height="2.4" fill="#fff" fill-opacity=".5" stroke="#3cc84a" stroke-width="0.75"/>
<path d="M62.8,423.5H67.8M62.8,422.5v2M67.8,422.5v2M65.3,421.5V425.5M64.3,421.5h2M64.3,425.5h2" stroke="#2a5ef0" stroke-width="0.75" fill="none"/><circle cx="65.3" cy="423.5" r="1.3" fill="#fff" fill-opacity=".5" stroke="#2a5ef0" stroke-width="0.75"/>
<path d="M78.8,389.4H85.8M78.8,388.4v2M85.8,388.4v2M82.3,385.4V393.4M81.3,385.4h2M81.3,393.4h2" stroke="#3cc84a" stroke-width="0.75" fill="none"/><rect x="81.1" y="388.2" width="2.4" height="2.4" fill="#fff" fill-opacity=".5" stroke="#3cc84a" stroke-width="0.75"/>
<path d="M80.3,444H84.3M80.3,443v2M84.3,443v2M82.3,442.5V445.5M81.3,442.5h2M81.3,445.5h2" stroke="#fb8a2a" stroke-width="0.75" fill="none"/><rect x="81.1" y="442.8" width="2.4" height="2.4" fill="#fff" fill-opacity=".5" stroke="#fb8a2a" stroke-width="0.75"/>
</g>
<path d="M51.5,382.5v2.5M51.5,523v-2.5M71.5,382.5v2.5M71.5,523v-2.5M91.5,382.5v2.5M91.5,523v-2.5M37.5,389.2h2.5M96,389.2h-2.5M37.5,407.3h2.5M96,407.3h-2.5M37.5,425.3h2.5M96,425.3h-2.5M37.5,443.4h2.5M96,443.4h-2.5M37.5,461.4h2.5M96,461.4h-2.5M37.5,479.5h2.5M96,479.5h-2.5M37.5,497.6h2.5M96,497.6h-2.5M37.5,515.6h2.5M96,515.6h-2.5" stroke="#333" stroke-width="0.8" fill="none"/>
<rect x="37.5" y="382.5" width="58.5" height="140.5" fill="none" stroke="#3a3a3a" stroke-width="1"/>
<text x="66.8" y="228.9" font-size="12" text-anchor="middle" fill="#ec1c2a" stroke="#ec1c2a">α=0</text>
<text x="51.5" y="534" font-size="12.3" text-anchor="middle" fill="#1e1e1e" stroke="#1e1e1e">3</text>
<text x="71.5" y="534" font-size="12.3" text-anchor="middle" fill="#1e1e1e" stroke="#1e1e1e">4</text>
<text x="91.5" y="534" font-size="12.3" text-anchor="middle" fill="#1e1e1e" stroke="#1e1e1e">5</text>
<g clip-path="url(#cd1)">
<rect x="98" y="231.5" width="58.5" height="141" fill="#fff"/>
<rect x="120.1" y="231.5" width="7.3" height="141" fill="#f9e0e3"/>
<path d="M109,231.5V372.5M126,231.5V372.5M143,231.5V372.5M98,361.8H156.5M98,346.7H156.5M98,331.5H156.5M98,316.4H156.5M98,301.3H156.5M98,286.2H156.5M98,271.1H156.5M98,255.9H156.5M98,240.8H156.5" stroke="#000" stroke-opacity="0.13" stroke-width="0.8" fill="none"/>
<path d="M120.1,231.5V372.5" stroke="#f05a6a" stroke-width="0.9" stroke-dasharray="3,2" fill="none"/>
<path d="M98,301.3H156.5" stroke="#2a5ef0" stroke-width="1.1" fill="none"/>
<path d="M94.6,234.1 L96.2,234.9 L97.7,235.8 L99.3,236.7 L100.8,237.7 L102.4,238.8 L104,239.9 L105.5,241.1 L107.1,242.4 L108.7,243.8 L110.2,245.3 L111.8,247 L113.3,248.8 L114.9,250.7 L116.5,252.9 L118,255.3 L119.6,258 L121.2,261.2 L122.7,265 L124.3,269.8 L125.8,276.6 L127.4,301.3" stroke="#3cc84a" stroke-width="1.1" fill="none"/>
<path d="M127.4,301.3 L127.4,296.5 L129,288.8 L130.5,286.6 L132.1,285.2 L133.6,284.1 L135.2,283.3 L136.7,282.6 L138.3,282 L139.8,281.5 L141.3,281 L142.9,280.6 L144.4,280.3 L146,280 L147.5,279.7 L149.1,279.4 L150.6,279.2 L152.2,278.9 L153.7,278.7 L155.3,278.5 L156.8,278.3 L158.4,278.2 L159.9,278" stroke="#3cc84a" stroke-width="1.1" fill="none"/>
<path d="M94.6,368.5 L96.2,367.7 L97.7,366.8 L99.3,365.9 L100.8,364.9 L102.4,363.8 L104,362.7 L105.5,361.5 L107.1,360.2 L108.7,358.8 L110.2,357.3 L111.8,355.6 L113.3,353.8 L114.9,351.9 L116.5,349.7 L118,347.3 L119.6,344.6 L121.2,341.4 L122.7,337.6 L124.3,332.8 L125.8,326 L127.4,301.3" stroke="#fb8a2a" stroke-width="1.1" fill="none"/>
<path d="M127.4,301.3 L127.4,306.1 L129,313.8 L130.5,316 L132.1,317.4 L133.6,318.5 L135.2,319.3 L136.7,320 L138.3,320.6 L139.8,321.1 L141.3,321.6 L142.9,322 L144.4,322.3 L146,322.6 L147.5,322.9 L149.1,323.2 L150.6,323.4 L152.2,323.7 L153.7,323.9 L155.3,324.1 L156.8,324.3 L158.4,324.4 L159.9,324.6" stroke="#fb8a2a" stroke-width="1.1" fill="none"/>
<path d="M105.1,244.6H113.9M105.1,243.6v2M113.9,243.6v2M109.5,238.8V250.4M108.5,238.8h2M108.5,250.4h2" stroke="#3cc84a" stroke-width="0.75" fill="none"/><rect x="108.3" y="243.4" width="2.4" height="2.4" fill="#fff" fill-opacity=".5" stroke="#3cc84a" stroke-width="0.75"/>
<path d="M105.1,358H113.9M105.1,357v2M113.9,357v2M109.5,352.2V363.8M108.5,352.2h2M108.5,363.8h2" stroke="#fb8a2a" stroke-width="0.75" fill="none"/><rect x="108.3" y="356.8" width="2.4" height="2.4" fill="#fff" fill-opacity=".5" stroke="#fb8a2a" stroke-width="0.75"/>
<path d="M108,301.3H111M108,300.3v2M111,300.3v2" stroke="#2a5ef0" stroke-width="0.75" fill="none"/><circle cx="109.5" cy="301.3" r="1.3" fill="#fff" fill-opacity=".5" stroke="#2a5ef0" stroke-width="0.75"/>
<path d="M141.4,280.3H147.4M141.4,279.3v2M147.4,279.3v2" stroke="#3cc84a" stroke-width="0.75" fill="none"/><rect x="143.2" y="279.1" width="2.4" height="2.4" fill="#fff" fill-opacity=".5" stroke="#3cc84a" stroke-width="0.75"/>
<path d="M141.4,322.3H147.4M141.4,321.3v2M147.4,321.3v2" stroke="#fb8a2a" stroke-width="0.75" fill="none"/><rect x="143.2" y="321.1" width="2.4" height="2.4" fill="#fff" fill-opacity=".5" stroke="#fb8a2a" stroke-width="0.75"/>
<path d="M141.4,301.3H147.4M141.4,300.3v2M147.4,300.3v2" stroke="#2a5ef0" stroke-width="0.75" fill="none"/><circle cx="144.4" cy="301.3" r="1.3" fill="#fff" fill-opacity=".5" stroke="#2a5ef0" stroke-width="0.75"/>
<path d="M125.4,301.3H129.4M125.4,300.3v2M129.4,300.3v2" stroke="#2a5ef0" stroke-width="0.75" fill="none"/><circle cx="127.4" cy="301.3" r="1.3" fill="#fff" fill-opacity=".5" stroke="#2a5ef0" stroke-width="0.75"/>
<path d="M126.5,285.4H129.5M126.5,284.4v2M129.5,284.4v2M128,279.4V291.4M127,279.4h2M127,291.4h2" stroke="#3cc84a" stroke-width="0.75" fill="none"/><rect x="126.8" y="284.2" width="2.4" height="2.4" fill="#fff" fill-opacity=".5" stroke="#3cc84a" stroke-width="0.75"/>
<path d="M126.5,317.2H129.5M126.5,316.2v2M129.5,316.2v2M128,311.2V323.2M127,311.2h2M127,323.2h2" stroke="#fb8a2a" stroke-width="0.75" fill="none"/><rect x="126.8" y="316" width="2.4" height="2.4" fill="#fff" fill-opacity=".5" stroke="#fb8a2a" stroke-width="0.75"/>
</g>
<path d="M109,231.5v2.5M109,372.5v-2.5M126,231.5v2.5M126,372.5v-2.5M143,231.5v2.5M143,372.5v-2.5M98,361.8h2.5M156.5,361.8h-2.5M98,346.7h2.5M156.5,346.7h-2.5M98,331.5h2.5M156.5,331.5h-2.5M98,316.4h2.5M156.5,316.4h-2.5M98,301.3h2.5M156.5,301.3h-2.5M98,286.2h2.5M156.5,286.2h-2.5M98,271.1h2.5M156.5,271.1h-2.5M98,255.9h2.5M156.5,255.9h-2.5M98,240.8h2.5M156.5,240.8h-2.5" stroke="#333" stroke-width="0.8" fill="none"/>
<rect x="98" y="231.5" width="58.5" height="141" fill="none" stroke="#3a3a3a" stroke-width="1"/>
<g clip-path="url(#ce1)">
<rect x="98" y="382.5" width="58.5" height="140.5" fill="#fff"/>
<rect x="120.1" y="382.5" width="7.3" height="140.5" fill="#f9e0e3"/>
<path d="M109,382.5V523M126,382.5V523M143,382.5V523M98,389.2H156.5M98,407.3H156.5M98,425.3H156.5M98,443.4H156.5M98,461.4H156.5M98,479.5H156.5M98,497.6H156.5M98,515.6H156.5" stroke="#000" stroke-opacity="0.13" stroke-width="0.8" fill="none"/>
<path d="M120.1,382.5V523" stroke="#f05a6a" stroke-width="0.9" stroke-dasharray="3,2" fill="none"/>
<path d="M94.6,394.4 L96.2,395.6 L97.7,396.7 L99.3,397.9 L100.8,399 L102.4,400.2 L104,401.4 L105.5,402.5 L107.1,403.7 L108.7,404.8 L110.2,406 L111.8,407.2 L113.3,408.3 L114.9,409.5 L116.5,410.7 L118,411.8 L119.6,413 L121.2,414.1 L122.7,415.3 L124.3,416.5 L125.8,417.6 L127.4,418.8" stroke="#fb8a2a" stroke-width="1.1" fill="none"/>
<path d="M94.6,394.4 L96.2,395.6 L97.7,396.7 L99.3,397.9 L100.8,399 L102.4,400.2 L104,401.4 L105.5,402.5 L107.1,403.7 L108.7,404.8 L110.2,406 L111.8,407.2 L113.3,408.3 L114.9,409.5 L116.5,410.7 L118,411.8 L119.6,413 L121.2,414.1 L122.7,415.3 L124.3,416.5 L125.8,417.6 L127.4,418.8" stroke="#3cc84a" stroke-width="1.1" stroke-dasharray="3,3" fill="none"/>
<path d="M94.6,406.3 L96.2,407.5 L97.7,408.6 L99.3,409.8 L100.8,411 L102.4,412.1 L104,413.3 L105.5,414.4 L107.1,415.6 L108.7,416.8 L110.2,417.9 L111.8,419.1 L113.3,420.2 L114.9,421.4 L116.5,422.6 L118,423.7 L119.6,424.9 L121.2,426.1 L122.7,427.2 L124.3,428.4 L125.8,429.5 L127.4,430.7" stroke="#2a5ef0" stroke-width="1.1" stroke-dasharray="3,2" fill="none"/>
<path d="M127.4,418.8 L127.4,421.1 L129,412.5 L130.5,409 L132.1,406.6 L133.6,404.7 L135.2,403.2 L136.7,401.9 L138.3,400.8 L139.8,399.9 L141.3,399.1 L142.9,398.4 L144.4,397.8 L146,397.3 L147.5,396.9 L149.1,396.5 L150.6,396.2 L152.2,395.9 L153.7,395.6 L155.3,395.4 L156.8,395.3 L158.4,395.1 L159.9,395" stroke="#3cc84a" stroke-width="1.1" stroke-dasharray="3,2" fill="none"/>
<path d="M127.4,430.7 L127.4,423.6 L129,429.7 L130.5,433.1 L132.1,436.1 L133.6,438.7 L135.2,441.2 L136.7,443.6 L138.3,445.8 L139.8,448 L141.3,450.1 L142.9,452.2 L144.4,454.2 L146,456.2 L147.5,458.2 L149.1,460.1 L150.6,462 L152.2,463.8 L153.7,465.7 L155.3,467.5 L156.8,469.3 L158.4,471.1 L159.9,472.9" stroke="#fb8a2a" stroke-width="1.1" fill="none"/>
<path d="M127.4,430.7 L127.4,423.6 L129,429.7 L130.5,433.1 L132.1,436.1 L133.6,438.7 L135.2,441.2 L136.7,443.6 L138.3,445.8 L139.8,448 L141.3,450.1 L142.9,452.2 L144.4,454.2 L146,456.2 L147.5,458.2 L149.1,460.1 L150.6,462 L152.2,463.8 L153.7,465.7 L155.3,467.5 L156.8,469.3 L158.4,471.1 L159.9,472.9" stroke="#2a5ef0" stroke-width="1.1" stroke-dasharray="3,3" fill="none"/>
<path d="M127.4,418.8L127.4,430.7" stroke="#fb8a2a" stroke-width="1.1"/>
<path d="M106.5,405.5H112.5M106.5,404.5v2M112.5,404.5v2M109.5,402.5V408.5M108.5,402.5h2M108.5,408.5h2" stroke="#3cc84a" stroke-width="0.75" fill="none"/><rect x="108.3" y="404.3" width="2.4" height="2.4" fill="#fff" fill-opacity=".5" stroke="#3cc84a" stroke-width="0.75"/>
<path d="M106.5,417.4H112.5M106.5,416.4v2M112.5,416.4v2M109.5,414.4V420.4M108.5,414.4h2M108.5,420.4h2" stroke="#2a5ef0" stroke-width="0.75" fill="none"/><circle cx="109.5" cy="417.4" r="1.3" fill="#fff" fill-opacity=".5" stroke="#2a5ef0" stroke-width="0.75"/>
<path d="M125.4,418.8H129.4M125.4,417.8v2M129.4,417.8v2M127.4,414.8V422.8M126.4,414.8h2M126.4,422.8h2" stroke="#3cc84a" stroke-width="0.75" fill="none"/><rect x="126.2" y="417.6" width="2.4" height="2.4" fill="#fff" fill-opacity=".5" stroke="#3cc84a" stroke-width="0.75"/>
<path d="M124.9,430.7H129.9M124.9,429.7v2M129.9,429.7v2M127.4,428.7V432.7M126.4,428.7h2M126.4,432.7h2" stroke="#2a5ef0" stroke-width="0.75" fill="none"/><circle cx="127.4" cy="430.7" r="1.3" fill="#fff" fill-opacity=".5" stroke="#2a5ef0" stroke-width="0.75"/>
<path d="M140.9,397.9H147.9M140.9,396.9v2M147.9,396.9v2M144.4,393.9V401.9M143.4,393.9h2M143.4,401.9h2" stroke="#3cc84a" stroke-width="0.75" fill="none"/><rect x="143.2" y="396.7" width="2.4" height="2.4" fill="#fff" fill-opacity=".5" stroke="#3cc84a" stroke-width="0.75"/>
<path d="M142.4,454.2H146.4M142.4,453.2v2M146.4,453.2v2M144.4,452.7V455.7M143.4,452.7h2M143.4,455.7h2" stroke="#fb8a2a" stroke-width="0.75" fill="none"/><rect x="143.2" y="453" width="2.4" height="2.4" fill="#fff" fill-opacity=".5" stroke="#fb8a2a" stroke-width="0.75"/>
</g>
<path d="M109,382.5v2.5M109,523v-2.5M126,382.5v2.5M126,523v-2.5M143,382.5v2.5M143,523v-2.5M98,389.2h2.5M156.5,389.2h-2.5M98,407.3h2.5M156.5,407.3h-2.5M98,425.3h2.5M156.5,425.3h-2.5M98,443.4h2.5M156.5,443.4h-2.5M98,461.4h2.5M156.5,461.4h-2.5M98,479.5h2.5M156.5,479.5h-2.5M98,497.6h2.5M156.5,497.6h-2.5M98,515.6h2.5M156.5,515.6h-2.5" stroke="#333" stroke-width="0.8" fill="none"/>
<rect x="98" y="382.5" width="58.5" height="140.5" fill="none" stroke="#3a3a3a" stroke-width="1"/>
<text x="127.2" y="228.9" font-size="12" text-anchor="middle" fill="#ec1c2a" stroke="#ec1c2a">α=0.0502</text>
<text x="109" y="534" font-size="12.3" text-anchor="middle" fill="#1e1e1e" stroke="#1e1e1e">3</text>
<text x="126" y="534" font-size="12.3" text-anchor="middle" fill="#1e1e1e" stroke="#1e1e1e">4</text>
<text x="143" y="534" font-size="12.3" text-anchor="middle" fill="#1e1e1e" stroke="#1e1e1e">5</text>
<g clip-path="url(#cd2)">
<rect x="158.8" y="231.5" width="58.5" height="141" fill="#fff"/>
<rect x="175.1" y="231.5" width="13.9" height="141" fill="#f9e0e3"/>
<path d="M164.6,231.5V372.5M179.7,231.5V372.5M194.7,231.5V372.5M209.8,231.5V372.5M158.8,361.8H217.3M158.8,346.7H217.3M158.8,331.5H217.3M158.8,316.4H217.3M158.8,301.3H217.3M158.8,286.2H217.3M158.8,271.1H217.3M158.8,255.9H217.3M158.8,240.8H217.3" stroke="#000" stroke-opacity="0.13" stroke-width="0.8" fill="none"/>
<path d="M175.1,231.5V372.5" stroke="#f05a6a" stroke-width="0.9" stroke-dasharray="3,2" fill="none"/>
<path d="M158.8,301.3H217.3" stroke="#2a5ef0" stroke-width="1.1" fill="none"/>
<path d="M155.8,233.9 L157.4,234.7 L158.9,235.6 L160.5,236.5 L162.1,237.5 L163.7,238.6 L165.3,239.7 L166.9,240.9 L168.4,242.2 L170,243.7 L171.6,245.2 L173.2,246.8 L174.8,248.6 L176.3,250.6 L177.9,252.7 L179.5,255.1 L181.1,257.9 L182.7,261.1 L184.3,264.9 L185.8,269.7 L187.4,276.6 L189,301.3" stroke="#3cc84a" stroke-width="1.1" fill="none"/>
<path d="M189,301.3 L189,296.5 L190.5,289 L192,286.8 L193.5,285.4 L195,284.3 L196.5,283.5 L198,282.8 L199.5,282.2 L201,281.7 L202.4,281.2 L203.9,280.8 L205.4,280.4 L206.9,280.1 L208.4,279.8 L209.9,279.5 L211.4,279.3 L212.9,279.1 L214.4,278.9 L215.8,278.7 L217.3,278.5 L218.8,278.3 L220.3,278.1" stroke="#3cc84a" stroke-width="1.1" fill="none"/>
<path d="M155.8,368.7 L157.4,367.9 L158.9,367 L160.5,366.1 L162.1,365.1 L163.7,364 L165.3,362.9 L166.9,361.7 L168.4,360.4 L170,358.9 L171.6,357.4 L173.2,355.8 L174.8,354 L176.3,352 L177.9,349.9 L179.5,347.5 L181.1,344.7 L182.7,341.5 L184.3,337.7 L185.8,332.9 L187.4,326 L189,301.3" stroke="#fb8a2a" stroke-width="1.1" fill="none"/>
<path d="M189,301.3 L189,306.1 L190.5,313.6 L192,315.8 L193.5,317.2 L195,318.3 L196.5,319.1 L198,319.8 L199.5,320.4 L201,320.9 L202.4,321.4 L203.9,321.8 L205.4,322.2 L206.9,322.5 L208.4,322.8 L209.9,323.1 L211.4,323.3 L212.9,323.5 L214.4,323.7 L215.8,323.9 L217.3,324.1 L218.8,324.3 L220.3,324.5" stroke="#fb8a2a" stroke-width="1.1" fill="none"/>
<path d="M168.8,243.9H171.8M168.8,242.9v2M171.8,242.9v2M170.3,240.9V246.9M169.3,240.9h2M169.3,246.9h2" stroke="#3cc84a" stroke-width="0.75" fill="none"/><rect x="169.1" y="242.7" width="2.4" height="2.4" fill="#fff" fill-opacity=".5" stroke="#3cc84a" stroke-width="0.75"/>
<path d="M168.8,358.7H171.8M168.8,357.7v2M171.8,357.7v2M170.3,355.7V361.7M169.3,355.7h2M169.3,361.7h2" stroke="#fb8a2a" stroke-width="0.75" fill="none"/><rect x="169.1" y="357.5" width="2.4" height="2.4" fill="#fff" fill-opacity=".5" stroke="#fb8a2a" stroke-width="0.75"/>
<path d="M168.8,301.3H171.8M168.8,300.3v2M171.8,300.3v2" stroke="#2a5ef0" stroke-width="0.75" fill="none"/><circle cx="170.3" cy="301.3" r="1.3" fill="#fff" fill-opacity=".5" stroke="#2a5ef0" stroke-width="0.75"/>
<path d="M203,280.3H209M203,279.3v2M209,279.3v2" stroke="#3cc84a" stroke-width="0.75" fill="none"/><rect x="204.8" y="279.1" width="2.4" height="2.4" fill="#fff" fill-opacity=".5" stroke="#3cc84a" stroke-width="0.75"/>
<path d="M203,322.3H209M203,321.3v2M209,321.3v2" stroke="#fb8a2a" stroke-width="0.75" fill="none"/><rect x="204.8" y="321.1" width="2.4" height="2.4" fill="#fff" fill-opacity=".5" stroke="#fb8a2a" stroke-width="0.75"/>
<path d="M203,301.3H209M203,300.3v2M209,300.3v2" stroke="#2a5ef0" stroke-width="0.75" fill="none"/><circle cx="206" cy="301.3" r="1.3" fill="#fff" fill-opacity=".5" stroke="#2a5ef0" stroke-width="0.75"/>
<path d="M187,301.3H191M187,300.3v2M191,300.3v2" stroke="#2a5ef0" stroke-width="0.75" fill="none"/><circle cx="189" cy="301.3" r="1.3" fill="#fff" fill-opacity=".5" stroke="#2a5ef0" stroke-width="0.75"/>
<path d="M188.1,281.6H191.1M188.1,280.6v2M191.1,280.6v2M189.6,275.6V287.6M188.6,275.6h2M188.6,287.6h2" stroke="#3cc84a" stroke-width="0.75" fill="none"/><rect x="188.4" y="280.4" width="2.4" height="2.4" fill="#fff" fill-opacity=".5" stroke="#3cc84a" stroke-width="0.75"/>
<path d="M188.1,313.4H191.1M188.1,312.4v2M191.1,312.4v2M189.6,307.4V319.4M188.6,307.4h2M188.6,319.4h2" stroke="#fb8a2a" stroke-width="0.75" fill="none"/><rect x="188.4" y="312.2" width="2.4" height="2.4" fill="#fff" fill-opacity=".5" stroke="#fb8a2a" stroke-width="0.75"/>
</g>
<path d="M164.6,231.5v2.5M164.6,372.5v-2.5M179.7,231.5v2.5M179.7,372.5v-2.5M194.7,231.5v2.5M194.7,372.5v-2.5M209.8,231.5v2.5M209.8,372.5v-2.5M158.8,361.8h2.5M217.3,361.8h-2.5M158.8,346.7h2.5M217.3,346.7h-2.5M158.8,331.5h2.5M217.3,331.5h-2.5M158.8,316.4h2.5M217.3,316.4h-2.5M158.8,301.3h2.5M217.3,301.3h-2.5M158.8,286.2h2.5M217.3,286.2h-2.5M158.8,271.1h2.5M217.3,271.1h-2.5M158.8,255.9h2.5M217.3,255.9h-2.5M158.8,240.8h2.5M217.3,240.8h-2.5" stroke="#333" stroke-width="0.8" fill="none"/>
<rect x="158.8" y="231.5" width="58.5" height="141" fill="none" stroke="#3a3a3a" stroke-width="1"/>
<g clip-path="url(#ce2)">
<rect x="158.8" y="382.5" width="58.5" height="140.5" fill="#fff"/>
<rect x="175.1" y="382.5" width="13.9" height="140.5" fill="#f9e0e3"/>
<path d="M164.6,382.5V523M179.7,382.5V523M194.7,382.5V523M209.8,382.5V523M158.8,389.2H217.3M158.8,407.3H217.3M158.8,425.3H217.3M158.8,443.4H217.3M158.8,461.4H217.3M158.8,479.5H217.3M158.8,497.6H217.3M158.8,515.6H217.3" stroke="#000" stroke-opacity="0.13" stroke-width="0.8" fill="none"/>
<path d="M175.1,382.5V523" stroke="#f05a6a" stroke-width="0.9" stroke-dasharray="3,2" fill="none"/>
<path d="M155.8,399.2 L157.4,400.6 L158.9,402 L160.5,403.4 L162.1,404.7 L163.7,406.1 L165.3,407.5 L166.9,408.9 L168.4,410.3 L170,411.7 L171.6,413.1 L173.2,414.5 L174.8,415.9 L176.3,417.3 L177.9,418.7 L179.5,420 L181.1,421.4 L182.7,422.8 L184.3,424.2 L185.8,425.6 L187.4,427 L189,428.4" stroke="#fb8a2a" stroke-width="1.1" fill="none"/>
<path d="M155.8,399.2 L157.4,400.6 L158.9,402 L160.5,403.4 L162.1,404.7 L163.7,406.1 L165.3,407.5 L166.9,408.9 L168.4,410.3 L170,411.7 L171.6,413.1 L173.2,414.5 L174.8,415.9 L176.3,417.3 L177.9,418.7 L179.5,420 L181.1,421.4 L182.7,422.8 L184.3,424.2 L185.8,425.6 L187.4,427 L189,428.4" stroke="#3cc84a" stroke-width="1.1" stroke-dasharray="3,3" fill="none"/>
<path d="M155.8,411.1 L157.4,412.5 L158.9,413.9 L160.5,415.3 L162.1,416.7 L163.7,418.1 L165.3,419.4 L166.9,420.8 L168.4,422.2 L170,423.6 L171.6,425 L173.2,426.4 L174.8,427.8 L176.3,429.2 L177.9,430.6 L179.5,432 L181.1,433.4 L182.7,434.7 L184.3,436.1 L185.8,437.5 L187.4,438.9 L189,440.3" stroke="#2a5ef0" stroke-width="1.1" stroke-dasharray="3,2" fill="none"/>
<path d="M189,428.4 L189,430.7 L190.5,422.5 L192,419.2 L193.5,417 L195,415.4 L196.5,414.1 L198,413 L199.5,412.2 L201,411.4 L202.4,410.9 L203.9,410.4 L205.4,410 L206.9,409.6 L208.4,409.4 L209.9,409.2 L211.4,409 L212.9,408.9 L214.4,408.9 L215.8,408.9 L217.3,408.9 L218.8,408.9 L220.3,409" stroke="#3cc84a" stroke-width="1.1" stroke-dasharray="3,2" fill="none"/>
<path d="M189,440.3 L189,433.2 L190.5,439.3 L192,442.9 L193.5,446 L195,448.8 L196.5,451.4 L198,453.9 L199.5,456.3 L201,458.6 L202.4,460.9 L203.9,463.1 L205.4,465.2 L206.9,467.4 L208.4,469.4 L209.9,471.5 L211.4,473.6 L212.9,475.6 L214.4,477.6 L215.8,479.5 L217.3,481.5 L218.8,483.4 L220.3,485.3" stroke="#fb8a2a" stroke-width="1.1" fill="none"/>
<path d="M189,440.3 L189,433.2 L190.5,439.3 L192,442.9 L193.5,446 L195,448.8 L196.5,451.4 L198,453.9 L199.5,456.3 L201,458.6 L202.4,460.9 L203.9,463.1 L205.4,465.2 L206.9,467.4 L208.4,469.4 L209.9,471.5 L211.4,473.6 L212.9,475.6 L214.4,477.6 L215.8,479.5 L217.3,481.5 L218.8,483.4 L220.3,485.3" stroke="#2a5ef0" stroke-width="1.1" stroke-dasharray="3,3" fill="none"/>
<path d="M189,428.4L189,440.3" stroke="#fb8a2a" stroke-width="1.1"/>
<path d="M168.8,411.9H171.8M168.8,410.9v2M171.8,410.9v2M170.3,410.4V413.4M169.3,410.4h2M169.3,413.4h2" stroke="#3cc84a" stroke-width="0.75" fill="none"/><rect x="169.1" y="410.7" width="2.4" height="2.4" fill="#fff" fill-opacity=".5" stroke="#3cc84a" stroke-width="0.75"/>
<path d="M168.8,423.9H171.8M168.8,422.9v2M171.8,422.9v2M170.3,422.4V425.4M169.3,422.4h2M169.3,425.4h2" stroke="#2a5ef0" stroke-width="0.75" fill="none"/><circle cx="170.3" cy="423.9" r="1.3" fill="#fff" fill-opacity=".5" stroke="#2a5ef0" stroke-width="0.75"/>
<path d="M187,428.4H191M187,427.4v2M191,427.4v2M189,424.4V432.4M188,424.4h2M188,432.4h2" stroke="#3cc84a" stroke-width="0.75" fill="none"/><rect x="187.8" y="427.2" width="2.4" height="2.4" fill="#fff" fill-opacity=".5" stroke="#3cc84a" stroke-width="0.75"/>
<path d="M186.5,440.3H191.5M186.5,439.3v2M191.5,439.3v2M189,438.3V442.3M188,438.3h2M188,442.3h2" stroke="#2a5ef0" stroke-width="0.75" fill="none"/><circle cx="189" cy="440.3" r="1.3" fill="#fff" fill-opacity=".5" stroke="#2a5ef0" stroke-width="0.75"/>
<path d="M202.5,409.8H209.5M202.5,408.8v2M209.5,408.8v2M206,405.8V413.8M205,405.8h2M205,413.8h2" stroke="#3cc84a" stroke-width="0.75" fill="none"/><rect x="204.8" y="408.6" width="2.4" height="2.4" fill="#fff" fill-opacity=".5" stroke="#3cc84a" stroke-width="0.75"/>
<path d="M204,466.1H208M204,465.1v2M208,465.1v2M206,464.6V467.6M205,464.6h2M205,467.6h2" stroke="#fb8a2a" stroke-width="0.75" fill="none"/><rect x="204.8" y="464.9" width="2.4" height="2.4" fill="#fff" fill-opacity=".5" stroke="#fb8a2a" stroke-width="0.75"/>
</g>
<path d="M164.6,382.5v2.5M164.6,523v-2.5M179.7,382.5v2.5M179.7,523v-2.5M194.7,382.5v2.5M194.7,523v-2.5M209.8,382.5v2.5M209.8,523v-2.5M158.8,389.2h2.5M217.3,389.2h-2.5M158.8,407.3h2.5M217.3,407.3h-2.5M158.8,425.3h2.5M217.3,425.3h-2.5M158.8,443.4h2.5M217.3,443.4h-2.5M158.8,461.4h2.5M217.3,461.4h-2.5M158.8,479.5h2.5M217.3,479.5h-2.5M158.8,497.6h2.5M217.3,497.6h-2.5M158.8,515.6h2.5M217.3,515.6h-2.5" stroke="#333" stroke-width="0.8" fill="none"/>
<rect x="158.8" y="382.5" width="58.5" height="140.5" fill="none" stroke="#3a3a3a" stroke-width="1"/>
<text x="188.1" y="228.9" font-size="12" text-anchor="middle" fill="#ec1c2a" stroke="#ec1c2a">α=0.1009</text>
<text x="164.6" y="534" font-size="12.3" text-anchor="middle" fill="#1e1e1e" stroke="#1e1e1e">3</text>
<text x="179.7" y="534" font-size="12.3" text-anchor="middle" fill="#1e1e1e" stroke="#1e1e1e">4</text>
<text x="194.7" y="534" font-size="12.3" text-anchor="middle" fill="#1e1e1e" stroke="#1e1e1e">5</text>
<text x="209.8" y="534" font-size="12.3" text-anchor="middle" fill="#1e1e1e" stroke="#1e1e1e">6</text>
<g clip-path="url(#cd3)">
<rect x="219.5" y="231.5" width="58.5" height="141" fill="#fff"/>
<rect x="227.3" y="231.5" width="20.6" height="141" fill="#f9e0e3"/>
<path d="M231.4,231.5V372.5M244.7,231.5V372.5M258.1,231.5V372.5M271.4,231.5V372.5M219.5,361.8H278M219.5,346.7H278M219.5,331.5H278M219.5,316.4H278M219.5,301.3H278M219.5,286.2H278M219.5,271.1H278M219.5,255.9H278M219.5,240.8H278" stroke="#000" stroke-opacity="0.13" stroke-width="0.8" fill="none"/>
<path d="M227.3,231.5V372.5" stroke="#f05a6a" stroke-width="0.9" stroke-dasharray="3,2" fill="none"/>
<path d="M219.5,301.3H278" stroke="#2a5ef0" stroke-width="1.1" fill="none"/>
<path d="M216.8,235.1 L218.3,235.9 L219.8,236.8 L221.3,237.8 L222.8,238.8 L224.2,239.8 L225.7,241 L227.2,242.2 L228.7,243.5 L230.1,244.9 L231.6,246.4 L233.1,248 L234.6,249.8 L236.1,251.7 L237.5,253.8 L239,256.2 L240.5,258.9 L242,262 L243.5,265.7 L244.9,270.4 L246.4,277.2 L247.9,301.3" stroke="#3cc84a" stroke-width="1.1" fill="none"/>
<path d="M247.9,301.3 L247.9,296.5 L249.5,288.8 L251.1,286.6 L252.6,285.2 L254.2,284.1 L255.7,283.3 L257.3,282.6 L258.8,282 L260.4,281.5 L262,281 L263.5,280.6 L265.1,280.3 L266.6,280 L268.2,279.7 L269.8,279.4 L271.3,279.1 L272.9,278.9 L274.4,278.7 L276,278.5 L277.5,278.3 L279.1,278.2 L280.7,278" stroke="#3cc84a" stroke-width="1.1" fill="none"/>
<path d="M216.8,367.5 L218.3,366.7 L219.8,365.8 L221.3,364.8 L222.8,363.8 L224.2,362.8 L225.7,361.6 L227.2,360.4 L228.7,359.1 L230.1,357.7 L231.6,356.2 L233.1,354.6 L234.6,352.8 L236.1,350.9 L237.5,348.8 L239,346.4 L240.5,343.7 L242,340.6 L243.5,336.9 L244.9,332.2 L246.4,325.4 L247.9,301.3" stroke="#fb8a2a" stroke-width="1.1" fill="none"/>
<path d="M247.9,301.3 L247.9,306.1 L249.5,313.8 L251.1,316 L252.6,317.4 L254.2,318.5 L255.7,319.3 L257.3,320 L258.8,320.6 L260.4,321.1 L262,321.6 L263.5,322 L265.1,322.3 L266.6,322.6 L268.2,322.9 L269.8,323.2 L271.3,323.5 L272.9,323.7 L274.4,323.9 L276,324.1 L277.5,324.3 L279.1,324.4 L280.7,324.6" stroke="#fb8a2a" stroke-width="1.1" fill="none"/>
<path d="M229.5,245.7H232.5M229.5,244.7v2M232.5,244.7v2M231,242.7V248.7M230,242.7h2M230,248.7h2" stroke="#3cc84a" stroke-width="0.75" fill="none"/><rect x="229.8" y="244.5" width="2.4" height="2.4" fill="#fff" fill-opacity=".5" stroke="#3cc84a" stroke-width="0.75"/>
<path d="M229.5,356.9H232.5M229.5,355.9v2M232.5,355.9v2M231,353.9V359.9M230,353.9h2M230,359.9h2" stroke="#fb8a2a" stroke-width="0.75" fill="none"/><rect x="229.8" y="355.7" width="2.4" height="2.4" fill="#fff" fill-opacity=".5" stroke="#fb8a2a" stroke-width="0.75"/>
<path d="M229.5,301.3H232.5M229.5,300.3v2M232.5,300.3v2" stroke="#2a5ef0" stroke-width="0.75" fill="none"/><circle cx="231" cy="301.3" r="1.3" fill="#fff" fill-opacity=".5" stroke="#2a5ef0" stroke-width="0.75"/>
<path d="M261.9,280.3H267.9M261.9,279.3v2M267.9,279.3v2" stroke="#3cc84a" stroke-width="0.75" fill="none"/><rect x="263.7" y="279.1" width="2.4" height="2.4" fill="#fff" fill-opacity=".5" stroke="#3cc84a" stroke-width="0.75"/>
<path d="M261.9,322.3H267.9M261.9,321.3v2M267.9,321.3v2" stroke="#fb8a2a" stroke-width="0.75" fill="none"/><rect x="263.7" y="321.1" width="2.4" height="2.4" fill="#fff" fill-opacity=".5" stroke="#fb8a2a" stroke-width="0.75"/>
<path d="M261.9,301.3H267.9M261.9,300.3v2M267.9,300.3v2" stroke="#2a5ef0" stroke-width="0.75" fill="none"/><circle cx="264.9" cy="301.3" r="1.3" fill="#fff" fill-opacity=".5" stroke="#2a5ef0" stroke-width="0.75"/>
<path d="M245.9,301.3H249.9M245.9,300.3v2M249.9,300.3v2" stroke="#2a5ef0" stroke-width="0.75" fill="none"/><circle cx="247.9" cy="301.3" r="1.3" fill="#fff" fill-opacity=".5" stroke="#2a5ef0" stroke-width="0.75"/>
<path d="M247,289.2H250M247,288.2v2M250,288.2v2M248.5,283.2V295.2M247.5,283.2h2M247.5,295.2h2" stroke="#3cc84a" stroke-width="0.75" fill="none"/><rect x="247.3" y="288" width="2.4" height="2.4" fill="#fff" fill-opacity=".5" stroke="#3cc84a" stroke-width="0.75"/>
<path d="M247,317.2H250M247,316.2v2M250,316.2v2M248.5,311.2V323.2M247.5,311.2h2M247.5,323.2h2" stroke="#fb8a2a" stroke-width="0.75" fill="none"/><rect x="247.3" y="316" width="2.4" height="2.4" fill="#fff" fill-opacity=".5" stroke="#fb8a2a" stroke-width="0.75"/>
</g>
<path d="M231.4,231.5v2.5M231.4,372.5v-2.5M244.7,231.5v2.5M244.7,372.5v-2.5M258.1,231.5v2.5M258.1,372.5v-2.5M271.4,231.5v2.5M271.4,372.5v-2.5M219.5,361.8h2.5M278,361.8h-2.5M219.5,346.7h2.5M278,346.7h-2.5M219.5,331.5h2.5M278,331.5h-2.5M219.5,316.4h2.5M278,316.4h-2.5M219.5,301.3h2.5M278,301.3h-2.5M219.5,286.2h2.5M278,286.2h-2.5M219.5,271.1h2.5M278,271.1h-2.5M219.5,255.9h2.5M278,255.9h-2.5M219.5,240.8h2.5M278,240.8h-2.5" stroke="#333" stroke-width="0.8" fill="none"/>
<rect x="219.5" y="231.5" width="58.5" height="141" fill="none" stroke="#3a3a3a" stroke-width="1"/>
<g clip-path="url(#ce3)">
<rect x="219.5" y="382.5" width="58.5" height="140.5" fill="#fff"/>
<rect x="227.3" y="382.5" width="20.6" height="140.5" fill="#f9e0e3"/>
<path d="M231.4,382.5V523M244.7,382.5V523M258.1,382.5V523M271.4,382.5V523M219.5,389.2H278M219.5,407.3H278M219.5,425.3H278M219.5,443.4H278M219.5,461.4H278M219.5,479.5H278M219.5,497.6H278M219.5,515.6H278" stroke="#000" stroke-opacity="0.13" stroke-width="0.8" fill="none"/>
<path d="M227.3,382.5V523" stroke="#f05a6a" stroke-width="0.9" stroke-dasharray="3,2" fill="none"/>
<path d="M216.8,407.4 L218.3,408.9 L219.8,410.5 L221.3,412 L222.8,413.5 L224.2,415.1 L225.7,416.6 L227.2,418.1 L228.7,419.7 L230.1,421.2 L231.6,422.7 L233.1,424.3 L234.6,425.8 L236.1,427.3 L237.5,428.9 L239,430.4 L240.5,432 L242,433.5 L243.5,435 L244.9,436.6 L246.4,438.1 L247.9,439.6" stroke="#fb8a2a" stroke-width="1.1" fill="none"/>
<path d="M216.8,407.4 L218.3,408.9 L219.8,410.5 L221.3,412 L222.8,413.5 L224.2,415.1 L225.7,416.6 L227.2,418.1 L228.7,419.7 L230.1,421.2 L231.6,422.7 L233.1,424.3 L234.6,425.8 L236.1,427.3 L237.5,428.9 L239,430.4 L240.5,432 L242,433.5 L243.5,435 L244.9,436.6 L246.4,438.1 L247.9,439.6" stroke="#3cc84a" stroke-width="1.1" stroke-dasharray="3,3" fill="none"/>
<path d="M216.8,419.3 L218.3,420.8 L219.8,422.4 L221.3,423.9 L222.8,425.4 L224.2,427 L225.7,428.5 L227.2,430.1 L228.7,431.6 L230.1,433.1 L231.6,434.7 L233.1,436.2 L234.6,437.7 L236.1,439.3 L237.5,440.8 L239,442.3 L240.5,443.9 L242,445.4 L243.5,446.9 L244.9,448.5 L246.4,450 L247.9,451.5" stroke="#2a5ef0" stroke-width="1.1" stroke-dasharray="3,2" fill="none"/>
<path d="M247.9,439.6 L247.9,441.9 L249.5,433.8 L251.1,430.8 L252.6,428.8 L254.2,427.4 L255.7,426.3 L257.3,425.5 L258.8,424.9 L260.4,424.5 L262,424.2 L263.5,423.9 L265.1,423.8 L266.6,423.8 L268.2,423.8 L269.8,423.8 L271.3,424 L272.9,424.2 L274.4,424.4 L276,424.6 L277.5,424.9 L279.1,425.3 L280.7,425.6" stroke="#3cc84a" stroke-width="1.1" stroke-dasharray="3,2" fill="none"/>
<path d="M247.9,451.5 L247.9,444.5 L249.5,451 L251.1,454.9 L252.6,458.3 L254.2,461.5 L255.7,464.4 L257.3,467.2 L258.8,470 L260.4,472.6 L262,475.2 L263.5,477.8 L265.1,480.2 L266.6,482.7 L268.2,485.1 L269.8,487.5 L271.3,489.9 L272.9,492.2 L274.4,494.5 L276,496.8 L277.5,499.1 L279.1,501.3 L280.7,503.6" stroke="#fb8a2a" stroke-width="1.1" fill="none"/>
<path d="M247.9,451.5 L247.9,444.5 L249.5,451 L251.1,454.9 L252.6,458.3 L254.2,461.5 L255.7,464.4 L257.3,467.2 L258.8,470 L260.4,472.6 L262,475.2 L263.5,477.8 L265.1,480.2 L266.6,482.7 L268.2,485.1 L269.8,487.5 L271.3,489.9 L272.9,492.2 L274.4,494.5 L276,496.8 L277.5,499.1 L279.1,501.3 L280.7,503.6" stroke="#2a5ef0" stroke-width="1.1" stroke-dasharray="3,3" fill="none"/>
<path d="M247.9,439.6L247.9,451.5" stroke="#fb8a2a" stroke-width="1.1"/>
<path d="M229.5,422.1H232.5M229.5,421.1v2M232.5,421.1v2M231,420.6V423.6M230,420.6h2M230,423.6h2" stroke="#3cc84a" stroke-width="0.75" fill="none"/><rect x="229.8" y="420.9" width="2.4" height="2.4" fill="#fff" fill-opacity=".5" stroke="#3cc84a" stroke-width="0.75"/>
<path d="M229.5,434H232.5M229.5,433v2M232.5,433v2M231,432.5V435.5M230,432.5h2M230,435.5h2" stroke="#2a5ef0" stroke-width="0.75" fill="none"/><circle cx="231" cy="434" r="1.3" fill="#fff" fill-opacity=".5" stroke="#2a5ef0" stroke-width="0.75"/>
<path d="M245.9,439.6H249.9M245.9,438.6v2M249.9,438.6v2M247.9,435.6V443.6M246.9,435.6h2M246.9,443.6h2" stroke="#3cc84a" stroke-width="0.75" fill="none"/><rect x="246.7" y="438.4" width="2.4" height="2.4" fill="#fff" fill-opacity=".5" stroke="#3cc84a" stroke-width="0.75"/>
<path d="M245.4,451.5H250.4M245.4,450.5v2M250.4,450.5v2M247.9,449.5V453.5M246.9,449.5h2M246.9,453.5h2" stroke="#2a5ef0" stroke-width="0.75" fill="none"/><circle cx="247.9" cy="451.5" r="1.3" fill="#fff" fill-opacity=".5" stroke="#2a5ef0" stroke-width="0.75"/>
<path d="M261.4,423.8H268.4M261.4,422.8v2M268.4,422.8v2M264.9,419.8V427.8M263.9,419.8h2M263.9,427.8h2" stroke="#3cc84a" stroke-width="0.75" fill="none"/><rect x="263.7" y="422.6" width="2.4" height="2.4" fill="#fff" fill-opacity=".5" stroke="#3cc84a" stroke-width="0.75"/>
<path d="M262.9,480H266.9M262.9,479v2M266.9,479v2M264.9,478.5V481.5M263.9,478.5h2M263.9,481.5h2" stroke="#fb8a2a" stroke-width="0.75" fill="none"/><rect x="263.7" y="478.8" width="2.4" height="2.4" fill="#fff" fill-opacity=".5" stroke="#fb8a2a" stroke-width="0.75"/>
</g>
<path d="M231.4,382.5v2.5M231.4,523v-2.5M244.7,382.5v2.5M244.7,523v-2.5M258.1,382.5v2.5M258.1,523v-2.5M271.4,382.5v2.5M271.4,523v-2.5M219.5,389.2h2.5M278,389.2h-2.5M219.5,407.3h2.5M278,407.3h-2.5M219.5,425.3h2.5M278,425.3h-2.5M219.5,443.4h2.5M278,443.4h-2.5M219.5,461.4h2.5M278,461.4h-2.5M219.5,479.5h2.5M278,479.5h-2.5M219.5,497.6h2.5M278,497.6h-2.5M219.5,515.6h2.5M278,515.6h-2.5" stroke="#333" stroke-width="0.8" fill="none"/>
<rect x="219.5" y="382.5" width="58.5" height="140.5" fill="none" stroke="#3a3a3a" stroke-width="1"/>
<text x="248.8" y="228.9" font-size="12" text-anchor="middle" fill="#ec1c2a" stroke="#ec1c2a">α=0.1490</text>
<text x="231.4" y="534" font-size="12.3" text-anchor="middle" fill="#1e1e1e" stroke="#1e1e1e">4</text>
<text x="244.7" y="534" font-size="12.3" text-anchor="middle" fill="#1e1e1e" stroke="#1e1e1e">5</text>
<text x="258.1" y="534" font-size="12.3" text-anchor="middle" fill="#1e1e1e" stroke="#1e1e1e">6</text>
<text x="271.4" y="534" font-size="12.3" text-anchor="middle" fill="#1e1e1e" stroke="#1e1e1e">7</text>
<g clip-path="url(#cd4)">
<rect x="280.5" y="231.5" width="58.5" height="141" fill="#fff"/>
<rect x="280.8" y="231.5" width="30.3" height="141" fill="#f9e0e3"/>
<path d="M287.3,231.5V372.5M298.8,231.5V372.5M310.3,231.5V372.5M321.7,231.5V372.5M333.2,231.5V372.5M280.5,361.8H339M280.5,346.7H339M280.5,331.5H339M280.5,316.4H339M280.5,301.3H339M280.5,286.2H339M280.5,271.1H339M280.5,255.9H339M280.5,240.8H339" stroke="#000" stroke-opacity="0.13" stroke-width="0.8" fill="none"/>
<path d="M283.8,231.5V372.5" stroke="#f05a6a" stroke-width="0.9" stroke-dasharray="3,2" fill="none"/>
<path d="M280.5,301.3H339" stroke="#2a5ef0" stroke-width="1.1" fill="none"/>
<path d="M278.2,234.1 L279.8,234.9 L281.3,235.8 L282.9,236.7 L284.5,237.7 L286,238.8 L287.6,239.9 L289.2,241.1 L290.7,242.4 L292.3,243.8 L293.9,245.4 L295.4,247 L297,248.8 L298.6,250.7 L300.1,252.9 L301.7,255.3 L303.3,258 L304.8,261.2 L306.4,265 L308,269.8 L309.5,276.7 L311.1,301.3" stroke="#3cc84a" stroke-width="1.1" fill="none"/>
<path d="M311.1,301.3 L311.1,296.5 L312.6,289.1 L314,286.9 L315.4,285.5 L316.9,284.4 L318.3,283.6 L319.8,282.9 L321.2,282.3 L322.6,281.8 L324.1,281.3 L325.5,280.9 L326.9,280.6 L328.4,280.3 L329.8,280 L331.2,279.7 L332.7,279.4 L334.1,279.2 L335.6,279 L337,278.8 L338.4,278.6 L339.9,278.4 L341.3,278.3" stroke="#3cc84a" stroke-width="1.1" fill="none"/>
<path d="M278.2,368.5 L279.8,367.7 L281.3,366.8 L282.9,365.9 L284.5,364.9 L286,363.8 L287.6,362.7 L289.2,361.5 L290.7,360.2 L292.3,358.8 L293.9,357.2 L295.4,355.6 L297,353.8 L298.6,351.9 L300.1,349.7 L301.7,347.3 L303.3,344.6 L304.8,341.4 L306.4,337.6 L308,332.8 L309.5,325.9 L311.1,301.3" stroke="#fb8a2a" stroke-width="1.1" fill="none"/>
<path d="M311.1,301.3 L311.1,306.1 L312.6,313.5 L314,315.7 L315.4,317.1 L316.9,318.2 L318.3,319 L319.8,319.7 L321.2,320.3 L322.6,320.8 L324.1,321.3 L325.5,321.7 L326.9,322 L328.4,322.3 L329.8,322.6 L331.2,322.9 L332.7,323.2 L334.1,323.4 L335.6,323.6 L337,323.8 L338.4,324 L339.9,324.2 L341.3,324.3" stroke="#fb8a2a" stroke-width="1.1" fill="none"/>
<path d="M290.5,243.6H293.5M290.5,242.6v2M293.5,242.6v2M292,239.6V247.6M291,239.6h2M291,247.6h2" stroke="#3cc84a" stroke-width="0.75" fill="none"/><rect x="290.8" y="242.4" width="2.4" height="2.4" fill="#fff" fill-opacity=".5" stroke="#3cc84a" stroke-width="0.75"/>
<path d="M290.5,359H293.5M290.5,358v2M293.5,358v2M292,355V363M291,355h2M291,363h2" stroke="#fb8a2a" stroke-width="0.75" fill="none"/><rect x="290.8" y="357.8" width="2.4" height="2.4" fill="#fff" fill-opacity=".5" stroke="#fb8a2a" stroke-width="0.75"/>
<path d="M290.5,301.3H293.5M290.5,300.3v2M293.5,300.3v2" stroke="#2a5ef0" stroke-width="0.75" fill="none"/><circle cx="292" cy="301.3" r="1.3" fill="#fff" fill-opacity=".5" stroke="#2a5ef0" stroke-width="0.75"/>
<path d="M325.1,280.3H331.1M325.1,279.3v2M331.1,279.3v2" stroke="#3cc84a" stroke-width="0.75" fill="none"/><rect x="326.9" y="279.1" width="2.4" height="2.4" fill="#fff" fill-opacity=".5" stroke="#3cc84a" stroke-width="0.75"/>
<path d="M325.1,322.3H331.1M325.1,321.3v2M331.1,321.3v2" stroke="#fb8a2a" stroke-width="0.75" fill="none"/><rect x="326.9" y="321.1" width="2.4" height="2.4" fill="#fff" fill-opacity=".5" stroke="#fb8a2a" stroke-width="0.75"/>
<path d="M325.1,301.3H331.1M325.1,300.3v2M331.1,300.3v2" stroke="#2a5ef0" stroke-width="0.75" fill="none"/><circle cx="328.1" cy="301.3" r="1.3" fill="#fff" fill-opacity=".5" stroke="#2a5ef0" stroke-width="0.75"/>
<path d="M309.1,301.3H313.1M309.1,300.3v2M313.1,300.3v2" stroke="#2a5ef0" stroke-width="0.75" fill="none"/><circle cx="311.1" cy="301.3" r="1.3" fill="#fff" fill-opacity=".5" stroke="#2a5ef0" stroke-width="0.75"/>
<path d="M310.2,285.4H313.2M310.2,284.4v2M313.2,284.4v2M311.7,279.4V291.4M310.7,279.4h2M310.7,291.4h2" stroke="#3cc84a" stroke-width="0.75" fill="none"/><rect x="310.5" y="284.2" width="2.4" height="2.4" fill="#fff" fill-opacity=".5" stroke="#3cc84a" stroke-width="0.75"/>
<path d="M310.2,313.4H313.2M310.2,312.4v2M313.2,312.4v2M311.7,307.4V319.4M310.7,307.4h2M310.7,319.4h2" stroke="#fb8a2a" stroke-width="0.75" fill="none"/><rect x="310.5" y="312.2" width="2.4" height="2.4" fill="#fff" fill-opacity=".5" stroke="#fb8a2a" stroke-width="0.75"/>
</g>
<path d="M287.3,231.5v2.5M287.3,372.5v-2.5M298.8,231.5v2.5M298.8,372.5v-2.5M310.3,231.5v2.5M310.3,372.5v-2.5M321.7,231.5v2.5M321.7,372.5v-2.5M333.2,231.5v2.5M333.2,372.5v-2.5M280.5,361.8h2.5M339,361.8h-2.5M280.5,346.7h2.5M339,346.7h-2.5M280.5,331.5h2.5M339,331.5h-2.5M280.5,316.4h2.5M339,316.4h-2.5M280.5,301.3h2.5M339,301.3h-2.5M280.5,286.2h2.5M339,286.2h-2.5M280.5,271.1h2.5M339,271.1h-2.5M280.5,255.9h2.5M339,255.9h-2.5M280.5,240.8h2.5M339,240.8h-2.5" stroke="#333" stroke-width="0.8" fill="none"/>
<rect x="280.5" y="231.5" width="58.5" height="141" fill="none" stroke="#3a3a3a" stroke-width="1"/>
<g clip-path="url(#ce4)">
<rect x="280.5" y="382.5" width="58.5" height="140.5" fill="#fff"/>
<rect x="280.8" y="382.5" width="30.3" height="140.5" fill="#f9e0e3"/>
<path d="M287.3,382.5V523M298.8,382.5V523M310.3,382.5V523M321.7,382.5V523M333.2,382.5V523M280.5,389.2H339M280.5,407.3H339M280.5,425.3H339M280.5,443.4H339M280.5,461.4H339M280.5,479.5H339M280.5,497.6H339M280.5,515.6H339" stroke="#000" stroke-opacity="0.13" stroke-width="0.8" fill="none"/>
<path d="M283.8,382.5V523" stroke="#f05a6a" stroke-width="0.9" stroke-dasharray="3,2" fill="none"/>
<path d="M278.2,413.5 L279.8,415.5 L281.3,417.4 L282.9,419.4 L284.5,421.4 L286,423.4 L287.6,425.3 L289.2,427.3 L290.7,429.3 L292.3,431.2 L293.9,433.2 L295.4,435.2 L297,437.2 L298.6,439.1 L300.1,441.1 L301.7,443.1 L303.3,445 L304.8,447 L306.4,449 L308,451 L309.5,452.9 L311.1,454.9" stroke="#fb8a2a" stroke-width="1.1" fill="none"/>
<path d="M278.2,413.5 L279.8,415.5 L281.3,417.4 L282.9,419.4 L284.5,421.4 L286,423.4 L287.6,425.3 L289.2,427.3 L290.7,429.3 L292.3,431.2 L293.9,433.2 L295.4,435.2 L297,437.2 L298.6,439.1 L300.1,441.1 L301.7,443.1 L303.3,445 L304.8,447 L306.4,449 L308,451 L309.5,452.9 L311.1,454.9" stroke="#3cc84a" stroke-width="1.1" stroke-dasharray="3,3" fill="none"/>
<path d="M278.2,425.4 L279.8,427.4 L281.3,429.4 L282.9,431.3 L284.5,433.3 L286,435.3 L287.6,437.3 L289.2,439.2 L290.7,441.2 L292.3,443.2 L293.9,445.1 L295.4,447.1 L297,449.1 L298.6,451.1 L300.1,453 L301.7,455 L303.3,457 L304.8,458.9 L306.4,460.9 L308,462.9 L309.5,464.9 L311.1,466.8" stroke="#2a5ef0" stroke-width="1.1" stroke-dasharray="3,2" fill="none"/>
<path d="M311.1,454.9 L311.1,457.2 L312.6,449.7 L314,447 L315.4,445.4 L316.9,444.3 L318.3,443.6 L319.8,443 L321.2,442.7 L322.6,442.5 L324.1,442.5 L325.5,442.5 L326.9,442.7 L328.4,442.9 L329.8,443.1 L331.2,443.5 L332.7,443.8 L334.1,444.3 L335.6,444.7 L337,445.2 L338.4,445.8 L339.9,446.4 L341.3,447" stroke="#3cc84a" stroke-width="1.1" stroke-dasharray="3,2" fill="none"/>
<path d="M311.1,466.8 L311.1,459.8 L312.6,466.2 L314,470.3 L315.4,473.8 L316.9,477.1 L318.3,480.2 L319.8,483.1 L321.2,486 L322.6,488.8 L324.1,491.5 L325.5,494.2 L326.9,496.9 L328.4,499.5 L329.8,502.1 L331.2,504.6 L332.7,507.1 L334.1,509.6 L335.6,512.1 L337,514.6 L338.4,517 L339.9,519.4 L341.3,521.8" stroke="#fb8a2a" stroke-width="1.1" fill="none"/>
<path d="M311.1,466.8 L311.1,459.8 L312.6,466.2 L314,470.3 L315.4,473.8 L316.9,477.1 L318.3,480.2 L319.8,483.1 L321.2,486 L322.6,488.8 L324.1,491.5 L325.5,494.2 L326.9,496.9 L328.4,499.5 L329.8,502.1 L331.2,504.6 L332.7,507.1 L334.1,509.6 L335.6,512.1 L337,514.6 L338.4,517 L339.9,519.4 L341.3,521.8" stroke="#2a5ef0" stroke-width="1.1" stroke-dasharray="3,3" fill="none"/>
<path d="M311.1,454.9L311.1,466.8" stroke="#fb8a2a" stroke-width="1.1"/>
<path d="M290.5,430.9H293.5M290.5,429.9v2M293.5,429.9v2M292,429.4V432.4M291,429.4h2M291,432.4h2" stroke="#3cc84a" stroke-width="0.75" fill="none"/><rect x="290.8" y="429.7" width="2.4" height="2.4" fill="#fff" fill-opacity=".5" stroke="#3cc84a" stroke-width="0.75"/>
<path d="M290.5,442.8H293.5M290.5,441.8v2M293.5,441.8v2M292,441.3V444.3M291,441.3h2M291,444.3h2" stroke="#2a5ef0" stroke-width="0.75" fill="none"/><circle cx="292" cy="442.8" r="1.3" fill="#fff" fill-opacity=".5" stroke="#2a5ef0" stroke-width="0.75"/>
<path d="M309.1,454.9H313.1M309.1,453.9v2M313.1,453.9v2M311.1,450.9V458.9M310.1,450.9h2M310.1,458.9h2" stroke="#3cc84a" stroke-width="0.75" fill="none"/><rect x="309.9" y="453.7" width="2.4" height="2.4" fill="#fff" fill-opacity=".5" stroke="#3cc84a" stroke-width="0.75"/>
<path d="M308.6,466.8H313.6M308.6,465.8v2M313.6,465.8v2M311.1,464.8V468.8M310.1,464.8h2M310.1,468.8h2" stroke="#2a5ef0" stroke-width="0.75" fill="none"/><circle cx="311.1" cy="466.8" r="1.3" fill="#fff" fill-opacity=".5" stroke="#2a5ef0" stroke-width="0.75"/>
<path d="M324.6,442.8H331.6M324.6,441.8v2M331.6,441.8v2M328.1,438.8V446.8M327.1,438.8h2M327.1,446.8h2" stroke="#3cc84a" stroke-width="0.75" fill="none"/><rect x="326.9" y="441.6" width="2.4" height="2.4" fill="#fff" fill-opacity=".5" stroke="#3cc84a" stroke-width="0.75"/>
<path d="M326.1,499H330.1M326.1,498v2M330.1,498v2M328.1,497.5V500.5M327.1,497.5h2M327.1,500.5h2" stroke="#fb8a2a" stroke-width="0.75" fill="none"/><rect x="326.9" y="497.8" width="2.4" height="2.4" fill="#fff" fill-opacity=".5" stroke="#fb8a2a" stroke-width="0.75"/>
</g>
<path d="M287.3,382.5v2.5M287.3,523v-2.5M298.8,382.5v2.5M298.8,523v-2.5M310.3,382.5v2.5M310.3,523v-2.5M321.7,382.5v2.5M321.7,523v-2.5M333.2,382.5v2.5M333.2,523v-2.5M280.5,389.2h2.5M339,389.2h-2.5M280.5,407.3h2.5M339,407.3h-2.5M280.5,425.3h2.5M339,425.3h-2.5M280.5,443.4h2.5M339,443.4h-2.5M280.5,461.4h2.5M339,461.4h-2.5M280.5,479.5h2.5M339,479.5h-2.5M280.5,497.6h2.5M339,497.6h-2.5M280.5,515.6h2.5M339,515.6h-2.5" stroke="#333" stroke-width="0.8" fill="none"/>
<rect x="280.5" y="382.5" width="58.5" height="140.5" fill="none" stroke="#3a3a3a" stroke-width="1"/>
<text x="309.8" y="228.9" font-size="12" text-anchor="middle" fill="#ec1c2a" stroke="#ec1c2a">α=0.1999</text>
<text x="287.3" y="534" font-size="12.3" text-anchor="middle" fill="#1e1e1e" stroke="#1e1e1e">4</text>
<text x="298.8" y="534" font-size="12.3" text-anchor="middle" fill="#1e1e1e" stroke="#1e1e1e">5</text>
<text x="310.3" y="534" font-size="12.3" text-anchor="middle" fill="#1e1e1e" stroke="#1e1e1e">6</text>
<text x="321.7" y="534" font-size="12.3" text-anchor="middle" fill="#1e1e1e" stroke="#1e1e1e">7</text>
<text x="333.2" y="534" font-size="12.3" text-anchor="middle" fill="#1e1e1e" stroke="#1e1e1e">8</text>
<g clip-path="url(#cd5)">
<rect x="349" y="231.5" width="58.5" height="141" fill="#fff"/>
<rect x="349.2" y="231.5" width="30.8" height="141" fill="#e5dbef"/>
<path d="M355.4,231.5V372.5M366.6,231.5V372.5M377.8,231.5V372.5M389.1,231.5V372.5M400.3,231.5V372.5M349,361.8H407.5M349,346.7H407.5M349,331.5H407.5M349,316.4H407.5M349,301.3H407.5M349,286.2H407.5M349,271.1H407.5M349,255.9H407.5M349,240.8H407.5" stroke="#000" stroke-opacity="0.13" stroke-width="0.8" fill="none"/>
<path d="M352.6,231.5V372.5" stroke="#b070f0" stroke-width="0.9" stroke-dasharray="3,2" fill="none"/>
<path d="M349,301.3H407.5" stroke="#2a5ef0" stroke-width="1.1" fill="none"/>
<path d="M346.8,233.9 L348.3,234.7 L349.9,235.6 L351.5,236.5 L353.1,237.5 L354.7,238.5 L356.3,239.7 L357.8,240.9 L359.4,242.2 L361,243.6 L362.6,245.1 L364.2,246.8 L365.8,248.5 L367.3,250.5 L368.9,252.7 L370.5,255.1 L372.1,257.8 L373.7,261 L375.3,264.8 L376.8,269.6 L378.4,276.5 L380,301.3" stroke="#3cc84a" stroke-width="1.1" fill="none"/>
<path d="M380,301.3 L380,296.5 L381.4,289.1 L382.9,286.9 L384.3,285.5 L385.7,284.5 L387.1,283.6 L388.5,283 L389.9,282.4 L391.4,281.8 L392.8,281.4 L394.2,281 L395.6,280.6 L397,280.3 L398.4,280 L399.8,279.7 L401.3,279.5 L402.7,279.2 L404.1,279 L405.5,278.8 L406.9,278.6 L408.3,278.5 L409.7,278.3" stroke="#3cc84a" stroke-width="1.1" fill="none"/>
<path d="M346.8,368.7 L348.3,367.9 L349.9,367 L351.5,366.1 L353.1,365.1 L354.7,364.1 L356.3,362.9 L357.8,361.7 L359.4,360.4 L361,359 L362.6,357.5 L364.2,355.8 L365.8,354.1 L367.3,352.1 L368.9,349.9 L370.5,347.5 L372.1,344.8 L373.7,341.6 L375.3,337.8 L376.8,333 L378.4,326.1 L380,301.3" stroke="#fb8a2a" stroke-width="1.1" fill="none"/>
<path d="M380,301.3 L380,306.1 L381.4,313.5 L382.9,315.7 L384.3,317.1 L385.7,318.1 L387.1,319 L388.5,319.6 L389.9,320.2 L391.4,320.8 L392.8,321.2 L394.2,321.6 L395.6,322 L397,322.3 L398.4,322.6 L399.8,322.9 L401.3,323.1 L402.7,323.4 L404.1,323.6 L405.5,323.8 L406.9,324 L408.3,324.1 L409.7,324.3" stroke="#fb8a2a" stroke-width="1.1" fill="none"/>
<path d="M359,243.1H362M359,242.1v2M362,242.1v2M360.5,239.1V247.1M359.5,239.1h2M359.5,247.1h2" stroke="#3cc84a" stroke-width="0.75" fill="none"/><rect x="359.3" y="241.9" width="2.4" height="2.4" fill="#fff" fill-opacity=".5" stroke="#3cc84a" stroke-width="0.75"/>
<path d="M359,359.5H362M359,358.5v2M362,358.5v2M360.5,355.5V363.5M359.5,355.5h2M359.5,363.5h2" stroke="#fb8a2a" stroke-width="0.75" fill="none"/><rect x="359.3" y="358.3" width="2.4" height="2.4" fill="#fff" fill-opacity=".5" stroke="#fb8a2a" stroke-width="0.75"/>
<path d="M359,301.3H362M359,300.3v2M362,300.3v2" stroke="#2a5ef0" stroke-width="0.75" fill="none"/><circle cx="360.5" cy="301.3" r="1.3" fill="#fff" fill-opacity=".5" stroke="#2a5ef0" stroke-width="0.75"/>
<path d="M394,280.3H400M394,279.3v2M400,279.3v2" stroke="#3cc84a" stroke-width="0.75" fill="none"/><rect x="395.8" y="279.1" width="2.4" height="2.4" fill="#fff" fill-opacity=".5" stroke="#3cc84a" stroke-width="0.75"/>
<path d="M394,322.3H400M394,321.3v2M400,321.3v2" stroke="#fb8a2a" stroke-width="0.75" fill="none"/><rect x="395.8" y="321.1" width="2.4" height="2.4" fill="#fff" fill-opacity=".5" stroke="#fb8a2a" stroke-width="0.75"/>
<path d="M394,301.3H400M394,300.3v2M400,300.3v2" stroke="#2a5ef0" stroke-width="0.75" fill="none"/><circle cx="397" cy="301.3" r="1.3" fill="#fff" fill-opacity=".5" stroke="#2a5ef0" stroke-width="0.75"/>
<path d="M378,301.3H382M378,300.3v2M382,300.3v2" stroke="#2a5ef0" stroke-width="0.75" fill="none"/><circle cx="380" cy="301.3" r="1.3" fill="#fff" fill-opacity=".5" stroke="#2a5ef0" stroke-width="0.75"/>
<path d="M379.1,281.6H382.1M379.1,280.6v2M382.1,280.6v2M380.6,275.6V287.6M379.6,275.6h2M379.6,287.6h2" stroke="#3cc84a" stroke-width="0.75" fill="none"/><rect x="379.4" y="280.4" width="2.4" height="2.4" fill="#fff" fill-opacity=".5" stroke="#3cc84a" stroke-width="0.75"/>
<path d="M379.1,317.2H382.1M379.1,316.2v2M382.1,316.2v2M380.6,311.2V323.2M379.6,311.2h2M379.6,323.2h2" stroke="#fb8a2a" stroke-width="0.75" fill="none"/><rect x="379.4" y="316" width="2.4" height="2.4" fill="#fff" fill-opacity=".5" stroke="#fb8a2a" stroke-width="0.75"/>
</g>
<path d="M355.4,231.5v2.5M355.4,372.5v-2.5M366.6,231.5v2.5M366.6,372.5v-2.5M377.8,231.5v2.5M377.8,372.5v-2.5M389.1,231.5v2.5M389.1,372.5v-2.5M400.3,231.5v2.5M400.3,372.5v-2.5M349,361.8h2.5M407.5,361.8h-2.5M349,346.7h2.5M407.5,346.7h-2.5M349,331.5h2.5M407.5,331.5h-2.5M349,316.4h2.5M407.5,316.4h-2.5M349,301.3h2.5M407.5,301.3h-2.5M349,286.2h2.5M407.5,286.2h-2.5M349,271.1h2.5M407.5,271.1h-2.5M349,255.9h2.5M407.5,255.9h-2.5M349,240.8h2.5M407.5,240.8h-2.5" stroke="#333" stroke-width="0.8" fill="none"/>
<rect x="349" y="231.5" width="58.5" height="141" fill="none" stroke="#3a3a3a" stroke-width="1"/>
<g clip-path="url(#ce5)">
<rect x="349" y="382.5" width="58.5" height="140.5" fill="#fff"/>
<rect x="349.2" y="382.5" width="30.8" height="140.5" fill="#e5dbef"/>
<path d="M355.4,382.5V523M366.6,382.5V523M377.8,382.5V523M389.1,382.5V523M400.3,382.5V523M349,386.6H407.5M349,410.4H407.5M349,434.2H407.5M349,457.9H407.5M349,481.7H407.5M349,505.5H407.5" stroke="#000" stroke-opacity="0.13" stroke-width="0.8" fill="none"/>
<path d="M352.6,382.5V523" stroke="#b070f0" stroke-width="0.9" stroke-dasharray="3,2" fill="none"/>
<path d="M346.8,411.4 L348.3,413.4 L349.9,415.4 L351.5,417.4 L353.1,419.5 L354.7,421.5 L356.3,423.5 L357.8,425.5 L359.4,427.5 L361,429.5 L362.6,431.5 L364.2,433.5 L365.8,435.5 L367.3,437.5 L368.9,439.5 L370.5,441.6 L372.1,443.6 L373.7,445.6 L375.3,447.6 L376.8,449.6 L378.4,451.6 L380,453.6" stroke="#fb8a2a" stroke-width="1.1" fill="none"/>
<path d="M346.8,411.4 L348.3,413.4 L349.9,415.4 L351.5,417.4 L353.1,419.5 L354.7,421.5 L356.3,423.5 L357.8,425.5 L359.4,427.5 L361,429.5 L362.6,431.5 L364.2,433.5 L365.8,435.5 L367.3,437.5 L368.9,439.5 L370.5,441.6 L372.1,443.6 L373.7,445.6 L375.3,447.6 L376.8,449.6 L378.4,451.6 L380,453.6" stroke="#3cc84a" stroke-width="1.1" stroke-dasharray="3,3" fill="none"/>
<path d="M346.8,403.6 L348.3,405.6 L349.9,407.6 L351.5,409.6 L353.1,411.6 L354.7,413.6 L356.3,415.6 L357.8,417.6 L359.4,419.6 L361,421.7 L362.6,423.7 L364.2,425.7 L365.8,427.7 L367.3,429.7 L368.9,431.7 L370.5,433.7 L372.1,435.7 L373.7,437.7 L375.3,439.7 L376.8,441.7 L378.4,443.8 L380,445.8" stroke="#2a5ef0" stroke-width="1.1" stroke-dasharray="3,2" fill="none"/>
<path d="M380,445.8 L380,450.5 L381.4,449.2 L382.9,449.6 L384.3,450.2 L385.7,451.1 L387.1,452 L388.5,453.1 L389.9,454.2 L391.4,455.3 L392.8,456.5 L394.2,457.7 L395.6,459 L397,460.2 L398.4,461.5 L399.8,462.8 L401.3,464.2 L402.7,465.5 L404.1,466.9 L405.5,468.2 L406.9,469.6 L408.3,471 L409.7,472.4" stroke="#3cc84a" stroke-width="1.1" fill="none"/>
<path d="M380,445.8 L380,450.5 L381.4,449.2 L382.9,449.6 L384.3,450.2 L385.7,451.1 L387.1,452 L388.5,453.1 L389.9,454.2 L391.4,455.3 L392.8,456.5 L394.2,457.7 L395.6,459 L397,460.2 L398.4,461.5 L399.8,462.8 L401.3,464.2 L402.7,465.5 L404.1,466.9 L405.5,468.2 L406.9,469.6 L408.3,471 L409.7,472.4" stroke="#2a5ef0" stroke-width="1.1" stroke-dasharray="3,3" fill="none"/>
<path d="M380,453.6 L380,452.2 L381.4,460 L382.9,464.8 L384.3,468.8 L385.7,472.5 L387.1,476 L388.5,479.3 L389.9,482.5 L391.4,485.6 L392.8,488.6 L394.2,491.6 L395.6,494.4 L397,497.3 L398.4,500.1 L399.8,502.9 L401.3,505.6 L402.7,508.3 L404.1,511 L405.5,513.6 L406.9,516.2 L408.3,518.8 L409.7,521.4" stroke="#fb8a2a" stroke-width="1.1" stroke-dasharray="3,2" fill="none"/>
<path d="M359,428.9H362M359,427.9v2M362,427.9v2M360.5,427.4V430.4M359.5,427.4h2M359.5,430.4h2" stroke="#fb8a2a" stroke-width="0.75" fill="none"/><rect x="359.3" y="427.7" width="2.4" height="2.4" fill="#fff" fill-opacity=".5" stroke="#fb8a2a" stroke-width="0.75"/>
<path d="M359,421H362M359,420v2M362,420v2M360.5,419.5V422.5M359.5,419.5h2M359.5,422.5h2" stroke="#2a5ef0" stroke-width="0.75" fill="none"/><circle cx="360.5" cy="421" r="1.3" fill="#fff" fill-opacity=".5" stroke="#2a5ef0" stroke-width="0.75"/>
<path d="M378,453.6H382M378,452.6v2M382,452.6v2M380,449.6V457.6M379,449.6h2M379,457.6h2" stroke="#fb8a2a" stroke-width="0.75" fill="none"/><rect x="378.8" y="452.4" width="2.4" height="2.4" fill="#fff" fill-opacity=".5" stroke="#fb8a2a" stroke-width="0.75"/>
<path d="M377.5,445.8H382.5M377.5,444.8v2M382.5,444.8v2M380,443.8V447.8M379,443.8h2M379,447.8h2" stroke="#2a5ef0" stroke-width="0.75" fill="none"/><circle cx="380" cy="445.8" r="1.3" fill="#fff" fill-opacity=".5" stroke="#2a5ef0" stroke-width="0.75"/>
<path d="M393.5,497.3H400.5M393.5,496.3v2M400.5,496.3v2M397,493.3V501.3M396,493.3h2M396,501.3h2" stroke="#fb8a2a" stroke-width="0.75" fill="none"/><rect x="395.8" y="496.1" width="2.4" height="2.4" fill="#fff" fill-opacity=".5" stroke="#fb8a2a" stroke-width="0.75"/>
<path d="M395,460.2H399M395,459.2v2M399,459.2v2M397,458.7V461.7M396,458.7h2M396,461.7h2" stroke="#2a5ef0" stroke-width="0.75" fill="none"/><rect x="395.8" y="459" width="2.4" height="2.4" fill="#fff" fill-opacity=".5" stroke="#2a5ef0" stroke-width="0.75"/>
</g>
<path d="M355.4,382.5v2.5M355.4,523v-2.5M366.6,382.5v2.5M366.6,523v-2.5M377.8,382.5v2.5M377.8,523v-2.5M389.1,382.5v2.5M389.1,523v-2.5M400.3,382.5v2.5M400.3,523v-2.5M349,386.6h2.5M407.5,386.6h-2.5M349,410.4h2.5M407.5,410.4h-2.5M349,434.2h2.5M407.5,434.2h-2.5M349,457.9h2.5M407.5,457.9h-2.5M349,481.7h2.5M407.5,481.7h-2.5M349,505.5h2.5M407.5,505.5h-2.5" stroke="#333" stroke-width="0.8" fill="none"/>
<rect x="349" y="382.5" width="58.5" height="140.5" fill="none" stroke="#3a3a3a" stroke-width="1"/>
<text x="378.2" y="228.9" font-size="12" text-anchor="middle" fill="#8c2be6" stroke="#8c2be6">α=0.7963</text>
<text x="355.4" y="534" font-size="12.3" text-anchor="middle" fill="#1e1e1e" stroke="#1e1e1e">4</text>
<text x="366.6" y="534" font-size="12.3" text-anchor="middle" fill="#1e1e1e" stroke="#1e1e1e">5</text>
<text x="377.8" y="534" font-size="12.3" text-anchor="middle" fill="#1e1e1e" stroke="#1e1e1e">6</text>
<text x="389.1" y="534" font-size="12.3" text-anchor="middle" fill="#1e1e1e" stroke="#1e1e1e">7</text>
<text x="400.3" y="534" font-size="12.3" text-anchor="middle" fill="#1e1e1e" stroke="#1e1e1e">8</text>
<g clip-path="url(#cd6)">
<rect x="409.6" y="231.5" width="58.5" height="141" fill="#fff"/>
<rect x="417.9" y="231.5" width="21.9" height="141" fill="#e5dbef"/>
<path d="M422,231.5V372.5M435.6,231.5V372.5M449.2,231.5V372.5M462.8,231.5V372.5M409.6,361.8H468.1M409.6,346.7H468.1M409.6,331.5H468.1M409.6,316.4H468.1M409.6,301.3H468.1M409.6,286.2H468.1M409.6,271.1H468.1M409.6,255.9H468.1M409.6,240.8H468.1" stroke="#000" stroke-opacity="0.13" stroke-width="0.8" fill="none"/>
<path d="M417.9,231.5V372.5" stroke="#b070f0" stroke-width="0.9" stroke-dasharray="3,2" fill="none"/>
<path d="M409.6,301.3H468.1" stroke="#2a5ef0" stroke-width="1.1" fill="none"/>
<path d="M406.9,234.7 L408.4,235.6 L410,236.4 L411.6,237.4 L413.1,238.4 L414.7,239.4 L416.2,240.6 L417.8,241.8 L419.3,243.1 L420.9,244.5 L422.5,246 L424,247.6 L425.6,249.4 L427.1,251.3 L428.7,253.5 L430.3,255.9 L431.8,258.6 L433.4,261.7 L434.9,265.5 L436.5,270.2 L438,277 L439.6,301.3" stroke="#3cc84a" stroke-width="1.1" fill="none"/>
<path d="M439.6,301.3 L439.6,296.5 L441.1,289.1 L442.6,286.9 L444.1,285.5 L445.6,284.4 L447.1,283.6 L448.5,282.9 L450,282.3 L451.5,281.8 L453,281.3 L454.5,280.9 L456,280.6 L457.5,280.2 L458.9,280 L460.4,279.7 L461.9,279.4 L463.4,279.2 L464.9,279 L466.4,278.8 L467.9,278.6 L469.3,278.4 L470.8,278.3" stroke="#3cc84a" stroke-width="1.1" fill="none"/>
<path d="M406.9,367.9 L408.4,367 L410,366.2 L411.6,365.2 L413.1,364.2 L414.7,363.2 L416.2,362 L417.8,360.8 L419.3,359.5 L420.9,358.1 L422.5,356.6 L424,355 L425.6,353.2 L427.1,351.3 L428.7,349.1 L430.3,346.7 L431.8,344 L433.4,340.9 L434.9,337.1 L436.5,332.4 L438,325.6 L439.6,301.3" stroke="#fb8a2a" stroke-width="1.1" fill="none"/>
<path d="M439.6,301.3 L439.6,306.1 L441.1,313.5 L442.6,315.7 L444.1,317.1 L445.6,318.2 L447.1,319 L448.5,319.7 L450,320.3 L451.5,320.8 L453,321.3 L454.5,321.7 L456,322 L457.5,322.4 L458.9,322.6 L460.4,322.9 L461.9,323.2 L463.4,323.4 L464.9,323.6 L466.4,323.8 L467.9,324 L469.3,324.2 L470.8,324.3" stroke="#fb8a2a" stroke-width="1.1" fill="none"/>
<path d="M419.1,244.7H423.1M419.1,243.7v2M423.1,243.7v2M421.1,241.7V247.7M420.1,241.7h2M420.1,247.7h2" stroke="#3cc84a" stroke-width="0.75" fill="none"/><rect x="419.9" y="243.5" width="2.4" height="2.4" fill="#fff" fill-opacity=".5" stroke="#3cc84a" stroke-width="0.75"/>
<path d="M419.1,357.9H423.1M419.1,356.9v2M423.1,356.9v2M421.1,354.9V360.9M420.1,354.9h2M420.1,360.9h2" stroke="#fb8a2a" stroke-width="0.75" fill="none"/><rect x="419.9" y="356.7" width="2.4" height="2.4" fill="#fff" fill-opacity=".5" stroke="#fb8a2a" stroke-width="0.75"/>
<path d="M419.6,301.3H422.6M419.6,300.3v2M422.6,300.3v2" stroke="#2a5ef0" stroke-width="0.75" fill="none"/><circle cx="421.1" cy="301.3" r="1.3" fill="#fff" fill-opacity=".5" stroke="#2a5ef0" stroke-width="0.75"/>
<path d="M453.6,280.4H459.6M453.6,279.4v2M459.6,279.4v2" stroke="#3cc84a" stroke-width="0.75" fill="none"/><rect x="455.4" y="279.2" width="2.4" height="2.4" fill="#fff" fill-opacity=".5" stroke="#3cc84a" stroke-width="0.75"/>
<path d="M453.6,322.2H459.6M453.6,321.2v2M459.6,321.2v2" stroke="#fb8a2a" stroke-width="0.75" fill="none"/><rect x="455.4" y="321" width="2.4" height="2.4" fill="#fff" fill-opacity=".5" stroke="#fb8a2a" stroke-width="0.75"/>
<path d="M453.6,301.3H459.6M453.6,300.3v2M459.6,300.3v2" stroke="#2a5ef0" stroke-width="0.75" fill="none"/><circle cx="456.6" cy="301.3" r="1.3" fill="#fff" fill-opacity=".5" stroke="#2a5ef0" stroke-width="0.75"/>
<path d="M437.6,301.3H441.6M437.6,300.3v2M441.6,300.3v2" stroke="#2a5ef0" stroke-width="0.75" fill="none"/><circle cx="439.6" cy="301.3" r="1.3" fill="#fff" fill-opacity=".5" stroke="#2a5ef0" stroke-width="0.75"/>
<path d="M438.7,289.2H441.7M438.7,288.2v2M441.7,288.2v2M440.2,283.2V295.2M439.2,283.2h2M439.2,295.2h2" stroke="#3cc84a" stroke-width="0.75" fill="none"/><rect x="439" y="288" width="2.4" height="2.4" fill="#fff" fill-opacity=".5" stroke="#3cc84a" stroke-width="0.75"/>
<path d="M438.7,313.4H441.7M438.7,312.4v2M441.7,312.4v2M440.2,307.4V319.4M439.2,307.4h2M439.2,319.4h2" stroke="#fb8a2a" stroke-width="0.75" fill="none"/><rect x="439" y="312.2" width="2.4" height="2.4" fill="#fff" fill-opacity=".5" stroke="#fb8a2a" stroke-width="0.75"/>
</g>
<path d="M422,231.5v2.5M422,372.5v-2.5M435.6,231.5v2.5M435.6,372.5v-2.5M449.2,231.5v2.5M449.2,372.5v-2.5M462.8,231.5v2.5M462.8,372.5v-2.5M409.6,361.8h2.5M468.1,361.8h-2.5M409.6,346.7h2.5M468.1,346.7h-2.5M409.6,331.5h2.5M468.1,331.5h-2.5M409.6,316.4h2.5M468.1,316.4h-2.5M409.6,301.3h2.5M468.1,301.3h-2.5M409.6,286.2h2.5M468.1,286.2h-2.5M409.6,271.1h2.5M468.1,271.1h-2.5M409.6,255.9h2.5M468.1,255.9h-2.5M409.6,240.8h2.5M468.1,240.8h-2.5" stroke="#333" stroke-width="0.8" fill="none"/>
<rect x="409.6" y="231.5" width="58.5" height="141" fill="none" stroke="#3a3a3a" stroke-width="1"/>
<g clip-path="url(#ce6)">
<rect x="409.6" y="382.5" width="58.5" height="140.5" fill="#fff"/>
<rect x="417.9" y="382.5" width="21.9" height="140.5" fill="#e5dbef"/>
<path d="M422,382.5V523M435.6,382.5V523M449.2,382.5V523M462.8,382.5V523M409.6,386.6H468.1M409.6,410.4H468.1M409.6,434.2H468.1M409.6,457.9H468.1M409.6,481.7H468.1M409.6,505.5H468.1" stroke="#000" stroke-opacity="0.13" stroke-width="0.8" fill="none"/>
<path d="M417.9,382.5V523" stroke="#b070f0" stroke-width="0.9" stroke-dasharray="3,2" fill="none"/>
<path d="M406.9,407.7 L408.4,409.4 L410,411.1 L411.6,412.8 L413.1,414.4 L414.7,416.1 L416.2,417.8 L417.8,419.5 L419.3,421.1 L420.9,422.8 L422.5,424.5 L424,426.2 L425.6,427.9 L427.1,429.5 L428.7,431.2 L430.3,432.9 L431.8,434.6 L433.4,436.2 L434.9,437.9 L436.5,439.6 L438,441.3 L439.6,442.9" stroke="#fb8a2a" stroke-width="1.1" fill="none"/>
<path d="M406.9,407.7 L408.4,409.4 L410,411.1 L411.6,412.8 L413.1,414.4 L414.7,416.1 L416.2,417.8 L417.8,419.5 L419.3,421.1 L420.9,422.8 L422.5,424.5 L424,426.2 L425.6,427.9 L427.1,429.5 L428.7,431.2 L430.3,432.9 L431.8,434.6 L433.4,436.2 L434.9,437.9 L436.5,439.6 L438,441.3 L439.6,442.9" stroke="#3cc84a" stroke-width="1.1" stroke-dasharray="3,3" fill="none"/>
<path d="M406.9,399.9 L408.4,401.6 L410,403.2 L411.6,404.9 L413.1,406.6 L414.7,408.3 L416.2,409.9 L417.8,411.6 L419.3,413.3 L420.9,415 L422.5,416.7 L424,418.3 L425.6,420 L427.1,421.7 L428.7,423.4 L430.3,425 L431.8,426.7 L433.4,428.4 L434.9,430.1 L436.5,431.7 L438,433.4 L439.6,435.1" stroke="#2a5ef0" stroke-width="1.1" stroke-dasharray="3,2" fill="none"/>
<path d="M439.6,435.1 L439.6,439.8 L441.1,438.3 L442.6,438.5 L444.1,438.9 L445.6,439.6 L447.1,440.3 L448.5,441.2 L450,442.1 L451.5,443 L453,444 L454.5,445 L456,446.1 L457.5,447.1 L458.9,448.2 L460.4,449.3 L461.9,450.5 L463.4,451.6 L464.9,452.8 L466.4,453.9 L467.9,455.1 L469.3,456.3 L470.8,457.5" stroke="#3cc84a" stroke-width="1.1" fill="none"/>
<path d="M439.6,435.1 L439.6,439.8 L441.1,438.3 L442.6,438.5 L444.1,438.9 L445.6,439.6 L447.1,440.3 L448.5,441.2 L450,442.1 L451.5,443 L453,444 L454.5,445 L456,446.1 L457.5,447.1 L458.9,448.2 L460.4,449.3 L461.9,450.5 L463.4,451.6 L464.9,452.8 L466.4,453.9 L467.9,455.1 L469.3,456.3 L470.8,457.5" stroke="#2a5ef0" stroke-width="1.1" stroke-dasharray="3,3" fill="none"/>
<path d="M439.6,442.9 L439.6,441.5 L441.1,449.2 L442.6,453.8 L444.1,457.6 L445.6,461.2 L447.1,464.4 L448.5,467.6 L450,470.6 L451.5,473.5 L453,476.3 L454.5,479.1 L456,481.8 L457.5,484.4 L458.9,487 L460.4,489.6 L461.9,492.1 L463.4,494.7 L464.9,497.1 L466.4,499.6 L467.9,502 L469.3,504.4 L470.8,506.8" stroke="#fb8a2a" stroke-width="1.1" stroke-dasharray="3,2" fill="none"/>
<path d="M419.6,423H422.6M419.6,422v2M422.6,422v2M421.1,421.5V424.5M420.1,421.5h2M420.1,424.5h2" stroke="#fb8a2a" stroke-width="0.75" fill="none"/><rect x="419.9" y="421.8" width="2.4" height="2.4" fill="#fff" fill-opacity=".5" stroke="#fb8a2a" stroke-width="0.75"/>
<path d="M419.6,415.2H422.6M419.6,414.2v2M422.6,414.2v2M421.1,413.7V416.7M420.1,413.7h2M420.1,416.7h2" stroke="#2a5ef0" stroke-width="0.75" fill="none"/><circle cx="421.1" cy="415.2" r="1.3" fill="#fff" fill-opacity=".5" stroke="#2a5ef0" stroke-width="0.75"/>
<path d="M437.6,442.9H441.6M437.6,441.9v2M441.6,441.9v2M439.6,438.9V446.9M438.6,438.9h2M438.6,446.9h2" stroke="#fb8a2a" stroke-width="0.75" fill="none"/><rect x="438.4" y="441.7" width="2.4" height="2.4" fill="#fff" fill-opacity=".5" stroke="#fb8a2a" stroke-width="0.75"/>
<path d="M437.1,435.1H442.1M437.1,434.1v2M442.1,434.1v2M439.6,433.1V437.1M438.6,433.1h2M438.6,437.1h2" stroke="#2a5ef0" stroke-width="0.75" fill="none"/><circle cx="439.6" cy="435.1" r="1.3" fill="#fff" fill-opacity=".5" stroke="#2a5ef0" stroke-width="0.75"/>
<path d="M453.1,482.9H460.1M453.1,481.9v2M460.1,481.9v2M456.6,478.9V486.9M455.6,478.9h2M455.6,486.9h2" stroke="#fb8a2a" stroke-width="0.75" fill="none"/><rect x="455.4" y="481.7" width="2.4" height="2.4" fill="#fff" fill-opacity=".5" stroke="#fb8a2a" stroke-width="0.75"/>
<path d="M454.6,446.5H458.6M454.6,445.5v2M458.6,445.5v2M456.6,445V448M455.6,445h2M455.6,448h2" stroke="#2a5ef0" stroke-width="0.75" fill="none"/><rect x="455.4" y="445.3" width="2.4" height="2.4" fill="#fff" fill-opacity=".5" stroke="#2a5ef0" stroke-width="0.75"/>
</g>
<path d="M422,382.5v2.5M422,523v-2.5M435.6,382.5v2.5M435.6,523v-2.5M449.2,382.5v2.5M449.2,523v-2.5M462.8,382.5v2.5M462.8,523v-2.5M409.6,386.6h2.5M468.1,386.6h-2.5M409.6,410.4h2.5M468.1,410.4h-2.5M409.6,434.2h2.5M468.1,434.2h-2.5M409.6,457.9h2.5M468.1,457.9h-2.5M409.6,481.7h2.5M468.1,481.7h-2.5M409.6,505.5h2.5M468.1,505.5h-2.5" stroke="#333" stroke-width="0.8" fill="none"/>
<rect x="409.6" y="382.5" width="58.5" height="140.5" fill="none" stroke="#3a3a3a" stroke-width="1"/>
<text x="438.9" y="228.9" font-size="12" text-anchor="middle" fill="#8c2be6" stroke="#8c2be6">α=0.8471</text>
<text x="422" y="534" font-size="12.3" text-anchor="middle" fill="#1e1e1e" stroke="#1e1e1e">4</text>
<text x="435.6" y="534" font-size="12.3" text-anchor="middle" fill="#1e1e1e" stroke="#1e1e1e">5</text>
<text x="449.2" y="534" font-size="12.3" text-anchor="middle" fill="#1e1e1e" stroke="#1e1e1e">6</text>
<text x="462.8" y="534" font-size="12.3" text-anchor="middle" fill="#1e1e1e" stroke="#1e1e1e">7</text>
<g clip-path="url(#cd7)">
<rect x="470.3" y="231.5" width="58.5" height="141" fill="#fff"/>
<rect x="485.9" y="231.5" width="13.3" height="141" fill="#e5dbef"/>
<path d="M475.5,231.5V372.5M490.5,231.5V372.5M505.5,231.5V372.5M520.5,231.5V372.5M470.3,361.8H528.8M470.3,346.7H528.8M470.3,331.5H528.8M470.3,316.4H528.8M470.3,301.3H528.8M470.3,286.2H528.8M470.3,271.1H528.8M470.3,255.9H528.8M470.3,240.8H528.8" stroke="#000" stroke-opacity="0.13" stroke-width="0.8" fill="none"/>
<path d="M485.9,231.5V372.5" stroke="#b070f0" stroke-width="0.9" stroke-dasharray="3,2" fill="none"/>
<path d="M470.3,301.3H528.8" stroke="#2a5ef0" stroke-width="1.1" fill="none"/>
<path d="M467.3,234.4 L468.8,235.2 L470.3,236.1 L471.8,237 L473.4,238 L474.9,239.1 L476.4,240.2 L477.9,241.5 L479.4,242.8 L480.9,244.2 L482.4,245.7 L484,247.3 L485.5,249.1 L487,251 L488.5,253.2 L490,255.6 L491.5,258.3 L493,261.5 L494.6,265.2 L496.1,270 L497.6,276.8 L499.1,301.3" stroke="#3cc84a" stroke-width="1.1" fill="none"/>
<path d="M499.1,301.3 L499.1,296.5 L500.7,288.8 L502.2,286.6 L503.8,285.1 L505.4,284.1 L506.9,283.2 L508.5,282.5 L510,281.9 L511.6,281.4 L513.1,281 L514.7,280.6 L516.2,280.2 L517.8,279.9 L519.4,279.6 L520.9,279.3 L522.5,279.1 L524,278.9 L525.6,278.7 L527.1,278.5 L528.7,278.3 L530.2,278.1 L531.8,278" stroke="#3cc84a" stroke-width="1.1" fill="none"/>
<path d="M467.3,368.2 L468.8,367.4 L470.3,366.5 L471.8,365.6 L473.4,364.6 L474.9,363.5 L476.4,362.4 L477.9,361.1 L479.4,359.8 L480.9,358.4 L482.4,356.9 L484,355.3 L485.5,353.5 L487,351.6 L488.5,349.4 L490,347 L491.5,344.3 L493,341.1 L494.6,337.4 L496.1,332.6 L497.6,325.8 L499.1,301.3" stroke="#fb8a2a" stroke-width="1.1" fill="none"/>
<path d="M499.1,301.3 L499.1,306.1 L500.7,313.8 L502.2,316 L503.8,317.5 L505.4,318.5 L506.9,319.4 L508.5,320.1 L510,320.7 L511.6,321.2 L513.1,321.6 L514.7,322 L516.2,322.4 L517.8,322.7 L519.4,323 L520.9,323.3 L522.5,323.5 L524,323.7 L525.6,323.9 L527.1,324.1 L528.7,324.3 L530.2,324.5 L531.8,324.6" stroke="#fb8a2a" stroke-width="1.1" fill="none"/>
<path d="M480.3,245H483.3M480.3,244v2M483.3,244v2M481.8,243V247M480.8,243h2M480.8,247h2" stroke="#3cc84a" stroke-width="0.75" fill="none"/><rect x="480.6" y="243.8" width="2.4" height="2.4" fill="#fff" fill-opacity=".5" stroke="#3cc84a" stroke-width="0.75"/>
<path d="M480.3,357.6H483.3M480.3,356.6v2M483.3,356.6v2M481.8,355.6V359.6M480.8,355.6h2M480.8,359.6h2" stroke="#fb8a2a" stroke-width="0.75" fill="none"/><rect x="480.6" y="356.4" width="2.4" height="2.4" fill="#fff" fill-opacity=".5" stroke="#fb8a2a" stroke-width="0.75"/>
<path d="M480.3,301.3H483.3M480.3,300.3v2M483.3,300.3v2" stroke="#2a5ef0" stroke-width="0.75" fill="none"/><circle cx="481.8" cy="301.3" r="1.3" fill="#fff" fill-opacity=".5" stroke="#2a5ef0" stroke-width="0.75"/>
<path d="M513.1,280.3H519.1M513.1,279.3v2M519.1,279.3v2" stroke="#3cc84a" stroke-width="0.75" fill="none"/><rect x="514.9" y="279.1" width="2.4" height="2.4" fill="#fff" fill-opacity=".5" stroke="#3cc84a" stroke-width="0.75"/>
<path d="M513.1,322.3H519.1M513.1,321.3v2M519.1,321.3v2" stroke="#fb8a2a" stroke-width="0.75" fill="none"/><rect x="514.9" y="321.1" width="2.4" height="2.4" fill="#fff" fill-opacity=".5" stroke="#fb8a2a" stroke-width="0.75"/>
<path d="M513.1,301.3H519.1M513.1,300.3v2M519.1,300.3v2" stroke="#2a5ef0" stroke-width="0.75" fill="none"/><circle cx="516.1" cy="301.3" r="1.3" fill="#fff" fill-opacity=".5" stroke="#2a5ef0" stroke-width="0.75"/>
<path d="M497.1,301.3H501.1M497.1,300.3v2M501.1,300.3v2" stroke="#2a5ef0" stroke-width="0.75" fill="none"/><circle cx="499.1" cy="301.3" r="1.3" fill="#fff" fill-opacity=".5" stroke="#2a5ef0" stroke-width="0.75"/>
<path d="M498.2,285.4H501.2M498.2,284.4v2M501.2,284.4v2M499.7,279.4V291.4M498.7,279.4h2M498.7,291.4h2" stroke="#3cc84a" stroke-width="0.75" fill="none"/><rect x="498.5" y="284.2" width="2.4" height="2.4" fill="#fff" fill-opacity=".5" stroke="#3cc84a" stroke-width="0.75"/>
<path d="M498.2,317.2H501.2M498.2,316.2v2M501.2,316.2v2M499.7,311.2V323.2M498.7,311.2h2M498.7,323.2h2" stroke="#fb8a2a" stroke-width="0.75" fill="none"/><rect x="498.5" y="316" width="2.4" height="2.4" fill="#fff" fill-opacity=".5" stroke="#fb8a2a" stroke-width="0.75"/>
</g>
<path d="M475.5,231.5v2.5M475.5,372.5v-2.5M490.5,231.5v2.5M490.5,372.5v-2.5M505.5,231.5v2.5M505.5,372.5v-2.5M520.5,231.5v2.5M520.5,372.5v-2.5M470.3,361.8h2.5M528.8,361.8h-2.5M470.3,346.7h2.5M528.8,346.7h-2.5M470.3,331.5h2.5M528.8,331.5h-2.5M470.3,316.4h2.5M528.8,316.4h-2.5M470.3,301.3h2.5M528.8,301.3h-2.5M470.3,286.2h2.5M528.8,286.2h-2.5M470.3,271.1h2.5M528.8,271.1h-2.5M470.3,255.9h2.5M528.8,255.9h-2.5M470.3,240.8h2.5M528.8,240.8h-2.5" stroke="#333" stroke-width="0.8" fill="none"/>
<rect x="470.3" y="231.5" width="58.5" height="141" fill="none" stroke="#3a3a3a" stroke-width="1"/>
<g clip-path="url(#ce7)">
<rect x="470.3" y="382.5" width="58.5" height="140.5" fill="#fff"/>
<rect x="485.9" y="382.5" width="13.3" height="140.5" fill="#e5dbef"/>
<path d="M475.5,382.5V523M490.5,382.5V523M505.5,382.5V523M520.5,382.5V523M470.3,386.6H528.8M470.3,410.4H528.8M470.3,434.2H528.8M470.3,457.9H528.8M470.3,481.7H528.8M470.3,505.5H528.8" stroke="#000" stroke-opacity="0.13" stroke-width="0.8" fill="none"/>
<path d="M485.9,382.5V523" stroke="#b070f0" stroke-width="0.9" stroke-dasharray="3,2" fill="none"/>
<path d="M467.3,402.4 L468.8,403.9 L470.3,405.5 L471.8,407 L473.4,408.5 L474.9,410 L476.4,411.6 L477.9,413.1 L479.4,414.6 L480.9,416.1 L482.4,417.6 L484,419.2 L485.5,420.7 L487,422.2 L488.5,423.7 L490,425.3 L491.5,426.8 L493,428.3 L494.6,429.8 L496.1,431.3 L497.6,432.9 L499.1,434.4" stroke="#fb8a2a" stroke-width="1.1" fill="none"/>
<path d="M467.3,402.4 L468.8,403.9 L470.3,405.5 L471.8,407 L473.4,408.5 L474.9,410 L476.4,411.6 L477.9,413.1 L479.4,414.6 L480.9,416.1 L482.4,417.6 L484,419.2 L485.5,420.7 L487,422.2 L488.5,423.7 L490,425.3 L491.5,426.8 L493,428.3 L494.6,429.8 L496.1,431.3 L497.6,432.9 L499.1,434.4" stroke="#3cc84a" stroke-width="1.1" stroke-dasharray="3,3" fill="none"/>
<path d="M467.3,394.6 L468.8,396.1 L470.3,397.6 L471.8,399.1 L473.4,400.7 L474.9,402.2 L476.4,403.7 L477.9,405.2 L479.4,406.7 L480.9,408.3 L482.4,409.8 L484,411.3 L485.5,412.8 L487,414.4 L488.5,415.9 L490,417.4 L491.5,418.9 L493,420.4 L494.6,422 L496.1,423.5 L497.6,425 L499.1,426.5" stroke="#2a5ef0" stroke-width="1.1" stroke-dasharray="3,2" fill="none"/>
<path d="M499.1,426.5 L499.1,431.2 L500.7,429.6 L502.2,429.6 L503.8,430 L505.4,430.5 L506.9,431.2 L508.5,432 L510,432.8 L511.6,433.7 L513.1,434.6 L514.7,435.5 L516.2,436.5 L517.8,437.5 L519.4,438.6 L520.9,439.6 L522.5,440.7 L524,441.8 L525.6,442.9 L527.1,444 L528.7,445.1 L530.2,446.2 L531.8,447.4" stroke="#3cc84a" stroke-width="1.1" fill="none"/>
<path d="M499.1,426.5 L499.1,431.2 L500.7,429.6 L502.2,429.6 L503.8,430 L505.4,430.5 L506.9,431.2 L508.5,432 L510,432.8 L511.6,433.7 L513.1,434.6 L514.7,435.5 L516.2,436.5 L517.8,437.5 L519.4,438.6 L520.9,439.6 L522.5,440.7 L524,441.8 L525.6,442.9 L527.1,444 L528.7,445.1 L530.2,446.2 L531.8,447.4" stroke="#2a5ef0" stroke-width="1.1" stroke-dasharray="3,3" fill="none"/>
<path d="M499.1,434.4 L499.1,432.9 L500.7,441 L502.2,445.6 L503.8,449.6 L505.4,453.1 L506.9,456.5 L508.5,459.6 L510,462.7 L511.6,465.6 L513.1,468.5 L514.7,471.2 L516.2,474 L517.8,476.6 L519.4,479.3 L520.9,481.8 L522.5,484.4 L524,486.9 L525.6,489.4 L527.1,491.9 L528.7,494.3 L530.2,496.7 L531.8,499.1" stroke="#fb8a2a" stroke-width="1.1" stroke-dasharray="3,2" fill="none"/>
<path d="M480.3,417H483.3M480.3,416v2M483.3,416v2M481.8,415.5V418.5M480.8,415.5h2M480.8,418.5h2" stroke="#fb8a2a" stroke-width="0.75" fill="none"/><rect x="480.6" y="415.8" width="2.4" height="2.4" fill="#fff" fill-opacity=".5" stroke="#fb8a2a" stroke-width="0.75"/>
<path d="M480.3,409.1H483.3M480.3,408.1v2M483.3,408.1v2M481.8,407.6V410.6M480.8,407.6h2M480.8,410.6h2" stroke="#2a5ef0" stroke-width="0.75" fill="none"/><circle cx="481.8" cy="409.1" r="1.3" fill="#fff" fill-opacity=".5" stroke="#2a5ef0" stroke-width="0.75"/>
<path d="M497.1,434.4H501.1M497.1,433.4v2M501.1,433.4v2M499.1,430.4V438.4M498.1,430.4h2M498.1,438.4h2" stroke="#fb8a2a" stroke-width="0.75" fill="none"/><rect x="497.9" y="433.2" width="2.4" height="2.4" fill="#fff" fill-opacity=".5" stroke="#fb8a2a" stroke-width="0.75"/>
<path d="M496.6,426.5H501.6M496.6,425.5v2M501.6,425.5v2M499.1,424.5V428.5M498.1,424.5h2M498.1,428.5h2" stroke="#2a5ef0" stroke-width="0.75" fill="none"/><circle cx="499.1" cy="426.5" r="1.3" fill="#fff" fill-opacity=".5" stroke="#2a5ef0" stroke-width="0.75"/>
<path d="M512.6,473.7H519.6M512.6,472.7v2M519.6,472.7v2M516.1,469.7V477.7M515.1,469.7h2M515.1,477.7h2" stroke="#fb8a2a" stroke-width="0.75" fill="none"/><rect x="514.9" y="472.5" width="2.4" height="2.4" fill="#fff" fill-opacity=".5" stroke="#fb8a2a" stroke-width="0.75"/>
<path d="M514.1,436.4H518.1M514.1,435.4v2M518.1,435.4v2M516.1,434.9V437.9M515.1,434.9h2M515.1,437.9h2" stroke="#2a5ef0" stroke-width="0.75" fill="none"/><rect x="514.9" y="435.2" width="2.4" height="2.4" fill="#fff" fill-opacity=".5" stroke="#2a5ef0" stroke-width="0.75"/>
</g>
<path d="M475.5,382.5v2.5M475.5,523v-2.5M490.5,382.5v2.5M490.5,523v-2.5M505.5,382.5v2.5M505.5,523v-2.5M520.5,382.5v2.5M520.5,523v-2.5M470.3,386.6h2.5M528.8,386.6h-2.5M470.3,410.4h2.5M528.8,410.4h-2.5M470.3,434.2h2.5M528.8,434.2h-2.5M470.3,457.9h2.5M528.8,457.9h-2.5M470.3,481.7h2.5M528.8,481.7h-2.5M470.3,505.5h2.5M528.8,505.5h-2.5" stroke="#333" stroke-width="0.8" fill="none"/>
<rect x="470.3" y="382.5" width="58.5" height="140.5" fill="none" stroke="#3a3a3a" stroke-width="1"/>
<text x="499.6" y="228.9" font-size="12" text-anchor="middle" fill="#8c2be6" stroke="#8c2be6">α=0.9019</text>
<text x="475.5" y="534" font-size="12.3" text-anchor="middle" fill="#1e1e1e" stroke="#1e1e1e">3</text>
<text x="490.5" y="534" font-size="12.3" text-anchor="middle" fill="#1e1e1e" stroke="#1e1e1e">4</text>
<text x="505.5" y="534" font-size="12.3" text-anchor="middle" fill="#1e1e1e" stroke="#1e1e1e">5</text>
<text x="520.5" y="534" font-size="12.3" text-anchor="middle" fill="#1e1e1e" stroke="#1e1e1e">6</text>
<g clip-path="url(#cd8)">
<rect x="531" y="231.5" width="58.5" height="141" fill="#fff"/>
<rect x="552.6" y="231.5" width="6.4" height="141" fill="#e5dbef"/>
<path d="M541,231.5V372.5M557.9,231.5V372.5M574.8,231.5V372.5M531,361.8H589.5M531,346.7H589.5M531,331.5H589.5M531,316.4H589.5M531,301.3H589.5M531,286.2H589.5M531,271.1H589.5M531,255.9H589.5M531,240.8H589.5" stroke="#000" stroke-opacity="0.13" stroke-width="0.8" fill="none"/>
<path d="M552.6,231.5V372.5" stroke="#b070f0" stroke-width="0.9" stroke-dasharray="3,2" fill="none"/>
<path d="M531,301.3H589.5" stroke="#2a5ef0" stroke-width="1.1" fill="none"/>
<path d="M527.6,234.6 L529.1,235.5 L530.6,236.4 L532.1,237.3 L533.6,238.3 L535.1,239.4 L536.6,240.5 L538.1,241.7 L539.6,243 L541.1,244.4 L542.6,245.9 L544.1,247.5 L545.6,249.3 L547,251.3 L548.5,253.4 L550,255.8 L551.5,258.5 L553,261.7 L554.5,265.4 L556,270.2 L557.5,276.9 L559,301.3" stroke="#3cc84a" stroke-width="1.1" fill="none"/>
<path d="M559,301.3 L559,296.5 L560.6,288.7 L562.3,286.5 L563.9,285 L565.5,284 L567.1,283.1 L568.7,282.4 L570.3,281.8 L571.9,281.3 L573.5,280.8 L575.2,280.4 L576.8,280.1 L578.4,279.8 L580,279.5 L581.6,279.2 L583.2,279 L584.8,278.7 L586.4,278.5 L588,278.3 L589.7,278.2 L591.3,278 L592.9,277.8" stroke="#3cc84a" stroke-width="1.1" fill="none"/>
<path d="M527.6,368 L529.1,367.1 L530.6,366.2 L532.1,365.3 L533.6,364.3 L535.1,363.2 L536.6,362.1 L538.1,360.9 L539.6,359.6 L541.1,358.2 L542.6,356.7 L544.1,355.1 L545.6,353.3 L547,351.3 L548.5,349.2 L550,346.8 L551.5,344.1 L553,340.9 L554.5,337.2 L556,332.4 L557.5,325.7 L559,301.3" stroke="#fb8a2a" stroke-width="1.1" fill="none"/>
<path d="M559,301.3 L559,306.1 L560.6,313.9 L562.3,316.1 L563.9,317.6 L565.5,318.6 L567.1,319.5 L568.7,320.2 L570.3,320.8 L571.9,321.3 L573.5,321.8 L575.2,322.2 L576.8,322.5 L578.4,322.8 L580,323.1 L581.6,323.4 L583.2,323.6 L584.8,323.9 L586.4,324.1 L588,324.3 L589.7,324.4 L591.3,324.6 L592.9,324.8" stroke="#fb8a2a" stroke-width="1.1" fill="none"/>
<path d="M541,245.9H544M541,244.9v2M544,244.9v2M542.5,243.9V247.9M541.5,243.9h2M541.5,247.9h2" stroke="#3cc84a" stroke-width="0.75" fill="none"/><rect x="541.3" y="244.7" width="2.4" height="2.4" fill="#fff" fill-opacity=".5" stroke="#3cc84a" stroke-width="0.75"/>
<path d="M541,356.7H544M541,355.7v2M544,355.7v2M542.5,354.7V358.7M541.5,354.7h2M541.5,358.7h2" stroke="#fb8a2a" stroke-width="0.75" fill="none"/><rect x="541.3" y="355.5" width="2.4" height="2.4" fill="#fff" fill-opacity=".5" stroke="#fb8a2a" stroke-width="0.75"/>
<path d="M541,301.3H544M541,300.3v2M544,300.3v2" stroke="#2a5ef0" stroke-width="0.75" fill="none"/><circle cx="542.5" cy="301.3" r="1.3" fill="#fff" fill-opacity=".5" stroke="#2a5ef0" stroke-width="0.75"/>
<path d="M573,280.3H579M573,279.3v2M579,279.3v2" stroke="#3cc84a" stroke-width="0.75" fill="none"/><rect x="574.8" y="279.1" width="2.4" height="2.4" fill="#fff" fill-opacity=".5" stroke="#3cc84a" stroke-width="0.75"/>
<path d="M573,322.3H579M573,321.3v2M579,321.3v2" stroke="#fb8a2a" stroke-width="0.75" fill="none"/><rect x="574.8" y="321.1" width="2.4" height="2.4" fill="#fff" fill-opacity=".5" stroke="#fb8a2a" stroke-width="0.75"/>
<path d="M573,301.3H579M573,300.3v2M579,300.3v2" stroke="#2a5ef0" stroke-width="0.75" fill="none"/><circle cx="576" cy="301.3" r="1.3" fill="#fff" fill-opacity=".5" stroke="#2a5ef0" stroke-width="0.75"/>
<path d="M557,301.3H561M557,300.3v2M561,300.3v2" stroke="#2a5ef0" stroke-width="0.75" fill="none"/><circle cx="559" cy="301.3" r="1.3" fill="#fff" fill-opacity=".5" stroke="#2a5ef0" stroke-width="0.75"/>
<path d="M558.1,281.6H561.1M558.1,280.6v2M561.1,280.6v2M559.6,275.6V287.6M558.6,275.6h2M558.6,287.6h2" stroke="#3cc84a" stroke-width="0.75" fill="none"/><rect x="558.4" y="280.4" width="2.4" height="2.4" fill="#fff" fill-opacity=".5" stroke="#3cc84a" stroke-width="0.75"/>
<path d="M558.1,313.4H561.1M558.1,312.4v2M561.1,312.4v2M559.6,307.4V319.4M558.6,307.4h2M558.6,319.4h2" stroke="#fb8a2a" stroke-width="0.75" fill="none"/><rect x="558.4" y="312.2" width="2.4" height="2.4" fill="#fff" fill-opacity=".5" stroke="#fb8a2a" stroke-width="0.75"/>
</g>
<path d="M541,231.5v2.5M541,372.5v-2.5M557.9,231.5v2.5M557.9,372.5v-2.5M574.8,231.5v2.5M574.8,372.5v-2.5M531,361.8h2.5M589.5,361.8h-2.5M531,346.7h2.5M589.5,346.7h-2.5M531,331.5h2.5M589.5,331.5h-2.5M531,316.4h2.5M589.5,316.4h-2.5M531,301.3h2.5M589.5,301.3h-2.5M531,286.2h2.5M589.5,286.2h-2.5M531,271.1h2.5M589.5,271.1h-2.5M531,255.9h2.5M589.5,255.9h-2.5M531,240.8h2.5M589.5,240.8h-2.5" stroke="#333" stroke-width="0.8" fill="none"/>
<rect x="531" y="231.5" width="58.5" height="141" fill="none" stroke="#3a3a3a" stroke-width="1"/>
<g clip-path="url(#ce8)">
<rect x="531" y="382.5" width="58.5" height="140.5" fill="#fff"/>
<rect x="552.6" y="382.5" width="6.4" height="140.5" fill="#e5dbef"/>
<path d="M541,382.5V523M557.9,382.5V523M574.8,382.5V523M531,386.6H589.5M531,410.4H589.5M531,434.2H589.5M531,457.9H589.5M531,481.7H589.5M531,505.5H589.5" stroke="#000" stroke-opacity="0.13" stroke-width="0.8" fill="none"/>
<path d="M552.6,382.5V523" stroke="#b070f0" stroke-width="0.9" stroke-dasharray="3,2" fill="none"/>
<path d="M527.6,399.6 L529.1,401 L530.6,402.3 L532.1,403.7 L533.6,405.1 L535.1,406.4 L536.6,407.8 L538.1,409.2 L539.6,410.5 L541.1,411.9 L542.6,413.3 L544.1,414.6 L545.6,416 L547,417.4 L548.5,418.7 L550,420.1 L551.5,421.5 L553,422.9 L554.5,424.2 L556,425.6 L557.5,427 L559,428.3" stroke="#fb8a2a" stroke-width="1.1" fill="none"/>
<path d="M527.6,399.6 L529.1,401 L530.6,402.3 L532.1,403.7 L533.6,405.1 L535.1,406.4 L536.6,407.8 L538.1,409.2 L539.6,410.5 L541.1,411.9 L542.6,413.3 L544.1,414.6 L545.6,416 L547,417.4 L548.5,418.7 L550,420.1 L551.5,421.5 L553,422.9 L554.5,424.2 L556,425.6 L557.5,427 L559,428.3" stroke="#3cc84a" stroke-width="1.1" stroke-dasharray="3,3" fill="none"/>
<path d="M527.6,391.7 L529.1,393.1 L530.6,394.5 L532.1,395.9 L533.6,397.2 L535.1,398.6 L536.6,400 L538.1,401.3 L539.6,402.7 L541.1,404.1 L542.6,405.4 L544.1,406.8 L545.6,408.2 L547,409.5 L548.5,410.9 L550,412.3 L551.5,413.6 L553,415 L554.5,416.4 L556,417.7 L557.5,419.1 L559,420.5" stroke="#2a5ef0" stroke-width="1.1" stroke-dasharray="3,2" fill="none"/>
<path d="M559,420.5 L559,425.2 L560.6,423.3 L562.3,423.3 L563.9,423.5 L565.5,424 L567.1,424.5 L568.7,425.2 L570.3,425.9 L571.9,426.7 L573.5,427.5 L575.2,428.4 L576.8,429.3 L578.4,430.2 L580,431.1 L581.6,432.1 L583.2,433 L584.8,434 L586.4,435 L588,436.1 L589.7,437.1 L591.3,438.1 L592.9,439.2" stroke="#3cc84a" stroke-width="1.1" fill="none"/>
<path d="M559,420.5 L559,425.2 L560.6,423.3 L562.3,423.3 L563.9,423.5 L565.5,424 L567.1,424.5 L568.7,425.2 L570.3,425.9 L571.9,426.7 L573.5,427.5 L575.2,428.4 L576.8,429.3 L578.4,430.2 L580,431.1 L581.6,432.1 L583.2,433 L584.8,434 L586.4,435 L588,436.1 L589.7,437.1 L591.3,438.1 L592.9,439.2" stroke="#2a5ef0" stroke-width="1.1" stroke-dasharray="3,3" fill="none"/>
<path d="M559,428.3 L559,426.9 L560.6,434.9 L562.3,439.6 L563.9,443.5 L565.5,447 L567.1,450.3 L568.7,453.4 L570.3,456.3 L571.9,459.2 L573.5,462 L575.2,464.7 L576.8,467.4 L578.4,470 L580,472.5 L581.6,475 L583.2,477.5 L584.8,480 L586.4,482.4 L588,484.8 L589.7,487.1 L591.3,489.5 L592.9,491.8" stroke="#fb8a2a" stroke-width="1.1" stroke-dasharray="3,2" fill="none"/>
<path d="M541,413.2H544M541,412.2v2M544,412.2v2M542.5,411.7V414.7M541.5,411.7h2M541.5,414.7h2" stroke="#fb8a2a" stroke-width="0.75" fill="none"/><rect x="541.3" y="412" width="2.4" height="2.4" fill="#fff" fill-opacity=".5" stroke="#fb8a2a" stroke-width="0.75"/>
<path d="M541,405.4H544M541,404.4v2M544,404.4v2M542.5,403.9V406.9M541.5,403.9h2M541.5,406.9h2" stroke="#2a5ef0" stroke-width="0.75" fill="none"/><circle cx="542.5" cy="405.4" r="1.3" fill="#fff" fill-opacity=".5" stroke="#2a5ef0" stroke-width="0.75"/>
<path d="M557,428.3H561M557,427.3v2M561,427.3v2M559,424.3V432.3M558,424.3h2M558,432.3h2" stroke="#fb8a2a" stroke-width="0.75" fill="none"/><rect x="557.8" y="427.1" width="2.4" height="2.4" fill="#fff" fill-opacity=".5" stroke="#fb8a2a" stroke-width="0.75"/>
<path d="M556.5,420.5H561.5M556.5,419.5v2M561.5,419.5v2M559,418.5V422.5M558,418.5h2M558,422.5h2" stroke="#2a5ef0" stroke-width="0.75" fill="none"/><circle cx="559" cy="420.5" r="1.3" fill="#fff" fill-opacity=".5" stroke="#2a5ef0" stroke-width="0.75"/>
<path d="M572.5,466.1H579.5M572.5,465.1v2M579.5,465.1v2M576,462.1V470.1M575,462.1h2M575,470.1h2" stroke="#fb8a2a" stroke-width="0.75" fill="none"/><rect x="574.8" y="464.9" width="2.4" height="2.4" fill="#fff" fill-opacity=".5" stroke="#fb8a2a" stroke-width="0.75"/>
<path d="M574,428.8H578M574,427.8v2M578,427.8v2M576,427.3V430.3M575,427.3h2M575,430.3h2" stroke="#2a5ef0" stroke-width="0.75" fill="none"/><rect x="574.8" y="427.6" width="2.4" height="2.4" fill="#fff" fill-opacity=".5" stroke="#2a5ef0" stroke-width="0.75"/>
</g>
<path d="M541,382.5v2.5M541,523v-2.5M557.9,382.5v2.5M557.9,523v-2.5M574.8,382.5v2.5M574.8,523v-2.5M531,386.6h2.5M589.5,386.6h-2.5M531,410.4h2.5M589.5,410.4h-2.5M531,434.2h2.5M589.5,434.2h-2.5M531,457.9h2.5M589.5,457.9h-2.5M531,481.7h2.5M589.5,481.7h-2.5M531,505.5h2.5M589.5,505.5h-2.5" stroke="#333" stroke-width="0.8" fill="none"/>
<rect x="531" y="382.5" width="58.5" height="140.5" fill="none" stroke="#3a3a3a" stroke-width="1"/>
<text x="560.2" y="228.9" font-size="12" text-anchor="middle" fill="#8c2be6" stroke="#8c2be6">α=0.9516</text>
<text x="541" y="534" font-size="12.3" text-anchor="middle" fill="#1e1e1e" stroke="#1e1e1e">3</text>
<text x="557.9" y="534" font-size="12.3" text-anchor="middle" fill="#1e1e1e" stroke="#1e1e1e">4</text>
<text x="574.8" y="534" font-size="12.3" text-anchor="middle" fill="#1e1e1e" stroke="#1e1e1e">5</text>
<g clip-path="url(#cd9)">
<rect x="591.7" y="231.5" width="58.5" height="141" fill="#fff"/>
<path d="M606.7,231.5V372.5M625.9,231.5V372.5M645,231.5V372.5M591.7,361.8H650.2M591.7,346.7H650.2M591.7,331.5H650.2M591.7,316.4H650.2M591.7,301.3H650.2M591.7,286.2H650.2M591.7,271.1H650.2M591.7,255.9H650.2M591.7,240.8H650.2" stroke="#000" stroke-opacity="0.13" stroke-width="0.8" fill="none"/>
<path d="M619.7,231.5V372.5" stroke="#b070f0" stroke-width="0.9" stroke-dasharray="3,2" fill="none"/>
<path d="M591.7,301.3H650.2" stroke="#2a5ef0" stroke-width="1.1" fill="none"/>
<path d="M587.9,234.9 L589.4,235.7 L590.9,236.6 L592.4,237.5 L593.9,238.5 L595.4,239.6 L596.9,240.7 L598.4,241.9 L600,243.2 L601.5,244.6 L603,246.1 L604.5,247.8 L606,249.5 L607.5,251.5 L609,253.6 L610.5,256 L612,258.7 L613.6,261.8 L615.1,265.6 L616.6,270.3 L618.1,277 L619.6,301.3" stroke="#3cc84a" stroke-width="1.1" fill="none"/>
<path d="M619.6,301.3 L619.6,296.5 L621.3,288.7 L622.9,286.5 L624.5,285 L626.2,284 L627.8,283.1 L629.5,282.4 L631.1,281.8 L632.7,281.3 L634.4,280.9 L636,280.5 L637.7,280.1 L639.3,279.8 L640.9,279.5 L642.6,279.2 L644.2,279 L645.8,278.8 L647.5,278.6 L649.1,278.4 L650.8,278.2 L652.4,278 L654,277.9" stroke="#3cc84a" stroke-width="1.1" fill="none"/>
<path d="M587.9,367.7 L589.4,366.9 L590.9,366 L592.4,365.1 L593.9,364.1 L595.4,363 L596.9,361.9 L598.4,360.7 L600,359.4 L601.5,358 L603,356.5 L604.5,354.8 L606,353.1 L607.5,351.1 L609,349 L610.5,346.6 L612,343.9 L613.6,340.8 L615.1,337 L616.6,332.3 L618.1,325.6 L619.6,301.3" stroke="#fb8a2a" stroke-width="1.1" fill="none"/>
<path d="M619.6,301.3 L619.6,306.1 L621.3,313.9 L622.9,316.1 L624.5,317.6 L626.2,318.6 L627.8,319.5 L629.5,320.2 L631.1,320.8 L632.7,321.3 L634.4,321.7 L636,322.1 L637.7,322.5 L639.3,322.8 L640.9,323.1 L642.6,323.4 L644.2,323.6 L645.8,323.8 L647.5,324 L649.1,324.2 L650.8,324.4 L652.4,324.6 L654,324.7" stroke="#fb8a2a" stroke-width="1.1" fill="none"/>
<rect x="602" y="245.2" width="2.4" height="2.4" fill="#fff" fill-opacity=".5" stroke="#3cc84a" stroke-width="0.75"/>
<rect x="602" y="355" width="2.4" height="2.4" fill="#fff" fill-opacity=".5" stroke="#fb8a2a" stroke-width="0.75"/>
<path d="M601.7,301.3H604.7M601.7,300.3v2M604.7,300.3v2" stroke="#2a5ef0" stroke-width="0.75" fill="none"/><circle cx="603.2" cy="301.3" r="1.3" fill="#fff" fill-opacity=".5" stroke="#2a5ef0" stroke-width="0.75"/>
<path d="M633.6,280.3H639.6M633.6,279.3v2M639.6,279.3v2" stroke="#3cc84a" stroke-width="0.75" fill="none"/><rect x="635.4" y="279.1" width="2.4" height="2.4" fill="#fff" fill-opacity=".5" stroke="#3cc84a" stroke-width="0.75"/>
<path d="M633.6,322.3H639.6M633.6,321.3v2M639.6,321.3v2" stroke="#fb8a2a" stroke-width="0.75" fill="none"/><rect x="635.4" y="321.1" width="2.4" height="2.4" fill="#fff" fill-opacity=".5" stroke="#fb8a2a" stroke-width="0.75"/>
<path d="M633.6,301.3H639.6M633.6,300.3v2M639.6,300.3v2" stroke="#2a5ef0" stroke-width="0.75" fill="none"/><circle cx="636.6" cy="301.3" r="1.3" fill="#fff" fill-opacity=".5" stroke="#2a5ef0" stroke-width="0.75"/>
<path d="M617.6,301.3H621.6M617.6,300.3v2M621.6,300.3v2" stroke="#2a5ef0" stroke-width="0.75" fill="none"/><circle cx="619.6" cy="301.3" r="1.3" fill="#fff" fill-opacity=".5" stroke="#2a5ef0" stroke-width="0.75"/>
<path d="M618.7,289.2H621.7M618.7,288.2v2M621.7,288.2v2M620.2,283.2V295.2M619.2,283.2h2M619.2,295.2h2" stroke="#3cc84a" stroke-width="0.75" fill="none"/><rect x="619" y="288" width="2.4" height="2.4" fill="#fff" fill-opacity=".5" stroke="#3cc84a" stroke-width="0.75"/>
<path d="M618.7,317.2H621.7M618.7,316.2v2M621.7,316.2v2M620.2,311.2V323.2M619.2,311.2h2M619.2,323.2h2" stroke="#fb8a2a" stroke-width="0.75" fill="none"/><rect x="619" y="316" width="2.4" height="2.4" fill="#fff" fill-opacity=".5" stroke="#fb8a2a" stroke-width="0.75"/>
</g>
<path d="M606.7,231.5v2.5M606.7,372.5v-2.5M625.9,231.5v2.5M625.9,372.5v-2.5M645,231.5v2.5M645,372.5v-2.5M591.7,361.8h2.5M650.2,361.8h-2.5M591.7,346.7h2.5M650.2,346.7h-2.5M591.7,331.5h2.5M650.2,331.5h-2.5M591.7,316.4h2.5M650.2,316.4h-2.5M591.7,301.3h2.5M650.2,301.3h-2.5M591.7,286.2h2.5M650.2,286.2h-2.5M591.7,271.1h2.5M650.2,271.1h-2.5M591.7,255.9h2.5M650.2,255.9h-2.5M591.7,240.8h2.5M650.2,240.8h-2.5" stroke="#333" stroke-width="0.8" fill="none"/>
<rect x="591.7" y="231.5" width="58.5" height="141" fill="none" stroke="#3a3a3a" stroke-width="1"/>
<g clip-path="url(#ce9)">
<rect x="591.7" y="382.5" width="58.5" height="140.5" fill="#fff"/>
<path d="M606.7,382.5V523M625.9,382.5V523M645,382.5V523M591.7,386.6H650.2M591.7,410.4H650.2M591.7,434.2H650.2M591.7,457.9H650.2M591.7,481.7H650.2M591.7,505.5H650.2" stroke="#000" stroke-opacity="0.13" stroke-width="0.8" fill="none"/>
<path d="M619.7,382.5V523" stroke="#b070f0" stroke-width="0.9" stroke-dasharray="3,2" fill="none"/>
<path d="M587.9,397.3 L589.4,398.5 L590.9,399.8 L592.4,401 L593.9,402.3 L595.4,403.5 L596.9,404.8 L598.4,406 L600,407.3 L601.5,408.5 L603,409.8 L604.5,411 L606,412.3 L607.5,413.5 L609,414.7 L610.5,416 L612,417.2 L613.6,418.5 L615.1,419.7 L616.6,421 L618.1,422.2 L619.6,423.5" stroke="#fb8a2a" stroke-width="1.1" fill="none"/>
<path d="M587.9,397.3 L589.4,398.5 L590.9,399.8 L592.4,401 L593.9,402.3 L595.4,403.5 L596.9,404.8 L598.4,406 L600,407.3 L601.5,408.5 L603,409.8 L604.5,411 L606,412.3 L607.5,413.5 L609,414.7 L610.5,416 L612,417.2 L613.6,418.5 L615.1,419.7 L616.6,421 L618.1,422.2 L619.6,423.5" stroke="#3cc84a" stroke-width="1.1" stroke-dasharray="3,3" fill="none"/>
<path d="M587.9,389.4 L589.4,390.7 L590.9,391.9 L592.4,393.2 L593.9,394.4 L595.4,395.7 L596.9,396.9 L598.4,398.2 L600,399.4 L601.5,400.7 L603,401.9 L604.5,403.2 L606,404.4 L607.5,405.7 L609,406.9 L610.5,408.1 L612,409.4 L613.6,410.6 L615.1,411.9 L616.6,413.1 L618.1,414.4 L619.6,415.6" stroke="#2a5ef0" stroke-width="1.1" stroke-dasharray="3,2" fill="none"/>
<path d="M619.6,415.6 L619.6,420.3 L621.3,418.4 L622.9,418.2 L624.5,418.3 L626.2,418.6 L627.8,419.1 L629.5,419.6 L631.1,420.2 L632.7,420.9 L634.4,421.6 L636,422.3 L637.7,423.1 L639.3,423.9 L640.9,424.7 L642.6,425.5 L644.2,426.4 L645.8,427.3 L647.5,428.1 L649.1,429 L650.8,429.9 L652.4,430.9 L654,431.8" stroke="#3cc84a" stroke-width="1.1" fill="none"/>
<path d="M619.6,415.6 L619.6,420.3 L621.3,418.4 L622.9,418.2 L624.5,418.3 L626.2,418.6 L627.8,419.1 L629.5,419.6 L631.1,420.2 L632.7,420.9 L634.4,421.6 L636,422.3 L637.7,423.1 L639.3,423.9 L640.9,424.7 L642.6,425.5 L644.2,426.4 L645.8,427.3 L647.5,428.1 L649.1,429 L650.8,429.9 L652.4,430.9 L654,431.8" stroke="#2a5ef0" stroke-width="1.1" stroke-dasharray="3,3" fill="none"/>
<path d="M619.6,423.5 L619.6,422 L621.3,429.9 L622.9,434.4 L624.5,438.2 L626.2,441.6 L627.8,444.7 L629.5,447.7 L631.1,450.5 L632.7,453.3 L634.4,455.9 L636,458.5 L637.7,461 L639.3,463.5 L640.9,465.9 L642.6,468.3 L644.2,470.7 L645.8,473 L647.5,475.3 L649.1,477.6 L650.8,479.8 L652.4,482 L654,484.2" stroke="#fb8a2a" stroke-width="1.1" stroke-dasharray="3,2" fill="none"/>
<rect x="602" y="408.7" width="2.4" height="2.4" fill="#fff" fill-opacity=".5" stroke="#fb8a2a" stroke-width="0.75"/>
<circle cx="603.2" cy="402.1" r="1.3" fill="#fff" fill-opacity=".5" stroke="#2a5ef0" stroke-width="0.75"/>
<path d="M617.6,423.5H621.6M617.6,422.5v2M621.6,422.5v2M619.6,419.5V427.5M618.6,419.5h2M618.6,427.5h2" stroke="#fb8a2a" stroke-width="0.75" fill="none"/><rect x="618.4" y="422.3" width="2.4" height="2.4" fill="#fff" fill-opacity=".5" stroke="#fb8a2a" stroke-width="0.75"/>
<path d="M617.1,415.6H622.1M617.1,414.6v2M622.1,414.6v2M619.6,413.6V417.6M618.6,413.6h2M618.6,417.6h2" stroke="#2a5ef0" stroke-width="0.75" fill="none"/><circle cx="619.6" cy="415.6" r="1.3" fill="#fff" fill-opacity=".5" stroke="#2a5ef0" stroke-width="0.75"/>
<path d="M633.1,459.4H640.1M633.1,458.4v2M640.1,458.4v2M636.6,455.4V463.4M635.6,455.4h2M635.6,463.4h2" stroke="#fb8a2a" stroke-width="0.75" fill="none"/><rect x="635.4" y="458.2" width="2.4" height="2.4" fill="#fff" fill-opacity=".5" stroke="#fb8a2a" stroke-width="0.75"/>
<path d="M634.6,422.6H638.6M634.6,421.6v2M638.6,421.6v2M636.6,421.1V424.1M635.6,421.1h2M635.6,424.1h2" stroke="#2a5ef0" stroke-width="0.75" fill="none"/><rect x="635.4" y="421.4" width="2.4" height="2.4" fill="#fff" fill-opacity=".5" stroke="#2a5ef0" stroke-width="0.75"/>
</g>
<path d="M606.7,382.5v2.5M606.7,523v-2.5M625.9,382.5v2.5M625.9,523v-2.5M645,382.5v2.5M645,523v-2.5M591.7,386.6h2.5M650.2,386.6h-2.5M591.7,410.4h2.5M650.2,410.4h-2.5M591.7,434.2h2.5M650.2,434.2h-2.5M591.7,457.9h2.5M650.2,457.9h-2.5M591.7,481.7h2.5M650.2,481.7h-2.5M591.7,505.5h2.5M650.2,505.5h-2.5" stroke="#333" stroke-width="0.8" fill="none"/>
<rect x="591.7" y="382.5" width="58.5" height="140.5" fill="none" stroke="#3a3a3a" stroke-width="1"/>
<text x="621" y="228.9" font-size="12" text-anchor="middle" fill="#8c2be6" stroke="#8c2be6">α=0.9930</text>
<text x="606.7" y="534" font-size="12.3" text-anchor="middle" fill="#1e1e1e" stroke="#1e1e1e">3</text>
<text x="625.9" y="534" font-size="12.3" text-anchor="middle" fill="#1e1e1e" stroke="#1e1e1e">4</text>
<text x="645" y="534" font-size="12.3" text-anchor="middle" fill="#1e1e1e" stroke="#1e1e1e">5</text>
<text x="34.5" y="366.2" font-size="12.3" text-anchor="end" fill="#ec1c2a" stroke="#ec1c2a">-0.8</text>
<text x="653.5" y="366.2" font-size="12.3" text-anchor="start" fill="#8c2be6" stroke="#8c2be6">-0.8</text>
<text x="34.5" y="351.1" font-size="12.3" text-anchor="end" fill="#ec1c2a" stroke="#ec1c2a">-0.6</text>
<text x="653.5" y="351.1" font-size="12.3" text-anchor="start" fill="#8c2be6" stroke="#8c2be6">-0.6</text>
<text x="34.5" y="335.9" font-size="12.3" text-anchor="end" fill="#ec1c2a" stroke="#ec1c2a">-0.4</text>
<text x="653.5" y="335.9" font-size="12.3" text-anchor="start" fill="#8c2be6" stroke="#8c2be6">-0.4</text>
<text x="34.5" y="320.8" font-size="12.3" text-anchor="end" fill="#ec1c2a" stroke="#ec1c2a">-0.2</text>
<text x="653.5" y="320.8" font-size="12.3" text-anchor="start" fill="#8c2be6" stroke="#8c2be6">-0.2</text>
<text x="34.5" y="305.7" font-size="12.3" text-anchor="end" fill="#ec1c2a" stroke="#ec1c2a">0</text>
<text x="653.5" y="305.7" font-size="12.3" text-anchor="start" fill="#8c2be6" stroke="#8c2be6">0</text>
<text x="34.5" y="290.6" font-size="12.3" text-anchor="end" fill="#ec1c2a" stroke="#ec1c2a">0.2</text>
<text x="653.5" y="290.6" font-size="12.3" text-anchor="start" fill="#8c2be6" stroke="#8c2be6">0.2</text>
<text x="34.5" y="275.5" font-size="12.3" text-anchor="end" fill="#ec1c2a" stroke="#ec1c2a">0.4</text>
<text x="653.5" y="275.5" font-size="12.3" text-anchor="start" fill="#8c2be6" stroke="#8c2be6">0.4</text>
<text x="34.5" y="260.3" font-size="12.3" text-anchor="end" fill="#ec1c2a" stroke="#ec1c2a">0.6</text>
<text x="653.5" y="260.3" font-size="12.3" text-anchor="start" fill="#8c2be6" stroke="#8c2be6">0.6</text>
<text x="34.5" y="245.2" font-size="12.3" text-anchor="end" fill="#ec1c2a" stroke="#ec1c2a">0.8</text>
<text x="653.5" y="245.2" font-size="12.3" text-anchor="start" fill="#8c2be6" stroke="#8c2be6">0.8</text>
<text x="34.5" y="393.6" font-size="12.3" text-anchor="end" fill="#ec1c2a" stroke="#ec1c2a">-0.5</text>
<text x="34.5" y="411.7" font-size="12.3" text-anchor="end" fill="#ec1c2a" stroke="#ec1c2a">-1.0</text>
<text x="34.5" y="429.7" font-size="12.3" text-anchor="end" fill="#ec1c2a" stroke="#ec1c2a">-1.5</text>
<text x="34.5" y="447.8" font-size="12.3" text-anchor="end" fill="#ec1c2a" stroke="#ec1c2a">-2.0</text>
<text x="34.5" y="465.8" font-size="12.3" text-anchor="end" fill="#ec1c2a" stroke="#ec1c2a">-2.5</text>
<text x="34.5" y="483.9" font-size="12.3" text-anchor="end" fill="#ec1c2a" stroke="#ec1c2a">-3.0</text>
<text x="34.5" y="502" font-size="12.3" text-anchor="end" fill="#ec1c2a" stroke="#ec1c2a">-3.5</text>
<text x="34.5" y="520" font-size="12.3" text-anchor="end" fill="#ec1c2a" stroke="#ec1c2a">-4.0</text>
<text x="653.5" y="391" font-size="12.3" text-anchor="start" fill="#8c2be6" stroke="#8c2be6">-1</text>
<text x="653.5" y="414.8" font-size="12.3" text-anchor="start" fill="#8c2be6" stroke="#8c2be6">-2</text>
<text x="653.5" y="438.6" font-size="12.3" text-anchor="start" fill="#8c2be6" stroke="#8c2be6">-3</text>
<text x="653.5" y="462.3" font-size="12.3" text-anchor="start" fill="#8c2be6" stroke="#8c2be6">-4</text>
<text x="653.5" y="486.1" font-size="12.3" text-anchor="start" fill="#8c2be6" stroke="#8c2be6">-5</text>
<text x="653.5" y="509.9" font-size="12.3" text-anchor="start" fill="#8c2be6" stroke="#8c2be6">-6</text>
<text x="5.7" y="305.9" font-size="12.5" text-anchor="middle" fill="#ec1c2a" stroke="#ec1c2a" textLength="41.4" lengthAdjust="spacingAndGlyphs" transform="rotate(-90 5.7 301.4)">Re(E)/Ω</text>
<text x="5.8" y="455.4" font-size="12.5" text-anchor="middle" fill="#ec1c2a" stroke="#ec1c2a" textLength="41.7" lengthAdjust="spacingAndGlyphs" transform="rotate(-90 5.8 450.9)">Im(E)/Ω</text>
<text x="678" y="305.7" font-size="12.5" text-anchor="middle" fill="#8c2be6" stroke="#8c2be6" textLength="41" lengthAdjust="spacingAndGlyphs" transform="rotate(-90 678 301.2)">Re(E)/Ω</text>
<text x="678.5" y="455.7" font-size="12.5" text-anchor="middle" fill="#8c2be6" stroke="#8c2be6" textLength="41.6" lengthAdjust="spacingAndGlyphs" transform="rotate(-90 678.5 451.2)">Im(E)/Ω</text>
<text x="187.9" y="545.8" font-size="14.5" text-anchor="middle" fill="#1e1e1e" stroke="#1e1e1e" textLength="23.4" lengthAdjust="spacingAndGlyphs">γ/Ω</text>
<text x="499.4" y="545.8" font-size="14.5" text-anchor="middle" fill="#1e1e1e" stroke="#1e1e1e" textLength="23.4" lengthAdjust="spacingAndGlyphs">γ/Ω</text>
<text x="-1" y="226.4" font-size="15.5" text-anchor="start" fill="#1e1e1e" stroke="#1e1e1e">d</text>
<text x="-1" y="387.2" font-size="15.5" text-anchor="start" fill="#1e1e1e" stroke="#1e1e1e">e</text>

</svg></body></html>
